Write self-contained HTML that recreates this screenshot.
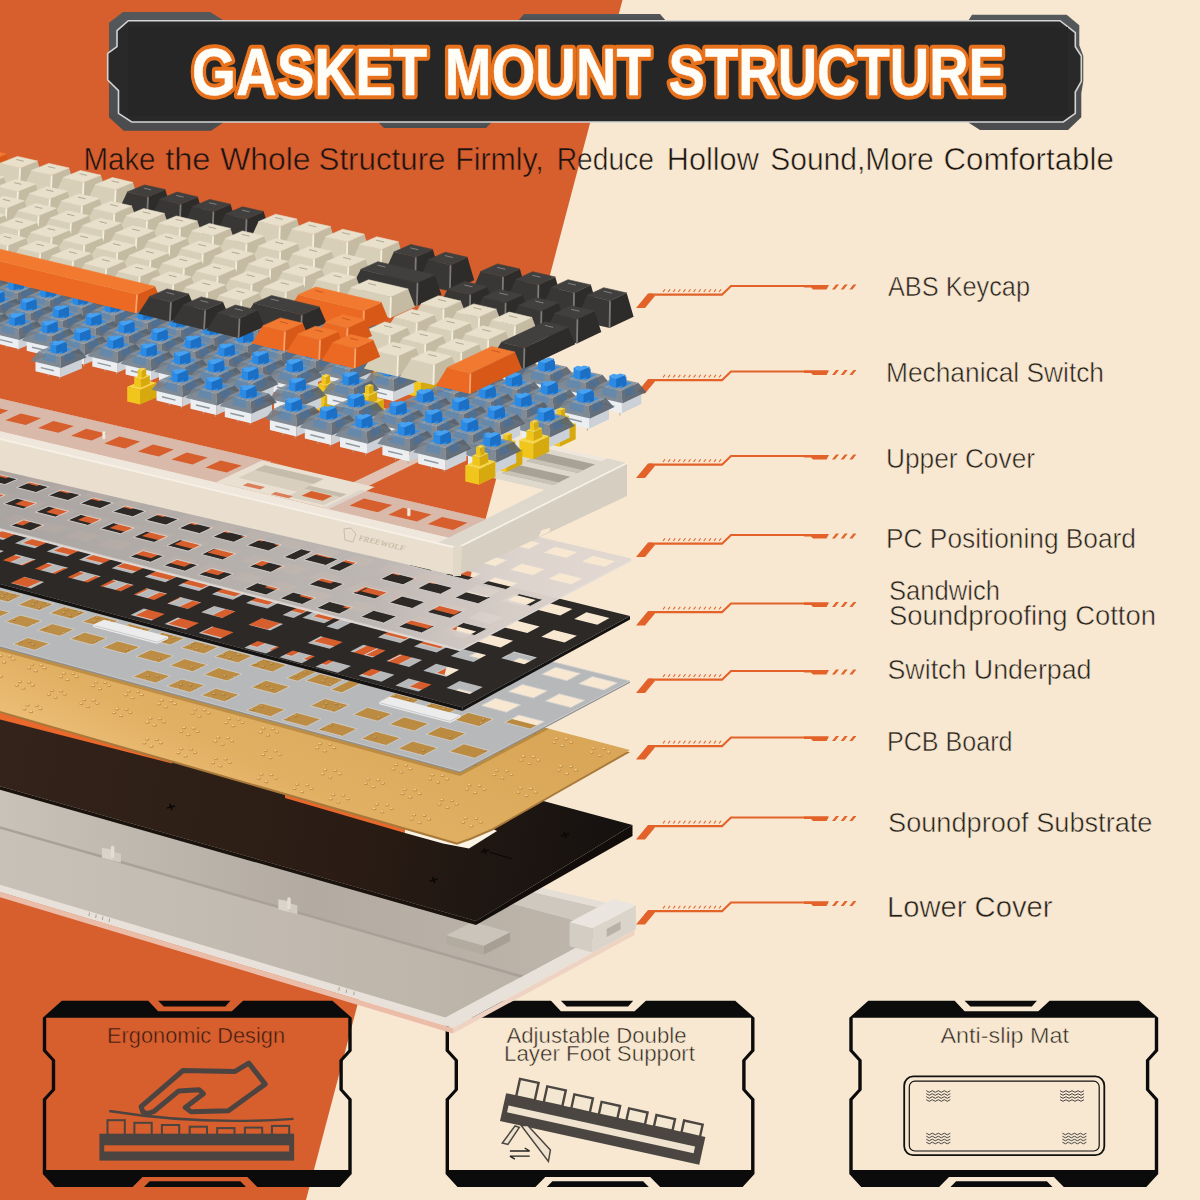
<!DOCTYPE html>
<html lang="en"><head><meta charset="utf-8"><title>Gasket Mount Structure</title>
<style>html,body{margin:0;padding:0;background:#F8E8D1;}body{width:1200px;height:1200px;overflow:hidden;}svg{display:block;}</style></head>
<body>
<svg width="1200" height="1200" viewBox="0 0 1200 1200">
<rect x="0" y="0" width="1200" height="1200" fill="#F8E8D1"/>
<polygon points="0,0 622.5,0 306,1200 0,1200" fill="#D75E2D"/>
<path d="M61.8 1000.8 L148.2 1000.8 L158.1 1011.2 L231.8 1011.2 L243.1 1000.8 L332.4 1000.8 L351.7 1017.8 L351.7 1051.0 L342.8 1060.8 L342.8 1089.2 L351.7 1099.0 L351.7 1174.0 L339.8 1187.0 L257.3 1187.0 L247.4 1177.0 L142.5 1177.0 L132.6 1187.0 L54.7 1187.0 L42.8 1174.0 L42.8 1099.0 L51.8 1089.2 L51.8 1060.8 L42.8 1051.0 L42.8 1017.8 Z M46.2 1017.8 L348.3 1017.8 L348.3 1050.0 L339.4 1060.0 L339.4 1090.0 L348.3 1100.0 L348.3 1170.0 L46.2 1170.0 L46.2 1100.0 L55.2 1090.0 L55.2 1060.0 L46.2 1050.0 Z" fill="#0b0b0b" fill-rule="evenodd"/>
<polygon fill="#0b0b0b" points="158.1,1000.8 230.4,1000.8 225.3,1006.4 163.8,1006.4"/>
<polygon fill="#0b0b0b" points="149.6,1181.3 240.3,1181.3 246.0,1187.0 144.0,1187.0"/>
<text x="107" y="1043" font-family="'Liberation Sans', sans-serif" font-size="22.5" textLength="178" lengthAdjust="spacingAndGlyphs" fill="#3a1d12" stroke="#D75E2D" stroke-width="0.5">Ergonomic Design</text>
<polygon fill="none" stroke="#4b4440" stroke-width="5" stroke-linejoin="round" points="248.8,1063.1 265.2,1084.1 228.4,1110.7 191.0,1111.8 185.3,1107.6 203.4,1093.7 198.9,1089.7 178.8,1090.9 154.1,1111.3 147.6,1113.5 142.8,1111.8 141.1,1106.7 183.0,1070.5 234.6,1071.6"/>
<path d="M109.3 1111.0 Q200.0 1125.4 293.5 1118.9" fill="none" stroke="#4b4440" stroke-width="2.4"/>
<rect x="99.4" y="1133.7" width="194.7" height="26.9" fill="#4b4440"/>
<rect x="104.2" y="1145.3" width="185.0" height="6.2" fill="#D75E2D"/>
<rect x="107.5" y="1120.2" width="17.3" height="15.9" fill="none" stroke="#4b4440" stroke-width="2"/>
<rect x="134.4" y="1122.8" width="17.3" height="13.3" fill="none" stroke="#4b4440" stroke-width="2"/>
<rect x="161.9" y="1125.0" width="17.3" height="11.1" fill="none" stroke="#4b4440" stroke-width="2"/>
<rect x="189.7" y="1126.7" width="17.3" height="9.4" fill="none" stroke="#4b4440" stroke-width="2"/>
<rect x="217.2" y="1128.1" width="17.3" height="7.9" fill="none" stroke="#4b4440" stroke-width="2"/>
<rect x="244.9" y="1127.6" width="17.3" height="8.5" fill="none" stroke="#4b4440" stroke-width="2"/>
<rect x="271.9" y="1125.9" width="17.3" height="10.2" fill="none" stroke="#4b4440" stroke-width="2"/>
<path d="M464.6 1000.8 L551.0 1000.8 L560.9 1011.2 L634.6 1011.2 L645.9 1000.8 L735.2 1000.8 L754.5 1017.8 L754.5 1051.0 L745.6 1060.8 L745.6 1089.2 L754.5 1099.0 L754.5 1174.0 L742.6 1187.0 L660.1 1187.0 L650.2 1177.0 L545.3 1177.0 L535.4 1187.0 L457.5 1187.0 L445.6 1174.0 L445.6 1099.0 L454.6 1089.2 L454.6 1060.8 L445.6 1051.0 L445.6 1017.8 Z M449.0 1017.8 L751.1 1017.8 L751.1 1050.0 L742.2 1060.0 L742.2 1090.0 L751.1 1100.0 L751.1 1170.0 L449.0 1170.0 L449.0 1100.0 L458.0 1090.0 L458.0 1060.0 L449.0 1050.0 Z" fill="#0b0b0b" fill-rule="evenodd"/>
<polygon fill="#0b0b0b" points="560.9,1000.8 633.2,1000.8 628.1,1006.4 566.6,1006.4"/>
<polygon fill="#0b0b0b" points="552.4,1181.3 643.1,1181.3 648.8,1187.0 546.8,1187.0"/>
<text x="506.5" y="1042.5" font-family="'Liberation Sans', sans-serif" font-size="22.5" textLength="180" lengthAdjust="spacingAndGlyphs" fill="#2a2421" stroke="#F8E8D1" stroke-width="0.5">Adjustable Double</text>
<text x="504" y="1061" font-family="'Liberation Sans', sans-serif" font-size="22.5" textLength="191" lengthAdjust="spacingAndGlyphs" fill="#2a2421" stroke="#F8E8D1" stroke-width="0.5">Layer Foot Support</text>
<g transform="translate(507.1,1093.4) rotate(12.4)">
<rect x="-1" y="0" width="204" height="28.5" fill="#4b4641"/>
<rect x="4" y="11.5" width="191" height="7" fill="#EFE3CF"/>
<rect x="9.5" y="-17.0" width="19" height="18.0" fill="#F4E7D2" stroke="#4b4641" stroke-width="2.4"/>
<rect x="37.7" y="-15.5" width="19" height="16.5" fill="#F4E7D2" stroke="#4b4641" stroke-width="2.4"/>
<rect x="65.9" y="-13.5" width="19" height="14.5" fill="#F4E7D2" stroke="#4b4641" stroke-width="2.4"/>
<rect x="94.1" y="-12.0" width="19" height="13.0" fill="#F4E7D2" stroke="#4b4641" stroke-width="2.4"/>
<rect x="122.3" y="-11.5" width="19" height="12.5" fill="#F4E7D2" stroke="#4b4641" stroke-width="2.4"/>
<rect x="150.5" y="-11.0" width="19" height="12.0" fill="#F4E7D2" stroke="#4b4641" stroke-width="2.4"/>
<rect x="178.7" y="-11.5" width="19" height="12.5" fill="#F4E7D2" stroke="#4b4641" stroke-width="2.4"/>
</g>
<polygon fill="#EFE3CF" stroke="#4b4641" stroke-width="1.5" points="515.0,1126.0 502.3,1143.0 507.9,1144.4 519.3,1127.4"/>
<polygon fill="#EFE3CF" stroke="#4b4641" stroke-width="1.5" points="521.2,1125.4 527.8,1125.4 550.4,1150.1 548.4,1161.4"/>
<path d="M509.9 1151.0 H529.7 M524.7 1148.0 L529.7 1151.0" stroke="#222" stroke-width="1.4" fill="none"/>
<path d="M529.7 1156.1 H509.9 M514.9 1159.1 L509.9 1156.1" stroke="#222" stroke-width="1.4" fill="none"/>
<path d="M868.3 1000.8 L954.7 1000.8 L964.6 1011.2 L1038.3 1011.2 L1049.6 1000.8 L1138.9 1000.8 L1158.2 1017.8 L1158.2 1051.0 L1149.3 1060.8 L1149.3 1089.2 L1158.2 1099.0 L1158.2 1174.0 L1146.3 1187.0 L1063.8 1187.0 L1053.9 1177.0 L949.0 1177.0 L939.1 1187.0 L861.2 1187.0 L849.3 1174.0 L849.3 1099.0 L858.3 1089.2 L858.3 1060.8 L849.3 1051.0 L849.3 1017.8 Z M852.7 1017.8 L1154.8 1017.8 L1154.8 1050.0 L1145.9 1060.0 L1145.9 1090.0 L1154.8 1100.0 L1154.8 1170.0 L852.7 1170.0 L852.7 1100.0 L861.7 1090.0 L861.7 1060.0 L852.7 1050.0 Z" fill="#0b0b0b" fill-rule="evenodd"/>
<polygon fill="#0b0b0b" points="964.6,1000.8 1036.9,1000.8 1031.8,1006.4 970.3,1006.4"/>
<polygon fill="#0b0b0b" points="956.1,1181.3 1046.8,1181.3 1052.5,1187.0 950.5,1187.0"/>
<text x="940.5" y="1043" font-family="'Liberation Sans', sans-serif" font-size="22.5" textLength="128.5" lengthAdjust="spacingAndGlyphs" fill="#2a2421" stroke="#F8E8D1" stroke-width="0.5">Anti-slip Mat</text>
<rect x="904.2" y="1076.4" width="200.1" height="78.8" rx="9" fill="none" stroke="#111" stroke-width="1.8"/>
<rect x="909.3" y="1081.2" width="189.9" height="69.8" rx="5.5" fill="none" stroke="#111" stroke-width="1.2"/>
<path d="M926.3 1090.7 L929.3 1092.3 L932.3 1090.7 L935.3 1092.3 L938.3 1090.7 L941.3 1092.3 L944.3 1090.7 L947.3 1092.3 L950.3 1090.7" fill="none" stroke="#333" stroke-width="0.9"/>
<path d="M926.3 1093.7 L929.3 1095.3 L932.3 1093.7 L935.3 1095.3 L938.3 1093.7 L941.3 1095.3 L944.3 1093.7 L947.3 1095.3 L950.3 1093.7" fill="none" stroke="#333" stroke-width="0.9"/>
<path d="M926.3 1096.7 L929.3 1098.3 L932.3 1096.7 L935.3 1098.3 L938.3 1096.7 L941.3 1098.3 L944.3 1096.7 L947.3 1098.3 L950.3 1096.7" fill="none" stroke="#333" stroke-width="0.9"/>
<path d="M926.3 1099.7 L929.3 1101.3 L932.3 1099.7 L935.3 1101.3 L938.3 1099.7 L941.3 1101.3 L944.3 1099.7 L947.3 1101.3 L950.3 1099.7" fill="none" stroke="#333" stroke-width="0.9"/>
<path d="M1060.0 1090.7 L1063.0 1092.3 L1066.0 1090.7 L1069.0 1092.3 L1072.0 1090.7 L1075.0 1092.3 L1078.0 1090.7 L1081.0 1092.3 L1084.0 1090.7" fill="none" stroke="#333" stroke-width="0.9"/>
<path d="M1060.0 1093.7 L1063.0 1095.3 L1066.0 1093.7 L1069.0 1095.3 L1072.0 1093.7 L1075.0 1095.3 L1078.0 1093.7 L1081.0 1095.3 L1084.0 1093.7" fill="none" stroke="#333" stroke-width="0.9"/>
<path d="M1060.0 1096.7 L1063.0 1098.3 L1066.0 1096.7 L1069.0 1098.3 L1072.0 1096.7 L1075.0 1098.3 L1078.0 1096.7 L1081.0 1098.3 L1084.0 1096.7" fill="none" stroke="#333" stroke-width="0.9"/>
<path d="M1060.0 1099.7 L1063.0 1101.3 L1066.0 1099.7 L1069.0 1101.3 L1072.0 1099.7 L1075.0 1101.3 L1078.0 1099.7 L1081.0 1101.3 L1084.0 1099.7" fill="none" stroke="#333" stroke-width="0.9"/>
<path d="M926.3 1133.2 L929.3 1134.8 L932.3 1133.2 L935.3 1134.8 L938.3 1133.2 L941.3 1134.8 L944.3 1133.2 L947.3 1134.8 L950.3 1133.2" fill="none" stroke="#333" stroke-width="0.9"/>
<path d="M926.3 1136.2 L929.3 1137.8 L932.3 1136.2 L935.3 1137.8 L938.3 1136.2 L941.3 1137.8 L944.3 1136.2 L947.3 1137.8 L950.3 1136.2" fill="none" stroke="#333" stroke-width="0.9"/>
<path d="M926.3 1139.2 L929.3 1140.8 L932.3 1139.2 L935.3 1140.8 L938.3 1139.2 L941.3 1140.8 L944.3 1139.2 L947.3 1140.8 L950.3 1139.2" fill="none" stroke="#333" stroke-width="0.9"/>
<path d="M926.3 1142.2 L929.3 1143.8 L932.3 1142.2 L935.3 1143.8 L938.3 1142.2 L941.3 1143.8 L944.3 1142.2 L947.3 1143.8 L950.3 1142.2" fill="none" stroke="#333" stroke-width="0.9"/>
<path d="M1062.4 1133.2 L1065.4 1134.8 L1068.4 1133.2 L1071.4 1134.8 L1074.4 1133.2 L1077.4 1134.8 L1080.4 1133.2 L1083.4 1134.8 L1086.4 1133.2" fill="none" stroke="#333" stroke-width="0.9"/>
<path d="M1062.4 1136.2 L1065.4 1137.8 L1068.4 1136.2 L1071.4 1137.8 L1074.4 1136.2 L1077.4 1137.8 L1080.4 1136.2 L1083.4 1137.8 L1086.4 1136.2" fill="none" stroke="#333" stroke-width="0.9"/>
<path d="M1062.4 1139.2 L1065.4 1140.8 L1068.4 1139.2 L1071.4 1140.8 L1074.4 1139.2 L1077.4 1140.8 L1080.4 1139.2 L1083.4 1140.8 L1086.4 1139.2" fill="none" stroke="#333" stroke-width="0.9"/>
<path d="M1062.4 1142.2 L1065.4 1143.8 L1068.4 1142.2 L1071.4 1143.8 L1074.4 1142.2 L1077.4 1143.8 L1080.4 1142.2 L1083.4 1143.8 L1086.4 1142.2" fill="none" stroke="#333" stroke-width="0.9"/>
<polygon fill="#E2622A" points="636.0,308.0 645.0,308.0 655.0,296.0 652.0,293.5 648.0,293.5"/>
<polyline fill="none" stroke="#E2622A" stroke-width="2.2" points="645.0,299.0 650.0,294.7 722.0,294.7 731.0,286.0 828.0,286.0"/>
<polygon fill="#E2622A" points="804.0,285.0 829.0,285.0 826.5,289.5 813.0,289.5 811.0,287.5 804.0,287.5"/>
<polygon fill="#E2622A" points="832.0,289.5 835.0,289.5 839.0,284.5 836.0,284.5"/>
<polygon fill="#E2622A" points="840.7,289.5 843.7,289.5 847.7,284.5 844.7,284.5"/>
<polygon fill="#E2622A" points="849.4,289.5 852.4,289.5 856.4,284.5 853.4,284.5"/>
<line x1="663.0" y1="292.0" x2="665.0" y2="289.2" stroke="#E2622A" stroke-width="1.1"/>
<line x1="668.1" y1="292.0" x2="670.1" y2="289.2" stroke="#E2622A" stroke-width="1.1"/>
<line x1="673.2" y1="292.0" x2="675.2" y2="289.2" stroke="#E2622A" stroke-width="1.1"/>
<line x1="678.3" y1="292.0" x2="680.3" y2="289.2" stroke="#E2622A" stroke-width="1.1"/>
<line x1="683.4" y1="292.0" x2="685.4" y2="289.2" stroke="#E2622A" stroke-width="1.1"/>
<line x1="688.5" y1="292.0" x2="690.5" y2="289.2" stroke="#E2622A" stroke-width="1.1"/>
<line x1="693.6" y1="292.0" x2="695.6" y2="289.2" stroke="#E2622A" stroke-width="1.1"/>
<line x1="698.7" y1="292.0" x2="700.7" y2="289.2" stroke="#E2622A" stroke-width="1.1"/>
<line x1="703.8" y1="292.0" x2="705.8" y2="289.2" stroke="#E2622A" stroke-width="1.1"/>
<line x1="708.9" y1="292.0" x2="710.9" y2="289.2" stroke="#E2622A" stroke-width="1.1"/>
<line x1="714.0" y1="292.0" x2="716.0" y2="289.2" stroke="#E2622A" stroke-width="1.1"/>
<line x1="719.1" y1="292.0" x2="721.1" y2="289.2" stroke="#E2622A" stroke-width="1.1"/>
<polygon fill="#E2622A" points="636.0,393.5 645.0,393.5 655.0,381.5 652.0,379.0 648.0,379.0"/>
<polyline fill="none" stroke="#E2622A" stroke-width="2.2" points="645.0,384.5 650.0,380.2 722.0,380.2 731.0,371.5 828.0,371.5"/>
<polygon fill="#E2622A" points="804.0,370.5 829.0,370.5 826.5,375.0 813.0,375.0 811.0,373.0 804.0,373.0"/>
<polygon fill="#E2622A" points="832.0,375.0 835.0,375.0 839.0,370.0 836.0,370.0"/>
<polygon fill="#E2622A" points="840.7,375.0 843.7,375.0 847.7,370.0 844.7,370.0"/>
<polygon fill="#E2622A" points="849.4,375.0 852.4,375.0 856.4,370.0 853.4,370.0"/>
<line x1="663.0" y1="377.5" x2="665.0" y2="374.7" stroke="#E2622A" stroke-width="1.1"/>
<line x1="668.1" y1="377.5" x2="670.1" y2="374.7" stroke="#E2622A" stroke-width="1.1"/>
<line x1="673.2" y1="377.5" x2="675.2" y2="374.7" stroke="#E2622A" stroke-width="1.1"/>
<line x1="678.3" y1="377.5" x2="680.3" y2="374.7" stroke="#E2622A" stroke-width="1.1"/>
<line x1="683.4" y1="377.5" x2="685.4" y2="374.7" stroke="#E2622A" stroke-width="1.1"/>
<line x1="688.5" y1="377.5" x2="690.5" y2="374.7" stroke="#E2622A" stroke-width="1.1"/>
<line x1="693.6" y1="377.5" x2="695.6" y2="374.7" stroke="#E2622A" stroke-width="1.1"/>
<line x1="698.7" y1="377.5" x2="700.7" y2="374.7" stroke="#E2622A" stroke-width="1.1"/>
<line x1="703.8" y1="377.5" x2="705.8" y2="374.7" stroke="#E2622A" stroke-width="1.1"/>
<line x1="708.9" y1="377.5" x2="710.9" y2="374.7" stroke="#E2622A" stroke-width="1.1"/>
<line x1="714.0" y1="377.5" x2="716.0" y2="374.7" stroke="#E2622A" stroke-width="1.1"/>
<line x1="719.1" y1="377.5" x2="721.1" y2="374.7" stroke="#E2622A" stroke-width="1.1"/>
<polygon fill="#E2622A" points="636.0,478.0 645.0,478.0 655.0,466.0 652.0,463.5 648.0,463.5"/>
<polyline fill="none" stroke="#E2622A" stroke-width="2.2" points="645.0,469.0 650.0,464.7 722.0,464.7 731.0,456.0 828.0,456.0"/>
<polygon fill="#E2622A" points="804.0,455.0 829.0,455.0 826.5,459.5 813.0,459.5 811.0,457.5 804.0,457.5"/>
<polygon fill="#E2622A" points="832.0,459.5 835.0,459.5 839.0,454.5 836.0,454.5"/>
<polygon fill="#E2622A" points="840.7,459.5 843.7,459.5 847.7,454.5 844.7,454.5"/>
<polygon fill="#E2622A" points="849.4,459.5 852.4,459.5 856.4,454.5 853.4,454.5"/>
<line x1="663.0" y1="462.0" x2="665.0" y2="459.2" stroke="#E2622A" stroke-width="1.1"/>
<line x1="668.1" y1="462.0" x2="670.1" y2="459.2" stroke="#E2622A" stroke-width="1.1"/>
<line x1="673.2" y1="462.0" x2="675.2" y2="459.2" stroke="#E2622A" stroke-width="1.1"/>
<line x1="678.3" y1="462.0" x2="680.3" y2="459.2" stroke="#E2622A" stroke-width="1.1"/>
<line x1="683.4" y1="462.0" x2="685.4" y2="459.2" stroke="#E2622A" stroke-width="1.1"/>
<line x1="688.5" y1="462.0" x2="690.5" y2="459.2" stroke="#E2622A" stroke-width="1.1"/>
<line x1="693.6" y1="462.0" x2="695.6" y2="459.2" stroke="#E2622A" stroke-width="1.1"/>
<line x1="698.7" y1="462.0" x2="700.7" y2="459.2" stroke="#E2622A" stroke-width="1.1"/>
<line x1="703.8" y1="462.0" x2="705.8" y2="459.2" stroke="#E2622A" stroke-width="1.1"/>
<line x1="708.9" y1="462.0" x2="710.9" y2="459.2" stroke="#E2622A" stroke-width="1.1"/>
<line x1="714.0" y1="462.0" x2="716.0" y2="459.2" stroke="#E2622A" stroke-width="1.1"/>
<line x1="719.1" y1="462.0" x2="721.1" y2="459.2" stroke="#E2622A" stroke-width="1.1"/>
<polygon fill="#E2622A" points="636.0,557.0 645.0,557.0 655.0,545.0 652.0,542.5 648.0,542.5"/>
<polyline fill="none" stroke="#E2622A" stroke-width="2.2" points="645.0,548.0 650.0,543.7 722.0,543.7 731.0,535.0 828.0,535.0"/>
<polygon fill="#E2622A" points="804.0,534.0 829.0,534.0 826.5,538.5 813.0,538.5 811.0,536.5 804.0,536.5"/>
<polygon fill="#E2622A" points="832.0,538.5 835.0,538.5 839.0,533.5 836.0,533.5"/>
<polygon fill="#E2622A" points="840.7,538.5 843.7,538.5 847.7,533.5 844.7,533.5"/>
<polygon fill="#E2622A" points="849.4,538.5 852.4,538.5 856.4,533.5 853.4,533.5"/>
<line x1="663.0" y1="541.0" x2="665.0" y2="538.2" stroke="#E2622A" stroke-width="1.1"/>
<line x1="668.1" y1="541.0" x2="670.1" y2="538.2" stroke="#E2622A" stroke-width="1.1"/>
<line x1="673.2" y1="541.0" x2="675.2" y2="538.2" stroke="#E2622A" stroke-width="1.1"/>
<line x1="678.3" y1="541.0" x2="680.3" y2="538.2" stroke="#E2622A" stroke-width="1.1"/>
<line x1="683.4" y1="541.0" x2="685.4" y2="538.2" stroke="#E2622A" stroke-width="1.1"/>
<line x1="688.5" y1="541.0" x2="690.5" y2="538.2" stroke="#E2622A" stroke-width="1.1"/>
<line x1="693.6" y1="541.0" x2="695.6" y2="538.2" stroke="#E2622A" stroke-width="1.1"/>
<line x1="698.7" y1="541.0" x2="700.7" y2="538.2" stroke="#E2622A" stroke-width="1.1"/>
<line x1="703.8" y1="541.0" x2="705.8" y2="538.2" stroke="#E2622A" stroke-width="1.1"/>
<line x1="708.9" y1="541.0" x2="710.9" y2="538.2" stroke="#E2622A" stroke-width="1.1"/>
<line x1="714.0" y1="541.0" x2="716.0" y2="538.2" stroke="#E2622A" stroke-width="1.1"/>
<line x1="719.1" y1="541.0" x2="721.1" y2="538.2" stroke="#E2622A" stroke-width="1.1"/>
<polygon fill="#E2622A" points="636.0,625.5 645.0,625.5 655.0,613.5 652.0,611.0 648.0,611.0"/>
<polyline fill="none" stroke="#E2622A" stroke-width="2.2" points="645.0,616.5 650.0,612.2 722.0,612.2 731.0,603.5 828.0,603.5"/>
<polygon fill="#E2622A" points="804.0,602.5 829.0,602.5 826.5,607.0 813.0,607.0 811.0,605.0 804.0,605.0"/>
<polygon fill="#E2622A" points="832.0,607.0 835.0,607.0 839.0,602.0 836.0,602.0"/>
<polygon fill="#E2622A" points="840.7,607.0 843.7,607.0 847.7,602.0 844.7,602.0"/>
<polygon fill="#E2622A" points="849.4,607.0 852.4,607.0 856.4,602.0 853.4,602.0"/>
<line x1="663.0" y1="609.5" x2="665.0" y2="606.7" stroke="#E2622A" stroke-width="1.1"/>
<line x1="668.1" y1="609.5" x2="670.1" y2="606.7" stroke="#E2622A" stroke-width="1.1"/>
<line x1="673.2" y1="609.5" x2="675.2" y2="606.7" stroke="#E2622A" stroke-width="1.1"/>
<line x1="678.3" y1="609.5" x2="680.3" y2="606.7" stroke="#E2622A" stroke-width="1.1"/>
<line x1="683.4" y1="609.5" x2="685.4" y2="606.7" stroke="#E2622A" stroke-width="1.1"/>
<line x1="688.5" y1="609.5" x2="690.5" y2="606.7" stroke="#E2622A" stroke-width="1.1"/>
<line x1="693.6" y1="609.5" x2="695.6" y2="606.7" stroke="#E2622A" stroke-width="1.1"/>
<line x1="698.7" y1="609.5" x2="700.7" y2="606.7" stroke="#E2622A" stroke-width="1.1"/>
<line x1="703.8" y1="609.5" x2="705.8" y2="606.7" stroke="#E2622A" stroke-width="1.1"/>
<line x1="708.9" y1="609.5" x2="710.9" y2="606.7" stroke="#E2622A" stroke-width="1.1"/>
<line x1="714.0" y1="609.5" x2="716.0" y2="606.7" stroke="#E2622A" stroke-width="1.1"/>
<line x1="719.1" y1="609.5" x2="721.1" y2="606.7" stroke="#E2622A" stroke-width="1.1"/>
<polygon fill="#E2622A" points="636.0,693.0 645.0,693.0 655.0,681.0 652.0,678.5 648.0,678.5"/>
<polyline fill="none" stroke="#E2622A" stroke-width="2.2" points="645.0,684.0 650.0,679.7 722.0,679.7 731.0,671.0 828.0,671.0"/>
<polygon fill="#E2622A" points="804.0,670.0 829.0,670.0 826.5,674.5 813.0,674.5 811.0,672.5 804.0,672.5"/>
<polygon fill="#E2622A" points="832.0,674.5 835.0,674.5 839.0,669.5 836.0,669.5"/>
<polygon fill="#E2622A" points="840.7,674.5 843.7,674.5 847.7,669.5 844.7,669.5"/>
<polygon fill="#E2622A" points="849.4,674.5 852.4,674.5 856.4,669.5 853.4,669.5"/>
<line x1="663.0" y1="677.0" x2="665.0" y2="674.2" stroke="#E2622A" stroke-width="1.1"/>
<line x1="668.1" y1="677.0" x2="670.1" y2="674.2" stroke="#E2622A" stroke-width="1.1"/>
<line x1="673.2" y1="677.0" x2="675.2" y2="674.2" stroke="#E2622A" stroke-width="1.1"/>
<line x1="678.3" y1="677.0" x2="680.3" y2="674.2" stroke="#E2622A" stroke-width="1.1"/>
<line x1="683.4" y1="677.0" x2="685.4" y2="674.2" stroke="#E2622A" stroke-width="1.1"/>
<line x1="688.5" y1="677.0" x2="690.5" y2="674.2" stroke="#E2622A" stroke-width="1.1"/>
<line x1="693.6" y1="677.0" x2="695.6" y2="674.2" stroke="#E2622A" stroke-width="1.1"/>
<line x1="698.7" y1="677.0" x2="700.7" y2="674.2" stroke="#E2622A" stroke-width="1.1"/>
<line x1="703.8" y1="677.0" x2="705.8" y2="674.2" stroke="#E2622A" stroke-width="1.1"/>
<line x1="708.9" y1="677.0" x2="710.9" y2="674.2" stroke="#E2622A" stroke-width="1.1"/>
<line x1="714.0" y1="677.0" x2="716.0" y2="674.2" stroke="#E2622A" stroke-width="1.1"/>
<line x1="719.1" y1="677.0" x2="721.1" y2="674.2" stroke="#E2622A" stroke-width="1.1"/>
<polygon fill="#E2622A" points="636.0,759.5 645.0,759.5 655.0,747.5 652.0,745.0 648.0,745.0"/>
<polyline fill="none" stroke="#E2622A" stroke-width="2.2" points="645.0,750.5 650.0,746.2 722.0,746.2 731.0,737.5 828.0,737.5"/>
<polygon fill="#E2622A" points="804.0,736.5 829.0,736.5 826.5,741.0 813.0,741.0 811.0,739.0 804.0,739.0"/>
<polygon fill="#E2622A" points="832.0,741.0 835.0,741.0 839.0,736.0 836.0,736.0"/>
<polygon fill="#E2622A" points="840.7,741.0 843.7,741.0 847.7,736.0 844.7,736.0"/>
<polygon fill="#E2622A" points="849.4,741.0 852.4,741.0 856.4,736.0 853.4,736.0"/>
<line x1="663.0" y1="743.5" x2="665.0" y2="740.7" stroke="#E2622A" stroke-width="1.1"/>
<line x1="668.1" y1="743.5" x2="670.1" y2="740.7" stroke="#E2622A" stroke-width="1.1"/>
<line x1="673.2" y1="743.5" x2="675.2" y2="740.7" stroke="#E2622A" stroke-width="1.1"/>
<line x1="678.3" y1="743.5" x2="680.3" y2="740.7" stroke="#E2622A" stroke-width="1.1"/>
<line x1="683.4" y1="743.5" x2="685.4" y2="740.7" stroke="#E2622A" stroke-width="1.1"/>
<line x1="688.5" y1="743.5" x2="690.5" y2="740.7" stroke="#E2622A" stroke-width="1.1"/>
<line x1="693.6" y1="743.5" x2="695.6" y2="740.7" stroke="#E2622A" stroke-width="1.1"/>
<line x1="698.7" y1="743.5" x2="700.7" y2="740.7" stroke="#E2622A" stroke-width="1.1"/>
<line x1="703.8" y1="743.5" x2="705.8" y2="740.7" stroke="#E2622A" stroke-width="1.1"/>
<line x1="708.9" y1="743.5" x2="710.9" y2="740.7" stroke="#E2622A" stroke-width="1.1"/>
<line x1="714.0" y1="743.5" x2="716.0" y2="740.7" stroke="#E2622A" stroke-width="1.1"/>
<line x1="719.1" y1="743.5" x2="721.1" y2="740.7" stroke="#E2622A" stroke-width="1.1"/>
<polygon fill="#E2622A" points="636.0,839.5 645.0,839.5 655.0,827.5 652.0,825.0 648.0,825.0"/>
<polyline fill="none" stroke="#E2622A" stroke-width="2.2" points="645.0,830.5 650.0,826.2 722.0,826.2 731.0,817.5 828.0,817.5"/>
<polygon fill="#E2622A" points="804.0,816.5 829.0,816.5 826.5,821.0 813.0,821.0 811.0,819.0 804.0,819.0"/>
<polygon fill="#E2622A" points="832.0,821.0 835.0,821.0 839.0,816.0 836.0,816.0"/>
<polygon fill="#E2622A" points="840.7,821.0 843.7,821.0 847.7,816.0 844.7,816.0"/>
<polygon fill="#E2622A" points="849.4,821.0 852.4,821.0 856.4,816.0 853.4,816.0"/>
<line x1="663.0" y1="823.5" x2="665.0" y2="820.7" stroke="#E2622A" stroke-width="1.1"/>
<line x1="668.1" y1="823.5" x2="670.1" y2="820.7" stroke="#E2622A" stroke-width="1.1"/>
<line x1="673.2" y1="823.5" x2="675.2" y2="820.7" stroke="#E2622A" stroke-width="1.1"/>
<line x1="678.3" y1="823.5" x2="680.3" y2="820.7" stroke="#E2622A" stroke-width="1.1"/>
<line x1="683.4" y1="823.5" x2="685.4" y2="820.7" stroke="#E2622A" stroke-width="1.1"/>
<line x1="688.5" y1="823.5" x2="690.5" y2="820.7" stroke="#E2622A" stroke-width="1.1"/>
<line x1="693.6" y1="823.5" x2="695.6" y2="820.7" stroke="#E2622A" stroke-width="1.1"/>
<line x1="698.7" y1="823.5" x2="700.7" y2="820.7" stroke="#E2622A" stroke-width="1.1"/>
<line x1="703.8" y1="823.5" x2="705.8" y2="820.7" stroke="#E2622A" stroke-width="1.1"/>
<line x1="708.9" y1="823.5" x2="710.9" y2="820.7" stroke="#E2622A" stroke-width="1.1"/>
<line x1="714.0" y1="823.5" x2="716.0" y2="820.7" stroke="#E2622A" stroke-width="1.1"/>
<line x1="719.1" y1="823.5" x2="721.1" y2="820.7" stroke="#E2622A" stroke-width="1.1"/>
<polygon fill="#E2622A" points="636.0,924.5 645.0,924.5 655.0,912.5 652.0,910.0 648.0,910.0"/>
<polyline fill="none" stroke="#E2622A" stroke-width="2.2" points="645.0,915.5 650.0,911.2 722.0,911.2 731.0,902.5 828.0,902.5"/>
<polygon fill="#E2622A" points="804.0,901.5 829.0,901.5 826.5,906.0 813.0,906.0 811.0,904.0 804.0,904.0"/>
<polygon fill="#E2622A" points="832.0,906.0 835.0,906.0 839.0,901.0 836.0,901.0"/>
<polygon fill="#E2622A" points="840.7,906.0 843.7,906.0 847.7,901.0 844.7,901.0"/>
<polygon fill="#E2622A" points="849.4,906.0 852.4,906.0 856.4,901.0 853.4,901.0"/>
<line x1="663.0" y1="908.5" x2="665.0" y2="905.7" stroke="#E2622A" stroke-width="1.1"/>
<line x1="668.1" y1="908.5" x2="670.1" y2="905.7" stroke="#E2622A" stroke-width="1.1"/>
<line x1="673.2" y1="908.5" x2="675.2" y2="905.7" stroke="#E2622A" stroke-width="1.1"/>
<line x1="678.3" y1="908.5" x2="680.3" y2="905.7" stroke="#E2622A" stroke-width="1.1"/>
<line x1="683.4" y1="908.5" x2="685.4" y2="905.7" stroke="#E2622A" stroke-width="1.1"/>
<line x1="688.5" y1="908.5" x2="690.5" y2="905.7" stroke="#E2622A" stroke-width="1.1"/>
<line x1="693.6" y1="908.5" x2="695.6" y2="905.7" stroke="#E2622A" stroke-width="1.1"/>
<line x1="698.7" y1="908.5" x2="700.7" y2="905.7" stroke="#E2622A" stroke-width="1.1"/>
<line x1="703.8" y1="908.5" x2="705.8" y2="905.7" stroke="#E2622A" stroke-width="1.1"/>
<line x1="708.9" y1="908.5" x2="710.9" y2="905.7" stroke="#E2622A" stroke-width="1.1"/>
<line x1="714.0" y1="908.5" x2="716.0" y2="905.7" stroke="#E2622A" stroke-width="1.1"/>
<line x1="719.1" y1="908.5" x2="721.1" y2="905.7" stroke="#E2622A" stroke-width="1.1"/>
<defs>
<linearGradient id="gpcb" gradientUnits="userSpaceOnUse" x1="300" y1="640" x2="200" y2="860"><stop offset="0" stop-color="#D9A757"/><stop offset="0.55" stop-color="#E2B063"/><stop offset="1" stop-color="#F2C988"/></linearGradient>
<linearGradient id="gsub" gradientUnits="userSpaceOnUse" x1="0" y1="760" x2="600" y2="880"><stop offset="0" stop-color="#33231a"/><stop offset="0.6" stop-color="#2a1c14"/><stop offset="1" stop-color="#161210"/></linearGradient>
<linearGradient id="gplate" gradientUnits="userSpaceOnUse" x1="0" y1="500" x2="640" y2="600"><stop offset="0" stop-color="#AEA9A6"/><stop offset="0.6" stop-color="#C2BCB8"/><stop offset="0.8" stop-color="#DDD3CD"/><stop offset="1" stop-color="#E4D9D2"/></linearGradient>
</defs>
<defs><linearGradient id="gfloor" gradientUnits="userSpaceOnUse" x1="0" y1="0" x2="620" y2="0"><stop offset="0" stop-color="#C8C1B7"/><stop offset="1" stop-color="#B9B0A5"/></linearGradient><linearGradient id="gwall" gradientUnits="userSpaceOnUse" x1="0" y1="0" x2="620" y2="0"><stop offset="0" stop-color="#C9C2B8"/><stop offset="0.5" stop-color="#B3ABA1"/><stop offset="1" stop-color="#BFB7AC"/></linearGradient></defs>
<polygon points="-234.0,821.9 453.0,1028.0 453.0,1033.5 -234.0,826.9" fill="#EBBDA8" />
<polygon points="634.5,930.0 453.0,1028.0 453.0,1033.5 634.5,935.0" fill="#EED3C3" />
<polygon points="-47.5,745.9 634.5,930.0 453.0,1028.0 -234.0,821.9" fill="#E7E1D9" />
<polygon points="-56.1,749.4 609.0,929.8 445.3,1017.5 -224.1,817.8" fill="url(#gfloor)" />
<polygon points="-56.1,749.4 609.0,929.8 522.1,976.3 -145.4,785.8" fill="url(#gwall)" />
<polygon points="-143.9,785.2 523.6,975.6 520.1,977.4 -147.5,786.6" fill="#A9A198" />
<polygon points="101.9,847.7 112.9,849.7 112.9,860.7 101.9,857.7" fill="#D9D3CA" />
<polygon points="112.9,851.7 120.9,853.7 120.9,862.7 112.9,860.7" fill="#D2CBC2" />
<rect x="110.9" y="845.7" width="3.4" height="12" rx="1.5" fill="#E3DDD5"/>
<polygon points="278.3,899.2 289.3,901.2 289.3,912.2 278.3,909.2" fill="#D9D3CA" />
<polygon points="289.3,903.2 297.3,905.2 297.3,914.2 289.3,912.2" fill="#D2CBC2" />
<rect x="287.3" y="897.2" width="3.4" height="12" rx="1.5" fill="#E3DDD5"/>
<polygon points="-31.5,808.7 -20.5,810.7 -20.5,821.7 -31.5,818.7" fill="#D9D3CA" />
<polygon points="-20.5,812.7 -12.5,814.7 -12.5,823.7 -20.5,821.7" fill="#D2CBC2" />
<rect x="-22.5" y="806.7" width="3.4" height="12" rx="1.5" fill="#E3DDD5"/>
<polygon points="446.5,944.2 483.9,954.8 483.9,945.8 446.5,935.2" fill="#B3AB9F" />
<polygon points="509.9,941.2 483.9,954.8 483.9,945.8 509.9,932.2" fill="#A79F93" />
<polygon points="472.6,921.8 509.9,932.2 483.9,945.8 446.5,935.2" fill="#CBC4BA" />
<polygon points="506.1,901.9 607.0,929.3 607.0,909.3 506.1,885.9" fill="#CFC8BE" />
<polygon points="506.1,885.9 607.0,909.3 615.4,904.8 514.4,881.6" fill="#E4DED6" />
<polygon points="569.6,946.3 592.6,952.6 592.6,928.6 569.6,922.3" fill="#D4CDC4" />
<polygon points="635.9,929.3 592.6,952.6 592.6,928.6 635.9,905.3" fill="#DAD4CB" />
<polygon points="612.9,899.1 635.9,905.3 592.6,928.6 569.6,922.3" fill="#EAE5DE" />
<polygon points="620.6,929.5 606.7,937.0 606.7,929.0 620.6,921.5" fill="#B9B1A6" />
<line x1="89.0" y1="916.0" x2="89.5" y2="912.5" stroke="#a9a299" stroke-width="1"/>
<line x1="95.7" y1="918.0" x2="96.2" y2="914.5" stroke="#a9a299" stroke-width="1"/>
<line x1="102.4" y1="920.0" x2="102.9" y2="916.5" stroke="#a9a299" stroke-width="1"/>
<line x1="109.1" y1="922.0" x2="109.6" y2="918.5" stroke="#a9a299" stroke-width="1"/>
<line x1="338.8" y1="990.7" x2="339.3" y2="987.2" stroke="#a9a299" stroke-width="1"/>
<line x1="346.2" y1="993.0" x2="346.7" y2="989.5" stroke="#a9a299" stroke-width="1"/>
<line x1="353.7" y1="995.2" x2="354.2" y2="991.7" stroke="#a9a299" stroke-width="1"/>
<polygon points="632.5,825.0 476.0,921.0 476.0,925.0 632.5,836.0" fill="#120d0a" />
<polygon points="-213.6,725.9 476.0,921.0 476.0,925.0 -213.6,728.9" fill="#1a120d" />
<polygon points="-51.9,640.2 632.5,825.0 476.0,921.0 -213.6,725.9" fill="url(#gsub)"/>
<path d="M429.7 881 L437.7 879 M432.7 877 L434.7 883" stroke="#0a0806" stroke-width="1.6"/>
<path d="M561 836 L569 834 M564 832 L566 838" stroke="#0a0806" stroke-width="1.6"/>
<path d="M481 852 L489 850 M484 848 L486 854" stroke="#0a0806" stroke-width="1.6"/>
<path d="M167 808 L175 806 M170 804 L172 810" stroke="#0a0806" stroke-width="1.6"/>
<path d="M489 852 L512 859" stroke="#0a0806" stroke-width="1"/>
<polygon points="-2.0,710.1 172.0,760.1 172.0,763.6 -2.0,719.1" fill="#E8692B" />
<polygon points="285.0,792.5 405.0,826.9 405.0,832.9 285.0,798.0" fill="#E8692B" />
<polygon points="405.0,826.9 445.0,838.4 471.0,838.0 493.0,829.0 497.0,831.0 469.0,848.5 443.0,843.5 405.0,832.9" fill="#FBF3E4" />
<polygon points="-52.4,573.4 630.0,752.2 492.0,830.7 471.0,839.7 457.0,844.7 -226.5,647.9" fill="#A8793A" />
<polygon points="-52.4,571.2 630.0,750.0 492.0,828.5 471.0,837.5 457.0,842.5 -226.5,645.7" fill="url(#gpcb)"/>
<ellipse cx="5.6" cy="593.6" rx="2.1" ry="1.3" fill="#C08D42"/><ellipse cx="5.3" cy="593.1" rx="1.5" ry="0.8" fill="#F2CF92"/>
<ellipse cx="14.3" cy="594.0" rx="2.1" ry="1.3" fill="#C08D42"/><ellipse cx="14.0" cy="593.5" rx="1.5" ry="0.8" fill="#F2CF92"/>
<ellipse cx="17.7" cy="596.7" rx="2.1" ry="1.3" fill="#C08D42"/><ellipse cx="17.4" cy="596.2" rx="1.5" ry="0.8" fill="#F2CF92"/>
<ellipse cx="2.7" cy="596.9" rx="2.1" ry="1.3" fill="#C08D42"/><ellipse cx="2.4" cy="596.4" rx="1.5" ry="0.8" fill="#F2CF92"/>
<ellipse cx="8.9" cy="599.5" rx="2.1" ry="1.3" fill="#C08D42"/><ellipse cx="8.6" cy="599.0" rx="1.5" ry="0.8" fill="#F2CF92"/>
<ellipse cx="35.9" cy="601.5" rx="2.1" ry="1.3" fill="#C08D42"/><ellipse cx="35.6" cy="601.0" rx="1.5" ry="0.8" fill="#F2CF92"/>
<ellipse cx="44.7" cy="601.9" rx="2.1" ry="1.3" fill="#C08D42"/><ellipse cx="44.4" cy="601.4" rx="1.5" ry="0.8" fill="#F2CF92"/>
<ellipse cx="48.1" cy="604.7" rx="2.1" ry="1.3" fill="#C08D42"/><ellipse cx="47.8" cy="604.2" rx="1.5" ry="0.8" fill="#F2CF92"/>
<ellipse cx="33.0" cy="605.0" rx="2.1" ry="1.3" fill="#C08D42"/><ellipse cx="32.7" cy="604.5" rx="1.5" ry="0.8" fill="#F2CF92"/>
<ellipse cx="39.3" cy="607.6" rx="2.1" ry="1.3" fill="#C08D42"/><ellipse cx="39.0" cy="607.1" rx="1.5" ry="0.8" fill="#F2CF92"/>
<ellipse cx="66.5" cy="609.6" rx="2.1" ry="1.3" fill="#C08D42"/><ellipse cx="66.2" cy="609.1" rx="1.5" ry="0.8" fill="#F2CF92"/>
<ellipse cx="75.4" cy="610.0" rx="2.1" ry="1.3" fill="#C08D42"/><ellipse cx="75.1" cy="609.5" rx="1.5" ry="0.8" fill="#F2CF92"/>
<ellipse cx="78.9" cy="612.9" rx="2.1" ry="1.3" fill="#C08D42"/><ellipse cx="78.6" cy="612.4" rx="1.5" ry="0.8" fill="#F2CF92"/>
<ellipse cx="63.7" cy="613.1" rx="2.1" ry="1.3" fill="#C08D42"/><ellipse cx="63.4" cy="612.6" rx="1.5" ry="0.8" fill="#F2CF92"/>
<ellipse cx="70.1" cy="615.7" rx="2.1" ry="1.3" fill="#C08D42"/><ellipse cx="69.8" cy="615.2" rx="1.5" ry="0.8" fill="#F2CF92"/>
<ellipse cx="97.5" cy="617.8" rx="2.1" ry="1.3" fill="#C08D42"/><ellipse cx="97.2" cy="617.3" rx="1.5" ry="0.8" fill="#F2CF92"/>
<ellipse cx="106.5" cy="618.2" rx="2.1" ry="1.3" fill="#C08D42"/><ellipse cx="106.2" cy="617.7" rx="1.5" ry="0.8" fill="#F2CF92"/>
<ellipse cx="110.0" cy="621.1" rx="2.1" ry="1.3" fill="#C08D42"/><ellipse cx="109.7" cy="620.6" rx="1.5" ry="0.8" fill="#F2CF92"/>
<ellipse cx="94.7" cy="621.3" rx="2.1" ry="1.3" fill="#C08D42"/><ellipse cx="94.4" cy="620.8" rx="1.5" ry="0.8" fill="#F2CF92"/>
<ellipse cx="101.2" cy="624.0" rx="2.1" ry="1.3" fill="#C08D42"/><ellipse cx="100.9" cy="623.5" rx="1.5" ry="0.8" fill="#F2CF92"/>
<ellipse cx="128.9" cy="626.0" rx="2.1" ry="1.3" fill="#C08D42"/><ellipse cx="128.6" cy="625.5" rx="1.5" ry="0.8" fill="#F2CF92"/>
<ellipse cx="137.9" cy="626.5" rx="2.1" ry="1.3" fill="#C08D42"/><ellipse cx="137.6" cy="626.0" rx="1.5" ry="0.8" fill="#F2CF92"/>
<ellipse cx="141.6" cy="629.4" rx="2.1" ry="1.3" fill="#C08D42"/><ellipse cx="141.3" cy="628.9" rx="1.5" ry="0.8" fill="#F2CF92"/>
<ellipse cx="126.2" cy="629.6" rx="2.1" ry="1.3" fill="#C08D42"/><ellipse cx="125.9" cy="629.1" rx="1.5" ry="0.8" fill="#F2CF92"/>
<ellipse cx="132.8" cy="632.3" rx="2.1" ry="1.3" fill="#C08D42"/><ellipse cx="132.5" cy="631.8" rx="1.5" ry="0.8" fill="#F2CF92"/>
<ellipse cx="160.7" cy="634.4" rx="2.1" ry="1.3" fill="#C08D42"/><ellipse cx="160.4" cy="633.9" rx="1.5" ry="0.8" fill="#F2CF92"/>
<ellipse cx="169.8" cy="634.9" rx="2.1" ry="1.3" fill="#C08D42"/><ellipse cx="169.5" cy="634.4" rx="1.5" ry="0.8" fill="#F2CF92"/>
<ellipse cx="173.5" cy="637.8" rx="2.1" ry="1.3" fill="#C08D42"/><ellipse cx="173.2" cy="637.3" rx="1.5" ry="0.8" fill="#F2CF92"/>
<ellipse cx="158.0" cy="638.0" rx="2.1" ry="1.3" fill="#C08D42"/><ellipse cx="157.7" cy="637.5" rx="1.5" ry="0.8" fill="#F2CF92"/>
<ellipse cx="164.7" cy="640.7" rx="2.1" ry="1.3" fill="#C08D42"/><ellipse cx="164.4" cy="640.2" rx="1.5" ry="0.8" fill="#F2CF92"/>
<ellipse cx="192.9" cy="642.9" rx="2.1" ry="1.3" fill="#C08D42"/><ellipse cx="192.6" cy="642.4" rx="1.5" ry="0.8" fill="#F2CF92"/>
<ellipse cx="202.0" cy="643.3" rx="2.1" ry="1.3" fill="#C08D42"/><ellipse cx="201.7" cy="642.8" rx="1.5" ry="0.8" fill="#F2CF92"/>
<ellipse cx="205.9" cy="646.3" rx="2.1" ry="1.3" fill="#C08D42"/><ellipse cx="205.6" cy="645.8" rx="1.5" ry="0.8" fill="#F2CF92"/>
<ellipse cx="190.2" cy="646.5" rx="2.1" ry="1.3" fill="#C08D42"/><ellipse cx="189.9" cy="646.0" rx="1.5" ry="0.8" fill="#F2CF92"/>
<ellipse cx="197.0" cy="649.3" rx="2.1" ry="1.3" fill="#C08D42"/><ellipse cx="196.7" cy="648.8" rx="1.5" ry="0.8" fill="#F2CF92"/>
<ellipse cx="225.5" cy="651.5" rx="2.1" ry="1.3" fill="#C08D42"/><ellipse cx="225.2" cy="651.0" rx="1.5" ry="0.8" fill="#F2CF92"/>
<ellipse cx="234.7" cy="651.9" rx="2.1" ry="1.3" fill="#C08D42"/><ellipse cx="234.4" cy="651.4" rx="1.5" ry="0.8" fill="#F2CF92"/>
<ellipse cx="238.6" cy="654.9" rx="2.1" ry="1.3" fill="#C08D42"/><ellipse cx="238.3" cy="654.4" rx="1.5" ry="0.8" fill="#F2CF92"/>
<ellipse cx="222.9" cy="655.1" rx="2.1" ry="1.3" fill="#C08D42"/><ellipse cx="222.6" cy="654.6" rx="1.5" ry="0.8" fill="#F2CF92"/>
<ellipse cx="229.7" cy="657.9" rx="2.1" ry="1.3" fill="#C08D42"/><ellipse cx="229.4" cy="657.4" rx="1.5" ry="0.8" fill="#F2CF92"/>
<ellipse cx="258.4" cy="660.2" rx="2.1" ry="1.3" fill="#C08D42"/><ellipse cx="258.1" cy="659.7" rx="1.5" ry="0.8" fill="#F2CF92"/>
<ellipse cx="267.7" cy="660.6" rx="2.1" ry="1.3" fill="#C08D42"/><ellipse cx="267.4" cy="660.1" rx="1.5" ry="0.8" fill="#F2CF92"/>
<ellipse cx="271.7" cy="663.7" rx="2.1" ry="1.3" fill="#C08D42"/><ellipse cx="271.4" cy="663.2" rx="1.5" ry="0.8" fill="#F2CF92"/>
<ellipse cx="255.9" cy="663.9" rx="2.1" ry="1.3" fill="#C08D42"/><ellipse cx="255.6" cy="663.4" rx="1.5" ry="0.8" fill="#F2CF92"/>
<ellipse cx="262.9" cy="666.7" rx="2.1" ry="1.3" fill="#C08D42"/><ellipse cx="262.6" cy="666.2" rx="1.5" ry="0.8" fill="#F2CF92"/>
<ellipse cx="291.8" cy="669.0" rx="2.1" ry="1.3" fill="#C08D42"/><ellipse cx="291.5" cy="668.5" rx="1.5" ry="0.8" fill="#F2CF92"/>
<ellipse cx="301.2" cy="669.4" rx="2.1" ry="1.3" fill="#C08D42"/><ellipse cx="300.9" cy="668.9" rx="1.5" ry="0.8" fill="#F2CF92"/>
<ellipse cx="305.3" cy="672.5" rx="2.1" ry="1.3" fill="#C08D42"/><ellipse cx="305.0" cy="672.0" rx="1.5" ry="0.8" fill="#F2CF92"/>
<ellipse cx="289.3" cy="672.7" rx="2.1" ry="1.3" fill="#C08D42"/><ellipse cx="289.0" cy="672.2" rx="1.5" ry="0.8" fill="#F2CF92"/>
<ellipse cx="296.4" cy="675.6" rx="2.1" ry="1.3" fill="#C08D42"/><ellipse cx="296.1" cy="675.1" rx="1.5" ry="0.8" fill="#F2CF92"/>
<ellipse cx="325.7" cy="677.9" rx="2.1" ry="1.3" fill="#C08D42"/><ellipse cx="325.4" cy="677.4" rx="1.5" ry="0.8" fill="#F2CF92"/>
<ellipse cx="335.1" cy="678.3" rx="2.1" ry="1.3" fill="#C08D42"/><ellipse cx="334.8" cy="677.8" rx="1.5" ry="0.8" fill="#F2CF92"/>
<ellipse cx="339.3" cy="681.5" rx="2.1" ry="1.3" fill="#C08D42"/><ellipse cx="339.0" cy="681.0" rx="1.5" ry="0.8" fill="#F2CF92"/>
<ellipse cx="323.2" cy="681.6" rx="2.1" ry="1.3" fill="#C08D42"/><ellipse cx="322.9" cy="681.1" rx="1.5" ry="0.8" fill="#F2CF92"/>
<ellipse cx="330.4" cy="684.6" rx="2.1" ry="1.3" fill="#C08D42"/><ellipse cx="330.1" cy="684.1" rx="1.5" ry="0.8" fill="#F2CF92"/>
<ellipse cx="359.9" cy="686.9" rx="2.1" ry="1.3" fill="#C08D42"/><ellipse cx="359.6" cy="686.4" rx="1.5" ry="0.8" fill="#F2CF92"/>
<ellipse cx="369.5" cy="687.4" rx="2.1" ry="1.3" fill="#C08D42"/><ellipse cx="369.2" cy="686.9" rx="1.5" ry="0.8" fill="#F2CF92"/>
<ellipse cx="373.7" cy="690.5" rx="2.1" ry="1.3" fill="#C08D42"/><ellipse cx="373.4" cy="690.0" rx="1.5" ry="0.8" fill="#F2CF92"/>
<ellipse cx="357.5" cy="690.7" rx="2.1" ry="1.3" fill="#C08D42"/><ellipse cx="357.2" cy="690.2" rx="1.5" ry="0.8" fill="#F2CF92"/>
<ellipse cx="364.8" cy="693.7" rx="2.1" ry="1.3" fill="#C08D42"/><ellipse cx="364.5" cy="693.2" rx="1.5" ry="0.8" fill="#F2CF92"/>
<ellipse cx="394.6" cy="696.0" rx="2.1" ry="1.3" fill="#C08D42"/><ellipse cx="394.3" cy="695.5" rx="1.5" ry="0.8" fill="#F2CF92"/>
<ellipse cx="404.3" cy="696.5" rx="2.1" ry="1.3" fill="#C08D42"/><ellipse cx="404.0" cy="696.0" rx="1.5" ry="0.8" fill="#F2CF92"/>
<ellipse cx="408.6" cy="699.7" rx="2.1" ry="1.3" fill="#C08D42"/><ellipse cx="408.3" cy="699.2" rx="1.5" ry="0.8" fill="#F2CF92"/>
<ellipse cx="392.3" cy="699.9" rx="2.1" ry="1.3" fill="#C08D42"/><ellipse cx="392.0" cy="699.4" rx="1.5" ry="0.8" fill="#F2CF92"/>
<ellipse cx="399.7" cy="702.9" rx="2.1" ry="1.3" fill="#C08D42"/><ellipse cx="399.4" cy="702.4" rx="1.5" ry="0.8" fill="#F2CF92"/>
<ellipse cx="429.8" cy="705.3" rx="2.1" ry="1.3" fill="#C08D42"/><ellipse cx="429.5" cy="704.8" rx="1.5" ry="0.8" fill="#F2CF92"/>
<ellipse cx="439.5" cy="705.8" rx="2.1" ry="1.3" fill="#C08D42"/><ellipse cx="439.2" cy="705.3" rx="1.5" ry="0.8" fill="#F2CF92"/>
<ellipse cx="444.0" cy="709.0" rx="2.1" ry="1.3" fill="#C08D42"/><ellipse cx="443.7" cy="708.5" rx="1.5" ry="0.8" fill="#F2CF92"/>
<ellipse cx="427.5" cy="709.2" rx="2.1" ry="1.3" fill="#C08D42"/><ellipse cx="427.2" cy="708.7" rx="1.5" ry="0.8" fill="#F2CF92"/>
<ellipse cx="435.0" cy="712.2" rx="2.1" ry="1.3" fill="#C08D42"/><ellipse cx="434.7" cy="711.7" rx="1.5" ry="0.8" fill="#F2CF92"/>
<ellipse cx="483.3" cy="719.4" rx="2.1" ry="1.3" fill="#C08D42"/><ellipse cx="483.0" cy="718.9" rx="1.5" ry="0.8" fill="#F2CF92"/>
<ellipse cx="493.2" cy="719.9" rx="2.1" ry="1.3" fill="#C08D42"/><ellipse cx="492.9" cy="719.4" rx="1.5" ry="0.8" fill="#F2CF92"/>
<ellipse cx="497.8" cy="723.2" rx="2.1" ry="1.3" fill="#C08D42"/><ellipse cx="497.5" cy="722.7" rx="1.5" ry="0.8" fill="#F2CF92"/>
<ellipse cx="481.2" cy="723.4" rx="2.1" ry="1.3" fill="#C08D42"/><ellipse cx="480.9" cy="722.9" rx="1.5" ry="0.8" fill="#F2CF92"/>
<ellipse cx="488.9" cy="726.5" rx="2.1" ry="1.3" fill="#C08D42"/><ellipse cx="488.6" cy="726.0" rx="1.5" ry="0.8" fill="#F2CF92"/>
<ellipse cx="519.7" cy="729.0" rx="2.1" ry="1.3" fill="#C08D42"/><ellipse cx="519.4" cy="728.5" rx="1.5" ry="0.8" fill="#F2CF92"/>
<ellipse cx="529.6" cy="729.5" rx="2.1" ry="1.3" fill="#C08D42"/><ellipse cx="529.3" cy="729.0" rx="1.5" ry="0.8" fill="#F2CF92"/>
<ellipse cx="534.3" cy="732.8" rx="2.1" ry="1.3" fill="#C08D42"/><ellipse cx="534.0" cy="732.3" rx="1.5" ry="0.8" fill="#F2CF92"/>
<ellipse cx="517.5" cy="733.0" rx="2.1" ry="1.3" fill="#C08D42"/><ellipse cx="517.2" cy="732.5" rx="1.5" ry="0.8" fill="#F2CF92"/>
<ellipse cx="525.4" cy="736.1" rx="2.1" ry="1.3" fill="#C08D42"/><ellipse cx="525.1" cy="735.6" rx="1.5" ry="0.8" fill="#F2CF92"/>
<ellipse cx="556.5" cy="738.7" rx="2.1" ry="1.3" fill="#C08D42"/><ellipse cx="556.2" cy="738.2" rx="1.5" ry="0.8" fill="#F2CF92"/>
<ellipse cx="566.5" cy="739.2" rx="2.1" ry="1.3" fill="#C08D42"/><ellipse cx="566.2" cy="738.7" rx="1.5" ry="0.8" fill="#F2CF92"/>
<ellipse cx="571.3" cy="742.6" rx="2.1" ry="1.3" fill="#C08D42"/><ellipse cx="571.0" cy="742.1" rx="1.5" ry="0.8" fill="#F2CF92"/>
<ellipse cx="554.4" cy="742.7" rx="2.1" ry="1.3" fill="#C08D42"/><ellipse cx="554.1" cy="742.2" rx="1.5" ry="0.8" fill="#F2CF92"/>
<ellipse cx="562.4" cy="745.9" rx="2.1" ry="1.3" fill="#C08D42"/><ellipse cx="562.1" cy="745.4" rx="1.5" ry="0.8" fill="#F2CF92"/>
<ellipse cx="593.7" cy="748.5" rx="2.1" ry="1.3" fill="#C08D42"/><ellipse cx="593.4" cy="748.0" rx="1.5" ry="0.8" fill="#F2CF92"/>
<ellipse cx="603.9" cy="749.0" rx="2.1" ry="1.3" fill="#C08D42"/><ellipse cx="603.6" cy="748.5" rx="1.5" ry="0.8" fill="#F2CF92"/>
<ellipse cx="608.8" cy="752.4" rx="2.1" ry="1.3" fill="#C08D42"/><ellipse cx="608.5" cy="751.9" rx="1.5" ry="0.8" fill="#F2CF92"/>
<ellipse cx="591.7" cy="752.6" rx="2.1" ry="1.3" fill="#C08D42"/><ellipse cx="591.4" cy="752.1" rx="1.5" ry="0.8" fill="#F2CF92"/>
<ellipse cx="599.9" cy="755.8" rx="2.1" ry="1.3" fill="#C08D42"/><ellipse cx="599.6" cy="755.3" rx="1.5" ry="0.8" fill="#F2CF92"/>
<ellipse cx="2.0" cy="616.5" rx="2.1" ry="1.3" fill="#C08D42"/><ellipse cx="1.7" cy="616.0" rx="1.5" ry="0.8" fill="#F2CF92"/>
<ellipse cx="10.9" cy="617.0" rx="2.1" ry="1.3" fill="#C08D42"/><ellipse cx="10.6" cy="616.5" rx="1.5" ry="0.8" fill="#F2CF92"/>
<ellipse cx="14.3" cy="619.8" rx="2.1" ry="1.3" fill="#C08D42"/><ellipse cx="14.0" cy="619.3" rx="1.5" ry="0.8" fill="#F2CF92"/>
<ellipse cx="-0.9" cy="620.0" rx="2.1" ry="1.3" fill="#C08D42"/><ellipse cx="-1.2" cy="619.5" rx="1.5" ry="0.8" fill="#F2CF92"/>
<ellipse cx="5.3" cy="622.7" rx="2.1" ry="1.3" fill="#C08D42"/><ellipse cx="5.0" cy="622.2" rx="1.5" ry="0.8" fill="#F2CF92"/>
<ellipse cx="32.7" cy="624.8" rx="2.1" ry="1.3" fill="#C08D42"/><ellipse cx="32.4" cy="624.3" rx="1.5" ry="0.8" fill="#F2CF92"/>
<ellipse cx="41.6" cy="625.2" rx="2.1" ry="1.3" fill="#C08D42"/><ellipse cx="41.3" cy="624.7" rx="1.5" ry="0.8" fill="#F2CF92"/>
<ellipse cx="45.1" cy="628.1" rx="2.1" ry="1.3" fill="#C08D42"/><ellipse cx="44.8" cy="627.6" rx="1.5" ry="0.8" fill="#F2CF92"/>
<ellipse cx="29.8" cy="628.3" rx="2.1" ry="1.3" fill="#C08D42"/><ellipse cx="29.5" cy="627.8" rx="1.5" ry="0.8" fill="#F2CF92"/>
<ellipse cx="36.1" cy="631.0" rx="2.1" ry="1.3" fill="#C08D42"/><ellipse cx="35.8" cy="630.5" rx="1.5" ry="0.8" fill="#F2CF92"/>
<ellipse cx="63.7" cy="633.1" rx="2.1" ry="1.3" fill="#C08D42"/><ellipse cx="63.4" cy="632.6" rx="1.5" ry="0.8" fill="#F2CF92"/>
<ellipse cx="72.7" cy="633.5" rx="2.1" ry="1.3" fill="#C08D42"/><ellipse cx="72.4" cy="633.0" rx="1.5" ry="0.8" fill="#F2CF92"/>
<ellipse cx="76.3" cy="636.4" rx="2.1" ry="1.3" fill="#C08D42"/><ellipse cx="76.0" cy="635.9" rx="1.5" ry="0.8" fill="#F2CF92"/>
<ellipse cx="60.9" cy="636.6" rx="2.1" ry="1.3" fill="#C08D42"/><ellipse cx="60.6" cy="636.1" rx="1.5" ry="0.8" fill="#F2CF92"/>
<ellipse cx="67.3" cy="639.4" rx="2.1" ry="1.3" fill="#C08D42"/><ellipse cx="67.0" cy="638.9" rx="1.5" ry="0.8" fill="#F2CF92"/>
<ellipse cx="95.2" cy="641.5" rx="2.1" ry="1.3" fill="#C08D42"/><ellipse cx="94.9" cy="641.0" rx="1.5" ry="0.8" fill="#F2CF92"/>
<ellipse cx="104.2" cy="642.0" rx="2.1" ry="1.3" fill="#C08D42"/><ellipse cx="103.9" cy="641.5" rx="1.5" ry="0.8" fill="#F2CF92"/>
<ellipse cx="107.8" cy="644.9" rx="2.1" ry="1.3" fill="#C08D42"/><ellipse cx="107.5" cy="644.4" rx="1.5" ry="0.8" fill="#F2CF92"/>
<ellipse cx="92.3" cy="645.1" rx="2.1" ry="1.3" fill="#C08D42"/><ellipse cx="92.0" cy="644.6" rx="1.5" ry="0.8" fill="#F2CF92"/>
<ellipse cx="98.9" cy="647.9" rx="2.1" ry="1.3" fill="#C08D42"/><ellipse cx="98.6" cy="647.4" rx="1.5" ry="0.8" fill="#F2CF92"/>
<ellipse cx="127.0" cy="650.0" rx="2.1" ry="1.3" fill="#C08D42"/><ellipse cx="126.7" cy="649.5" rx="1.5" ry="0.8" fill="#F2CF92"/>
<ellipse cx="136.1" cy="650.5" rx="2.1" ry="1.3" fill="#C08D42"/><ellipse cx="135.8" cy="650.0" rx="1.5" ry="0.8" fill="#F2CF92"/>
<ellipse cx="139.8" cy="653.5" rx="2.1" ry="1.3" fill="#C08D42"/><ellipse cx="139.5" cy="653.0" rx="1.5" ry="0.8" fill="#F2CF92"/>
<ellipse cx="124.2" cy="653.7" rx="2.1" ry="1.3" fill="#C08D42"/><ellipse cx="123.9" cy="653.2" rx="1.5" ry="0.8" fill="#F2CF92"/>
<ellipse cx="130.9" cy="656.5" rx="2.1" ry="1.3" fill="#C08D42"/><ellipse cx="130.6" cy="656.0" rx="1.5" ry="0.8" fill="#F2CF92"/>
<ellipse cx="159.2" cy="658.7" rx="2.1" ry="1.3" fill="#C08D42"/><ellipse cx="158.9" cy="658.2" rx="1.5" ry="0.8" fill="#F2CF92"/>
<ellipse cx="168.4" cy="659.1" rx="2.1" ry="1.3" fill="#C08D42"/><ellipse cx="168.1" cy="658.6" rx="1.5" ry="0.8" fill="#F2CF92"/>
<ellipse cx="172.2" cy="662.2" rx="2.1" ry="1.3" fill="#C08D42"/><ellipse cx="171.9" cy="661.7" rx="1.5" ry="0.8" fill="#F2CF92"/>
<ellipse cx="156.5" cy="662.4" rx="2.1" ry="1.3" fill="#C08D42"/><ellipse cx="156.2" cy="661.9" rx="1.5" ry="0.8" fill="#F2CF92"/>
<ellipse cx="163.2" cy="665.2" rx="2.1" ry="1.3" fill="#C08D42"/><ellipse cx="162.9" cy="664.7" rx="1.5" ry="0.8" fill="#F2CF92"/>
<ellipse cx="191.8" cy="667.4" rx="2.1" ry="1.3" fill="#C08D42"/><ellipse cx="191.5" cy="666.9" rx="1.5" ry="0.8" fill="#F2CF92"/>
<ellipse cx="201.1" cy="667.9" rx="2.1" ry="1.3" fill="#C08D42"/><ellipse cx="200.8" cy="667.4" rx="1.5" ry="0.8" fill="#F2CF92"/>
<ellipse cx="205.0" cy="671.0" rx="2.1" ry="1.3" fill="#C08D42"/><ellipse cx="204.7" cy="670.5" rx="1.5" ry="0.8" fill="#F2CF92"/>
<ellipse cx="189.1" cy="671.2" rx="2.1" ry="1.3" fill="#C08D42"/><ellipse cx="188.8" cy="670.7" rx="1.5" ry="0.8" fill="#F2CF92"/>
<ellipse cx="196.0" cy="674.0" rx="2.1" ry="1.3" fill="#C08D42"/><ellipse cx="195.7" cy="673.5" rx="1.5" ry="0.8" fill="#F2CF92"/>
<ellipse cx="224.9" cy="676.3" rx="2.1" ry="1.3" fill="#C08D42"/><ellipse cx="224.6" cy="675.8" rx="1.5" ry="0.8" fill="#F2CF92"/>
<ellipse cx="234.2" cy="676.8" rx="2.1" ry="1.3" fill="#C08D42"/><ellipse cx="233.9" cy="676.3" rx="1.5" ry="0.8" fill="#F2CF92"/>
<ellipse cx="238.2" cy="679.9" rx="2.1" ry="1.3" fill="#C08D42"/><ellipse cx="237.9" cy="679.4" rx="1.5" ry="0.8" fill="#F2CF92"/>
<ellipse cx="222.2" cy="680.1" rx="2.1" ry="1.3" fill="#C08D42"/><ellipse cx="221.9" cy="679.6" rx="1.5" ry="0.8" fill="#F2CF92"/>
<ellipse cx="229.2" cy="683.0" rx="2.1" ry="1.3" fill="#C08D42"/><ellipse cx="228.9" cy="682.5" rx="1.5" ry="0.8" fill="#F2CF92"/>
<ellipse cx="258.3" cy="685.3" rx="2.1" ry="1.3" fill="#C08D42"/><ellipse cx="258.0" cy="684.8" rx="1.5" ry="0.8" fill="#F2CF92"/>
<ellipse cx="267.8" cy="685.8" rx="2.1" ry="1.3" fill="#C08D42"/><ellipse cx="267.5" cy="685.3" rx="1.5" ry="0.8" fill="#F2CF92"/>
<ellipse cx="271.8" cy="688.9" rx="2.1" ry="1.3" fill="#C08D42"/><ellipse cx="271.5" cy="688.4" rx="1.5" ry="0.8" fill="#F2CF92"/>
<ellipse cx="255.7" cy="689.1" rx="2.1" ry="1.3" fill="#C08D42"/><ellipse cx="255.4" cy="688.6" rx="1.5" ry="0.8" fill="#F2CF92"/>
<ellipse cx="262.8" cy="692.0" rx="2.1" ry="1.3" fill="#C08D42"/><ellipse cx="262.5" cy="691.5" rx="1.5" ry="0.8" fill="#F2CF92"/>
<ellipse cx="292.2" cy="694.3" rx="2.1" ry="1.3" fill="#C08D42"/><ellipse cx="291.9" cy="693.8" rx="1.5" ry="0.8" fill="#F2CF92"/>
<ellipse cx="301.7" cy="694.8" rx="2.1" ry="1.3" fill="#C08D42"/><ellipse cx="301.4" cy="694.3" rx="1.5" ry="0.8" fill="#F2CF92"/>
<ellipse cx="305.9" cy="698.0" rx="2.1" ry="1.3" fill="#C08D42"/><ellipse cx="305.6" cy="697.5" rx="1.5" ry="0.8" fill="#F2CF92"/>
<ellipse cx="289.7" cy="698.2" rx="2.1" ry="1.3" fill="#C08D42"/><ellipse cx="289.4" cy="697.7" rx="1.5" ry="0.8" fill="#F2CF92"/>
<ellipse cx="296.9" cy="701.2" rx="2.1" ry="1.3" fill="#C08D42"/><ellipse cx="296.6" cy="700.7" rx="1.5" ry="0.8" fill="#F2CF92"/>
<ellipse cx="326.5" cy="703.6" rx="2.1" ry="1.3" fill="#C08D42"/><ellipse cx="326.2" cy="703.1" rx="1.5" ry="0.8" fill="#F2CF92"/>
<ellipse cx="336.1" cy="704.1" rx="2.1" ry="1.3" fill="#C08D42"/><ellipse cx="335.8" cy="703.6" rx="1.5" ry="0.8" fill="#F2CF92"/>
<ellipse cx="340.4" cy="707.3" rx="2.1" ry="1.3" fill="#C08D42"/><ellipse cx="340.1" cy="706.8" rx="1.5" ry="0.8" fill="#F2CF92"/>
<ellipse cx="324.0" cy="707.4" rx="2.1" ry="1.3" fill="#C08D42"/><ellipse cx="323.7" cy="706.9" rx="1.5" ry="0.8" fill="#F2CF92"/>
<ellipse cx="331.3" cy="710.5" rx="2.1" ry="1.3" fill="#C08D42"/><ellipse cx="331.0" cy="710.0" rx="1.5" ry="0.8" fill="#F2CF92"/>
<ellipse cx="378.8" cy="717.6" rx="2.1" ry="1.3" fill="#C08D42"/><ellipse cx="378.5" cy="717.1" rx="1.5" ry="0.8" fill="#F2CF92"/>
<ellipse cx="388.6" cy="718.1" rx="2.1" ry="1.3" fill="#C08D42"/><ellipse cx="388.3" cy="717.6" rx="1.5" ry="0.8" fill="#F2CF92"/>
<ellipse cx="393.0" cy="721.4" rx="2.1" ry="1.3" fill="#C08D42"/><ellipse cx="392.7" cy="720.9" rx="1.5" ry="0.8" fill="#F2CF92"/>
<ellipse cx="376.4" cy="721.5" rx="2.1" ry="1.3" fill="#C08D42"/><ellipse cx="376.1" cy="721.0" rx="1.5" ry="0.8" fill="#F2CF92"/>
<ellipse cx="383.9" cy="724.6" rx="2.1" ry="1.3" fill="#C08D42"/><ellipse cx="383.6" cy="724.1" rx="1.5" ry="0.8" fill="#F2CF92"/>
<ellipse cx="450.2" cy="736.7" rx="2.1" ry="1.3" fill="#C08D42"/><ellipse cx="449.9" cy="736.2" rx="1.5" ry="0.8" fill="#F2CF92"/>
<ellipse cx="460.1" cy="737.3" rx="2.1" ry="1.3" fill="#C08D42"/><ellipse cx="459.8" cy="736.8" rx="1.5" ry="0.8" fill="#F2CF92"/>
<ellipse cx="464.7" cy="740.6" rx="2.1" ry="1.3" fill="#C08D42"/><ellipse cx="464.4" cy="740.1" rx="1.5" ry="0.8" fill="#F2CF92"/>
<ellipse cx="447.9" cy="740.8" rx="2.1" ry="1.3" fill="#C08D42"/><ellipse cx="447.6" cy="740.3" rx="1.5" ry="0.8" fill="#F2CF92"/>
<ellipse cx="455.6" cy="743.9" rx="2.1" ry="1.3" fill="#C08D42"/><ellipse cx="455.3" cy="743.4" rx="1.5" ry="0.8" fill="#F2CF92"/>
<ellipse cx="486.6" cy="746.5" rx="2.1" ry="1.3" fill="#C08D42"/><ellipse cx="486.3" cy="746.0" rx="1.5" ry="0.8" fill="#F2CF92"/>
<ellipse cx="496.6" cy="747.0" rx="2.1" ry="1.3" fill="#C08D42"/><ellipse cx="496.3" cy="746.5" rx="1.5" ry="0.8" fill="#F2CF92"/>
<ellipse cx="501.3" cy="750.4" rx="2.1" ry="1.3" fill="#C08D42"/><ellipse cx="501.0" cy="749.9" rx="1.5" ry="0.8" fill="#F2CF92"/>
<ellipse cx="484.4" cy="750.6" rx="2.1" ry="1.3" fill="#C08D42"/><ellipse cx="484.1" cy="750.1" rx="1.5" ry="0.8" fill="#F2CF92"/>
<ellipse cx="492.2" cy="753.8" rx="2.1" ry="1.3" fill="#C08D42"/><ellipse cx="491.9" cy="753.3" rx="1.5" ry="0.8" fill="#F2CF92"/>
<ellipse cx="523.5" cy="756.4" rx="2.1" ry="1.3" fill="#C08D42"/><ellipse cx="523.2" cy="755.9" rx="1.5" ry="0.8" fill="#F2CF92"/>
<ellipse cx="533.6" cy="756.9" rx="2.1" ry="1.3" fill="#C08D42"/><ellipse cx="533.3" cy="756.4" rx="1.5" ry="0.8" fill="#F2CF92"/>
<ellipse cx="538.4" cy="760.4" rx="2.1" ry="1.3" fill="#C08D42"/><ellipse cx="538.1" cy="759.9" rx="1.5" ry="0.8" fill="#F2CF92"/>
<ellipse cx="521.3" cy="760.5" rx="2.1" ry="1.3" fill="#C08D42"/><ellipse cx="521.0" cy="760.0" rx="1.5" ry="0.8" fill="#F2CF92"/>
<ellipse cx="529.3" cy="763.7" rx="2.1" ry="1.3" fill="#C08D42"/><ellipse cx="529.0" cy="763.2" rx="1.5" ry="0.8" fill="#F2CF92"/>
<ellipse cx="560.8" cy="766.4" rx="2.1" ry="1.3" fill="#C08D42"/><ellipse cx="560.5" cy="765.9" rx="1.5" ry="0.8" fill="#F2CF92"/>
<ellipse cx="571.0" cy="767.0" rx="2.1" ry="1.3" fill="#C08D42"/><ellipse cx="570.7" cy="766.5" rx="1.5" ry="0.8" fill="#F2CF92"/>
<ellipse cx="575.9" cy="770.4" rx="2.1" ry="1.3" fill="#C08D42"/><ellipse cx="575.6" cy="769.9" rx="1.5" ry="0.8" fill="#F2CF92"/>
<ellipse cx="558.8" cy="770.6" rx="2.1" ry="1.3" fill="#C08D42"/><ellipse cx="558.5" cy="770.1" rx="1.5" ry="0.8" fill="#F2CF92"/>
<ellipse cx="566.9" cy="773.9" rx="2.1" ry="1.3" fill="#C08D42"/><ellipse cx="566.6" cy="773.4" rx="1.5" ry="0.8" fill="#F2CF92"/>
<ellipse cx="-10.1" cy="632.9" rx="2.1" ry="1.3" fill="#C08D42"/><ellipse cx="-10.4" cy="632.4" rx="1.5" ry="0.8" fill="#F2CF92"/>
<ellipse cx="-1.2" cy="633.3" rx="2.1" ry="1.3" fill="#C08D42"/><ellipse cx="-1.5" cy="632.8" rx="1.5" ry="0.8" fill="#F2CF92"/>
<ellipse cx="2.2" cy="636.2" rx="2.1" ry="1.3" fill="#C08D42"/><ellipse cx="1.9" cy="635.7" rx="1.5" ry="0.8" fill="#F2CF92"/>
<ellipse cx="-13.1" cy="636.4" rx="2.1" ry="1.3" fill="#C08D42"/><ellipse cx="-13.4" cy="635.9" rx="1.5" ry="0.8" fill="#F2CF92"/>
<ellipse cx="-6.8" cy="639.1" rx="2.1" ry="1.3" fill="#C08D42"/><ellipse cx="-7.1" cy="638.6" rx="1.5" ry="0.8" fill="#F2CF92"/>
<ellipse cx="20.7" cy="641.3" rx="2.1" ry="1.3" fill="#C08D42"/><ellipse cx="20.4" cy="640.8" rx="1.5" ry="0.8" fill="#F2CF92"/>
<ellipse cx="29.7" cy="641.7" rx="2.1" ry="1.3" fill="#C08D42"/><ellipse cx="29.4" cy="641.2" rx="1.5" ry="0.8" fill="#F2CF92"/>
<ellipse cx="33.2" cy="644.7" rx="2.1" ry="1.3" fill="#C08D42"/><ellipse cx="32.9" cy="644.2" rx="1.5" ry="0.8" fill="#F2CF92"/>
<ellipse cx="17.8" cy="644.9" rx="2.1" ry="1.3" fill="#C08D42"/><ellipse cx="17.5" cy="644.4" rx="1.5" ry="0.8" fill="#F2CF92"/>
<ellipse cx="24.2" cy="647.6" rx="2.1" ry="1.3" fill="#C08D42"/><ellipse cx="23.9" cy="647.1" rx="1.5" ry="0.8" fill="#F2CF92"/>
<ellipse cx="52.0" cy="649.8" rx="2.1" ry="1.3" fill="#C08D42"/><ellipse cx="51.7" cy="649.3" rx="1.5" ry="0.8" fill="#F2CF92"/>
<ellipse cx="61.1" cy="650.2" rx="2.1" ry="1.3" fill="#C08D42"/><ellipse cx="60.8" cy="649.7" rx="1.5" ry="0.8" fill="#F2CF92"/>
<ellipse cx="64.6" cy="653.2" rx="2.1" ry="1.3" fill="#C08D42"/><ellipse cx="64.3" cy="652.7" rx="1.5" ry="0.8" fill="#F2CF92"/>
<ellipse cx="49.1" cy="653.4" rx="2.1" ry="1.3" fill="#C08D42"/><ellipse cx="48.8" cy="652.9" rx="1.5" ry="0.8" fill="#F2CF92"/>
<ellipse cx="55.6" cy="656.2" rx="2.1" ry="1.3" fill="#C08D42"/><ellipse cx="55.3" cy="655.7" rx="1.5" ry="0.8" fill="#F2CF92"/>
<ellipse cx="83.7" cy="658.4" rx="2.1" ry="1.3" fill="#C08D42"/><ellipse cx="83.4" cy="657.9" rx="1.5" ry="0.8" fill="#F2CF92"/>
<ellipse cx="92.8" cy="658.8" rx="2.1" ry="1.3" fill="#C08D42"/><ellipse cx="92.5" cy="658.3" rx="1.5" ry="0.8" fill="#F2CF92"/>
<ellipse cx="96.4" cy="661.9" rx="2.1" ry="1.3" fill="#C08D42"/><ellipse cx="96.1" cy="661.4" rx="1.5" ry="0.8" fill="#F2CF92"/>
<ellipse cx="80.8" cy="662.1" rx="2.1" ry="1.3" fill="#C08D42"/><ellipse cx="80.5" cy="661.6" rx="1.5" ry="0.8" fill="#F2CF92"/>
<ellipse cx="87.4" cy="664.9" rx="2.1" ry="1.3" fill="#C08D42"/><ellipse cx="87.1" cy="664.4" rx="1.5" ry="0.8" fill="#F2CF92"/>
<ellipse cx="115.7" cy="667.1" rx="2.1" ry="1.3" fill="#C08D42"/><ellipse cx="115.4" cy="666.6" rx="1.5" ry="0.8" fill="#F2CF92"/>
<ellipse cx="124.9" cy="667.6" rx="2.1" ry="1.3" fill="#C08D42"/><ellipse cx="124.6" cy="667.1" rx="1.5" ry="0.8" fill="#F2CF92"/>
<ellipse cx="128.6" cy="670.6" rx="2.1" ry="1.3" fill="#C08D42"/><ellipse cx="128.3" cy="670.1" rx="1.5" ry="0.8" fill="#F2CF92"/>
<ellipse cx="112.9" cy="670.8" rx="2.1" ry="1.3" fill="#C08D42"/><ellipse cx="112.6" cy="670.3" rx="1.5" ry="0.8" fill="#F2CF92"/>
<ellipse cx="119.6" cy="673.7" rx="2.1" ry="1.3" fill="#C08D42"/><ellipse cx="119.3" cy="673.2" rx="1.5" ry="0.8" fill="#F2CF92"/>
<ellipse cx="148.2" cy="675.9" rx="2.1" ry="1.3" fill="#C08D42"/><ellipse cx="147.9" cy="675.4" rx="1.5" ry="0.8" fill="#F2CF92"/>
<ellipse cx="157.4" cy="676.4" rx="2.1" ry="1.3" fill="#C08D42"/><ellipse cx="157.1" cy="675.9" rx="1.5" ry="0.8" fill="#F2CF92"/>
<ellipse cx="161.2" cy="679.5" rx="2.1" ry="1.3" fill="#C08D42"/><ellipse cx="160.9" cy="679.0" rx="1.5" ry="0.8" fill="#F2CF92"/>
<ellipse cx="145.4" cy="679.7" rx="2.1" ry="1.3" fill="#C08D42"/><ellipse cx="145.1" cy="679.2" rx="1.5" ry="0.8" fill="#F2CF92"/>
<ellipse cx="152.2" cy="682.6" rx="2.1" ry="1.3" fill="#C08D42"/><ellipse cx="151.9" cy="682.1" rx="1.5" ry="0.8" fill="#F2CF92"/>
<ellipse cx="181.0" cy="684.9" rx="2.1" ry="1.3" fill="#C08D42"/><ellipse cx="180.7" cy="684.4" rx="1.5" ry="0.8" fill="#F2CF92"/>
<ellipse cx="190.4" cy="685.4" rx="2.1" ry="1.3" fill="#C08D42"/><ellipse cx="190.1" cy="684.9" rx="1.5" ry="0.8" fill="#F2CF92"/>
<ellipse cx="194.3" cy="688.5" rx="2.1" ry="1.3" fill="#C08D42"/><ellipse cx="194.0" cy="688.0" rx="1.5" ry="0.8" fill="#F2CF92"/>
<ellipse cx="178.3" cy="688.7" rx="2.1" ry="1.3" fill="#C08D42"/><ellipse cx="178.0" cy="688.2" rx="1.5" ry="0.8" fill="#F2CF92"/>
<ellipse cx="185.2" cy="691.6" rx="2.1" ry="1.3" fill="#C08D42"/><ellipse cx="184.9" cy="691.1" rx="1.5" ry="0.8" fill="#F2CF92"/>
<ellipse cx="214.3" cy="693.9" rx="2.1" ry="1.3" fill="#C08D42"/><ellipse cx="214.0" cy="693.4" rx="1.5" ry="0.8" fill="#F2CF92"/>
<ellipse cx="223.7" cy="694.4" rx="2.1" ry="1.3" fill="#C08D42"/><ellipse cx="223.4" cy="693.9" rx="1.5" ry="0.8" fill="#F2CF92"/>
<ellipse cx="227.7" cy="697.6" rx="2.1" ry="1.3" fill="#C08D42"/><ellipse cx="227.4" cy="697.1" rx="1.5" ry="0.8" fill="#F2CF92"/>
<ellipse cx="211.6" cy="697.8" rx="2.1" ry="1.3" fill="#C08D42"/><ellipse cx="211.3" cy="697.3" rx="1.5" ry="0.8" fill="#F2CF92"/>
<ellipse cx="218.6" cy="700.7" rx="2.1" ry="1.3" fill="#C08D42"/><ellipse cx="218.3" cy="700.2" rx="1.5" ry="0.8" fill="#F2CF92"/>
<ellipse cx="248.0" cy="703.1" rx="2.1" ry="1.3" fill="#C08D42"/><ellipse cx="247.7" cy="702.6" rx="1.5" ry="0.8" fill="#F2CF92"/>
<ellipse cx="257.5" cy="703.6" rx="2.1" ry="1.3" fill="#C08D42"/><ellipse cx="257.2" cy="703.1" rx="1.5" ry="0.8" fill="#F2CF92"/>
<ellipse cx="261.6" cy="706.8" rx="2.1" ry="1.3" fill="#C08D42"/><ellipse cx="261.3" cy="706.3" rx="1.5" ry="0.8" fill="#F2CF92"/>
<ellipse cx="245.4" cy="707.0" rx="2.1" ry="1.3" fill="#C08D42"/><ellipse cx="245.1" cy="706.5" rx="1.5" ry="0.8" fill="#F2CF92"/>
<ellipse cx="252.5" cy="710.0" rx="2.1" ry="1.3" fill="#C08D42"/><ellipse cx="252.2" cy="709.5" rx="1.5" ry="0.8" fill="#F2CF92"/>
<ellipse cx="282.2" cy="712.4" rx="2.1" ry="1.3" fill="#C08D42"/><ellipse cx="281.9" cy="711.9" rx="1.5" ry="0.8" fill="#F2CF92"/>
<ellipse cx="291.8" cy="712.9" rx="2.1" ry="1.3" fill="#C08D42"/><ellipse cx="291.5" cy="712.4" rx="1.5" ry="0.8" fill="#F2CF92"/>
<ellipse cx="295.9" cy="716.1" rx="2.1" ry="1.3" fill="#C08D42"/><ellipse cx="295.6" cy="715.6" rx="1.5" ry="0.8" fill="#F2CF92"/>
<ellipse cx="279.6" cy="716.3" rx="2.1" ry="1.3" fill="#C08D42"/><ellipse cx="279.3" cy="715.8" rx="1.5" ry="0.8" fill="#F2CF92"/>
<ellipse cx="286.8" cy="719.3" rx="2.1" ry="1.3" fill="#C08D42"/><ellipse cx="286.5" cy="718.8" rx="1.5" ry="0.8" fill="#F2CF92"/>
<ellipse cx="316.7" cy="721.8" rx="2.1" ry="1.3" fill="#C08D42"/><ellipse cx="316.4" cy="721.3" rx="1.5" ry="0.8" fill="#F2CF92"/>
<ellipse cx="326.4" cy="722.3" rx="2.1" ry="1.3" fill="#C08D42"/><ellipse cx="326.1" cy="721.8" rx="1.5" ry="0.8" fill="#F2CF92"/>
<ellipse cx="330.7" cy="725.6" rx="2.1" ry="1.3" fill="#C08D42"/><ellipse cx="330.4" cy="725.1" rx="1.5" ry="0.8" fill="#F2CF92"/>
<ellipse cx="314.2" cy="725.8" rx="2.1" ry="1.3" fill="#C08D42"/><ellipse cx="313.9" cy="725.3" rx="1.5" ry="0.8" fill="#F2CF92"/>
<ellipse cx="321.6" cy="728.8" rx="2.1" ry="1.3" fill="#C08D42"/><ellipse cx="321.3" cy="728.3" rx="1.5" ry="0.8" fill="#F2CF92"/>
<ellipse cx="360.6" cy="733.7" rx="2.1" ry="1.3" fill="#C08D42"/><ellipse cx="360.3" cy="733.2" rx="1.5" ry="0.8" fill="#F2CF92"/>
<ellipse cx="370.4" cy="734.3" rx="2.1" ry="1.3" fill="#C08D42"/><ellipse cx="370.1" cy="733.8" rx="1.5" ry="0.8" fill="#F2CF92"/>
<ellipse cx="374.8" cy="737.6" rx="2.1" ry="1.3" fill="#C08D42"/><ellipse cx="374.5" cy="737.1" rx="1.5" ry="0.8" fill="#F2CF92"/>
<ellipse cx="358.2" cy="737.8" rx="2.1" ry="1.3" fill="#C08D42"/><ellipse cx="357.9" cy="737.3" rx="1.5" ry="0.8" fill="#F2CF92"/>
<ellipse cx="365.7" cy="740.9" rx="2.1" ry="1.3" fill="#C08D42"/><ellipse cx="365.4" cy="740.4" rx="1.5" ry="0.8" fill="#F2CF92"/>
<ellipse cx="423.3" cy="750.8" rx="2.1" ry="1.3" fill="#C08D42"/><ellipse cx="423.0" cy="750.3" rx="1.5" ry="0.8" fill="#F2CF92"/>
<ellipse cx="433.2" cy="751.3" rx="2.1" ry="1.3" fill="#C08D42"/><ellipse cx="432.9" cy="750.8" rx="1.5" ry="0.8" fill="#F2CF92"/>
<ellipse cx="437.8" cy="754.7" rx="2.1" ry="1.3" fill="#C08D42"/><ellipse cx="437.5" cy="754.2" rx="1.5" ry="0.8" fill="#F2CF92"/>
<ellipse cx="420.9" cy="754.9" rx="2.1" ry="1.3" fill="#C08D42"/><ellipse cx="420.6" cy="754.4" rx="1.5" ry="0.8" fill="#F2CF92"/>
<ellipse cx="428.7" cy="758.1" rx="2.1" ry="1.3" fill="#C08D42"/><ellipse cx="428.4" cy="757.6" rx="1.5" ry="0.8" fill="#F2CF92"/>
<ellipse cx="459.7" cy="760.7" rx="2.1" ry="1.3" fill="#C08D42"/><ellipse cx="459.4" cy="760.2" rx="1.5" ry="0.8" fill="#F2CF92"/>
<ellipse cx="469.8" cy="761.3" rx="2.1" ry="1.3" fill="#C08D42"/><ellipse cx="469.5" cy="760.8" rx="1.5" ry="0.8" fill="#F2CF92"/>
<ellipse cx="474.5" cy="764.7" rx="2.1" ry="1.3" fill="#C08D42"/><ellipse cx="474.2" cy="764.2" rx="1.5" ry="0.8" fill="#F2CF92"/>
<ellipse cx="457.4" cy="764.9" rx="2.1" ry="1.3" fill="#C08D42"/><ellipse cx="457.1" cy="764.4" rx="1.5" ry="0.8" fill="#F2CF92"/>
<ellipse cx="465.3" cy="768.1" rx="2.1" ry="1.3" fill="#C08D42"/><ellipse cx="465.0" cy="767.6" rx="1.5" ry="0.8" fill="#F2CF92"/>
<ellipse cx="496.7" cy="770.8" rx="2.1" ry="1.3" fill="#C08D42"/><ellipse cx="496.4" cy="770.3" rx="1.5" ry="0.8" fill="#F2CF92"/>
<ellipse cx="506.8" cy="771.3" rx="2.1" ry="1.3" fill="#C08D42"/><ellipse cx="506.5" cy="770.8" rx="1.5" ry="0.8" fill="#F2CF92"/>
<ellipse cx="511.6" cy="774.8" rx="2.1" ry="1.3" fill="#C08D42"/><ellipse cx="511.3" cy="774.3" rx="1.5" ry="0.8" fill="#F2CF92"/>
<ellipse cx="494.5" cy="775.0" rx="2.1" ry="1.3" fill="#C08D42"/><ellipse cx="494.2" cy="774.5" rx="1.5" ry="0.8" fill="#F2CF92"/>
<ellipse cx="502.4" cy="778.2" rx="2.1" ry="1.3" fill="#C08D42"/><ellipse cx="502.1" cy="777.7" rx="1.5" ry="0.8" fill="#F2CF92"/>
<ellipse cx="520.6" cy="788.3" rx="2.1" ry="1.3" fill="#C08D42"/><ellipse cx="520.3" cy="787.8" rx="1.5" ry="0.8" fill="#F2CF92"/>
<ellipse cx="530.9" cy="788.9" rx="2.1" ry="1.3" fill="#C08D42"/><ellipse cx="530.6" cy="788.4" rx="1.5" ry="0.8" fill="#F2CF92"/>
<ellipse cx="535.8" cy="792.4" rx="2.1" ry="1.3" fill="#C08D42"/><ellipse cx="535.5" cy="791.9" rx="1.5" ry="0.8" fill="#F2CF92"/>
<ellipse cx="518.4" cy="792.6" rx="2.1" ry="1.3" fill="#C08D42"/><ellipse cx="518.1" cy="792.1" rx="1.5" ry="0.8" fill="#F2CF92"/>
<ellipse cx="526.6" cy="795.9" rx="2.1" ry="1.3" fill="#C08D42"/><ellipse cx="526.3" cy="795.4" rx="1.5" ry="0.8" fill="#F2CF92"/>
<ellipse cx="0.8" cy="655.9" rx="2.1" ry="1.3" fill="#C08D42"/><ellipse cx="0.5" cy="655.4" rx="1.5" ry="0.8" fill="#F2CF92"/>
<ellipse cx="9.8" cy="656.4" rx="2.1" ry="1.3" fill="#C08D42"/><ellipse cx="9.5" cy="655.9" rx="1.5" ry="0.8" fill="#F2CF92"/>
<ellipse cx="13.3" cy="659.4" rx="2.1" ry="1.3" fill="#C08D42"/><ellipse cx="13.0" cy="658.9" rx="1.5" ry="0.8" fill="#F2CF92"/>
<ellipse cx="-2.3" cy="659.6" rx="2.1" ry="1.3" fill="#C08D42"/><ellipse cx="-2.6" cy="659.1" rx="1.5" ry="0.8" fill="#F2CF92"/>
<ellipse cx="4.1" cy="662.4" rx="2.1" ry="1.3" fill="#C08D42"/><ellipse cx="3.8" cy="661.9" rx="1.5" ry="0.8" fill="#F2CF92"/>
<ellipse cx="32.1" cy="664.6" rx="2.1" ry="1.3" fill="#C08D42"/><ellipse cx="31.8" cy="664.1" rx="1.5" ry="0.8" fill="#F2CF92"/>
<ellipse cx="41.3" cy="665.1" rx="2.1" ry="1.3" fill="#C08D42"/><ellipse cx="41.0" cy="664.6" rx="1.5" ry="0.8" fill="#F2CF92"/>
<ellipse cx="44.8" cy="668.1" rx="2.1" ry="1.3" fill="#C08D42"/><ellipse cx="44.5" cy="667.6" rx="1.5" ry="0.8" fill="#F2CF92"/>
<ellipse cx="29.2" cy="668.3" rx="2.1" ry="1.3" fill="#C08D42"/><ellipse cx="28.9" cy="667.8" rx="1.5" ry="0.8" fill="#F2CF92"/>
<ellipse cx="35.7" cy="671.1" rx="2.1" ry="1.3" fill="#C08D42"/><ellipse cx="35.4" cy="670.6" rx="1.5" ry="0.8" fill="#F2CF92"/>
<ellipse cx="63.9" cy="673.4" rx="2.1" ry="1.3" fill="#C08D42"/><ellipse cx="63.6" cy="672.9" rx="1.5" ry="0.8" fill="#F2CF92"/>
<ellipse cx="73.1" cy="673.8" rx="2.1" ry="1.3" fill="#C08D42"/><ellipse cx="72.8" cy="673.3" rx="1.5" ry="0.8" fill="#F2CF92"/>
<ellipse cx="76.7" cy="676.9" rx="2.1" ry="1.3" fill="#C08D42"/><ellipse cx="76.4" cy="676.4" rx="1.5" ry="0.8" fill="#F2CF92"/>
<ellipse cx="61.0" cy="677.1" rx="2.1" ry="1.3" fill="#C08D42"/><ellipse cx="60.7" cy="676.6" rx="1.5" ry="0.8" fill="#F2CF92"/>
<ellipse cx="67.6" cy="680.0" rx="2.1" ry="1.3" fill="#C08D42"/><ellipse cx="67.3" cy="679.5" rx="1.5" ry="0.8" fill="#F2CF92"/>
<ellipse cx="96.1" cy="682.2" rx="2.1" ry="1.3" fill="#C08D42"/><ellipse cx="95.8" cy="681.7" rx="1.5" ry="0.8" fill="#F2CF92"/>
<ellipse cx="105.4" cy="682.7" rx="2.1" ry="1.3" fill="#C08D42"/><ellipse cx="105.1" cy="682.2" rx="1.5" ry="0.8" fill="#F2CF92"/>
<ellipse cx="109.1" cy="685.8" rx="2.1" ry="1.3" fill="#C08D42"/><ellipse cx="108.8" cy="685.3" rx="1.5" ry="0.8" fill="#F2CF92"/>
<ellipse cx="93.2" cy="686.0" rx="2.1" ry="1.3" fill="#C08D42"/><ellipse cx="92.9" cy="685.5" rx="1.5" ry="0.8" fill="#F2CF92"/>
<ellipse cx="99.9" cy="688.9" rx="2.1" ry="1.3" fill="#C08D42"/><ellipse cx="99.6" cy="688.4" rx="1.5" ry="0.8" fill="#F2CF92"/>
<ellipse cx="128.7" cy="691.2" rx="2.1" ry="1.3" fill="#C08D42"/><ellipse cx="128.4" cy="690.7" rx="1.5" ry="0.8" fill="#F2CF92"/>
<ellipse cx="138.0" cy="691.7" rx="2.1" ry="1.3" fill="#C08D42"/><ellipse cx="137.7" cy="691.2" rx="1.5" ry="0.8" fill="#F2CF92"/>
<ellipse cx="141.8" cy="694.9" rx="2.1" ry="1.3" fill="#C08D42"/><ellipse cx="141.5" cy="694.4" rx="1.5" ry="0.8" fill="#F2CF92"/>
<ellipse cx="125.8" cy="695.1" rx="2.1" ry="1.3" fill="#C08D42"/><ellipse cx="125.5" cy="694.6" rx="1.5" ry="0.8" fill="#F2CF92"/>
<ellipse cx="132.7" cy="698.0" rx="2.1" ry="1.3" fill="#C08D42"/><ellipse cx="132.4" cy="697.5" rx="1.5" ry="0.8" fill="#F2CF92"/>
<ellipse cx="161.7" cy="700.4" rx="2.1" ry="1.3" fill="#C08D42"/><ellipse cx="161.4" cy="699.9" rx="1.5" ry="0.8" fill="#F2CF92"/>
<ellipse cx="171.1" cy="700.9" rx="2.1" ry="1.3" fill="#C08D42"/><ellipse cx="170.8" cy="700.4" rx="1.5" ry="0.8" fill="#F2CF92"/>
<ellipse cx="175.0" cy="704.0" rx="2.1" ry="1.3" fill="#C08D42"/><ellipse cx="174.7" cy="703.5" rx="1.5" ry="0.8" fill="#F2CF92"/>
<ellipse cx="158.9" cy="704.2" rx="2.1" ry="1.3" fill="#C08D42"/><ellipse cx="158.6" cy="703.7" rx="1.5" ry="0.8" fill="#F2CF92"/>
<ellipse cx="165.8" cy="707.2" rx="2.1" ry="1.3" fill="#C08D42"/><ellipse cx="165.5" cy="706.7" rx="1.5" ry="0.8" fill="#F2CF92"/>
<ellipse cx="195.1" cy="709.6" rx="2.1" ry="1.3" fill="#C08D42"/><ellipse cx="194.8" cy="709.1" rx="1.5" ry="0.8" fill="#F2CF92"/>
<ellipse cx="204.6" cy="710.1" rx="2.1" ry="1.3" fill="#C08D42"/><ellipse cx="204.3" cy="709.6" rx="1.5" ry="0.8" fill="#F2CF92"/>
<ellipse cx="208.6" cy="713.3" rx="2.1" ry="1.3" fill="#C08D42"/><ellipse cx="208.3" cy="712.8" rx="1.5" ry="0.8" fill="#F2CF92"/>
<ellipse cx="192.4" cy="713.5" rx="2.1" ry="1.3" fill="#C08D42"/><ellipse cx="192.1" cy="713.0" rx="1.5" ry="0.8" fill="#F2CF92"/>
<ellipse cx="199.4" cy="716.5" rx="2.1" ry="1.3" fill="#C08D42"/><ellipse cx="199.1" cy="716.0" rx="1.5" ry="0.8" fill="#F2CF92"/>
<ellipse cx="229.0" cy="718.9" rx="2.1" ry="1.3" fill="#C08D42"/><ellipse cx="228.7" cy="718.4" rx="1.5" ry="0.8" fill="#F2CF92"/>
<ellipse cx="238.6" cy="719.5" rx="2.1" ry="1.3" fill="#C08D42"/><ellipse cx="238.3" cy="719.0" rx="1.5" ry="0.8" fill="#F2CF92"/>
<ellipse cx="242.6" cy="722.7" rx="2.1" ry="1.3" fill="#C08D42"/><ellipse cx="242.3" cy="722.2" rx="1.5" ry="0.8" fill="#F2CF92"/>
<ellipse cx="226.3" cy="722.9" rx="2.1" ry="1.3" fill="#C08D42"/><ellipse cx="226.0" cy="722.4" rx="1.5" ry="0.8" fill="#F2CF92"/>
<ellipse cx="233.4" cy="725.9" rx="2.1" ry="1.3" fill="#C08D42"/><ellipse cx="233.1" cy="725.4" rx="1.5" ry="0.8" fill="#F2CF92"/>
<ellipse cx="263.3" cy="728.4" rx="2.1" ry="1.3" fill="#C08D42"/><ellipse cx="263.0" cy="727.9" rx="1.5" ry="0.8" fill="#F2CF92"/>
<ellipse cx="272.9" cy="728.9" rx="2.1" ry="1.3" fill="#C08D42"/><ellipse cx="272.6" cy="728.4" rx="1.5" ry="0.8" fill="#F2CF92"/>
<ellipse cx="277.1" cy="732.2" rx="2.1" ry="1.3" fill="#C08D42"/><ellipse cx="276.8" cy="731.7" rx="1.5" ry="0.8" fill="#F2CF92"/>
<ellipse cx="260.6" cy="732.4" rx="2.1" ry="1.3" fill="#C08D42"/><ellipse cx="260.3" cy="731.9" rx="1.5" ry="0.8" fill="#F2CF92"/>
<ellipse cx="267.9" cy="735.5" rx="2.1" ry="1.3" fill="#C08D42"/><ellipse cx="267.6" cy="735.0" rx="1.5" ry="0.8" fill="#F2CF92"/>
<ellipse cx="320.0" cy="744.1" rx="2.1" ry="1.3" fill="#C08D42"/><ellipse cx="319.7" cy="743.6" rx="1.5" ry="0.8" fill="#F2CF92"/>
<ellipse cx="329.8" cy="744.6" rx="2.1" ry="1.3" fill="#C08D42"/><ellipse cx="329.5" cy="744.1" rx="1.5" ry="0.8" fill="#F2CF92"/>
<ellipse cx="334.1" cy="748.0" rx="2.1" ry="1.3" fill="#C08D42"/><ellipse cx="333.8" cy="747.5" rx="1.5" ry="0.8" fill="#F2CF92"/>
<ellipse cx="317.4" cy="748.1" rx="2.1" ry="1.3" fill="#C08D42"/><ellipse cx="317.1" cy="747.6" rx="1.5" ry="0.8" fill="#F2CF92"/>
<ellipse cx="324.9" cy="751.3" rx="2.1" ry="1.3" fill="#C08D42"/><ellipse cx="324.6" cy="750.8" rx="1.5" ry="0.8" fill="#F2CF92"/>
<ellipse cx="396.0" cy="765.0" rx="2.1" ry="1.3" fill="#C08D42"/><ellipse cx="395.7" cy="764.5" rx="1.5" ry="0.8" fill="#F2CF92"/>
<ellipse cx="406.0" cy="765.6" rx="2.1" ry="1.3" fill="#C08D42"/><ellipse cx="405.7" cy="765.1" rx="1.5" ry="0.8" fill="#F2CF92"/>
<ellipse cx="410.5" cy="769.1" rx="2.1" ry="1.3" fill="#C08D42"/><ellipse cx="410.2" cy="768.6" rx="1.5" ry="0.8" fill="#F2CF92"/>
<ellipse cx="393.6" cy="769.2" rx="2.1" ry="1.3" fill="#C08D42"/><ellipse cx="393.3" cy="768.7" rx="1.5" ry="0.8" fill="#F2CF92"/>
<ellipse cx="401.3" cy="772.5" rx="2.1" ry="1.3" fill="#C08D42"/><ellipse cx="401.0" cy="772.0" rx="1.5" ry="0.8" fill="#F2CF92"/>
<ellipse cx="432.5" cy="775.1" rx="2.1" ry="1.3" fill="#C08D42"/><ellipse cx="432.2" cy="774.6" rx="1.5" ry="0.8" fill="#F2CF92"/>
<ellipse cx="442.6" cy="775.7" rx="2.1" ry="1.3" fill="#C08D42"/><ellipse cx="442.3" cy="775.2" rx="1.5" ry="0.8" fill="#F2CF92"/>
<ellipse cx="447.3" cy="779.2" rx="2.1" ry="1.3" fill="#C08D42"/><ellipse cx="447.0" cy="778.7" rx="1.5" ry="0.8" fill="#F2CF92"/>
<ellipse cx="430.1" cy="779.3" rx="2.1" ry="1.3" fill="#C08D42"/><ellipse cx="429.8" cy="778.8" rx="1.5" ry="0.8" fill="#F2CF92"/>
<ellipse cx="438.0" cy="782.6" rx="2.1" ry="1.3" fill="#C08D42"/><ellipse cx="437.7" cy="782.1" rx="1.5" ry="0.8" fill="#F2CF92"/>
<ellipse cx="469.5" cy="785.3" rx="2.1" ry="1.3" fill="#C08D42"/><ellipse cx="469.2" cy="784.8" rx="1.5" ry="0.8" fill="#F2CF92"/>
<ellipse cx="479.7" cy="785.9" rx="2.1" ry="1.3" fill="#C08D42"/><ellipse cx="479.4" cy="785.4" rx="1.5" ry="0.8" fill="#F2CF92"/>
<ellipse cx="484.5" cy="789.5" rx="2.1" ry="1.3" fill="#C08D42"/><ellipse cx="484.2" cy="789.0" rx="1.5" ry="0.8" fill="#F2CF92"/>
<ellipse cx="467.2" cy="789.6" rx="2.1" ry="1.3" fill="#C08D42"/><ellipse cx="466.9" cy="789.1" rx="1.5" ry="0.8" fill="#F2CF92"/>
<ellipse cx="475.2" cy="792.9" rx="2.1" ry="1.3" fill="#C08D42"/><ellipse cx="474.9" cy="792.4" rx="1.5" ry="0.8" fill="#F2CF92"/>
<ellipse cx="-11.7" cy="673.0" rx="2.1" ry="1.3" fill="#C08D42"/><ellipse cx="-12.0" cy="672.5" rx="1.5" ry="0.8" fill="#F2CF92"/>
<ellipse cx="-2.6" cy="673.5" rx="2.1" ry="1.3" fill="#C08D42"/><ellipse cx="-2.9" cy="673.0" rx="1.5" ry="0.8" fill="#F2CF92"/>
<ellipse cx="0.9" cy="676.5" rx="2.1" ry="1.3" fill="#C08D42"/><ellipse cx="0.6" cy="676.0" rx="1.5" ry="0.8" fill="#F2CF92"/>
<ellipse cx="-14.8" cy="676.7" rx="2.1" ry="1.3" fill="#C08D42"/><ellipse cx="-15.1" cy="676.2" rx="1.5" ry="0.8" fill="#F2CF92"/>
<ellipse cx="-8.3" cy="679.6" rx="2.1" ry="1.3" fill="#C08D42"/><ellipse cx="-8.6" cy="679.1" rx="1.5" ry="0.8" fill="#F2CF92"/>
<ellipse cx="19.9" cy="681.9" rx="2.1" ry="1.3" fill="#C08D42"/><ellipse cx="19.6" cy="681.4" rx="1.5" ry="0.8" fill="#F2CF92"/>
<ellipse cx="29.1" cy="682.4" rx="2.1" ry="1.3" fill="#C08D42"/><ellipse cx="28.8" cy="681.9" rx="1.5" ry="0.8" fill="#F2CF92"/>
<ellipse cx="32.7" cy="685.4" rx="2.1" ry="1.3" fill="#C08D42"/><ellipse cx="32.4" cy="684.9" rx="1.5" ry="0.8" fill="#F2CF92"/>
<ellipse cx="16.9" cy="685.6" rx="2.1" ry="1.3" fill="#C08D42"/><ellipse cx="16.6" cy="685.1" rx="1.5" ry="0.8" fill="#F2CF92"/>
<ellipse cx="23.4" cy="688.5" rx="2.1" ry="1.3" fill="#C08D42"/><ellipse cx="23.1" cy="688.0" rx="1.5" ry="0.8" fill="#F2CF92"/>
<ellipse cx="51.9" cy="690.8" rx="2.1" ry="1.3" fill="#C08D42"/><ellipse cx="51.6" cy="690.3" rx="1.5" ry="0.8" fill="#F2CF92"/>
<ellipse cx="61.2" cy="691.3" rx="2.1" ry="1.3" fill="#C08D42"/><ellipse cx="60.9" cy="690.8" rx="1.5" ry="0.8" fill="#F2CF92"/>
<ellipse cx="64.8" cy="694.5" rx="2.1" ry="1.3" fill="#C08D42"/><ellipse cx="64.5" cy="694.0" rx="1.5" ry="0.8" fill="#F2CF92"/>
<ellipse cx="48.9" cy="694.6" rx="2.1" ry="1.3" fill="#C08D42"/><ellipse cx="48.6" cy="694.1" rx="1.5" ry="0.8" fill="#F2CF92"/>
<ellipse cx="55.6" cy="697.6" rx="2.1" ry="1.3" fill="#C08D42"/><ellipse cx="55.3" cy="697.1" rx="1.5" ry="0.8" fill="#F2CF92"/>
<ellipse cx="84.3" cy="699.9" rx="2.1" ry="1.3" fill="#C08D42"/><ellipse cx="84.0" cy="699.4" rx="1.5" ry="0.8" fill="#F2CF92"/>
<ellipse cx="93.7" cy="700.4" rx="2.1" ry="1.3" fill="#C08D42"/><ellipse cx="93.4" cy="699.9" rx="1.5" ry="0.8" fill="#F2CF92"/>
<ellipse cx="97.4" cy="703.6" rx="2.1" ry="1.3" fill="#C08D42"/><ellipse cx="97.1" cy="703.1" rx="1.5" ry="0.8" fill="#F2CF92"/>
<ellipse cx="81.4" cy="703.8" rx="2.1" ry="1.3" fill="#C08D42"/><ellipse cx="81.1" cy="703.3" rx="1.5" ry="0.8" fill="#F2CF92"/>
<ellipse cx="88.1" cy="706.7" rx="2.1" ry="1.3" fill="#C08D42"/><ellipse cx="87.8" cy="706.2" rx="1.5" ry="0.8" fill="#F2CF92"/>
<ellipse cx="117.1" cy="709.1" rx="2.1" ry="1.3" fill="#C08D42"/><ellipse cx="116.8" cy="708.6" rx="1.5" ry="0.8" fill="#F2CF92"/>
<ellipse cx="126.6" cy="709.6" rx="2.1" ry="1.3" fill="#C08D42"/><ellipse cx="126.3" cy="709.1" rx="1.5" ry="0.8" fill="#F2CF92"/>
<ellipse cx="130.4" cy="712.8" rx="2.1" ry="1.3" fill="#C08D42"/><ellipse cx="130.1" cy="712.3" rx="1.5" ry="0.8" fill="#F2CF92"/>
<ellipse cx="114.2" cy="713.0" rx="2.1" ry="1.3" fill="#C08D42"/><ellipse cx="113.9" cy="712.5" rx="1.5" ry="0.8" fill="#F2CF92"/>
<ellipse cx="121.1" cy="716.0" rx="2.1" ry="1.3" fill="#C08D42"/><ellipse cx="120.8" cy="715.5" rx="1.5" ry="0.8" fill="#F2CF92"/>
<ellipse cx="150.4" cy="718.4" rx="2.1" ry="1.3" fill="#C08D42"/><ellipse cx="150.1" cy="717.9" rx="1.5" ry="0.8" fill="#F2CF92"/>
<ellipse cx="159.9" cy="718.9" rx="2.1" ry="1.3" fill="#C08D42"/><ellipse cx="159.6" cy="718.4" rx="1.5" ry="0.8" fill="#F2CF92"/>
<ellipse cx="163.8" cy="722.2" rx="2.1" ry="1.3" fill="#C08D42"/><ellipse cx="163.5" cy="721.7" rx="1.5" ry="0.8" fill="#F2CF92"/>
<ellipse cx="147.5" cy="722.4" rx="2.1" ry="1.3" fill="#C08D42"/><ellipse cx="147.2" cy="721.9" rx="1.5" ry="0.8" fill="#F2CF92"/>
<ellipse cx="154.5" cy="725.4" rx="2.1" ry="1.3" fill="#C08D42"/><ellipse cx="154.2" cy="724.9" rx="1.5" ry="0.8" fill="#F2CF92"/>
<ellipse cx="184.1" cy="727.9" rx="2.1" ry="1.3" fill="#C08D42"/><ellipse cx="183.8" cy="727.4" rx="1.5" ry="0.8" fill="#F2CF92"/>
<ellipse cx="193.7" cy="728.4" rx="2.1" ry="1.3" fill="#C08D42"/><ellipse cx="193.4" cy="727.9" rx="1.5" ry="0.8" fill="#F2CF92"/>
<ellipse cx="197.7" cy="731.7" rx="2.1" ry="1.3" fill="#C08D42"/><ellipse cx="197.4" cy="731.2" rx="1.5" ry="0.8" fill="#F2CF92"/>
<ellipse cx="181.3" cy="731.8" rx="2.1" ry="1.3" fill="#C08D42"/><ellipse cx="181.0" cy="731.3" rx="1.5" ry="0.8" fill="#F2CF92"/>
<ellipse cx="188.4" cy="734.9" rx="2.1" ry="1.3" fill="#C08D42"/><ellipse cx="188.1" cy="734.4" rx="1.5" ry="0.8" fill="#F2CF92"/>
<ellipse cx="218.2" cy="737.4" rx="2.1" ry="1.3" fill="#C08D42"/><ellipse cx="217.9" cy="736.9" rx="1.5" ry="0.8" fill="#F2CF92"/>
<ellipse cx="227.9" cy="738.0" rx="2.1" ry="1.3" fill="#C08D42"/><ellipse cx="227.6" cy="737.5" rx="1.5" ry="0.8" fill="#F2CF92"/>
<ellipse cx="232.0" cy="741.3" rx="2.1" ry="1.3" fill="#C08D42"/><ellipse cx="231.7" cy="740.8" rx="1.5" ry="0.8" fill="#F2CF92"/>
<ellipse cx="215.4" cy="741.4" rx="2.1" ry="1.3" fill="#C08D42"/><ellipse cx="215.1" cy="740.9" rx="1.5" ry="0.8" fill="#F2CF92"/>
<ellipse cx="222.7" cy="744.6" rx="2.1" ry="1.3" fill="#C08D42"/><ellipse cx="222.4" cy="744.1" rx="1.5" ry="0.8" fill="#F2CF92"/>
<ellipse cx="265.8" cy="750.8" rx="2.1" ry="1.3" fill="#C08D42"/><ellipse cx="265.5" cy="750.3" rx="1.5" ry="0.8" fill="#F2CF92"/>
<ellipse cx="275.6" cy="751.3" rx="2.1" ry="1.3" fill="#C08D42"/><ellipse cx="275.3" cy="750.8" rx="1.5" ry="0.8" fill="#F2CF92"/>
<ellipse cx="279.9" cy="754.7" rx="2.1" ry="1.3" fill="#C08D42"/><ellipse cx="279.6" cy="754.2" rx="1.5" ry="0.8" fill="#F2CF92"/>
<ellipse cx="263.2" cy="754.9" rx="2.1" ry="1.3" fill="#C08D42"/><ellipse cx="262.9" cy="754.4" rx="1.5" ry="0.8" fill="#F2CF92"/>
<ellipse cx="270.5" cy="758.0" rx="2.1" ry="1.3" fill="#C08D42"/><ellipse cx="270.2" cy="757.5" rx="1.5" ry="0.8" fill="#F2CF92"/>
<ellipse cx="325.3" cy="770.1" rx="2.1" ry="1.3" fill="#C08D42"/><ellipse cx="325.0" cy="769.6" rx="1.5" ry="0.8" fill="#F2CF92"/>
<ellipse cx="335.3" cy="770.7" rx="2.1" ry="1.3" fill="#C08D42"/><ellipse cx="335.0" cy="770.2" rx="1.5" ry="0.8" fill="#F2CF92"/>
<ellipse cx="339.7" cy="774.1" rx="2.1" ry="1.3" fill="#C08D42"/><ellipse cx="339.4" cy="773.6" rx="1.5" ry="0.8" fill="#F2CF92"/>
<ellipse cx="322.7" cy="774.3" rx="2.1" ry="1.3" fill="#C08D42"/><ellipse cx="322.4" cy="773.8" rx="1.5" ry="0.8" fill="#F2CF92"/>
<ellipse cx="330.3" cy="777.5" rx="2.1" ry="1.3" fill="#C08D42"/><ellipse cx="330.0" cy="777.0" rx="1.5" ry="0.8" fill="#F2CF92"/>
<ellipse cx="368.3" cy="779.5" rx="2.1" ry="1.3" fill="#C08D42"/><ellipse cx="368.0" cy="779.0" rx="1.5" ry="0.8" fill="#F2CF92"/>
<ellipse cx="378.4" cy="780.1" rx="2.1" ry="1.3" fill="#C08D42"/><ellipse cx="378.1" cy="779.6" rx="1.5" ry="0.8" fill="#F2CF92"/>
<ellipse cx="382.9" cy="783.6" rx="2.1" ry="1.3" fill="#C08D42"/><ellipse cx="382.6" cy="783.1" rx="1.5" ry="0.8" fill="#F2CF92"/>
<ellipse cx="365.8" cy="783.7" rx="2.1" ry="1.3" fill="#C08D42"/><ellipse cx="365.5" cy="783.2" rx="1.5" ry="0.8" fill="#F2CF92"/>
<ellipse cx="373.6" cy="787.0" rx="2.1" ry="1.3" fill="#C08D42"/><ellipse cx="373.3" cy="786.5" rx="1.5" ry="0.8" fill="#F2CF92"/>
<ellipse cx="404.9" cy="789.7" rx="2.1" ry="1.3" fill="#C08D42"/><ellipse cx="404.6" cy="789.2" rx="1.5" ry="0.8" fill="#F2CF92"/>
<ellipse cx="415.1" cy="790.3" rx="2.1" ry="1.3" fill="#C08D42"/><ellipse cx="414.8" cy="789.8" rx="1.5" ry="0.8" fill="#F2CF92"/>
<ellipse cx="419.7" cy="793.9" rx="2.1" ry="1.3" fill="#C08D42"/><ellipse cx="419.4" cy="793.4" rx="1.5" ry="0.8" fill="#F2CF92"/>
<ellipse cx="402.5" cy="794.0" rx="2.1" ry="1.3" fill="#C08D42"/><ellipse cx="402.2" cy="793.5" rx="1.5" ry="0.8" fill="#F2CF92"/>
<ellipse cx="410.3" cy="797.4" rx="2.1" ry="1.3" fill="#C08D42"/><ellipse cx="410.0" cy="796.9" rx="1.5" ry="0.8" fill="#F2CF92"/>
<ellipse cx="442.0" cy="800.1" rx="2.1" ry="1.3" fill="#C08D42"/><ellipse cx="441.7" cy="799.6" rx="1.5" ry="0.8" fill="#F2CF92"/>
<ellipse cx="452.2" cy="800.7" rx="2.1" ry="1.3" fill="#C08D42"/><ellipse cx="451.9" cy="800.2" rx="1.5" ry="0.8" fill="#F2CF92"/>
<ellipse cx="457.0" cy="804.3" rx="2.1" ry="1.3" fill="#C08D42"/><ellipse cx="456.7" cy="803.8" rx="1.5" ry="0.8" fill="#F2CF92"/>
<ellipse cx="439.6" cy="804.5" rx="2.1" ry="1.3" fill="#C08D42"/><ellipse cx="439.3" cy="804.0" rx="1.5" ry="0.8" fill="#F2CF92"/>
<ellipse cx="447.6" cy="807.8" rx="2.1" ry="1.3" fill="#C08D42"/><ellipse cx="447.3" cy="807.3" rx="1.5" ry="0.8" fill="#F2CF92"/>
<ellipse cx="465.7" cy="818.2" rx="2.1" ry="1.3" fill="#C08D42"/><ellipse cx="465.4" cy="817.7" rx="1.5" ry="0.8" fill="#F2CF92"/>
<ellipse cx="476.1" cy="818.8" rx="2.1" ry="1.3" fill="#C08D42"/><ellipse cx="475.8" cy="818.3" rx="1.5" ry="0.8" fill="#F2CF92"/>
<ellipse cx="480.9" cy="822.5" rx="2.1" ry="1.3" fill="#C08D42"/><ellipse cx="480.6" cy="822.0" rx="1.5" ry="0.8" fill="#F2CF92"/>
<ellipse cx="463.4" cy="822.6" rx="2.1" ry="1.3" fill="#C08D42"/><ellipse cx="463.1" cy="822.1" rx="1.5" ry="0.8" fill="#F2CF92"/>
<ellipse cx="471.5" cy="826.1" rx="2.1" ry="1.3" fill="#C08D42"/><ellipse cx="471.2" cy="825.6" rx="1.5" ry="0.8" fill="#F2CF92"/>
<ellipse cx="27.5" cy="705.2" rx="2.1" ry="1.3" fill="#C08D42"/><ellipse cx="27.2" cy="704.7" rx="1.5" ry="0.8" fill="#F2CF92"/>
<ellipse cx="36.8" cy="705.7" rx="2.1" ry="1.3" fill="#C08D42"/><ellipse cx="36.5" cy="705.2" rx="1.5" ry="0.8" fill="#F2CF92"/>
<ellipse cx="40.5" cy="708.9" rx="2.1" ry="1.3" fill="#C08D42"/><ellipse cx="40.2" cy="708.4" rx="1.5" ry="0.8" fill="#F2CF92"/>
<ellipse cx="24.5" cy="709.1" rx="2.1" ry="1.3" fill="#C08D42"/><ellipse cx="24.2" cy="708.6" rx="1.5" ry="0.8" fill="#F2CF92"/>
<ellipse cx="31.1" cy="712.0" rx="2.1" ry="1.3" fill="#C08D42"/><ellipse cx="30.8" cy="711.5" rx="1.5" ry="0.8" fill="#F2CF92"/>
<ellipse cx="147.3" cy="739.3" rx="2.1" ry="1.3" fill="#C08D42"/><ellipse cx="147.0" cy="738.8" rx="1.5" ry="0.8" fill="#F2CF92"/>
<ellipse cx="156.9" cy="739.8" rx="2.1" ry="1.3" fill="#C08D42"/><ellipse cx="156.6" cy="739.3" rx="1.5" ry="0.8" fill="#F2CF92"/>
<ellipse cx="160.9" cy="743.1" rx="2.1" ry="1.3" fill="#C08D42"/><ellipse cx="160.6" cy="742.6" rx="1.5" ry="0.8" fill="#F2CF92"/>
<ellipse cx="144.4" cy="743.3" rx="2.1" ry="1.3" fill="#C08D42"/><ellipse cx="144.1" cy="742.8" rx="1.5" ry="0.8" fill="#F2CF92"/>
<ellipse cx="151.5" cy="746.4" rx="2.1" ry="1.3" fill="#C08D42"/><ellipse cx="151.2" cy="745.9" rx="1.5" ry="0.8" fill="#F2CF92"/>
<ellipse cx="181.4" cy="748.9" rx="2.1" ry="1.3" fill="#C08D42"/><ellipse cx="181.1" cy="748.4" rx="1.5" ry="0.8" fill="#F2CF92"/>
<ellipse cx="191.1" cy="749.5" rx="2.1" ry="1.3" fill="#C08D42"/><ellipse cx="190.8" cy="749.0" rx="1.5" ry="0.8" fill="#F2CF92"/>
<ellipse cx="195.1" cy="752.8" rx="2.1" ry="1.3" fill="#C08D42"/><ellipse cx="194.8" cy="752.3" rx="1.5" ry="0.8" fill="#F2CF92"/>
<ellipse cx="178.5" cy="753.0" rx="2.1" ry="1.3" fill="#C08D42"/><ellipse cx="178.2" cy="752.5" rx="1.5" ry="0.8" fill="#F2CF92"/>
<ellipse cx="185.7" cy="756.2" rx="2.1" ry="1.3" fill="#C08D42"/><ellipse cx="185.4" cy="755.7" rx="1.5" ry="0.8" fill="#F2CF92"/>
<ellipse cx="215.9" cy="758.8" rx="2.1" ry="1.3" fill="#C08D42"/><ellipse cx="215.6" cy="758.3" rx="1.5" ry="0.8" fill="#F2CF92"/>
<ellipse cx="225.7" cy="759.3" rx="2.1" ry="1.3" fill="#C08D42"/><ellipse cx="225.4" cy="758.8" rx="1.5" ry="0.8" fill="#F2CF92"/>
<ellipse cx="229.8" cy="762.7" rx="2.1" ry="1.3" fill="#C08D42"/><ellipse cx="229.5" cy="762.2" rx="1.5" ry="0.8" fill="#F2CF92"/>
<ellipse cx="213.1" cy="762.9" rx="2.1" ry="1.3" fill="#C08D42"/><ellipse cx="212.8" cy="762.4" rx="1.5" ry="0.8" fill="#F2CF92"/>
<ellipse cx="220.4" cy="766.1" rx="2.1" ry="1.3" fill="#C08D42"/><ellipse cx="220.1" cy="765.6" rx="1.5" ry="0.8" fill="#F2CF92"/>
<ellipse cx="261.5" cy="774.4" rx="2.1" ry="1.3" fill="#C08D42"/><ellipse cx="261.2" cy="773.9" rx="1.5" ry="0.8" fill="#F2CF92"/>
<ellipse cx="271.5" cy="775.0" rx="2.1" ry="1.3" fill="#C08D42"/><ellipse cx="271.2" cy="774.5" rx="1.5" ry="0.8" fill="#F2CF92"/>
<ellipse cx="275.7" cy="778.5" rx="2.1" ry="1.3" fill="#C08D42"/><ellipse cx="275.4" cy="778.0" rx="1.5" ry="0.8" fill="#F2CF92"/>
<ellipse cx="258.8" cy="778.6" rx="2.1" ry="1.3" fill="#C08D42"/><ellipse cx="258.5" cy="778.1" rx="1.5" ry="0.8" fill="#F2CF92"/>
<ellipse cx="266.3" cy="781.9" rx="2.1" ry="1.3" fill="#C08D42"/><ellipse cx="266.0" cy="781.4" rx="1.5" ry="0.8" fill="#F2CF92"/>
<ellipse cx="297.2" cy="784.6" rx="2.1" ry="1.3" fill="#C08D42"/><ellipse cx="296.9" cy="784.1" rx="1.5" ry="0.8" fill="#F2CF92"/>
<ellipse cx="307.2" cy="785.2" rx="2.1" ry="1.3" fill="#C08D42"/><ellipse cx="306.9" cy="784.7" rx="1.5" ry="0.8" fill="#F2CF92"/>
<ellipse cx="311.5" cy="788.7" rx="2.1" ry="1.3" fill="#C08D42"/><ellipse cx="311.2" cy="788.2" rx="1.5" ry="0.8" fill="#F2CF92"/>
<ellipse cx="294.5" cy="788.8" rx="2.1" ry="1.3" fill="#C08D42"/><ellipse cx="294.2" cy="788.3" rx="1.5" ry="0.8" fill="#F2CF92"/>
<ellipse cx="302.1" cy="792.1" rx="2.1" ry="1.3" fill="#C08D42"/><ellipse cx="301.8" cy="791.6" rx="1.5" ry="0.8" fill="#F2CF92"/>
<ellipse cx="333.3" cy="794.9" rx="2.1" ry="1.3" fill="#C08D42"/><ellipse cx="333.0" cy="794.4" rx="1.5" ry="0.8" fill="#F2CF92"/>
<ellipse cx="343.4" cy="795.5" rx="2.1" ry="1.3" fill="#C08D42"/><ellipse cx="343.1" cy="795.0" rx="1.5" ry="0.8" fill="#F2CF92"/>
<ellipse cx="347.8" cy="799.0" rx="2.1" ry="1.3" fill="#C08D42"/><ellipse cx="347.5" cy="798.5" rx="1.5" ry="0.8" fill="#F2CF92"/>
<ellipse cx="330.7" cy="799.2" rx="2.1" ry="1.3" fill="#C08D42"/><ellipse cx="330.4" cy="798.7" rx="1.5" ry="0.8" fill="#F2CF92"/>
<ellipse cx="338.4" cy="802.5" rx="2.1" ry="1.3" fill="#C08D42"/><ellipse cx="338.1" cy="802.0" rx="1.5" ry="0.8" fill="#F2CF92"/>
<ellipse cx="376.9" cy="804.6" rx="2.1" ry="1.3" fill="#C08D42"/><ellipse cx="376.6" cy="804.1" rx="1.5" ry="0.8" fill="#F2CF92"/>
<ellipse cx="387.1" cy="805.2" rx="2.1" ry="1.3" fill="#C08D42"/><ellipse cx="386.8" cy="804.7" rx="1.5" ry="0.8" fill="#F2CF92"/>
<ellipse cx="391.7" cy="808.8" rx="2.1" ry="1.3" fill="#C08D42"/><ellipse cx="391.4" cy="808.3" rx="1.5" ry="0.8" fill="#F2CF92"/>
<ellipse cx="374.4" cy="808.9" rx="2.1" ry="1.3" fill="#C08D42"/><ellipse cx="374.1" cy="808.4" rx="1.5" ry="0.8" fill="#F2CF92"/>
<ellipse cx="382.3" cy="812.3" rx="2.1" ry="1.3" fill="#C08D42"/><ellipse cx="382.0" cy="811.8" rx="1.5" ry="0.8" fill="#F2CF92"/>
<ellipse cx="414.1" cy="815.1" rx="2.1" ry="1.3" fill="#C08D42"/><ellipse cx="413.8" cy="814.6" rx="1.5" ry="0.8" fill="#F2CF92"/>
<ellipse cx="424.4" cy="815.7" rx="2.1" ry="1.3" fill="#C08D42"/><ellipse cx="424.1" cy="815.2" rx="1.5" ry="0.8" fill="#F2CF92"/>
<ellipse cx="429.1" cy="819.4" rx="2.1" ry="1.3" fill="#C08D42"/><ellipse cx="428.8" cy="818.9" rx="1.5" ry="0.8" fill="#F2CF92"/>
<ellipse cx="411.6" cy="819.5" rx="2.1" ry="1.3" fill="#C08D42"/><ellipse cx="411.3" cy="819.0" rx="1.5" ry="0.8" fill="#F2CF92"/>
<ellipse cx="419.6" cy="822.9" rx="2.1" ry="1.3" fill="#C08D42"/><ellipse cx="419.3" cy="822.4" rx="1.5" ry="0.8" fill="#F2CF92"/>
<clipPath id="cpcb"><polygon points="-52.4,571.2 630.0,750.0 492.0,828.5 471.0,837.5 457.0,842.5 -226.5,645.7"/></clipPath>
<polygon points="-52.8,515.3 630.0,686.0 460.0,776.0 -227.9,588.9" fill="#7a4e12" opacity="0.33" clip-path="url(#cpcb)"/>
<polygon points="-198.0,592.0 460.0,771.0 460.0,772.8 -198.0,593.8" fill="#8f9093" />
<polygon points="630.0,681.0 460.0,771.0 460.0,772.8 630.0,682.8" fill="#8f9093" />
<path d="M-23.0 517.8 L630.0 681.0 L460.0 771.0 L-198.0 592.0 Z M-24.7 521.7 L-4.2 526.8 L-18.3 532.9 L-38.8 527.7 Z M5.5 529.3 L26.2 534.5 L12.1 540.6 L-8.6 535.3 Z M36.0 536.9 L56.9 542.2 L42.8 548.3 L21.9 543.0 Z M66.8 544.7 L88.0 550.0 L73.9 556.2 L52.7 550.8 Z M98.0 552.5 L119.4 557.9 L105.4 564.1 L83.9 558.7 Z M129.5 560.4 L151.2 565.8 L137.1 572.2 L115.5 566.7 Z M161.4 568.4 L183.3 573.9 L169.3 580.3 L147.4 574.7 Z M193.7 576.5 L215.8 582.0 L201.8 588.5 L179.7 582.9 Z M226.3 584.7 L248.7 590.3 L234.7 596.8 L212.3 591.1 Z M259.3 592.9 L281.9 598.6 L267.9 605.2 L245.3 599.5 Z M292.6 601.3 L315.5 607.0 L301.6 613.7 L278.7 607.9 Z M326.4 609.8 L349.5 615.6 L335.6 622.3 L312.4 616.4 Z M360.5 618.3 L384.0 624.2 L370.1 631.0 L346.6 625.0 Z M395.0 627.0 L418.8 632.9 L404.9 639.8 L381.2 633.8 Z M430.0 635.7 L454.0 641.8 L440.1 648.7 L416.1 642.6 Z M483.2 649.1 L507.6 655.2 L493.8 662.2 L469.4 656.0 Z M519.1 658.1 L543.9 664.3 L530.1 671.4 L505.4 665.1 Z M555.6 667.2 L580.6 673.5 L566.9 680.7 L541.8 674.3 Z M592.4 676.5 L617.7 682.8 L604.0 690.1 L578.7 683.7 Z M-28.6 543.9 L-7.9 549.2 L-22.2 555.4 L-42.9 550.1 Z M1.9 551.7 L22.9 557.0 L8.6 563.3 L-12.4 557.9 Z M32.8 559.6 L54.0 565.0 L39.7 571.3 L18.5 565.8 Z M64.0 567.5 L85.5 573.0 L71.2 579.4 L49.7 573.8 Z M95.6 575.6 L117.3 581.1 L103.0 587.5 L81.3 582.0 Z M127.5 583.7 L149.4 589.3 L135.2 595.8 L113.3 590.2 Z M159.8 592.0 L182.0 597.6 L167.8 604.1 L145.6 598.5 Z M192.5 600.3 L214.9 606.0 L200.7 612.6 L178.3 606.8 Z M225.5 608.7 L248.2 614.5 L234.0 621.2 L211.3 615.3 Z M258.9 617.2 L281.9 623.1 L267.7 629.8 L244.7 623.9 Z M292.7 625.8 L315.9 631.8 L301.8 638.6 L278.6 632.6 Z M326.9 634.6 L350.4 640.5 L336.3 647.4 L312.8 641.4 Z M379.0 647.8 L402.9 653.9 L388.8 660.9 L364.9 654.8 Z M369.1 644.3 L380.3 647.2 L361.6 656.4 L350.4 653.5 Z M404.2 653.3 L415.5 656.1 L396.9 665.4 L385.5 662.5 Z M449.8 665.9 L474.3 672.1 L460.3 679.3 L435.8 673.0 Z M485.9 675.1 L510.6 681.4 L496.7 688.6 L471.9 682.2 Z M522.4 684.4 L547.4 690.8 L533.5 698.1 L508.4 691.6 Z M559.3 693.8 L584.7 700.3 L570.8 707.6 L545.4 701.1 Z M-10.2 567.6 L10.8 573.1 L-3.6 579.4 L-24.7 573.9 Z M20.8 575.7 L42.2 581.2 L27.7 587.6 L6.4 582.0 Z M52.2 583.8 L73.8 589.4 L59.4 595.8 L37.8 590.2 Z M84.0 592.0 L105.8 597.6 L91.4 604.2 L69.6 598.5 Z M116.2 600.3 L138.2 606.0 L123.8 612.6 L101.7 606.9 Z M148.7 608.7 L171.0 614.5 L156.6 621.1 L134.3 615.3 Z M181.5 617.2 L204.1 623.0 L189.8 629.8 L167.2 623.9 Z M214.8 625.8 L237.6 631.7 L223.3 638.5 L200.5 632.5 Z M248.5 634.5 L271.6 640.5 L257.2 647.3 L234.1 641.3 Z M282.5 643.3 L305.9 649.3 L291.6 656.3 L268.2 650.2 Z M316.9 652.2 L340.6 658.3 L326.3 665.3 L302.7 659.1 Z M360.6 663.5 L384.6 669.7 L370.3 676.8 L346.3 670.5 Z M422.8 679.5 L447.3 685.9 L433.1 693.1 L408.6 686.7 Z M458.9 688.9 L483.7 695.3 L469.5 702.6 L444.7 696.1 Z M495.4 698.3 L520.6 704.8 L506.4 712.2 L481.3 705.6 Z M518.9 715.0 L544.3 721.6 L530.2 729.1 L504.7 722.4 Z M-30.4 581.8 L-9.2 587.4 L-23.9 593.8 L-45.0 588.2 Z M0.8 590.0 L22.2 595.6 L7.6 602.1 L-13.8 596.4 Z M32.3 598.3 L54.0 603.9 L39.4 610.5 L17.7 604.8 Z M64.2 606.6 L86.1 612.3 L71.5 619.0 L49.6 613.2 Z M96.5 615.1 L118.6 620.9 L104.1 627.5 L81.9 621.7 Z M129.1 623.6 L151.5 629.5 L137.0 636.2 L114.5 630.3 Z M162.1 632.3 L184.8 638.2 L170.3 645.0 L147.6 639.0 Z M195.5 641.0 L218.4 647.0 L203.9 653.9 L181.0 647.8 Z M229.3 649.8 L252.5 655.9 L238.0 662.9 L214.8 656.8 Z M263.5 658.8 L287.0 665.0 L272.5 672.0 L249.0 665.8 Z M319.9 673.6 L343.8 679.8 L329.4 687.0 L305.5 680.7 Z M305.7 668.8 L316.9 671.8 L297.7 681.2 L286.6 678.2 Z M349.6 680.3 L361.0 683.3 L341.9 692.8 L330.5 689.8 Z M395.4 693.3 L419.9 699.8 L405.6 707.1 L381.0 700.6 Z M431.5 702.8 L456.4 709.3 L442.1 716.7 L417.2 710.1 Z M468.2 712.4 L493.3 719.0 L479.0 726.5 L453.9 719.8 Z M-11.7 606.6 L9.9 612.3 L-4.9 618.9 L-26.5 613.2 Z M20.1 615.0 L41.9 620.8 L27.1 627.5 L5.3 621.7 Z M52.2 623.6 L74.2 629.4 L59.5 636.2 L37.4 630.3 Z M84.6 632.2 L106.9 638.1 L92.2 644.9 L69.9 638.9 Z M117.5 640.9 L140.1 646.9 L125.3 653.8 L102.8 647.7 Z M150.7 649.7 L173.6 655.8 L158.9 662.7 L136.0 656.6 Z M184.4 658.7 L207.5 664.8 L192.8 671.8 L169.7 665.6 Z M218.4 667.7 L241.8 673.9 L227.1 681.0 L203.7 674.7 Z M265.8 680.3 L289.6 686.6 L275.0 693.8 L251.2 687.4 Z M324.9 698.5 L349.2 705.0 L334.6 712.3 L310.3 705.8 Z M367.6 707.3 L392.2 713.9 L377.7 721.2 L353.1 714.7 Z M403.9 716.9 L428.8 723.6 L414.3 731.0 L389.3 724.4 Z M440.6 726.7 L465.8 733.4 L451.3 740.9 L426.1 734.2 Z M463.8 743.8 L489.3 750.7 L474.8 758.3 L449.2 751.5 Z M27.7 637.6 L49.8 643.5 L34.9 650.3 L12.8 644.3 Z M147.6 669.8 L170.6 676.0 L155.8 683.1 L132.7 676.8 Z M181.6 679.0 L204.9 685.2 L190.0 692.4 L166.7 686.1 Z M215.9 688.2 L239.5 694.6 L224.7 701.8 L201.1 695.4 Z M261.3 703.0 L285.4 709.5 L270.6 716.8 L246.5 710.3 Z M296.7 712.6 L321.0 719.1 L306.3 726.5 L281.9 719.9 Z M332.5 722.2 L357.2 728.9 L342.4 736.3 L317.8 729.7 Z M375.8 731.3 L400.8 738.0 L386.1 745.5 L361.1 738.8 Z M412.6 741.1 L437.8 747.9 L423.2 755.6 L397.9 748.7 Z" fill="#B7B8BA" fill-rule="evenodd"  stroke="#CFD0D2" stroke-width="0.8"/>
<polygon points="104.1,621.3 166.8,637.8 157.2,642.2 94.5,625.7" fill="#ECECEC" stroke="#ECECEC" stroke-width="3" stroke-linejoin="round"/>
<polyline points="94.5,625.7 157.2,642.2 166.8,637.8" fill="none" stroke="#c9c9c9" stroke-width="1"/>
<polygon points="390.0,698.2 459.3,716.4 449.9,721.3 380.6,703.0" fill="#ECECEC" stroke="#ECECEC" stroke-width="3" stroke-linejoin="round"/>
<polyline points="380.6,703.0 449.9,721.3 459.3,716.4" fill="none" stroke="#c9c9c9" stroke-width="1"/>
<polygon points="-195.5,531.8 462.5,707.5 462.5,711.0 -195.5,535.3" fill="#151312" />
<polygon points="630.0,616.0 462.5,707.5 462.5,711.0 630.0,619.5" fill="#151312" />
<path d="M-23.0 456.0 L630.0 616.0 L462.5 707.5 L-195.5 531.8 Z M-30.1 460.6 L-11.5 465.2 L-24.1 470.7 L-42.7 466.1 Z M0.0 468.0 L18.9 472.6 L6.3 478.3 L-12.6 473.6 Z M30.5 475.5 L49.6 480.2 L37.0 485.9 L17.9 481.1 Z M61.3 483.1 L80.6 487.8 L68.0 493.6 L48.8 488.8 Z M92.5 490.8 L112.0 495.6 L99.4 501.3 L79.9 496.5 Z M124.0 498.5 L143.7 503.4 L131.2 509.2 L111.4 504.3 Z M155.8 506.4 L175.8 511.3 L163.3 517.1 L143.3 512.2 Z M188.1 514.3 L208.2 519.2 L195.7 525.2 L175.6 520.2 Z M220.6 522.3 L241.0 527.3 L228.5 533.3 L208.1 528.3 Z M253.6 530.4 L274.2 535.5 L261.8 541.5 L241.1 536.4 Z M286.9 538.6 L307.8 543.7 L295.3 549.9 L274.5 544.7 Z M320.6 546.9 L341.7 552.1 L329.3 558.3 L308.2 553.0 Z M354.7 555.3 L376.1 560.6 L363.7 566.8 L342.3 561.5 Z M389.2 563.8 L410.8 569.1 L398.5 575.4 L376.9 570.1 Z M424.2 572.4 L446.0 577.8 L433.7 584.1 L411.8 578.7 Z M477.3 585.5 L499.5 590.9 L487.2 597.4 L465.0 591.9 Z M513.2 594.3 L535.8 599.9 L523.5 606.4 L501.0 600.8 Z M549.6 603.3 L572.4 608.9 L560.2 615.5 L537.4 609.8 Z M586.4 612.3 L609.5 618.0 L597.3 624.7 L574.2 618.9 Z M-33.6 482.9 L-14.7 487.7 L-27.5 493.4 L-46.4 488.6 Z M-3.1 490.6 L16.0 495.4 L3.2 501.1 L-15.9 496.3 Z M27.7 498.3 L47.0 503.1 L34.3 508.9 L15.0 504.1 Z M58.9 506.1 L78.5 511.0 L65.7 516.9 L46.2 511.9 Z M90.5 514.0 L110.2 518.9 L97.5 524.9 L77.8 519.9 Z M122.4 522.0 L142.3 527.0 L129.6 533.0 L109.7 527.9 Z M154.6 530.1 L174.8 535.1 L162.1 541.1 L141.9 536.1 Z M187.3 538.2 L207.7 543.3 L195.0 549.4 L174.6 544.3 Z M220.3 546.5 L240.9 551.7 L228.3 557.8 L207.6 552.6 Z M253.6 554.8 L274.5 560.1 L261.9 566.3 L241.0 561.0 Z M287.4 563.3 L308.6 568.6 L295.9 574.9 L274.8 569.5 Z M321.6 571.9 L343.0 577.2 L330.4 583.5 L309.0 578.1 Z M373.6 584.9 L395.3 590.3 L382.8 596.7 L361.0 591.3 Z M362.7 581.1 L373.9 583.9 L356.8 592.6 L345.6 589.8 Z M397.7 589.9 L409.0 592.7 L392.0 601.5 L380.6 598.7 Z M444.4 602.6 L466.7 608.2 L454.2 614.7 L431.9 609.1 Z M480.4 611.6 L503.0 617.3 L490.5 623.9 L467.9 618.2 Z M516.9 620.7 L539.7 626.5 L527.3 633.1 L504.4 627.4 Z M553.8 630.0 L576.9 635.8 L564.5 642.5 L541.3 636.7 Z M-14.9 506.7 L4.3 511.6 L-8.6 517.4 L-27.8 512.5 Z M16.1 514.6 L35.5 519.5 L22.6 525.4 L3.2 520.4 Z M47.5 522.5 L67.1 527.5 L54.3 533.5 L34.6 528.5 Z M79.2 530.6 L99.1 535.6 L86.2 541.6 L66.4 536.6 Z M111.3 538.7 L131.4 543.8 L118.6 549.9 L98.5 544.8 Z M143.8 547.0 L164.1 552.1 L151.3 558.3 L131.0 553.1 Z M176.7 555.3 L197.2 560.5 L184.4 566.7 L163.9 561.5 Z M209.9 563.8 L230.7 569.0 L217.9 575.3 L197.1 570.0 Z M243.5 572.3 L264.6 577.6 L251.8 583.9 L230.7 578.6 Z M277.5 580.9 L298.8 586.3 L286.1 592.7 L264.8 587.2 Z M311.9 589.7 L333.5 595.1 L320.8 601.5 L299.2 596.0 Z M355.5 600.7 L377.4 606.3 L364.7 612.8 L342.8 607.2 Z M417.7 616.5 L440.0 622.1 L427.3 628.8 L405.0 623.1 Z M453.8 625.6 L476.3 631.4 L463.7 638.1 L441.1 632.3 Z M490.3 634.9 L513.1 640.7 L500.6 647.5 L477.7 641.6 Z M513.9 651.5 L537.0 657.4 L524.4 664.3 L501.2 658.3 Z M-34.7 521.1 L-15.5 526.0 L-28.5 532.0 L-47.8 527.0 Z M-3.6 529.1 L15.9 534.1 L2.9 540.1 L-16.6 535.1 Z M27.9 537.2 L47.6 542.3 L34.6 548.3 L14.9 543.2 Z M59.8 545.4 L79.7 550.5 L66.7 556.6 L46.8 551.5 Z M92.0 553.7 L112.2 558.9 L99.2 565.0 L79.0 559.8 Z M124.6 562.1 L145.0 567.3 L132.0 573.6 L111.6 568.3 Z M157.6 570.6 L178.2 575.9 L165.3 582.2 L144.6 576.8 Z M191.0 579.2 L211.8 584.5 L198.9 590.9 L178.0 585.5 Z M224.7 587.8 L245.8 593.3 L232.9 599.7 L211.8 594.2 Z M258.9 596.6 L280.3 602.1 L267.4 608.6 L246.0 603.1 Z M315.2 611.1 L337.0 616.7 L324.2 623.3 L302.4 617.7 Z M300.0 606.2 L311.2 609.1 L293.6 617.9 L282.5 615.0 Z M343.9 617.5 L355.2 620.4 L337.7 629.4 L326.4 626.4 Z M390.6 630.5 L413.0 636.3 L400.2 643.0 L377.8 637.2 Z M426.8 639.8 L449.4 645.7 L436.6 652.4 L414.0 646.6 Z M463.4 649.3 L486.3 655.1 L473.5 662.0 L450.6 656.1 Z M-15.7 545.9 L3.9 551.0 L-9.2 557.1 L-28.9 552.0 Z M16.0 554.2 L35.9 559.4 L22.7 565.5 L2.9 560.3 Z M48.1 562.5 L68.2 567.8 L55.0 574.0 L34.9 568.7 Z M80.5 571.0 L100.8 576.3 L87.7 582.6 L67.4 577.2 Z M113.4 579.6 L133.9 584.9 L120.8 591.3 L100.2 585.9 Z M146.6 588.2 L167.4 593.7 L154.3 600.0 L133.5 594.6 Z M180.2 597.0 L201.2 602.5 L188.1 608.9 L167.1 603.4 Z M214.2 605.9 L235.5 611.4 L222.4 617.9 L201.1 612.3 Z M261.6 618.2 L283.2 623.9 L270.2 630.5 L248.5 624.8 Z M320.6 636.2 L342.7 642.0 L329.7 648.7 L307.6 642.9 Z M363.3 644.8 L385.7 650.6 L372.7 657.4 L350.3 651.5 Z M399.5 654.2 L422.1 660.1 L409.2 667.0 L386.5 661.0 Z M436.1 663.8 L459.1 669.8 L446.2 676.7 L423.2 670.7 Z M459.5 680.9 L482.8 687.0 L469.8 694.0 L446.5 687.9 Z M24.1 576.8 L44.2 582.1 L30.9 588.4 L10.7 583.0 Z M143.8 608.4 L164.8 614.0 L151.5 620.5 L130.5 614.9 Z M177.7 617.4 L199.0 623.0 L185.7 629.6 L164.5 623.9 Z M212.1 626.5 L233.6 632.2 L220.3 638.8 L198.8 633.1 Z M257.5 641.1 L279.3 646.9 L266.1 653.6 L244.3 647.8 Z M292.8 650.5 L315.0 656.3 L301.8 663.2 L279.6 657.2 Z M328.6 660.0 L351.0 665.9 L337.9 672.8 L315.4 666.8 Z M371.8 668.8 L394.5 674.8 L381.4 681.7 L358.7 675.7 Z M408.5 678.5 L431.5 684.6 L418.4 691.6 L395.4 685.5 Z" fill="#2C2927" fill-rule="evenodd"  />
<polygon points="-198.0,476.6 460.0,649.0 460.0,651.2 -198.0,478.8" fill="#E2DCD8" opacity="0.97"/>
<polygon points="631.0,559.0 460.0,649.0 460.0,651.2 631.0,561.2" fill="#E2DCD8" opacity="0.97"/>
<path d="M-22.0 405.5 L631.0 559.0 L460.0 649.0 L-198.0 476.6 Z M-23.8 409.8 L-5.6 414.1 L-18.1 419.2 L-36.3 414.9 Z M5.6 416.7 L24.0 421.1 L11.6 426.2 L-6.9 421.8 Z M35.4 423.8 L54.1 428.2 L41.6 433.4 L22.9 428.9 Z M65.6 430.9 L84.5 435.4 L72.1 440.6 L53.1 436.1 Z M96.2 438.1 L115.4 442.7 L102.9 448.0 L83.7 443.4 Z M127.2 445.4 L146.7 450.0 L134.3 455.4 L114.8 450.8 Z M158.7 452.9 L178.4 457.5 L166.0 463.0 L146.3 458.3 Z M190.6 460.4 L210.6 465.1 L198.2 470.6 L178.2 465.9 Z M223.0 468.1 L243.3 472.8 L230.9 478.4 L210.6 473.6 Z M255.8 475.8 L276.4 480.7 L264.1 486.3 L243.4 481.4 Z M289.1 483.7 L310.0 488.6 L297.7 494.3 L276.8 489.3 Z M322.9 491.6 L344.1 496.7 L331.8 502.4 L310.6 497.4 Z M357.2 499.7 L378.7 504.8 L366.4 510.7 L344.9 505.5 Z M392.0 508.0 L413.8 513.1 L401.6 519.0 L379.7 513.8 Z M427.3 516.3 L449.5 521.5 L437.2 527.5 L415.1 522.2 Z M481.3 529.0 L503.9 534.4 L491.7 540.5 L469.1 535.1 Z M517.9 537.7 L540.9 543.1 L528.8 549.3 L505.7 543.8 Z M555.1 546.5 L578.5 552.0 L566.4 558.2 L543.0 552.7 Z M592.9 555.4 L616.6 561.0 L604.6 567.3 L580.8 561.7 Z M-28.5 430.7 L-10.1 435.1 L-22.8 440.4 L-41.2 435.9 Z M1.3 437.9 L20.0 442.4 L7.3 447.7 L-11.4 443.1 Z M31.5 445.2 L50.5 449.7 L37.8 455.1 L18.8 450.5 Z M62.2 452.6 L81.4 457.2 L68.7 462.6 L49.5 457.9 Z M93.2 460.1 L112.7 464.8 L100.0 470.2 L80.6 465.5 Z M124.7 467.7 L144.5 472.4 L131.8 478.0 L112.1 473.2 Z M156.7 475.4 L176.7 480.2 L164.1 485.8 L144.0 480.9 Z M189.1 483.2 L209.4 488.1 L196.8 493.8 L176.5 488.8 Z M222.0 491.1 L242.6 496.1 L230.0 501.8 L209.4 496.8 Z M255.3 499.2 L276.3 504.2 L263.7 510.0 L242.7 504.9 Z M289.2 507.3 L310.4 512.4 L297.9 518.3 L276.6 513.2 Z M323.5 515.6 L345.1 520.8 L332.6 526.8 L311.0 521.5 Z M376.0 528.3 L398.1 533.6 L385.6 539.6 L363.5 534.3 Z M365.0 524.6 L376.3 527.4 L359.2 535.6 L347.9 532.8 Z M400.5 533.2 L412.0 535.9 L394.9 544.3 L383.4 541.5 Z M447.9 545.6 L470.6 551.1 L458.2 557.3 L435.4 551.8 Z M484.6 554.4 L507.7 560.0 L495.3 566.3 L472.2 560.7 Z M521.9 563.4 L545.3 569.1 L533.0 575.5 L509.5 569.8 Z M559.8 572.6 L583.6 578.3 L571.3 584.8 L547.5 579.0 Z M-11.3 453.1 L7.5 457.7 L-5.4 463.1 L-24.2 458.4 Z M19.1 460.5 L38.2 465.2 L25.3 470.7 L6.2 466.0 Z M50.0 468.1 L69.3 472.9 L56.5 478.4 L37.1 473.6 Z M81.3 475.8 L100.9 480.6 L88.1 486.2 L68.4 481.3 Z M113.0 483.6 L133.0 488.5 L120.1 494.1 L100.2 489.2 Z M145.3 491.5 L165.5 496.4 L152.7 502.2 L132.4 497.2 Z M177.9 499.5 L198.4 504.5 L185.6 510.3 L165.1 505.2 Z M211.1 507.6 L231.9 512.7 L219.1 518.6 L198.3 513.5 Z M244.7 515.9 L265.9 521.1 L253.1 527.0 L232.0 521.8 Z M278.9 524.3 L300.3 529.5 L287.6 535.5 L266.1 530.2 Z M313.5 532.8 L335.3 538.1 L322.6 544.2 L300.8 538.8 Z M357.6 543.6 L379.8 549.0 L367.1 555.2 L344.9 549.7 Z M420.7 559.1 L443.5 564.6 L430.8 571.0 L408.1 565.3 Z M457.5 568.1 L480.6 573.8 L468.0 580.2 L444.9 574.4 Z M494.9 577.3 L518.4 583.0 L505.8 589.5 L482.3 583.7 Z M519.2 593.7 L543.1 599.6 L530.5 606.2 L506.6 600.2 Z M-31.9 466.6 L-13.0 471.4 L-26.0 476.9 L-44.9 472.1 Z M-1.3 474.3 L17.9 479.1 L4.8 484.6 L-14.3 479.8 Z M29.7 482.0 L49.2 486.9 L36.1 492.5 L16.7 487.6 Z M61.2 489.9 L80.9 494.8 L67.9 500.5 L48.1 495.5 Z M93.1 497.8 L113.1 502.8 L100.1 508.6 L80.0 503.5 Z M125.4 505.9 L145.7 511.0 L132.7 516.8 L112.4 511.7 Z M158.2 514.1 L178.8 519.2 L165.9 525.1 L145.3 520.0 Z M191.6 522.4 L212.5 527.6 L199.5 533.6 L178.6 528.3 Z M225.4 530.9 L246.6 536.2 L233.7 542.2 L212.4 536.9 Z M259.7 539.4 L281.2 544.8 L268.3 550.9 L246.8 545.5 Z M316.6 553.6 L338.6 559.1 L325.8 565.4 L303.7 559.8 Z M301.2 548.8 L312.5 551.6 L294.8 560.1 L283.5 557.2 Z M345.6 559.8 L357.1 562.7 L339.5 571.3 L328.0 568.4 Z M393.1 572.7 L415.9 578.4 L403.1 584.8 L380.3 579.1 Z M430.0 581.9 L453.1 587.7 L440.4 594.2 L417.2 588.4 Z M467.4 591.3 L491.0 597.2 L478.2 603.7 L454.7 597.8 Z M-14.3 490.2 L5.0 495.1 L-8.2 500.8 L-27.5 495.9 Z M16.9 498.2 L36.5 503.2 L23.3 508.9 L3.7 503.9 Z M48.6 506.2 L68.5 511.3 L55.3 517.1 L35.4 512.0 Z M80.8 514.4 L101.0 519.5 L87.8 525.4 L67.6 520.2 Z M113.4 522.7 L133.9 527.9 L120.7 533.8 L100.2 528.6 Z M146.5 531.1 L167.3 536.4 L154.1 542.4 L133.4 537.1 Z M180.1 539.6 L201.2 545.0 L188.1 551.1 L167.0 545.7 Z M214.2 548.3 L235.6 553.7 L222.5 559.9 L201.1 554.4 Z M262.0 560.4 L283.8 566.0 L270.7 572.3 L248.9 566.7 Z M321.7 578.1 L344.2 583.8 L331.1 590.3 L308.6 584.5 Z M365.1 586.6 L387.9 592.4 L374.9 598.9 L352.0 593.1 Z M402.0 596.0 L425.2 601.9 L412.3 608.5 L389.0 602.6 Z M439.6 605.5 L463.1 611.5 L450.2 618.2 L426.6 612.2 Z M463.6 622.5 L487.6 628.7 L474.6 635.5 L450.6 629.3 Z M23.8 519.8 L43.7 525.0 L30.3 530.9 L10.4 525.7 Z M143.0 550.6 L164.0 556.1 L150.6 562.2 L129.6 556.8 Z M177.0 559.4 L198.3 565.0 L185.0 571.2 L163.6 565.6 Z M211.5 568.4 L233.2 574.0 L219.9 580.3 L198.2 574.6 Z M257.3 582.8 L279.4 588.5 L266.1 595.0 L244.0 589.2 Z M293.1 592.1 L315.6 597.9 L302.3 604.4 L279.8 598.5 Z M329.5 601.5 L352.4 607.4 L339.1 614.0 L316.3 608.0 Z M373.6 610.3 L396.9 616.3 L383.7 623.0 L360.4 616.9 Z M411.2 620.0 L434.9 626.1 L421.7 632.9 L398.1 626.8 Z" fill="url(#gplate)" fill-rule="evenodd" opacity="0.97" stroke="#DDD7D3" stroke-width="0.9"/>
<polygon points="-57.0,309.1 627.0,463.0 615.1,469.0 -69.3,314.3" fill="#EFE7DB" />
<polygon points="457.0,432.3 472.7,435.8 358.2,491.1 342.4,487.4" fill="#E4DAD2" opacity="0.8"/>
<clipPath id="cbgo"><polygon points="0,0 622.5,0 306,1200 0,1200"/></clipPath>
<polygon points="-172.3,358.2 271.7,462.0 361.0,489.8 485.7,519.0 448.5,537.5 -220.4,378.6" fill="#F8E8D1" />
<polygon points="-172.3,358.2 271.7,462.0 361.0,489.8 485.7,519.0 448.5,537.5 -220.4,378.6" fill="#D75E2D" clip-path="url(#cbgo)"/>
<path d="M-172.3 358.2 L271.7 462.0 L224.4 484.3 L-220.4 378.6 Z" fill="#D9CFC9" fill-rule="evenodd" opacity="0.8"/>
<polygon points="-44.0,398.2 -24.1,402.9 -39.4,409.7 -59.3,404.9" fill="#D75E2D" />
<polygon points="-11.8,405.8 8.3,410.5 -7.0,417.3 -27.1,412.6" fill="#D75E2D" />
<polygon points="20.7,413.4 40.9,418.2 25.7,425.0 5.4,420.2" fill="#D75E2D" />
<polygon points="53.4,421.1 73.8,425.9 58.5,432.8 38.1,428.0" fill="#D75E2D" />
<polygon points="86.3,428.8 106.9,433.7 91.7,440.6 71.1,435.7" fill="#D75E2D" />
<polygon points="119.5,436.6 140.2,441.5 125.0,448.5 104.3,443.6" fill="#D75E2D" />
<polygon points="153.0,444.5 173.8,449.4 158.7,456.4 137.8,451.5" fill="#D75E2D" />
<polygon points="186.7,452.4 207.7,457.4 192.6,464.4 171.5,459.5" fill="#D75E2D" />
<polygon points="220.6,460.4 241.8,465.4 226.7,472.5 205.5,467.5" fill="#D75E2D" />
<polygon points="261.7,460.6 374.6,487.0 328.9,509.1 215.8,482.2" fill="#E9E0D2" />
<polygon points="264.7,465.3 323.5,479.0 297.1,491.7 238.2,477.8" fill="#D9CFBF" />
<polygon points="264.7,465.3 323.5,479.0 313.8,483.7 255.0,469.9" fill="#C6BCAB" />
<polygon points="309.6,485.7 346.4,494.3 324.0,505.1 287.2,496.4" fill="#D9CFBF" />
<polygon points="309.6,485.7 346.4,494.3 340.8,497.0 304.0,488.4" fill="#C6BCAB" />
<polygon points="311.4,491.1 332.4,496.0 322.6,500.8 301.6,495.8" fill="#D75E2D" />
<polygon points="247.7,483.0 265.0,487.1 260.0,489.5 242.7,485.4" fill="#D75E2D" opacity="0.75"/>
<polygon points="275.6,492.0 293.0,496.2 288.5,498.3 271.1,494.2" fill="#D75E2D" opacity="0.75"/>
<path d="M361.0 489.8 L485.7 519.0 L448.5 537.5 L323.6 507.9 Z" fill="#D9CFC9" fill-rule="evenodd" opacity="0.8"/>
<polygon points="364.0,498.5 392.3,505.1 377.8,512.2 349.5,505.5" fill="#D75E2D" />
<polygon points="402.9,507.7 431.5,514.4 417.0,521.5 388.4,514.7" fill="#D75E2D" />
<polygon points="442.2,516.9 467.4,522.8 453.0,530.0 427.8,524.0" fill="#D75E2D" />
<polygon points="536.0,446.3 607.3,462.4 549.8,491.1 478.2,474.6" fill="#DED7CB" />
<polygon points="543.5,452.8 595.3,464.5 578.0,473.1 526.2,461.3" fill="#A8A196" />
<polygon points="532.1,458.4 583.8,470.2 578.0,473.1 526.2,461.3" fill="#C9C2B6" />
<polygon points="518.6,465.0 570.5,476.8 553.8,485.1 501.9,473.3" fill="#A8A196" />
<polygon points="507.3,470.6 559.2,482.5 553.8,485.1 501.9,473.3" fill="#C9C2B6" />
<polygon points="-220.4,378.6 468.4,542.3 457.0,548.0 -232.2,383.6" fill="#EFE7DB" />
<polygon points="607.2,458.6 627.0,463.0 457.0,548.0 437.0,543.2" fill="#DED7CB" />
<polygon points="-232.2,383.6 457.0,548.0 457.0,576.0 -232.2,416.6" fill="#EADFCE" />
<polygon points="627.0,463.0 457.0,548.0 457.0,576.0 627.0,496.0" fill="#D6CEC1" />
<polygon points="549.3,531.8 538.4,537.3 541.4,530.3 550.3,527.8" fill="#F8E8D1" />
<polyline points="-232.2,383.6 457.0,548.0 627.0,463.0" fill="none" stroke="#F6F0E6" stroke-width="1.8"/>
<polygon points="453.0,547.0 462.0,545.5 461.0,576.0 453.0,576.0" fill="#E2D8C8" />
<rect x="102.4" y="431.2" width="3" height="8" rx="1.2" fill="#F3E9DC" stroke="#d9c9b8" stroke-width="0.5"/>
<rect x="407.3" y="508.1" width="3" height="8" rx="1.2" fill="#F3E9DC" stroke="#d9c9b8" stroke-width="0.5"/>
<text x="0" y="0" transform="translate(357.9,540.0) rotate(13.5) skewX(-10)" font-family="'Liberation Serif', serif" font-weight="700" font-size="8" fill="#c9bda8" letter-spacing="0.2">FREEWOLF</text>
<path d="M343.9 529.0 l7 -1 l5 6 l-3 8 l-8 -2 z" fill="none" stroke="#c9bda8" stroke-width="1"/>
<line x1="-11.6" y1="264.2" x2="-11.6" y2="269.3" stroke="#a9a49e" stroke-width="0.9"/>
<line x1="-0.7" y1="266.7" x2="-0.7" y2="271.8" stroke="#a9a49e" stroke-width="0.9"/>
<polygon points="-23.7,264.5 0.0,270.0 0.0,259.8 -23.7,254.3" fill="#ECEFF2" />
<polygon points="20.5,261.9 0.0,270.0 0.0,259.8 20.5,251.7" fill="#CBD1D7" />
<polygon points="-3.2,246.3 20.5,251.7 0.0,259.8 -23.7,254.3" fill="#DCE0E5" />
<line x1="-18.7" y1="261.1" x2="-6.2" y2="264.0" stroke="#8f979f" stroke-width="1.4"/>
<polygon points="-28.3,254.6 0.4,261.3 -0.2,250.5 -20.8,245.7" fill="#76818C" opacity="0.9"/>
<polygon points="25.1,251.4 0.4,261.3 -0.2,250.5 17.6,243.4" fill="#58626D" opacity="0.9"/>
<polygon points="-3.0,238.7 17.6,243.4 -0.2,250.5 -20.8,245.7" fill="#838E99" opacity="0.9"/>
<polygon points="-17.3,253.6 -4.8,256.5 -4.4,249.0 -15.0,246.6" fill="#2E86DA" opacity="0.32"/>
<polygon points="14.2,251.9 4.5,255.8 3.7,248.3 11.8,245.1" fill="#2272C4" opacity="0.3"/>
<polygon points="-2.0,240.5 11.7,243.6 0.4,248.1 -13.3,244.9" fill="#3B8FDF" />
<polygon points="-9.3,245.1 1.9,247.7 1.9,240.0 -9.3,237.4" fill="#2A8AE4" />
<polygon points="6.2,246.0 1.9,247.7 1.9,240.0 6.2,238.3" fill="#1B6FC4" />
<polygon points="-5.0,235.7 6.2,238.3 1.9,240.0 -9.3,237.4" fill="#47A1F1" />
<polygon points="-8.9,246.9 -3.9,248.1 -3.9,240.3 -8.9,239.2" fill="#2A8AE4" />
<polygon points="5.8,244.2 -3.9,248.1 -3.9,240.3 5.8,236.5" fill="#1B6FC4" />
<polygon points="0.8,235.3 5.8,236.5 -3.9,240.3 -8.9,239.2" fill="#47A1F1" />
<line x1="19.6" y1="271.4" x2="19.6" y2="276.5" stroke="#a9a49e" stroke-width="0.9"/>
<line x1="30.6" y1="274.0" x2="30.6" y2="279.1" stroke="#a9a49e" stroke-width="0.9"/>
<polygon points="7.6,271.7 31.4,277.2 31.4,267.0 7.6,261.5" fill="#ECEFF2" />
<polygon points="51.9,269.0 31.4,277.2 31.4,267.0 51.9,258.8" fill="#CBD1D7" />
<polygon points="28.0,253.4 51.9,258.8 31.4,267.0 7.6,261.5" fill="#DCE0E5" />
<line x1="12.6" y1="268.2" x2="25.1" y2="271.1" stroke="#8f979f" stroke-width="1.4"/>
<polygon points="2.9,261.8 31.8,268.4 31.2,257.6 10.5,252.8" fill="#76818C" opacity="0.9"/>
<polygon points="56.5,258.5 31.8,268.4 31.2,257.6 48.9,250.5" fill="#58626D" opacity="0.9"/>
<polygon points="28.2,245.7 48.9,250.5 31.2,257.6 10.5,252.8" fill="#838E99" opacity="0.9"/>
<polygon points="14.0,260.7 26.6,263.6 27.0,256.1 16.3,253.6" fill="#2E86DA" opacity="0.32"/>
<polygon points="45.6,259.0 35.9,262.9 35.1,255.4 43.2,252.2" fill="#2272C4" opacity="0.3"/>
<polygon points="29.3,247.5 43.1,250.7 31.8,255.2 18.0,252.0" fill="#3B8FDF" />
<polygon points="21.9,252.2 33.2,254.8 33.2,247.0 21.9,244.4" fill="#2A8AE4" />
<polygon points="37.5,253.1 33.2,254.8 33.2,247.0 37.5,245.3" fill="#1B6FC4" />
<polygon points="26.2,242.7 37.5,245.3 33.2,247.0 21.9,244.4" fill="#47A1F1" />
<polygon points="22.4,254.0 27.4,255.1 27.4,247.3 22.4,246.2" fill="#2A8AE4" />
<polygon points="37.1,251.3 27.4,255.1 27.4,247.3 37.1,243.5" fill="#1B6FC4" />
<polygon points="32.0,242.3 37.1,243.5 27.4,247.3 22.4,246.2" fill="#47A1F1" />
<line x1="51.1" y1="278.7" x2="51.1" y2="283.8" stroke="#a9a49e" stroke-width="0.9"/>
<line x1="62.2" y1="281.2" x2="62.2" y2="286.4" stroke="#a9a49e" stroke-width="0.9"/>
<polygon points="39.0,278.9 63.1,284.5 63.1,274.2 39.0,268.6" fill="#ECEFF2" />
<polygon points="83.5,276.3 63.1,284.5 63.1,274.2 83.5,266.0" fill="#CBD1D7" />
<polygon points="59.4,260.5 83.5,266.0 63.1,274.2 39.0,268.6" fill="#DCE0E5" />
<line x1="44.1" y1="275.5" x2="56.7" y2="278.4" stroke="#8f979f" stroke-width="1.4"/>
<polygon points="34.3,268.9 63.5,275.7 62.8,264.7 41.9,259.9" fill="#76818C" opacity="0.9"/>
<polygon points="88.1,265.7 63.5,275.7 62.8,264.7 80.5,257.6" fill="#58626D" opacity="0.9"/>
<polygon points="59.7,252.8 80.5,257.6 62.8,264.7 41.9,259.9" fill="#838E99" opacity="0.9"/>
<polygon points="45.5,267.9 58.2,270.8 58.6,263.2 47.8,260.7" fill="#2E86DA" opacity="0.32"/>
<polygon points="77.2,266.2 67.5,270.1 66.7,262.5 74.8,259.3" fill="#2272C4" opacity="0.3"/>
<polygon points="60.7,254.6 74.6,257.7 63.4,262.3 49.4,259.1" fill="#3B8FDF" />
<polygon points="53.4,259.3 64.8,261.9 64.8,254.0 53.4,251.4" fill="#2A8AE4" />
<polygon points="69.1,260.2 64.8,261.9 64.8,254.0 69.1,252.3" fill="#1B6FC4" />
<polygon points="57.7,249.7 69.1,252.3 64.8,254.0 53.4,251.4" fill="#47A1F1" />
<polygon points="53.9,261.1 58.9,262.3 58.9,254.4 53.9,253.2" fill="#2A8AE4" />
<polygon points="68.6,258.4 58.9,262.3 58.9,254.4 68.6,250.5" fill="#1B6FC4" />
<polygon points="63.5,249.4 68.6,250.5 58.9,254.4 53.9,253.2" fill="#47A1F1" />
<line x1="82.9" y1="286.0" x2="82.9" y2="291.2" stroke="#a9a49e" stroke-width="0.9"/>
<line x1="94.0" y1="288.6" x2="94.0" y2="293.7" stroke="#a9a49e" stroke-width="0.9"/>
<polygon points="70.7,286.2 95.0,291.8 95.0,281.5 70.7,275.9" fill="#ECEFF2" />
<polygon points="115.3,283.6 95.0,291.8 95.0,281.5 115.3,273.2" fill="#CBD1D7" />
<polygon points="91.1,267.6 115.3,273.2 95.0,281.5 70.7,275.9" fill="#DCE0E5" />
<line x1="75.8" y1="282.8" x2="88.6" y2="285.7" stroke="#8f979f" stroke-width="1.4"/>
<polygon points="66.0,276.2 95.4,282.9 94.7,271.9 73.6,267.1" fill="#76818C" opacity="0.9"/>
<polygon points="120.0,272.9 95.4,282.9 94.7,271.9 112.4,264.7" fill="#58626D" opacity="0.9"/>
<polygon points="91.3,259.9 112.4,264.7 94.7,271.9 73.6,267.1" fill="#838E99" opacity="0.9"/>
<polygon points="77.2,275.1 90.0,278.1 90.4,270.4 79.5,267.9" fill="#2E86DA" opacity="0.32"/>
<polygon points="109.0,273.4 99.4,277.3 98.6,269.7 106.6,266.5" fill="#2272C4" opacity="0.3"/>
<polygon points="92.4,261.7 106.5,264.9 95.2,269.5 81.2,266.2" fill="#3B8FDF" />
<polygon points="85.1,266.4 96.6,269.1 96.6,261.2 85.1,258.5" fill="#2A8AE4" />
<polygon points="100.9,267.3 96.6,269.1 96.6,261.2 100.9,259.4" fill="#1B6FC4" />
<polygon points="89.4,256.8 100.9,259.4 96.6,261.2 85.1,258.5" fill="#47A1F1" />
<polygon points="85.6,268.3 90.7,269.4 90.7,261.5 85.6,260.3" fill="#2A8AE4" />
<polygon points="100.4,265.5 90.7,269.4 90.7,261.5 100.4,257.6" fill="#1B6FC4" />
<polygon points="95.3,256.4 100.4,257.6 90.7,261.5 85.6,260.3" fill="#47A1F1" />
<line x1="114.8" y1="293.3" x2="114.8" y2="298.6" stroke="#a9a49e" stroke-width="0.9"/>
<line x1="126.1" y1="295.9" x2="126.1" y2="301.2" stroke="#a9a49e" stroke-width="0.9"/>
<polygon points="102.6,293.6 127.1,299.2 127.1,288.8 102.6,283.2" fill="#ECEFF2" />
<polygon points="147.4,290.9 127.1,299.2 127.1,288.8 147.4,280.5" fill="#CBD1D7" />
<polygon points="123.0,274.9 147.4,280.5 127.1,288.8 102.6,283.2" fill="#DCE0E5" />
<line x1="107.8" y1="290.1" x2="120.6" y2="293.1" stroke="#8f979f" stroke-width="1.4"/>
<polygon points="97.9,283.4 127.5,290.3 126.8,279.2 105.6,274.3" fill="#76818C" opacity="0.9"/>
<polygon points="152.1,280.2 127.5,290.3 126.8,279.2 144.4,271.9" fill="#58626D" opacity="0.9"/>
<polygon points="123.2,267.1 144.4,271.9 126.8,279.2 105.6,274.3" fill="#838E99" opacity="0.9"/>
<polygon points="109.2,282.4 122.1,285.4 122.5,277.6 111.5,275.1" fill="#2E86DA" opacity="0.32"/>
<polygon points="141.1,280.7 131.5,284.6 130.7,277.0 138.7,273.7" fill="#2272C4" opacity="0.3"/>
<polygon points="124.4,268.9 138.5,272.1 127.3,276.7 113.1,273.4" fill="#3B8FDF" />
<polygon points="117.1,273.7 128.7,276.3 128.7,268.3 117.1,265.7" fill="#2A8AE4" />
<polygon points="132.9,274.6 128.7,276.3 128.7,268.3 132.9,266.6" fill="#1B6FC4" />
<polygon points="121.4,263.9 132.9,266.6 128.7,268.3 117.1,265.7" fill="#47A1F1" />
<polygon points="117.6,275.5 122.8,276.7 122.8,268.7 117.6,267.5" fill="#2A8AE4" />
<polygon points="132.4,272.7 122.8,276.7 122.8,268.7 132.4,264.8" fill="#1B6FC4" />
<polygon points="127.3,263.6 132.4,264.8 122.8,268.7 117.6,267.5" fill="#47A1F1" />
<line x1="147.1" y1="300.8" x2="147.1" y2="306.0" stroke="#a9a49e" stroke-width="0.9"/>
<line x1="158.4" y1="303.4" x2="158.4" y2="308.6" stroke="#a9a49e" stroke-width="0.9"/>
<polygon points="134.8,301.0 159.4,306.7 159.4,296.2 134.8,290.5" fill="#ECEFF2" />
<polygon points="179.7,298.3 159.4,306.7 159.4,296.2 179.7,287.8" fill="#CBD1D7" />
<polygon points="155.1,282.2 179.7,287.8 159.4,296.2 134.8,290.5" fill="#DCE0E5" />
<line x1="140.0" y1="297.5" x2="152.9" y2="300.5" stroke="#8f979f" stroke-width="1.4"/>
<polygon points="130.1,290.8 159.9,297.7 159.1,286.5 137.8,281.5" fill="#76818C" opacity="0.9"/>
<polygon points="184.4,287.5 159.9,297.7 159.1,286.5 176.8,279.2" fill="#58626D" opacity="0.9"/>
<polygon points="155.4,274.3 176.8,279.2 159.1,286.5 137.8,281.5" fill="#838E99" opacity="0.9"/>
<polygon points="141.4,289.8 154.4,292.7 154.8,284.9 143.7,282.4" fill="#2E86DA" opacity="0.32"/>
<polygon points="173.4,288.0 163.8,292.0 163.0,284.3 171.0,281.0" fill="#2272C4" opacity="0.3"/>
<polygon points="156.6,276.1 170.8,279.4 159.6,284.0 145.3,280.7" fill="#3B8FDF" />
<polygon points="149.3,280.9 161.0,283.6 161.0,275.6 149.3,272.9" fill="#2A8AE4" />
<polygon points="165.2,281.8 161.0,283.6 161.0,275.6 165.2,273.8" fill="#1B6FC4" />
<polygon points="153.6,271.1 165.2,273.8 161.0,275.6 149.3,272.9" fill="#47A1F1" />
<polygon points="149.9,282.8 155.1,284.0 155.1,275.9 149.9,274.7" fill="#2A8AE4" />
<polygon points="164.7,280.0 155.1,284.0 155.1,275.9 164.7,272.0" fill="#1B6FC4" />
<polygon points="159.5,270.8 164.7,272.0 155.1,275.9 149.9,274.7" fill="#47A1F1" />
<line x1="179.5" y1="308.2" x2="179.5" y2="313.5" stroke="#a9a49e" stroke-width="0.9"/>
<line x1="191.0" y1="310.9" x2="191.0" y2="316.2" stroke="#a9a49e" stroke-width="0.9"/>
<polygon points="167.2,308.5 192.0,314.2 192.0,303.6 167.2,297.9" fill="#ECEFF2" />
<polygon points="212.3,305.8 192.0,314.2 192.0,303.6 212.3,295.2" fill="#CBD1D7" />
<polygon points="187.5,289.5 212.3,295.2 192.0,303.6 167.2,297.9" fill="#DCE0E5" />
<line x1="172.4" y1="304.9" x2="185.5" y2="307.9" stroke="#8f979f" stroke-width="1.4"/>
<polygon points="162.5,298.2 192.5,305.1 191.7,293.8 170.2,288.9" fill="#76818C" opacity="0.9"/>
<polygon points="217.0,294.9 192.5,305.1 191.7,293.8 209.3,286.5" fill="#58626D" opacity="0.9"/>
<polygon points="187.8,281.6 209.3,286.5 191.7,293.8 170.2,288.9" fill="#838E99" opacity="0.9"/>
<polygon points="173.9,297.1 187.0,300.2 187.3,292.3 176.2,289.7" fill="#2E86DA" opacity="0.32"/>
<polygon points="206.0,295.4 196.4,299.4 195.6,291.6 203.6,288.3" fill="#2272C4" opacity="0.3"/>
<polygon points="189.0,283.4 203.3,286.7 192.1,291.3 177.8,288.0" fill="#3B8FDF" />
<polygon points="181.8,288.2 193.5,290.9 193.5,282.9 181.8,280.2" fill="#2A8AE4" />
<polygon points="197.8,289.2 193.5,290.9 193.5,282.9 197.8,281.1" fill="#1B6FC4" />
<polygon points="186.0,278.4 197.8,281.1 193.5,282.9 181.8,280.2" fill="#47A1F1" />
<polygon points="182.4,290.1 187.6,291.3 187.6,283.2 182.4,282.0" fill="#2A8AE4" />
<polygon points="197.2,287.3 187.6,291.3 187.6,283.2 197.2,279.2" fill="#1B6FC4" />
<polygon points="191.9,278.0 197.2,279.2 187.6,283.2 182.4,282.0" fill="#47A1F1" />
<line x1="212.3" y1="315.8" x2="212.3" y2="321.1" stroke="#a9a49e" stroke-width="0.9"/>
<line x1="223.8" y1="318.4" x2="223.8" y2="323.8" stroke="#a9a49e" stroke-width="0.9"/>
<polygon points="199.9,316.0 224.9,321.8 224.9,311.1 199.9,305.3" fill="#ECEFF2" />
<polygon points="245.1,313.3 224.9,321.8 224.9,311.1 245.1,302.6" fill="#CBD1D7" />
<polygon points="220.1,296.9 245.1,302.6 224.9,311.1 199.9,305.3" fill="#DCE0E5" />
<line x1="205.2" y1="312.4" x2="218.3" y2="315.5" stroke="#8f979f" stroke-width="1.4"/>
<polygon points="195.1,305.6 225.4,312.6 224.6,301.3 202.9,296.3" fill="#76818C" opacity="0.9"/>
<polygon points="249.8,302.3 225.4,312.6 224.6,301.3 242.1,293.9" fill="#58626D" opacity="0.9"/>
<polygon points="220.4,288.9 242.1,293.9 224.6,301.3 202.9,296.3" fill="#838E99" opacity="0.9"/>
<polygon points="206.6,304.6 219.8,307.6 220.1,299.7 208.9,297.1" fill="#2E86DA" opacity="0.32"/>
<polygon points="238.8,302.8 229.2,306.9 228.4,299.0 236.4,295.7" fill="#2272C4" opacity="0.3"/>
<polygon points="221.7,290.7 236.1,294.0 225.0,298.7 210.5,295.4" fill="#3B8FDF" />
<polygon points="214.5,295.6 226.3,298.3 226.3,290.2 214.5,287.5" fill="#2A8AE4" />
<polygon points="230.6,296.5 226.3,298.3 226.3,290.2 230.6,288.4" fill="#1B6FC4" />
<polygon points="218.7,285.7 230.6,288.4 226.3,290.2 214.5,287.5" fill="#47A1F1" />
<polygon points="215.1,297.5 220.3,298.7 220.3,290.6 215.1,289.3" fill="#2A8AE4" />
<polygon points="229.9,294.7 220.3,298.7 220.3,290.6 229.9,286.5" fill="#1B6FC4" />
<polygon points="224.7,285.3 229.9,286.5 220.3,290.6 215.1,289.3" fill="#47A1F1" />
<line x1="245.2" y1="323.4" x2="245.2" y2="328.7" stroke="#a9a49e" stroke-width="0.9"/>
<line x1="256.8" y1="326.0" x2="256.8" y2="331.4" stroke="#a9a49e" stroke-width="0.9"/>
<polygon points="232.8,323.6 258.0,329.4 258.0,318.7 232.8,312.9" fill="#ECEFF2" />
<polygon points="278.2,320.9 258.0,329.4 258.0,318.7 278.2,310.1" fill="#CBD1D7" />
<polygon points="253.0,304.3 278.2,310.1 258.0,318.7 232.8,312.9" fill="#DCE0E5" />
<line x1="238.1" y1="320.0" x2="251.4" y2="323.1" stroke="#8f979f" stroke-width="1.4"/>
<polygon points="228.1,313.1 258.5,320.2 257.7,308.7 235.8,303.7" fill="#76818C" opacity="0.9"/>
<polygon points="282.9,309.8 258.5,320.2 257.7,308.7 275.2,301.3" fill="#58626D" opacity="0.9"/>
<polygon points="253.3,296.3 275.2,301.3 257.7,308.7 235.8,303.7" fill="#838E99" opacity="0.9"/>
<polygon points="239.6,312.1 252.8,315.2 253.2,307.2 241.9,304.6" fill="#2E86DA" opacity="0.32"/>
<polygon points="271.9,310.3 262.3,314.4 261.5,306.5 269.4,303.1" fill="#2272C4" opacity="0.3"/>
<polygon points="254.6,298.1 269.2,301.5 258.0,306.2 243.4,302.8" fill="#3B8FDF" />
<polygon points="247.4,303.0 259.3,305.8 259.3,297.6 247.4,294.8" fill="#2A8AE4" />
<polygon points="263.6,304.0 259.3,305.8 259.3,297.6 263.6,295.8" fill="#1B6FC4" />
<polygon points="251.7,293.0 263.6,295.8 259.3,297.6 247.4,294.8" fill="#47A1F1" />
<polygon points="248.1,304.9 253.4,306.1 253.4,298.0 248.1,296.7" fill="#2A8AE4" />
<polygon points="262.9,302.1 253.4,306.1 253.4,298.0 262.9,293.9" fill="#1B6FC4" />
<polygon points="257.6,292.7 262.9,293.9 253.4,298.0 248.1,296.7" fill="#47A1F1" />
<line x1="278.4" y1="331.0" x2="278.4" y2="336.4" stroke="#a9a49e" stroke-width="0.9"/>
<line x1="290.1" y1="333.7" x2="290.1" y2="339.1" stroke="#a9a49e" stroke-width="0.9"/>
<polygon points="266.0,331.3 291.4,337.1 291.4,326.3 266.0,320.4" fill="#ECEFF2" />
<polygon points="311.5,328.5 291.4,337.1 291.4,326.3 311.5,317.6" fill="#CBD1D7" />
<polygon points="286.1,311.8 311.5,317.6 291.4,326.3 266.0,320.4" fill="#DCE0E5" />
<line x1="271.3" y1="327.6" x2="284.7" y2="330.7" stroke="#8f979f" stroke-width="1.4"/>
<polygon points="261.2,320.7 291.9,327.8 291.0,316.3 269.0,311.2" fill="#76818C" opacity="0.9"/>
<polygon points="316.3,317.4 291.9,327.8 291.0,316.3 308.5,308.8" fill="#58626D" opacity="0.9"/>
<polygon points="286.5,303.7 308.5,308.8 291.0,316.3 269.0,311.2" fill="#838E99" opacity="0.9"/>
<polygon points="272.8,319.7 286.2,322.7 286.5,314.7 275.1,312.1" fill="#2E86DA" opacity="0.32"/>
<polygon points="305.2,317.9 295.7,322.0 294.8,314.0 302.7,310.6" fill="#2272C4" opacity="0.3"/>
<polygon points="287.8,305.6 302.4,309.0 291.3,313.7 276.6,310.3" fill="#3B8FDF" />
<polygon points="280.6,310.5 292.6,313.3 292.6,305.0 280.6,302.3" fill="#2A8AE4" />
<polygon points="296.9,311.5 292.6,313.3 292.6,305.0 296.9,303.2" fill="#1B6FC4" />
<polygon points="284.9,300.5 296.9,303.2 292.6,305.0 280.6,302.3" fill="#47A1F1" />
<polygon points="281.3,312.4 286.7,313.6 286.7,305.4 281.3,304.2" fill="#2A8AE4" />
<polygon points="296.2,309.6 286.7,313.6 286.7,305.4 296.2,301.3" fill="#1B6FC4" />
<polygon points="290.8,300.1 296.2,301.3 286.7,305.4 281.3,304.2" fill="#47A1F1" />
<line x1="311.9" y1="338.7" x2="311.9" y2="344.2" stroke="#a9a49e" stroke-width="0.9"/>
<line x1="323.7" y1="341.4" x2="323.7" y2="346.9" stroke="#a9a49e" stroke-width="0.9"/>
<polygon points="299.4,339.0 325.0,344.9 325.0,333.9 299.4,328.0" fill="#ECEFF2" />
<polygon points="345.1,336.2 325.0,344.9 325.0,333.9 345.1,325.3" fill="#CBD1D7" />
<polygon points="319.5,319.4 345.1,325.3 325.0,333.9 299.4,328.0" fill="#DCE0E5" />
<line x1="304.8" y1="335.3" x2="318.3" y2="338.4" stroke="#8f979f" stroke-width="1.4"/>
<polygon points="294.6,328.3 325.6,335.5 324.7,323.9 302.4,318.7" fill="#76818C" opacity="0.9"/>
<polygon points="349.9,325.0 325.6,335.5 324.7,323.9 342.1,316.3" fill="#58626D" opacity="0.9"/>
<polygon points="319.9,311.2 342.1,316.3 324.7,323.9 302.4,318.7" fill="#838E99" opacity="0.9"/>
<polygon points="306.3,327.3 319.7,330.4 320.1,322.3 308.6,319.6" fill="#2E86DA" opacity="0.32"/>
<polygon points="338.8,325.5 329.3,329.6 328.4,321.6 336.3,318.1" fill="#2272C4" opacity="0.3"/>
<polygon points="321.2,313.1 336.0,316.5 324.9,321.3 310.1,317.9" fill="#3B8FDF" />
<polygon points="314.1,318.1 326.2,320.8 326.2,312.5 314.1,309.8" fill="#2A8AE4" />
<polygon points="330.4,319.0 326.2,320.8 326.2,312.5 330.4,310.7" fill="#1B6FC4" />
<polygon points="318.3,307.9 330.4,310.7 326.2,312.5 314.1,309.8" fill="#47A1F1" />
<polygon points="314.8,320.0 320.2,321.2 320.2,312.9 314.8,311.7" fill="#2A8AE4" />
<polygon points="329.7,317.1 320.2,321.2 320.2,312.9 329.7,308.8" fill="#1B6FC4" />
<polygon points="324.3,307.6 329.7,308.8 320.2,312.9 314.8,311.7" fill="#47A1F1" />
<line x1="345.7" y1="346.5" x2="345.7" y2="352.0" stroke="#a9a49e" stroke-width="0.9"/>
<line x1="357.5" y1="349.2" x2="357.5" y2="354.7" stroke="#a9a49e" stroke-width="0.9"/>
<polygon points="333.1,346.8 358.9,352.7 358.9,341.7 333.1,335.7" fill="#ECEFF2" />
<polygon points="378.9,343.9 358.9,352.7 358.9,341.7 378.9,332.9" fill="#CBD1D7" />
<polygon points="353.2,327.0 378.9,332.9 358.9,341.7 333.1,335.7" fill="#DCE0E5" />
<line x1="338.5" y1="343.0" x2="352.1" y2="346.2" stroke="#8f979f" stroke-width="1.4"/>
<polygon points="328.3,336.0 359.5,343.2 358.5,331.5 336.1,326.4" fill="#76818C" opacity="0.9"/>
<polygon points="383.7,332.6 359.5,343.2 358.5,331.5 375.9,323.9" fill="#58626D" opacity="0.9"/>
<polygon points="353.6,318.8 375.9,323.9 358.5,331.5 336.1,326.4" fill="#838E99" opacity="0.9"/>
<polygon points="340.0,334.9 353.6,338.1 353.9,329.9 342.3,327.3" fill="#2E86DA" opacity="0.32"/>
<polygon points="372.6,333.1 363.2,337.3 362.3,329.2 370.2,325.7" fill="#2272C4" opacity="0.3"/>
<polygon points="354.9,320.7 369.8,324.1 358.7,328.9 343.8,325.5" fill="#3B8FDF" />
<polygon points="347.8,325.7 360.0,328.5 360.0,320.1 347.8,317.3" fill="#2A8AE4" />
<polygon points="364.2,326.6 360.0,328.5 360.0,320.1 364.2,318.3" fill="#1B6FC4" />
<polygon points="352.0,315.5 364.2,318.3 360.0,320.1 347.8,317.3" fill="#47A1F1" />
<polygon points="348.6,327.6 354.0,328.8 354.0,320.5 348.6,319.2" fill="#2A8AE4" />
<polygon points="363.5,324.7 354.0,328.8 354.0,320.5 363.5,316.3" fill="#1B6FC4" />
<polygon points="358.1,315.1 363.5,316.3 354.0,320.5 348.6,319.2" fill="#47A1F1" />
<line x1="379.7" y1="354.3" x2="379.7" y2="359.9" stroke="#a9a49e" stroke-width="0.9"/>
<line x1="391.6" y1="357.1" x2="391.6" y2="362.6" stroke="#a9a49e" stroke-width="0.9"/>
<polygon points="367.1,354.6 393.1,360.6 393.1,349.5 367.1,343.5" fill="#ECEFF2" />
<polygon points="413.0,351.8 393.1,360.6 393.1,349.5 413.0,340.6" fill="#CBD1D7" />
<polygon points="387.1,334.7 413.0,340.6 393.1,349.5 367.1,343.5" fill="#DCE0E5" />
<line x1="372.5" y1="350.8" x2="386.2" y2="354.0" stroke="#8f979f" stroke-width="1.4"/>
<polygon points="362.2,343.8 393.7,351.0 392.7,339.2 370.1,334.0" fill="#76818C" opacity="0.9"/>
<polygon points="417.9,340.4 393.7,351.0 392.7,339.2 410.0,331.6" fill="#58626D" opacity="0.9"/>
<polygon points="387.5,326.4 410.0,331.6 392.7,339.2 370.1,334.0" fill="#838E99" opacity="0.9"/>
<polygon points="374.0,342.7 387.7,345.8 388.0,337.6 376.4,334.9" fill="#2E86DA" opacity="0.32"/>
<polygon points="406.8,340.9 397.3,345.0 396.4,336.9 404.3,333.4" fill="#2272C4" opacity="0.3"/>
<polygon points="388.9,328.3 403.9,331.7 392.8,336.6 377.8,333.2" fill="#3B8FDF" />
<polygon points="381.8,333.3 394.1,336.1 394.1,327.7 381.8,324.9" fill="#2A8AE4" />
<polygon points="398.3,334.3 394.1,336.1 394.1,327.7 398.3,325.9" fill="#1B6FC4" />
<polygon points="386.0,323.1 398.3,325.9 394.1,327.7 381.8,324.9" fill="#47A1F1" />
<polygon points="382.6,335.3 388.1,336.5 388.1,328.1 382.6,326.8" fill="#2A8AE4" />
<polygon points="397.5,332.3 388.1,336.5 388.1,328.1 397.5,323.9" fill="#1B6FC4" />
<polygon points="392.1,322.7 397.5,323.9 388.1,328.1 382.6,326.8" fill="#47A1F1" />
<line x1="413.9" y1="362.2" x2="413.9" y2="367.8" stroke="#a9a49e" stroke-width="0.9"/>
<line x1="426.0" y1="365.0" x2="426.0" y2="370.6" stroke="#a9a49e" stroke-width="0.9"/>
<polygon points="401.3,362.5 427.5,368.5 427.5,357.3 401.3,351.3" fill="#ECEFF2" />
<polygon points="447.4,359.6 427.5,368.5 427.5,357.3 447.4,348.4" fill="#CBD1D7" />
<polygon points="421.3,342.4 447.4,348.4 427.5,357.3 401.3,351.3" fill="#DCE0E5" />
<line x1="406.8" y1="358.7" x2="420.6" y2="361.9" stroke="#8f979f" stroke-width="1.4"/>
<polygon points="396.4,351.6 428.1,358.9 427.1,347.0 404.3,341.8" fill="#76818C" opacity="0.9"/>
<polygon points="452.3,348.1 428.1,358.9 427.1,347.0 444.4,339.3" fill="#58626D" opacity="0.9"/>
<polygon points="421.7,334.1 444.4,339.3 427.1,347.0 404.3,341.8" fill="#838E99" opacity="0.9"/>
<polygon points="408.3,350.5 422.1,353.7 422.3,345.4 410.6,342.7" fill="#2E86DA" opacity="0.32"/>
<polygon points="441.1,348.7 431.7,352.9 430.8,344.6 438.6,341.1" fill="#2272C4" opacity="0.3"/>
<polygon points="423.1,336.0 438.2,339.5 427.2,344.4 412.1,340.9" fill="#3B8FDF" />
<polygon points="416.1,341.0 428.5,343.9 428.5,335.4 416.1,332.6" fill="#2A8AE4" />
<polygon points="432.7,342.0 428.5,343.9 428.5,335.4 432.7,333.5" fill="#1B6FC4" />
<polygon points="420.3,330.7 432.7,333.5 428.5,335.4 416.1,332.6" fill="#47A1F1" />
<polygon points="416.9,343.0 422.4,344.3 422.4,335.8 416.9,334.5" fill="#2A8AE4" />
<polygon points="431.8,340.1 422.4,344.3 422.4,335.8 431.8,331.6" fill="#1B6FC4" />
<polygon points="426.3,330.3 431.8,331.6 422.4,335.8 416.9,334.5" fill="#47A1F1" />
<line x1="448.5" y1="370.1" x2="448.5" y2="375.8" stroke="#a9a49e" stroke-width="0.9"/>
<line x1="460.6" y1="372.9" x2="460.6" y2="378.6" stroke="#a9a49e" stroke-width="0.9"/>
<polygon points="435.8,370.4 462.2,376.5 462.2,365.2 435.8,359.1" fill="#ECEFF2" />
<polygon points="482.1,367.6 462.2,376.5 462.2,365.2 482.1,356.3" fill="#CBD1D7" />
<polygon points="455.7,350.2 482.1,356.3 462.2,365.2 435.8,359.1" fill="#DCE0E5" />
<line x1="441.3" y1="366.6" x2="455.2" y2="369.8" stroke="#8f979f" stroke-width="1.4"/>
<polygon points="430.9,359.4 462.9,366.8 461.8,354.8 438.8,349.5" fill="#76818C" opacity="0.9"/>
<polygon points="486.9,356.0 462.9,366.8 461.8,354.8 479.0,347.1" fill="#58626D" opacity="0.9"/>
<polygon points="456.1,341.8 479.0,347.1 461.8,354.8 438.8,349.5" fill="#838E99" opacity="0.9"/>
<polygon points="442.8,358.3 456.7,361.5 457.0,353.2 445.2,350.5" fill="#2E86DA" opacity="0.32"/>
<polygon points="475.8,356.5 466.4,360.7 465.4,352.5 473.3,348.9" fill="#2272C4" opacity="0.3"/>
<polygon points="457.6,343.7 472.8,347.2 461.9,352.2 446.6,348.7" fill="#3B8FDF" />
<polygon points="450.6,348.8 463.1,351.7 463.1,343.2 450.6,340.3" fill="#2A8AE4" />
<polygon points="467.3,349.8 463.1,351.7 463.1,343.2 467.3,341.3" fill="#1B6FC4" />
<polygon points="454.8,338.4 467.3,341.3 463.1,343.2 450.6,340.3" fill="#47A1F1" />
<polygon points="451.4,350.8 457.0,352.1 457.0,343.5 451.4,342.2" fill="#2A8AE4" />
<polygon points="466.4,347.8 457.0,352.1 457.0,343.5 466.4,339.3" fill="#1B6FC4" />
<polygon points="460.9,338.0 466.4,339.3 457.0,343.5 451.4,342.2" fill="#47A1F1" />
<line x1="500.8" y1="382.2" x2="500.8" y2="387.9" stroke="#a9a49e" stroke-width="0.9"/>
<line x1="513.1" y1="385.0" x2="513.1" y2="390.7" stroke="#a9a49e" stroke-width="0.9"/>
<polygon points="488.0,382.5 514.7,388.6 514.7,377.2 488.0,371.0" fill="#ECEFF2" />
<polygon points="534.5,379.6 514.7,388.6 514.7,377.2 534.5,368.2" fill="#CBD1D7" />
<polygon points="507.9,362.1 534.5,368.2 514.7,377.2 488.0,371.0" fill="#DCE0E5" />
<line x1="493.6" y1="378.6" x2="507.7" y2="381.9" stroke="#8f979f" stroke-width="1.4"/>
<polygon points="483.1,371.4 515.5,378.8 514.3,366.7 491.1,361.3" fill="#76818C" opacity="0.9"/>
<polygon points="539.4,367.9 515.5,378.8 514.3,366.7 531.5,358.8" fill="#58626D" opacity="0.9"/>
<polygon points="508.3,353.5 531.5,358.8 514.3,366.7 491.1,361.3" fill="#838E99" opacity="0.9"/>
<polygon points="495.1,370.2 509.2,373.5 509.4,365.0 497.5,362.3" fill="#2E86DA" opacity="0.32"/>
<polygon points="528.3,368.4 518.9,372.7 517.9,364.3 525.7,360.7" fill="#2272C4" opacity="0.3"/>
<polygon points="509.8,355.5 525.3,359.0 514.3,364.0 498.9,360.4" fill="#3B8FDF" />
<polygon points="502.9,360.6 515.5,363.5 515.5,354.9 502.9,352.0" fill="#2A8AE4" />
<polygon points="519.7,361.6 515.5,363.5 515.5,354.9 519.7,353.0" fill="#1B6FC4" />
<polygon points="507.1,350.1 519.7,353.0 515.5,354.9 502.9,352.0" fill="#47A1F1" />
<polygon points="503.8,362.6 509.4,363.9 509.4,355.3 503.8,354.0" fill="#2A8AE4" />
<polygon points="518.8,359.6 509.4,363.9 509.4,355.3 518.8,351.0" fill="#1B6FC4" />
<polygon points="513.2,349.7 518.8,351.0 509.4,355.3 503.8,354.0" fill="#47A1F1" />
<line x1="536.0" y1="390.3" x2="536.0" y2="396.1" stroke="#a9a49e" stroke-width="0.9"/>
<line x1="548.4" y1="393.2" x2="548.4" y2="398.9" stroke="#a9a49e" stroke-width="0.9"/>
<polygon points="523.2,390.6 550.1,396.8 550.1,385.3 523.2,379.1" fill="#ECEFF2" />
<polygon points="569.9,387.7 550.1,396.8 550.1,385.3 569.9,376.2" fill="#CBD1D7" />
<polygon points="543.0,370.0 569.9,376.2 550.1,385.3 523.2,379.1" fill="#DCE0E5" />
<line x1="528.9" y1="386.7" x2="543.0" y2="390.0" stroke="#8f979f" stroke-width="1.4"/>
<polygon points="518.3,379.4 550.9,386.9 549.7,374.7 526.3,369.3" fill="#76818C" opacity="0.9"/>
<polygon points="574.8,375.9 550.9,386.9 549.7,374.7 566.8,366.8" fill="#58626D" opacity="0.9"/>
<polygon points="543.5,361.4 566.8,366.8 549.7,374.7 526.3,369.3" fill="#838E99" opacity="0.9"/>
<polygon points="530.4,378.3 544.5,381.5 544.8,373.0 532.7,370.2" fill="#2E86DA" opacity="0.32"/>
<polygon points="563.6,376.4 554.3,380.7 553.3,372.3 561.1,368.7" fill="#2272C4" opacity="0.3"/>
<polygon points="545.0,363.4 560.6,366.9 549.7,372.0 534.1,368.4" fill="#3B8FDF" />
<polygon points="538.1,368.5 550.8,371.4 550.8,362.8 538.1,359.8" fill="#2A8AE4" />
<polygon points="555.0,369.5 550.8,371.4 550.8,362.8 555.0,360.9" fill="#1B6FC4" />
<polygon points="542.3,357.9 555.0,360.9 550.8,362.8 538.1,359.8" fill="#47A1F1" />
<polygon points="539.0,370.5 544.7,371.8 544.7,363.2 539.0,361.8" fill="#2A8AE4" />
<polygon points="554.1,367.5 544.7,371.8 544.7,363.2 554.1,358.8" fill="#1B6FC4" />
<polygon points="548.4,357.5 554.1,358.8 544.7,363.2 539.0,361.8" fill="#47A1F1" />
<line x1="571.5" y1="398.5" x2="571.5" y2="404.3" stroke="#a9a49e" stroke-width="0.9"/>
<line x1="584.0" y1="401.4" x2="584.0" y2="407.2" stroke="#a9a49e" stroke-width="0.9"/>
<polygon points="558.7,398.8 585.8,405.0 585.8,393.4 558.7,387.2" fill="#ECEFF2" />
<polygon points="605.5,395.8 585.8,405.0 585.8,393.4 605.5,384.2" fill="#CBD1D7" />
<polygon points="578.4,378.0 605.5,384.2 585.8,393.4 558.7,387.2" fill="#DCE0E5" />
<line x1="564.4" y1="394.8" x2="578.6" y2="398.1" stroke="#8f979f" stroke-width="1.4"/>
<polygon points="553.7,387.5 586.6,395.0 585.3,382.7 561.7,377.3" fill="#76818C" opacity="0.9"/>
<polygon points="610.4,383.9 586.6,395.0 585.3,382.7 602.4,374.8" fill="#58626D" opacity="0.9"/>
<polygon points="578.9,369.4 602.4,374.8 585.3,382.7 561.7,377.3" fill="#838E99" opacity="0.9"/>
<polygon points="565.9,386.3 580.1,389.6 580.4,381.0 568.2,378.2" fill="#2E86DA" opacity="0.32"/>
<polygon points="599.2,384.5 589.9,388.8 588.9,380.3 596.7,376.7" fill="#2272C4" opacity="0.3"/>
<polygon points="580.5,371.3 596.2,374.9 585.3,380.0 569.6,376.4" fill="#3B8FDF" />
<polygon points="573.6,376.5 586.4,379.5 586.4,370.7 573.6,367.8" fill="#2A8AE4" />
<polygon points="590.6,377.5 586.4,379.5 586.4,370.7 590.6,368.8" fill="#1B6FC4" />
<polygon points="577.7,365.8 590.6,368.8 586.4,370.7 573.6,367.8" fill="#47A1F1" />
<polygon points="574.6,378.5 580.3,379.8 580.3,371.1 574.6,369.8" fill="#2A8AE4" />
<polygon points="589.6,375.5 580.3,379.8 580.3,371.1 589.6,366.8" fill="#1B6FC4" />
<polygon points="583.9,365.5 589.6,366.8 580.3,371.1 574.6,369.8" fill="#47A1F1" />
<line x1="607.3" y1="406.7" x2="607.3" y2="412.6" stroke="#a9a49e" stroke-width="0.9"/>
<line x1="619.9" y1="409.6" x2="619.9" y2="415.5" stroke="#a9a49e" stroke-width="0.9"/>
<polygon points="594.4,407.0 621.8,413.3 621.8,401.6 594.4,395.3" fill="#ECEFF2" />
<polygon points="641.4,404.1 621.8,413.3 621.8,401.6 641.4,392.4" fill="#CBD1D7" />
<polygon points="614.1,386.1 641.4,392.4 621.8,401.6 594.4,395.3" fill="#DCE0E5" />
<line x1="600.1" y1="403.1" x2="614.5" y2="406.4" stroke="#8f979f" stroke-width="1.4"/>
<polygon points="589.5,395.6 622.6,403.2 621.2,390.8 597.5,385.4" fill="#76818C" opacity="0.9"/>
<polygon points="646.3,392.1 622.6,403.2 621.2,390.8 638.3,382.8" fill="#58626D" opacity="0.9"/>
<polygon points="614.6,377.4 638.3,382.8 621.2,390.8 597.5,385.4" fill="#838E99" opacity="0.9"/>
<polygon points="601.6,394.5 616.0,397.8 616.3,389.1 604.0,386.3" fill="#2E86DA" opacity="0.32"/>
<polygon points="635.2,392.6 625.9,397.0 624.8,388.4 632.6,384.7" fill="#2272C4" opacity="0.3"/>
<polygon points="616.2,379.4 632.0,383.0 621.2,388.1 605.3,384.4" fill="#3B8FDF" />
<polygon points="609.4,384.6 622.3,387.5 622.3,378.7 609.4,375.8" fill="#2A8AE4" />
<polygon points="626.4,385.6 622.3,387.5 622.3,378.7 626.4,376.8" fill="#1B6FC4" />
<polygon points="613.5,373.8 626.4,376.8 622.3,378.7 609.4,375.8" fill="#47A1F1" />
<polygon points="610.4,386.6 616.1,387.9 616.1,379.1 610.4,377.8" fill="#2A8AE4" />
<polygon points="625.4,383.6 616.1,387.9 616.1,379.1 625.4,374.8" fill="#1B6FC4" />
<polygon points="619.7,373.4 625.4,374.8 616.1,379.1 610.4,377.8" fill="#47A1F1" />
<line x1="-14.3" y1="284.9" x2="-14.3" y2="290.0" stroke="#a9a49e" stroke-width="0.9"/>
<line x1="-3.2" y1="287.5" x2="-3.2" y2="292.6" stroke="#a9a49e" stroke-width="0.9"/>
<polygon points="-26.4,285.2 -2.5,290.7 -2.5,280.5 -26.4,274.9" fill="#ECEFF2" />
<polygon points="18.2,282.5 -2.5,290.7 -2.5,280.5 18.2,272.2" fill="#CBD1D7" />
<polygon points="-5.7,266.7 18.2,272.2 -2.5,280.5 -26.4,274.9" fill="#DCE0E5" />
<line x1="-21.4" y1="281.7" x2="-8.8" y2="284.7" stroke="#8f979f" stroke-width="1.4"/>
<polygon points="-31.1,275.2 -2.1,282.0 -2.7,271.1 -23.5,266.2" fill="#76818C" opacity="0.9"/>
<polygon points="22.9,272.0 -2.1,282.0 -2.7,271.1 15.3,263.9" fill="#58626D" opacity="0.9"/>
<polygon points="-5.5,259.1 15.3,263.9 -2.7,271.1 -23.5,266.2" fill="#838E99" opacity="0.9"/>
<polygon points="-19.9,274.2 -7.3,277.1 -6.9,269.6 -17.6,267.1" fill="#2E86DA" opacity="0.32"/>
<polygon points="11.8,272.5 2.0,276.4 1.3,268.9 9.4,265.6" fill="#2272C4" opacity="0.3"/>
<polygon points="-4.5,260.9 9.4,264.1 -2.1,268.6 -15.9,265.4" fill="#3B8FDF" />
<polygon points="-11.9,265.6 -0.6,268.2 -0.6,260.4 -11.9,257.8" fill="#2A8AE4" />
<polygon points="3.8,266.5 -0.6,268.2 -0.6,260.4 3.8,258.7" fill="#1B6FC4" />
<polygon points="-7.6,256.0 3.8,258.7 -0.6,260.4 -11.9,257.8" fill="#47A1F1" />
<polygon points="-11.5,267.4 -6.5,268.6 -6.5,260.8 -11.5,259.6" fill="#2A8AE4" />
<polygon points="3.3,264.7 -6.5,268.6 -6.5,260.8 3.3,256.9" fill="#1B6FC4" />
<polygon points="-1.7,255.7 3.3,256.9 -6.5,260.8 -11.5,259.6" fill="#47A1F1" />
<line x1="17.3" y1="292.2" x2="17.3" y2="297.4" stroke="#a9a49e" stroke-width="0.9"/>
<line x1="28.4" y1="294.8" x2="28.4" y2="300.0" stroke="#a9a49e" stroke-width="0.9"/>
<polygon points="5.1,292.5 29.2,298.1 29.2,287.8 5.1,282.2" fill="#ECEFF2" />
<polygon points="49.9,289.8 29.2,298.1 29.2,287.8 49.9,279.5" fill="#CBD1D7" />
<polygon points="25.8,273.9 49.9,279.5 29.2,287.8 5.1,282.2" fill="#DCE0E5" />
<line x1="10.2" y1="289.0" x2="22.9" y2="292.0" stroke="#8f979f" stroke-width="1.4"/>
<polygon points="0.4,282.5 29.6,289.3 29.0,278.3 8.1,273.4" fill="#76818C" opacity="0.9"/>
<polygon points="54.6,279.2 29.6,289.3 29.0,278.3 46.9,271.1" fill="#58626D" opacity="0.9"/>
<polygon points="26.0,266.2 46.9,271.1 29.0,278.3 8.1,273.4" fill="#838E99" opacity="0.9"/>
<polygon points="11.6,281.5 24.3,284.4 24.7,276.8 14.0,274.3" fill="#2E86DA" opacity="0.32"/>
<polygon points="43.5,279.7 33.7,283.7 32.9,276.1 41.1,272.8" fill="#2272C4" opacity="0.3"/>
<polygon points="27.0,268.0 41.0,271.3 29.6,275.8 15.6,272.6" fill="#3B8FDF" />
<polygon points="19.6,272.8 31.0,275.4 31.0,267.6 19.6,264.9" fill="#2A8AE4" />
<polygon points="35.4,273.7 31.0,275.4 31.0,267.6 35.4,265.8" fill="#1B6FC4" />
<polygon points="24.0,263.2 35.4,265.8 31.0,267.6 19.6,264.9" fill="#47A1F1" />
<polygon points="20.1,274.6 25.1,275.8 25.1,267.9 20.1,266.7" fill="#2A8AE4" />
<polygon points="34.9,271.9 25.1,275.8 25.1,267.9 34.9,264.0" fill="#1B6FC4" />
<polygon points="29.8,262.8 34.9,264.0 25.1,267.9 20.1,266.7" fill="#47A1F1" />
<line x1="49.1" y1="299.6" x2="49.1" y2="304.8" stroke="#a9a49e" stroke-width="0.9"/>
<line x1="60.3" y1="302.2" x2="60.3" y2="307.4" stroke="#a9a49e" stroke-width="0.9"/>
<polygon points="36.9,299.9 61.2,305.6 61.2,295.2 36.9,289.5" fill="#ECEFF2" />
<polygon points="81.8,297.2 61.2,305.6 61.2,295.2 81.8,286.8" fill="#CBD1D7" />
<polygon points="57.5,281.2 81.8,286.8 61.2,295.2 36.9,289.5" fill="#DCE0E5" />
<line x1="42.0" y1="296.4" x2="54.8" y2="299.4" stroke="#8f979f" stroke-width="1.4"/>
<polygon points="32.1,289.8 61.6,296.7 60.9,285.6 39.8,280.7" fill="#76818C" opacity="0.9"/>
<polygon points="86.5,286.5 61.6,296.7 60.9,285.6 78.8,278.3" fill="#58626D" opacity="0.9"/>
<polygon points="57.7,273.4 78.8,278.3 60.9,285.6 39.8,280.7" fill="#838E99" opacity="0.9"/>
<polygon points="43.4,288.8 56.2,291.8 56.6,284.1 45.8,281.5" fill="#2E86DA" opacity="0.32"/>
<polygon points="75.4,287.1 65.6,291.0 64.9,283.4 73.0,280.1" fill="#2272C4" opacity="0.3"/>
<polygon points="58.8,275.2 72.9,278.5 61.5,283.1 47.4,279.8" fill="#3B8FDF" />
<polygon points="51.4,280.0 62.9,282.7 62.9,274.8 51.4,272.1" fill="#2A8AE4" />
<polygon points="67.2,281.0 62.9,282.7 62.9,274.8 67.2,273.0" fill="#1B6FC4" />
<polygon points="55.7,270.4 67.2,273.0 62.9,274.8 51.4,272.1" fill="#47A1F1" />
<polygon points="51.9,281.9 57.0,283.1 57.0,275.1 51.9,274.0" fill="#2A8AE4" />
<polygon points="66.8,279.1 57.0,283.1 57.0,275.1 66.8,271.2" fill="#1B6FC4" />
<polygon points="61.6,270.0 66.8,271.2 57.0,275.1 51.9,274.0" fill="#47A1F1" />
<line x1="81.1" y1="307.1" x2="81.1" y2="312.3" stroke="#a9a49e" stroke-width="0.9"/>
<line x1="92.4" y1="309.7" x2="92.4" y2="315.0" stroke="#a9a49e" stroke-width="0.9"/>
<polygon points="68.9,307.4 93.3,313.1 93.3,302.6 68.9,296.9" fill="#ECEFF2" />
<polygon points="113.9,304.6 93.3,313.1 93.3,302.6 113.9,294.2" fill="#CBD1D7" />
<polygon points="89.4,288.5 113.9,294.2 93.3,302.6 68.9,296.9" fill="#DCE0E5" />
<line x1="74.0" y1="303.9" x2="86.9" y2="306.9" stroke="#8f979f" stroke-width="1.4"/>
<polygon points="64.1,297.2 93.8,304.1 93.1,292.9 71.8,288.0" fill="#76818C" opacity="0.9"/>
<polygon points="118.6,293.9 93.8,304.1 93.1,292.9 110.9,285.6" fill="#58626D" opacity="0.9"/>
<polygon points="89.7,280.7 110.9,285.6 93.1,292.9 71.8,288.0" fill="#838E99" opacity="0.9"/>
<polygon points="75.5,296.2 88.4,299.2 88.7,291.4 77.8,288.9" fill="#2E86DA" opacity="0.32"/>
<polygon points="107.5,294.4 97.8,298.4 97.0,290.7 105.1,287.4" fill="#2272C4" opacity="0.3"/>
<polygon points="90.8,282.5 105.0,285.8 93.6,290.4 79.4,287.1" fill="#3B8FDF" />
<polygon points="83.4,287.3 95.0,290.0 95.0,282.1 83.4,279.4" fill="#2A8AE4" />
<polygon points="99.4,288.3 95.0,290.0 95.0,282.1 99.4,280.3" fill="#1B6FC4" />
<polygon points="87.8,277.6 99.4,280.3 95.0,282.1 83.4,279.4" fill="#47A1F1" />
<polygon points="83.9,289.2 89.1,290.4 89.1,282.4 83.9,281.2" fill="#2A8AE4" />
<polygon points="98.8,286.4 89.1,290.4 89.1,282.4 98.8,278.4" fill="#1B6FC4" />
<polygon points="93.7,277.2 98.8,278.4 89.1,282.4 83.9,281.2" fill="#47A1F1" />
<line x1="113.4" y1="314.6" x2="113.4" y2="319.9" stroke="#a9a49e" stroke-width="0.9"/>
<line x1="124.8" y1="317.3" x2="124.8" y2="322.5" stroke="#a9a49e" stroke-width="0.9"/>
<polygon points="101.1,314.9 125.8,320.6 125.8,310.1 101.1,304.3" fill="#ECEFF2" />
<polygon points="146.3,312.1 125.8,320.6 125.8,310.1 146.3,301.6" fill="#CBD1D7" />
<polygon points="121.6,295.9 146.3,301.6 125.8,310.1 101.1,304.3" fill="#DCE0E5" />
<line x1="106.3" y1="311.3" x2="119.3" y2="314.4" stroke="#8f979f" stroke-width="1.4"/>
<polygon points="96.3,304.6 126.2,311.6 125.5,300.3 104.1,295.4" fill="#76818C" opacity="0.9"/>
<polygon points="151.0,301.3 126.2,311.6 125.5,300.3 143.3,293.0" fill="#58626D" opacity="0.9"/>
<polygon points="121.9,288.0 143.3,293.0 125.5,300.3 104.1,295.4" fill="#838E99" opacity="0.9"/>
<polygon points="107.7,303.6 120.7,306.6 121.1,298.8 110.1,296.2" fill="#2E86DA" opacity="0.32"/>
<polygon points="139.9,301.8 130.2,305.9 129.4,298.1 137.5,294.8" fill="#2272C4" opacity="0.3"/>
<polygon points="123.1,289.8 137.3,293.1 126.0,297.8 111.7,294.5" fill="#3B8FDF" />
<polygon points="115.7,294.7 127.4,297.4 127.4,289.4 115.7,286.7" fill="#2A8AE4" />
<polygon points="131.7,295.6 127.4,297.4 127.4,289.4 131.7,287.6" fill="#1B6FC4" />
<polygon points="120.0,284.9 131.7,287.6 127.4,289.4 115.7,286.7" fill="#47A1F1" />
<polygon points="116.2,296.6 121.4,297.8 121.4,289.7 116.2,288.5" fill="#2A8AE4" />
<polygon points="131.2,293.8 121.4,297.8 121.4,289.7 131.2,285.7" fill="#1B6FC4" />
<polygon points="126.0,284.5 131.2,285.7 121.4,289.7 116.2,288.5" fill="#47A1F1" />
<line x1="146.0" y1="322.2" x2="146.0" y2="327.5" stroke="#a9a49e" stroke-width="0.9"/>
<line x1="157.4" y1="324.8" x2="157.4" y2="330.2" stroke="#a9a49e" stroke-width="0.9"/>
<polygon points="133.6,322.5 158.4,328.3 158.4,317.6 133.6,311.8" fill="#ECEFF2" />
<polygon points="178.9,319.7 158.4,328.3 158.4,317.6 178.9,309.1" fill="#CBD1D7" />
<polygon points="154.1,303.3 178.9,309.1 158.4,317.6 133.6,311.8" fill="#DCE0E5" />
<line x1="138.8" y1="318.9" x2="151.9" y2="321.9" stroke="#8f979f" stroke-width="1.4"/>
<polygon points="128.8,312.1 158.9,319.1 158.2,307.8 136.6,302.8" fill="#76818C" opacity="0.9"/>
<polygon points="183.7,308.8 158.9,319.1 158.2,307.8 175.9,300.4" fill="#58626D" opacity="0.9"/>
<polygon points="154.4,295.4 175.9,300.4 158.2,307.8 136.6,302.8" fill="#838E99" opacity="0.9"/>
<polygon points="140.3,311.1 153.4,314.1 153.7,306.2 142.6,303.7" fill="#2E86DA" opacity="0.32"/>
<polygon points="172.6,309.3 162.9,313.4 162.0,305.5 170.1,302.2" fill="#2272C4" opacity="0.3"/>
<polygon points="155.5,297.2 169.9,300.6 158.6,305.3 144.2,301.9" fill="#3B8FDF" />
<polygon points="148.2,302.1 160.0,304.8 160.0,296.8 148.2,294.0" fill="#2A8AE4" />
<polygon points="164.3,303.0 160.0,304.8 160.0,296.8 164.3,295.0" fill="#1B6FC4" />
<polygon points="152.5,292.2 164.3,295.0 160.0,296.8 148.2,294.0" fill="#47A1F1" />
<polygon points="148.8,304.0 154.0,305.2 154.0,297.1 148.8,295.9" fill="#2A8AE4" />
<polygon points="163.7,301.2 154.0,305.2 154.0,297.1 163.7,293.1" fill="#1B6FC4" />
<polygon points="158.5,291.9 163.7,293.1 154.0,297.1 148.8,295.9" fill="#47A1F1" />
<line x1="178.7" y1="329.8" x2="178.7" y2="335.2" stroke="#a9a49e" stroke-width="0.9"/>
<line x1="190.3" y1="332.5" x2="190.3" y2="337.9" stroke="#a9a49e" stroke-width="0.9"/>
<polygon points="166.3,330.1 191.4,335.9 191.4,325.2 166.3,319.4" fill="#ECEFF2" />
<polygon points="211.8,327.3 191.4,335.9 191.4,325.2 211.8,316.6" fill="#CBD1D7" />
<polygon points="186.8,310.8 211.8,316.6 191.4,325.2 166.3,319.4" fill="#DCE0E5" />
<line x1="171.6" y1="326.5" x2="184.8" y2="329.6" stroke="#8f979f" stroke-width="1.4"/>
<polygon points="161.5,319.7 191.9,326.7 191.1,315.3 169.3,310.3" fill="#76818C" opacity="0.9"/>
<polygon points="216.6,316.3 191.9,326.7 191.1,315.3 208.8,307.8" fill="#58626D" opacity="0.9"/>
<polygon points="187.1,302.8 208.8,307.8 191.1,315.3 169.3,310.3" fill="#838E99" opacity="0.9"/>
<polygon points="173.1,318.6 186.2,321.7 186.6,313.8 175.4,311.1" fill="#2E86DA" opacity="0.32"/>
<polygon points="205.5,316.8 195.8,320.9 194.9,313.0 203.0,309.7" fill="#2272C4" opacity="0.3"/>
<polygon points="188.3,304.7 202.8,308.0 191.5,312.8 177.0,309.4" fill="#3B8FDF" />
<polygon points="181.0,309.6 192.9,312.3 192.9,304.2 181.0,301.4" fill="#2A8AE4" />
<polygon points="197.2,310.5 192.9,312.3 192.9,304.2 197.2,302.4" fill="#1B6FC4" />
<polygon points="185.3,299.6 197.2,302.4 192.9,304.2 181.0,301.4" fill="#47A1F1" />
<polygon points="181.6,311.5 186.9,312.7 186.9,304.6 181.6,303.3" fill="#2A8AE4" />
<polygon points="196.5,308.6 186.9,312.7 186.9,304.6 196.5,300.5" fill="#1B6FC4" />
<polygon points="191.3,299.3 196.5,300.5 186.9,304.6 181.6,303.3" fill="#47A1F1" />
<line x1="211.8" y1="337.5" x2="211.8" y2="342.9" stroke="#a9a49e" stroke-width="0.9"/>
<line x1="223.4" y1="340.2" x2="223.4" y2="345.6" stroke="#a9a49e" stroke-width="0.9"/>
<polygon points="199.3,337.8 224.6,343.7 224.6,332.9 199.3,327.0" fill="#ECEFF2" />
<polygon points="244.9,335.0 224.6,343.7 224.6,332.9 244.9,324.2" fill="#CBD1D7" />
<polygon points="219.7,318.4 244.9,324.2 224.6,332.9 199.3,327.0" fill="#DCE0E5" />
<line x1="204.6" y1="334.2" x2="217.9" y2="337.3" stroke="#8f979f" stroke-width="1.4"/>
<polygon points="194.5,327.3 225.1,334.4 224.2,322.9 202.3,317.8" fill="#76818C" opacity="0.9"/>
<polygon points="249.7,323.9 225.1,334.4 224.2,322.9 241.9,315.4" fill="#58626D" opacity="0.9"/>
<polygon points="220.1,310.3 241.9,315.4 224.2,322.9 202.3,317.8" fill="#838E99" opacity="0.9"/>
<polygon points="206.1,326.2 219.4,329.3 219.7,321.3 208.4,318.7" fill="#2E86DA" opacity="0.32"/>
<polygon points="238.6,324.4 228.9,328.5 228.1,320.6 236.1,317.2" fill="#2272C4" opacity="0.3"/>
<polygon points="221.3,312.2 235.9,315.5 224.6,320.3 210.0,316.9" fill="#3B8FDF" />
<polygon points="214.0,317.1 226.0,319.9 226.0,311.7 214.0,308.9" fill="#2A8AE4" />
<polygon points="230.3,318.1 226.0,319.9 226.0,311.7 230.3,309.9" fill="#1B6FC4" />
<polygon points="218.3,307.1 230.3,309.9 226.0,311.7 214.0,308.9" fill="#47A1F1" />
<polygon points="214.6,319.0 220.0,320.2 220.0,312.0 214.6,310.8" fill="#2A8AE4" />
<polygon points="229.6,316.2 220.0,320.2 220.0,312.0 229.6,307.9" fill="#1B6FC4" />
<polygon points="224.3,306.7 229.6,307.9 220.0,312.0 214.6,310.8" fill="#47A1F1" />
<line x1="245.1" y1="345.3" x2="245.1" y2="350.7" stroke="#a9a49e" stroke-width="0.9"/>
<line x1="256.8" y1="348.0" x2="256.8" y2="353.4" stroke="#a9a49e" stroke-width="0.9"/>
<polygon points="232.6,345.5 258.0,351.5 258.0,340.6 232.6,334.6" fill="#ECEFF2" />
<polygon points="278.3,342.7 258.0,351.5 258.0,340.6 278.3,331.8" fill="#CBD1D7" />
<polygon points="252.9,326.0 278.3,331.8 258.0,340.6 232.6,334.6" fill="#DCE0E5" />
<line x1="237.9" y1="341.9" x2="251.3" y2="345.0" stroke="#8f979f" stroke-width="1.4"/>
<polygon points="227.7,334.9 258.5,342.1 257.7,330.5 235.6,325.4" fill="#76818C" opacity="0.9"/>
<polygon points="283.2,331.5 258.5,342.1 257.7,330.5 275.3,323.0" fill="#58626D" opacity="0.9"/>
<polygon points="253.3,317.8 275.3,323.0 257.7,330.5 235.6,325.4" fill="#838E99" opacity="0.9"/>
<polygon points="239.4,333.9 252.8,337.0 253.1,328.9 241.7,326.3" fill="#2E86DA" opacity="0.32"/>
<polygon points="272.0,332.1 262.4,336.2 261.5,328.2 269.5,324.8" fill="#2272C4" opacity="0.3"/>
<polygon points="254.5,319.7 269.2,323.1 258.0,327.9 243.3,324.5" fill="#3B8FDF" />
<polygon points="247.3,324.7 259.3,327.5 259.3,319.2 247.3,316.4" fill="#2A8AE4" />
<polygon points="263.6,325.7 259.3,327.5 259.3,319.2 263.6,317.4" fill="#1B6FC4" />
<polygon points="251.6,314.6 263.6,317.4 259.3,319.2 247.3,316.4" fill="#47A1F1" />
<polygon points="248.0,326.6 253.3,327.9 253.3,319.6 248.0,318.4" fill="#2A8AE4" />
<polygon points="263.0,323.7 253.3,327.9 253.3,319.6 263.0,315.5" fill="#1B6FC4" />
<polygon points="257.6,314.2 263.0,315.5 253.3,319.6 248.0,318.4" fill="#47A1F1" />
<line x1="278.6" y1="353.1" x2="278.6" y2="358.5" stroke="#a9a49e" stroke-width="0.9"/>
<line x1="290.4" y1="355.8" x2="290.4" y2="361.3" stroke="#a9a49e" stroke-width="0.9"/>
<polygon points="266.1,353.3 291.7,359.3 291.7,348.3 266.1,342.4" fill="#ECEFF2" />
<polygon points="312.0,350.5 291.7,359.3 291.7,348.3 312.0,339.5" fill="#CBD1D7" />
<polygon points="286.4,333.6 312.0,339.5 291.7,348.3 266.1,342.4" fill="#DCE0E5" />
<line x1="271.4" y1="349.7" x2="284.9" y2="352.8" stroke="#8f979f" stroke-width="1.4"/>
<polygon points="261.2,342.7 292.3,349.9 291.3,338.2 269.1,333.0" fill="#76818C" opacity="0.9"/>
<polygon points="316.8,339.3 292.3,349.9 291.3,338.2 309.0,330.6" fill="#58626D" opacity="0.9"/>
<polygon points="286.7,325.4 309.0,330.6 291.3,338.2 269.1,333.0" fill="#838E99" opacity="0.9"/>
<polygon points="272.9,341.6 286.4,344.7 286.7,336.6 275.3,333.9" fill="#2E86DA" opacity="0.32"/>
<polygon points="305.7,339.8 296.0,344.0 295.2,335.9 303.2,332.4" fill="#2272C4" opacity="0.3"/>
<polygon points="288.0,327.3 302.9,330.8 291.6,335.6 276.8,332.2" fill="#3B8FDF" />
<polygon points="280.8,332.3 293.0,335.2 293.0,326.8 280.8,324.0" fill="#2A8AE4" />
<polygon points="297.2,333.3 293.0,335.2 293.0,326.8 297.2,325.0" fill="#1B6FC4" />
<polygon points="285.1,322.2 297.2,325.0 293.0,326.8 280.8,324.0" fill="#47A1F1" />
<polygon points="281.5,334.3 286.9,335.5 286.9,327.2 281.5,326.0" fill="#2A8AE4" />
<polygon points="296.5,331.4 286.9,335.5 286.9,327.2 296.5,323.1" fill="#1B6FC4" />
<polygon points="291.2,321.8 296.5,323.1 286.9,327.2 281.5,326.0" fill="#47A1F1" />
<line x1="312.4" y1="360.9" x2="312.4" y2="366.5" stroke="#a9a49e" stroke-width="0.9"/>
<line x1="324.3" y1="363.7" x2="324.3" y2="369.2" stroke="#a9a49e" stroke-width="0.9"/>
<polygon points="299.8,361.2 325.7,367.2 325.7,356.2 299.8,350.2" fill="#ECEFF2" />
<polygon points="345.9,358.4 325.7,367.2 325.7,356.2 345.9,347.3" fill="#CBD1D7" />
<polygon points="320.1,341.3 345.9,347.3 325.7,356.2 299.8,350.2" fill="#DCE0E5" />
<line x1="305.3" y1="357.5" x2="318.8" y2="360.7" stroke="#8f979f" stroke-width="1.4"/>
<polygon points="295.0,350.5 326.2,357.7 325.3,346.0 302.9,340.8" fill="#76818C" opacity="0.9"/>
<polygon points="350.8,347.0 326.2,357.7 325.3,346.0 342.9,338.3" fill="#58626D" opacity="0.9"/>
<polygon points="320.5,333.1 342.9,338.3 325.3,346.0 302.9,340.8" fill="#838E99" opacity="0.9"/>
<polygon points="306.7,349.4 320.3,352.6 320.6,344.4 309.1,341.7" fill="#2E86DA" opacity="0.32"/>
<polygon points="339.6,347.6 330.0,351.8 329.1,343.6 337.1,340.1" fill="#2272C4" opacity="0.3"/>
<polygon points="321.8,335.0 336.8,338.5 325.6,343.4 310.6,339.9" fill="#3B8FDF" />
<polygon points="314.6,340.0 326.9,342.9 326.9,334.5 314.6,331.7" fill="#2A8AE4" />
<polygon points="331.1,341.0 326.9,342.9 326.9,334.5 331.1,332.6" fill="#1B6FC4" />
<polygon points="318.9,329.8 331.1,332.6 326.9,334.5 314.6,331.7" fill="#47A1F1" />
<polygon points="315.4,342.0 320.8,343.2 320.8,334.9 315.4,333.6" fill="#2A8AE4" />
<polygon points="330.4,339.1 320.8,343.2 320.8,334.9 330.4,330.7" fill="#1B6FC4" />
<polygon points="325.0,329.4 330.4,330.7 320.8,334.9 315.4,333.6" fill="#47A1F1" />
<line x1="346.5" y1="368.9" x2="346.5" y2="374.4" stroke="#a9a49e" stroke-width="0.9"/>
<line x1="358.5" y1="371.7" x2="358.5" y2="377.2" stroke="#a9a49e" stroke-width="0.9"/>
<polygon points="333.9,369.1 359.9,375.2 359.9,364.1 333.9,358.0" fill="#ECEFF2" />
<polygon points="380.1,366.3 359.9,375.2 359.9,364.1 380.1,355.1" fill="#CBD1D7" />
<polygon points="354.1,349.1 380.1,355.1 359.9,364.1 333.9,358.0" fill="#DCE0E5" />
<line x1="339.3" y1="365.4" x2="353.0" y2="368.6" stroke="#8f979f" stroke-width="1.4"/>
<polygon points="329.0,358.3 360.5,365.7 359.5,353.8 336.9,348.5" fill="#76818C" opacity="0.9"/>
<polygon points="385.0,354.8 360.5,365.7 359.5,353.8 377.1,346.0" fill="#58626D" opacity="0.9"/>
<polygon points="354.5,340.8 377.1,346.0 359.5,353.8 336.9,348.5" fill="#838E99" opacity="0.9"/>
<polygon points="340.8,357.2 354.5,360.4 354.8,352.2 343.2,349.4" fill="#2E86DA" opacity="0.32"/>
<polygon points="373.8,355.4 364.2,359.6 363.3,351.4 371.3,347.9" fill="#2272C4" opacity="0.3"/>
<polygon points="355.8,342.7 370.9,346.2 359.7,351.1 344.7,347.6" fill="#3B8FDF" />
<polygon points="348.7,347.8 361.0,350.7 361.0,342.2 348.7,339.4" fill="#2A8AE4" />
<polygon points="365.3,348.8 361.0,350.7 361.0,342.2 365.3,340.4" fill="#1B6FC4" />
<polygon points="353.0,337.5 365.3,340.4 361.0,342.2 348.7,339.4" fill="#47A1F1" />
<polygon points="349.5,349.8 354.9,351.0 354.9,342.6 349.5,341.3" fill="#2A8AE4" />
<polygon points="364.5,346.8 354.9,351.0 354.9,342.6 364.5,338.4" fill="#1B6FC4" />
<polygon points="359.0,337.1 364.5,338.4 354.9,342.6 349.5,341.3" fill="#47A1F1" />
<polygon points="373.6,386.6 386.8,389.7 386.8,374.7 373.6,371.6" fill="#F1C61C" />
<polygon points="402.7,382.6 386.8,389.7 386.8,374.7 402.7,367.6" fill="#D6AA0E" />
<polygon points="389.6,364.6 402.7,367.6 386.8,374.7 373.6,371.6" fill="#F6D646" />
<polygon points="380.5,370.7 387.4,372.3 387.4,363.9 380.5,362.3" fill="#F1C61C" />
<polygon points="395.9,368.5 387.4,372.3 387.4,363.9 395.9,360.1" fill="#D6AA0E" />
<polygon points="389.0,358.5 395.9,360.1 387.4,363.9 380.5,362.3" fill="#F6D646" />
<polygon points="384.0,361.7 388.1,362.6 388.1,355.1 384.0,354.2" fill="#F1C61C" />
<polygon points="392.4,360.7 388.1,362.6 388.1,355.1 392.4,353.2" fill="#D6AA0E" />
<polygon points="388.2,352.3 392.4,353.2 388.1,355.1 384.0,354.2" fill="#F6D646" />
<line x1="398.1" y1="380.9" x2="398.1" y2="386.5" stroke="#a9a49e" stroke-width="0.9"/>
<line x1="410.3" y1="383.7" x2="410.3" y2="389.3" stroke="#a9a49e" stroke-width="0.9"/>
<polygon points="385.4,381.2 411.8,387.3 411.8,376.0 385.4,369.9" fill="#ECEFF2" />
<polygon points="431.9,378.3 411.8,387.3 411.8,376.0 431.9,367.0" fill="#CBD1D7" />
<polygon points="405.6,360.9 431.9,367.0 411.8,376.0 385.4,369.9" fill="#DCE0E5" />
<line x1="390.9" y1="377.4" x2="404.8" y2="380.6" stroke="#8f979f" stroke-width="1.4"/>
<polygon points="380.5,370.2 412.4,377.6 411.3,365.6 388.5,360.3" fill="#76818C" opacity="0.9"/>
<polygon points="436.8,366.7 412.4,377.6 411.3,365.6 428.8,357.8" fill="#58626D" opacity="0.9"/>
<polygon points="406.0,352.5 428.8,357.8 411.3,365.6 388.5,360.3" fill="#838E99" opacity="0.9"/>
<polygon points="392.4,369.1 406.3,372.3 406.6,364.0 394.8,361.2" fill="#2E86DA" opacity="0.32"/>
<polygon points="425.6,367.3 416.0,371.5 415.1,363.2 423.0,359.7" fill="#2272C4" opacity="0.3"/>
<polygon points="407.4,354.4 422.6,358.0 411.5,363.0 396.3,359.4" fill="#3B8FDF" />
<polygon points="400.3,359.5 412.8,362.4 412.8,353.9 400.3,351.0" fill="#2A8AE4" />
<polygon points="417.0,360.5 412.8,362.4 412.8,353.9 417.0,352.0" fill="#1B6FC4" />
<polygon points="404.5,349.1 417.0,352.0 412.8,353.9 400.3,351.0" fill="#47A1F1" />
<polygon points="401.1,361.5 406.6,362.8 406.6,354.3 401.1,353.0" fill="#2A8AE4" />
<polygon points="416.2,358.6 406.6,362.8 406.6,354.3 416.2,350.0" fill="#1B6FC4" />
<polygon points="410.7,348.8 416.2,350.0 406.6,354.3 401.1,353.0" fill="#47A1F1" />
<polygon points="408.3,394.8 421.5,397.8 421.5,382.7 408.3,379.7" fill="#F1C61C" />
<polygon points="437.4,390.7 421.5,397.8 421.5,382.7 437.4,375.6" fill="#D6AA0E" />
<polygon points="424.2,372.5 437.4,375.6 421.5,382.7 408.3,379.7" fill="#F6D646" />
<polygon points="415.1,378.7 422.1,380.3 422.1,371.9 415.1,370.2" fill="#F1C61C" />
<polygon points="430.6,376.5 422.1,380.3 422.1,371.9 430.6,368.0" fill="#D6AA0E" />
<polygon points="423.6,366.4 430.6,368.0 422.1,371.9 415.1,370.2" fill="#F6D646" />
<polygon points="418.6,369.6 422.8,370.6 422.8,363.0 418.6,362.1" fill="#F1C61C" />
<polygon points="427.0,368.7 422.8,370.6 422.8,363.0 427.0,361.1" fill="#D6AA0E" />
<polygon points="422.9,360.1 427.0,361.1 422.8,363.0 418.6,362.1" fill="#F6D646" />
<line x1="467.9" y1="397.1" x2="467.9" y2="402.9" stroke="#a9a49e" stroke-width="0.9"/>
<line x1="480.3" y1="400.0" x2="480.3" y2="405.7" stroke="#a9a49e" stroke-width="0.9"/>
<polygon points="455.1,397.4 481.9,403.6 481.9,392.2 455.1,385.9" fill="#ECEFF2" />
<polygon points="501.9,394.5 481.9,403.6 481.9,392.2 501.9,383.0" fill="#CBD1D7" />
<polygon points="475.2,376.8 501.9,383.0 481.9,392.2 455.1,385.9" fill="#DCE0E5" />
<line x1="460.7" y1="393.6" x2="474.8" y2="396.8" stroke="#8f979f" stroke-width="1.4"/>
<polygon points="450.2,386.3 482.6,393.8 481.4,381.6 458.2,376.2" fill="#76818C" opacity="0.9"/>
<polygon points="506.8,382.7 482.6,393.8 481.4,381.6 498.8,373.7" fill="#58626D" opacity="0.9"/>
<polygon points="475.6,368.3 498.8,373.7 481.4,381.6 458.2,376.2" fill="#838E99" opacity="0.9"/>
<polygon points="462.2,385.2 476.3,388.4 476.6,379.9 464.6,377.2" fill="#2E86DA" opacity="0.32"/>
<polygon points="495.6,383.3 486.1,387.6 485.1,379.2 493.0,375.6" fill="#2272C4" opacity="0.3"/>
<polygon points="477.1,370.3 492.6,373.9 481.5,378.9 466.0,375.3" fill="#3B8FDF" />
<polygon points="470.1,375.4 482.7,378.4 482.7,369.7 470.1,366.8" fill="#2A8AE4" />
<polygon points="487.0,376.5 482.7,378.4 482.7,369.7 487.0,367.8" fill="#1B6FC4" />
<polygon points="474.3,364.9 487.0,367.8 482.7,369.7 470.1,366.8" fill="#47A1F1" />
<polygon points="470.9,377.5 476.6,378.8 476.6,370.1 470.9,368.8" fill="#2A8AE4" />
<polygon points="486.1,374.4 476.6,378.8 476.6,370.1 486.1,365.8" fill="#1B6FC4" />
<polygon points="480.4,364.5 486.1,365.8 476.6,370.1 470.9,368.8" fill="#47A1F1" />
<line x1="503.3" y1="405.3" x2="503.3" y2="411.1" stroke="#a9a49e" stroke-width="0.9"/>
<line x1="515.7" y1="408.2" x2="515.7" y2="414.0" stroke="#a9a49e" stroke-width="0.9"/>
<polygon points="490.3,405.6 517.3,411.9 517.3,400.4 490.3,394.1" fill="#ECEFF2" />
<polygon points="537.3,402.7 517.3,411.9 517.3,400.4 537.3,391.1" fill="#CBD1D7" />
<polygon points="510.4,384.9 537.3,391.1 517.3,400.4 490.3,394.1" fill="#DCE0E5" />
<line x1="496.0" y1="401.7" x2="510.2" y2="405.1" stroke="#8f979f" stroke-width="1.4"/>
<polygon points="485.4,394.4 518.1,402.0 516.9,389.7 493.4,384.3" fill="#76818C" opacity="0.9"/>
<polygon points="542.3,390.8 518.1,402.0 516.9,389.7 534.2,381.7" fill="#58626D" opacity="0.9"/>
<polygon points="510.8,376.3 534.2,381.7 516.9,389.7 493.4,384.3" fill="#838E99" opacity="0.9"/>
<polygon points="497.5,393.3 511.7,396.6 512.0,388.0 499.9,385.2" fill="#2E86DA" opacity="0.32"/>
<polygon points="531.0,391.4 521.5,395.8 520.6,387.3 528.4,383.6" fill="#2272C4" opacity="0.3"/>
<polygon points="512.4,378.3 528.0,381.9 516.9,387.0 501.3,383.3" fill="#3B8FDF" />
<polygon points="505.4,383.5 518.1,386.4 518.1,377.7 505.4,374.8" fill="#2A8AE4" />
<polygon points="522.3,384.5 518.1,386.4 518.1,377.7 522.3,375.8" fill="#1B6FC4" />
<polygon points="509.6,372.8 522.3,375.8 518.1,377.7 505.4,374.8" fill="#47A1F1" />
<polygon points="506.3,385.5 511.9,386.8 511.9,378.1 506.3,376.8" fill="#2A8AE4" />
<polygon points="521.4,382.5 511.9,386.8 511.9,378.1 521.4,373.8" fill="#1B6FC4" />
<polygon points="515.7,372.5 521.4,373.8 511.9,378.1 506.3,376.8" fill="#47A1F1" />
<line x1="538.8" y1="413.6" x2="538.8" y2="419.4" stroke="#a9a49e" stroke-width="0.9"/>
<line x1="551.4" y1="416.5" x2="551.4" y2="422.4" stroke="#a9a49e" stroke-width="0.9"/>
<polygon points="525.9,413.9 553.1,420.3 553.1,408.6 525.9,402.3" fill="#ECEFF2" />
<polygon points="573.0,411.0 553.1,420.3 553.1,408.6 573.0,399.3" fill="#CBD1D7" />
<polygon points="545.9,393.0 573.0,399.3 553.1,408.6 525.9,402.3" fill="#DCE0E5" />
<line x1="531.6" y1="410.0" x2="545.9" y2="413.3" stroke="#8f979f" stroke-width="1.4"/>
<polygon points="520.9,402.6 553.9,410.3 552.6,397.9 529.0,392.4" fill="#76818C" opacity="0.9"/>
<polygon points="578.0,399.0 553.9,410.3 552.6,397.9 569.9,389.8" fill="#58626D" opacity="0.9"/>
<polygon points="546.3,384.3 569.9,389.8 552.6,397.9 529.0,392.4" fill="#838E99" opacity="0.9"/>
<polygon points="533.1,401.5 547.4,404.8 547.7,396.2 535.5,393.3" fill="#2E86DA" opacity="0.32"/>
<polygon points="566.7,399.6 557.3,404.0 556.3,395.4 564.1,391.8" fill="#2272C4" opacity="0.3"/>
<polygon points="547.9,386.3 563.6,390.0 552.6,395.1 536.9,391.5" fill="#3B8FDF" />
<polygon points="540.9,391.6 553.8,394.6 553.8,385.8 540.9,382.8" fill="#2A8AE4" />
<polygon points="558.0,392.6 553.8,394.6 553.8,385.8 558.0,383.9" fill="#1B6FC4" />
<polygon points="545.1,380.9 558.0,383.9 553.8,385.8 540.9,382.8" fill="#47A1F1" />
<polygon points="541.9,393.6 547.6,395.0 547.6,386.2 541.9,384.9" fill="#2A8AE4" />
<polygon points="557.1,390.6 547.6,395.0 547.6,386.2 557.1,381.8" fill="#1B6FC4" />
<polygon points="551.3,380.5 557.1,381.8 547.6,386.2 541.9,384.9" fill="#47A1F1" />
<line x1="574.7" y1="422.0" x2="574.7" y2="427.8" stroke="#a9a49e" stroke-width="0.9"/>
<line x1="587.4" y1="424.9" x2="587.4" y2="430.8" stroke="#a9a49e" stroke-width="0.9"/>
<polygon points="561.7,422.3 589.1,428.7 589.1,416.9 561.7,410.5" fill="#ECEFF2" />
<polygon points="609.0,419.3 589.1,428.7 589.1,416.9 609.0,407.6" fill="#CBD1D7" />
<polygon points="581.6,401.2 609.0,407.6 589.1,416.9 561.7,410.5" fill="#DCE0E5" />
<line x1="567.5" y1="418.3" x2="581.9" y2="421.7" stroke="#8f979f" stroke-width="1.4"/>
<polygon points="556.7,410.8 589.9,418.6 588.6,406.1 564.8,400.6" fill="#76818C" opacity="0.9"/>
<polygon points="614.0,407.3 589.9,418.6 588.6,406.1 605.9,398.0" fill="#58626D" opacity="0.9"/>
<polygon points="582.1,392.5 605.9,398.0 588.6,406.1 564.8,400.6" fill="#838E99" opacity="0.9"/>
<polygon points="569.0,409.7 583.4,413.1 583.7,404.4 571.4,401.5" fill="#2E86DA" opacity="0.32"/>
<polygon points="602.7,407.8 593.3,412.2 592.3,403.6 600.1,399.9" fill="#2272C4" opacity="0.3"/>
<polygon points="583.7,394.5 599.6,398.2 588.6,403.3 572.7,399.6" fill="#3B8FDF" />
<polygon points="576.8,399.7 589.8,402.8 589.8,393.9 576.8,390.9" fill="#2A8AE4" />
<polygon points="594.0,400.8 589.8,402.8 589.8,393.9 594.0,392.0" fill="#1B6FC4" />
<polygon points="581.0,389.0 594.0,392.0 589.8,393.9 576.8,390.9" fill="#47A1F1" />
<polygon points="577.8,401.8 583.5,403.1 583.5,394.3 577.8,393.0" fill="#2A8AE4" />
<polygon points="593.0,398.7 583.5,403.1 583.5,394.3 593.0,389.9" fill="#1B6FC4" />
<polygon points="587.2,388.6 593.0,389.9 583.5,394.3 577.8,393.0" fill="#47A1F1" />
<line x1="-25.9" y1="299.5" x2="-25.9" y2="304.6" stroke="#a9a49e" stroke-width="0.9"/>
<line x1="-14.8" y1="302.1" x2="-14.8" y2="307.2" stroke="#a9a49e" stroke-width="0.9"/>
<polygon points="-38.1,299.8 -14.0,305.4 -14.0,295.1 -38.1,289.5" fill="#ECEFF2" />
<polygon points="6.8,297.1 -14.0,305.4 -14.0,295.1 6.8,286.8" fill="#CBD1D7" />
<polygon points="-17.2,281.1 6.8,286.8 -14.0,295.1 -38.1,289.5" fill="#DCE0E5" />
<line x1="-33.0" y1="296.3" x2="-20.4" y2="299.3" stroke="#8f979f" stroke-width="1.4"/>
<polygon points="-42.8,289.7 -13.7,296.6 -14.2,285.6 -35.1,280.7" fill="#76818C" opacity="0.9"/>
<polygon points="11.5,286.5 -13.7,296.6 -14.2,285.6 3.9,278.4" fill="#58626D" opacity="0.9"/>
<polygon points="-17.0,273.5 3.9,278.4 -14.2,285.6 -35.1,280.7" fill="#838E99" opacity="0.9"/>
<polygon points="-31.6,288.8 -18.9,291.7 -18.5,284.1 -29.2,281.6" fill="#2E86DA" opacity="0.32"/>
<polygon points="0.4,287.0 -9.5,291.0 -10.2,283.4 -2.0,280.1" fill="#2272C4" opacity="0.3"/>
<polygon points="-16.0,275.3 -2.1,278.5 -13.6,283.1 -27.5,279.9" fill="#3B8FDF" />
<polygon points="-23.5,280.1 -12.1,282.7 -12.1,274.9 -23.5,272.2" fill="#2A8AE4" />
<polygon points="-7.7,281.0 -12.1,282.7 -12.1,274.9 -7.7,273.1" fill="#1B6FC4" />
<polygon points="-19.1,270.5 -7.7,273.1 -12.1,274.9 -23.5,272.2" fill="#47A1F1" />
<polygon points="-23.1,281.9 -18.0,283.1 -18.0,275.2 -23.1,274.0" fill="#2A8AE4" />
<polygon points="-8.2,279.1 -18.0,283.1 -18.0,275.2 -8.2,271.3" fill="#1B6FC4" />
<polygon points="-13.2,270.1 -8.2,271.3 -18.0,275.2 -23.1,274.0" fill="#47A1F1" />
<line x1="5.9" y1="306.9" x2="5.9" y2="312.1" stroke="#a9a49e" stroke-width="0.9"/>
<line x1="17.0" y1="309.6" x2="17.0" y2="314.7" stroke="#a9a49e" stroke-width="0.9"/>
<polygon points="-6.4,307.2 17.8,312.9 17.8,302.5 -6.4,296.8" fill="#ECEFF2" />
<polygon points="38.6,304.5 17.8,312.9 17.8,302.5 38.6,294.1" fill="#CBD1D7" />
<polygon points="14.4,288.5 38.6,294.1 17.8,302.5 -6.4,296.8" fill="#DCE0E5" />
<line x1="-1.3" y1="303.7" x2="11.4" y2="306.7" stroke="#8f979f" stroke-width="1.4"/>
<polygon points="-11.1,297.1 18.2,304.0 17.6,293.0 -3.4,288.0" fill="#76818C" opacity="0.9"/>
<polygon points="43.4,293.8 18.2,304.0 17.6,293.0 35.7,285.6" fill="#58626D" opacity="0.9"/>
<polygon points="14.6,280.7 35.7,285.6 17.6,293.0 -3.4,288.0" fill="#838E99" opacity="0.9"/>
<polygon points="0.2,296.1 12.9,299.1 13.3,291.4 2.5,288.9" fill="#2E86DA" opacity="0.32"/>
<polygon points="32.2,294.4 22.4,298.4 21.6,290.7 29.8,287.4" fill="#2272C4" opacity="0.3"/>
<polygon points="15.7,282.5 29.7,285.8 18.2,290.5 4.2,287.2" fill="#3B8FDF" />
<polygon points="8.2,287.4 19.7,290.1 19.7,282.1 8.2,279.4" fill="#2A8AE4" />
<polygon points="24.1,288.3 19.7,290.1 19.7,282.1 24.1,280.4" fill="#1B6FC4" />
<polygon points="12.6,277.7 24.1,280.4 19.7,282.1 8.2,279.4" fill="#47A1F1" />
<polygon points="8.6,289.2 13.7,290.4 13.7,282.5 8.6,281.3" fill="#2A8AE4" />
<polygon points="23.6,286.4 13.7,290.4 13.7,282.5 23.6,278.5" fill="#1B6FC4" />
<polygon points="18.5,277.3 23.6,278.5 13.7,282.5 8.6,281.3" fill="#47A1F1" />
<line x1="37.8" y1="314.4" x2="37.8" y2="319.7" stroke="#a9a49e" stroke-width="0.9"/>
<line x1="49.1" y1="317.1" x2="49.1" y2="322.3" stroke="#a9a49e" stroke-width="0.9"/>
<polygon points="25.5,314.7 49.9,320.5 49.9,310.0 25.5,304.3" fill="#ECEFF2" />
<polygon points="70.7,312.0 49.9,320.5 49.9,310.0 70.7,301.5" fill="#CBD1D7" />
<polygon points="46.3,295.8 70.7,301.5 49.9,310.0 25.5,304.3" fill="#DCE0E5" />
<line x1="30.6" y1="311.2" x2="43.5" y2="314.2" stroke="#8f979f" stroke-width="1.4"/>
<polygon points="20.8,304.5 50.3,311.5 49.7,300.4 28.5,295.4" fill="#76818C" opacity="0.9"/>
<polygon points="75.5,301.2 50.3,311.5 49.7,300.4 67.7,293.0" fill="#58626D" opacity="0.9"/>
<polygon points="46.5,288.0 67.7,293.0 49.7,300.4 28.5,295.4" fill="#838E99" opacity="0.9"/>
<polygon points="32.1,303.5 45.0,306.6 45.4,298.8 34.4,296.2" fill="#2E86DA" opacity="0.32"/>
<polygon points="64.3,301.8 54.5,305.8 53.7,298.1 61.9,294.8" fill="#2272C4" opacity="0.3"/>
<polygon points="47.6,289.9 61.7,293.2 50.3,297.8 36.1,294.5" fill="#3B8FDF" />
<polygon points="40.2,294.7 51.7,297.4 51.7,289.5 40.2,286.7" fill="#2A8AE4" />
<polygon points="56.1,295.6 51.7,297.4 51.7,289.5 56.1,287.7" fill="#1B6FC4" />
<polygon points="44.5,285.0 56.1,287.7 51.7,289.5 40.2,286.7" fill="#47A1F1" />
<polygon points="40.6,296.6 45.8,297.8 45.8,289.8 40.6,288.6" fill="#2A8AE4" />
<polygon points="55.6,293.8 45.8,297.8 45.8,289.8 55.6,285.8" fill="#1B6FC4" />
<polygon points="50.5,284.6 55.6,285.8 45.8,289.8 40.6,288.6" fill="#47A1F1" />
<line x1="70.0" y1="322.0" x2="70.0" y2="327.3" stroke="#a9a49e" stroke-width="0.9"/>
<line x1="81.4" y1="324.7" x2="81.4" y2="329.9" stroke="#a9a49e" stroke-width="0.9"/>
<polygon points="57.7,322.3 82.3,328.1 82.3,317.5 57.7,311.7" fill="#ECEFF2" />
<polygon points="103.0,319.5 82.3,328.1 82.3,317.5 103.0,309.0" fill="#CBD1D7" />
<polygon points="78.4,303.3 103.0,309.0 82.3,317.5 57.7,311.7" fill="#DCE0E5" />
<line x1="62.8" y1="318.8" x2="75.8" y2="321.8" stroke="#8f979f" stroke-width="1.4"/>
<polygon points="52.9,312.0 82.7,319.0 82.0,307.8 60.7,302.8" fill="#76818C" opacity="0.9"/>
<polygon points="107.8,308.7 82.7,319.0 82.0,307.8 100.0,300.4" fill="#58626D" opacity="0.9"/>
<polygon points="78.7,295.4 100.0,300.4 82.0,307.8 60.7,302.8" fill="#838E99" opacity="0.9"/>
<polygon points="64.3,311.0 77.3,314.1 77.7,306.3 66.7,303.7" fill="#2E86DA" opacity="0.32"/>
<polygon points="96.6,309.3 86.8,313.3 86.0,305.6 94.2,302.2" fill="#2272C4" opacity="0.3"/>
<polygon points="79.8,297.2 94.0,300.6 82.6,305.3 68.3,301.9" fill="#3B8FDF" />
<polygon points="72.4,302.1 84.0,304.9 84.0,296.8 72.4,294.1" fill="#2A8AE4" />
<polygon points="88.4,303.1 84.0,304.9 84.0,296.8 88.4,295.0" fill="#1B6FC4" />
<polygon points="76.7,292.3 88.4,295.0 84.0,296.8 72.4,294.1" fill="#47A1F1" />
<polygon points="72.9,304.0 78.0,305.2 78.0,297.2 72.9,296.0" fill="#2A8AE4" />
<polygon points="87.9,301.2 78.0,305.2 78.0,297.2 87.9,293.2" fill="#1B6FC4" />
<polygon points="82.7,291.9 87.9,293.2 78.0,297.2 72.9,296.0" fill="#47A1F1" />
<line x1="102.5" y1="329.6" x2="102.5" y2="334.9" stroke="#a9a49e" stroke-width="0.9"/>
<line x1="113.9" y1="332.3" x2="113.9" y2="337.6" stroke="#a9a49e" stroke-width="0.9"/>
<polygon points="90.1,329.9 114.9,335.7 114.9,325.1 90.1,319.3" fill="#ECEFF2" />
<polygon points="135.6,327.1 114.9,335.7 114.9,325.1 135.6,316.5" fill="#CBD1D7" />
<polygon points="110.8,310.7 135.6,316.5 114.9,325.1 90.1,319.3" fill="#DCE0E5" />
<line x1="95.3" y1="326.4" x2="108.3" y2="329.4" stroke="#8f979f" stroke-width="1.4"/>
<polygon points="85.3,319.6 115.3,326.6 114.6,315.3 93.1,310.3" fill="#76818C" opacity="0.9"/>
<polygon points="140.4,316.2 115.3,326.6 114.6,315.3 132.6,307.9" fill="#58626D" opacity="0.9"/>
<polygon points="111.1,302.8 132.6,307.9 114.6,315.3 93.1,310.3" fill="#838E99" opacity="0.9"/>
<polygon points="96.8,318.6 109.8,321.6 110.2,313.7 99.1,311.1" fill="#2E86DA" opacity="0.32"/>
<polygon points="129.2,316.8 119.4,320.9 118.5,313.0 126.7,309.7" fill="#2272C4" opacity="0.3"/>
<polygon points="112.2,304.7 126.5,308.0 115.1,312.8 100.8,309.4" fill="#3B8FDF" />
<polygon points="104.8,309.6 116.5,312.3 116.5,304.3 104.8,301.5" fill="#2A8AE4" />
<polygon points="120.9,310.5 116.5,312.3 116.5,304.3 120.9,302.5" fill="#1B6FC4" />
<polygon points="109.2,299.7 120.9,302.5 116.5,304.3 104.8,301.5" fill="#47A1F1" />
<polygon points="105.3,311.5 110.5,312.7 110.5,304.6 105.3,303.4" fill="#2A8AE4" />
<polygon points="120.3,308.6 110.5,312.7 110.5,304.6 120.3,300.6" fill="#1B6FC4" />
<polygon points="115.1,299.3 120.3,300.6 110.5,304.6 105.3,303.4" fill="#47A1F1" />
<line x1="135.2" y1="337.3" x2="135.2" y2="342.7" stroke="#a9a49e" stroke-width="0.9"/>
<line x1="146.7" y1="340.0" x2="146.7" y2="345.4" stroke="#a9a49e" stroke-width="0.9"/>
<polygon points="122.7,337.6 147.7,343.5 147.7,332.8 122.7,326.9" fill="#ECEFF2" />
<polygon points="168.4,334.8 147.7,343.5 147.7,332.8 168.4,324.1" fill="#CBD1D7" />
<polygon points="143.4,318.3 168.4,324.1 147.7,332.8 122.7,326.9" fill="#DCE0E5" />
<line x1="128.0" y1="334.0" x2="141.1" y2="337.1" stroke="#8f979f" stroke-width="1.4"/>
<polygon points="117.9,327.2 148.2,334.3 147.5,322.9 125.8,317.8" fill="#76818C" opacity="0.9"/>
<polygon points="173.2,323.8 148.2,334.3 147.5,322.9 165.4,315.4" fill="#58626D" opacity="0.9"/>
<polygon points="143.7,310.3 165.4,315.4 147.5,322.9 125.8,317.8" fill="#838E99" opacity="0.9"/>
<polygon points="129.5,326.2 142.6,329.2 143.0,321.3 131.8,318.7" fill="#2E86DA" opacity="0.32"/>
<polygon points="162.0,324.4 152.2,328.5 151.4,320.6 159.5,317.2" fill="#2272C4" opacity="0.3"/>
<polygon points="144.9,312.2 159.3,315.5 147.9,320.3 133.5,316.9" fill="#3B8FDF" />
<polygon points="137.5,317.1 149.3,319.9 149.3,311.7 137.5,309.0" fill="#2A8AE4" />
<polygon points="153.7,318.1 149.3,319.9 149.3,311.7 153.7,309.9" fill="#1B6FC4" />
<polygon points="141.8,307.2 153.7,309.9 149.3,311.7 137.5,309.0" fill="#47A1F1" />
<polygon points="138.1,319.0 143.3,320.2 143.3,312.1 138.1,310.9" fill="#2A8AE4" />
<polygon points="153.1,316.1 143.3,320.2 143.3,312.1 153.1,308.0" fill="#1B6FC4" />
<polygon points="147.8,306.8 153.1,308.0 143.3,312.1 138.1,310.9" fill="#47A1F1" />
<line x1="168.2" y1="345.1" x2="168.2" y2="350.4" stroke="#a9a49e" stroke-width="0.9"/>
<line x1="179.8" y1="347.8" x2="179.8" y2="353.2" stroke="#a9a49e" stroke-width="0.9"/>
<polygon points="155.7,345.3 180.8,351.3 180.8,340.5 155.7,334.5" fill="#ECEFF2" />
<polygon points="201.5,342.5 180.8,351.3 180.8,340.5 201.5,331.7" fill="#CBD1D7" />
<polygon points="176.3,325.9 201.5,331.7 180.8,340.5 155.7,334.5" fill="#DCE0E5" />
<line x1="161.0" y1="341.7" x2="174.2" y2="344.8" stroke="#8f979f" stroke-width="1.4"/>
<polygon points="150.8,334.8 181.3,342.0 180.5,330.5 158.7,325.4" fill="#76818C" opacity="0.9"/>
<polygon points="206.3,331.5 181.3,342.0 180.5,330.5 198.4,322.9" fill="#58626D" opacity="0.9"/>
<polygon points="176.6,317.8 198.4,322.9 180.5,330.5 158.7,325.4" fill="#838E99" opacity="0.9"/>
<polygon points="162.4,333.8 175.7,336.9 176.1,328.9 164.8,326.3" fill="#2E86DA" opacity="0.32"/>
<polygon points="195.1,332.0 185.3,336.1 184.4,328.2 192.6,324.8" fill="#2272C4" opacity="0.3"/>
<polygon points="177.8,319.7 192.4,323.1 181.0,327.9 166.4,324.5" fill="#3B8FDF" />
<polygon points="170.4,324.7 182.4,327.5 182.4,319.3 170.4,316.5" fill="#2A8AE4" />
<polygon points="186.7,325.6 182.4,327.5 182.4,319.3 186.7,317.5" fill="#1B6FC4" />
<polygon points="174.8,314.7 186.7,317.5 182.4,319.3 170.4,316.5" fill="#47A1F1" />
<polygon points="171.0,326.6 176.3,327.8 176.3,319.7 171.0,318.4" fill="#2A8AE4" />
<polygon points="186.1,323.7 176.3,327.8 176.3,319.7 186.1,315.5" fill="#1B6FC4" />
<polygon points="180.8,314.3 186.1,315.5 176.3,319.7 171.0,318.4" fill="#47A1F1" />
<line x1="201.4" y1="352.9" x2="201.4" y2="358.3" stroke="#a9a49e" stroke-width="0.9"/>
<line x1="213.1" y1="355.6" x2="213.1" y2="361.0" stroke="#a9a49e" stroke-width="0.9"/>
<polygon points="188.8,353.1 214.2,359.1 214.2,348.2 188.8,342.3" fill="#ECEFF2" />
<polygon points="234.8,350.3 214.2,359.1 214.2,348.2 234.8,339.4" fill="#CBD1D7" />
<polygon points="209.4,333.5 234.8,339.4 214.2,348.2 188.8,342.3" fill="#DCE0E5" />
<line x1="194.2" y1="349.5" x2="207.5" y2="352.6" stroke="#8f979f" stroke-width="1.4"/>
<polygon points="184.0,342.6 214.7,349.8 213.9,338.2 191.9,333.0" fill="#76818C" opacity="0.9"/>
<polygon points="239.6,339.2 214.7,349.8 213.9,338.2 231.8,330.6" fill="#58626D" opacity="0.9"/>
<polygon points="209.7,325.4 231.8,330.6 213.9,338.2 191.9,333.0" fill="#838E99" opacity="0.9"/>
<polygon points="195.6,341.5 209.0,344.7 209.4,336.6 198.0,333.9" fill="#2E86DA" opacity="0.32"/>
<polygon points="228.4,339.7 218.6,343.9 217.8,335.9 225.9,332.4" fill="#2272C4" opacity="0.3"/>
<polygon points="211.0,327.3 225.7,330.8 214.3,335.6 199.6,332.2" fill="#3B8FDF" />
<polygon points="203.6,332.3 215.7,335.1 215.7,326.9 203.6,324.1" fill="#2A8AE4" />
<polygon points="220.0,333.3 215.7,335.1 215.7,326.9 220.0,325.0" fill="#1B6FC4" />
<polygon points="208.0,322.2 220.0,325.0 215.7,326.9 203.6,324.1" fill="#47A1F1" />
<polygon points="204.3,334.2 209.6,335.5 209.6,327.3 204.3,326.0" fill="#2A8AE4" />
<polygon points="219.4,331.3 209.6,335.5 209.6,327.3 219.4,323.1" fill="#1B6FC4" />
<polygon points="214.0,321.9 219.4,323.1 209.6,327.3 204.3,326.0" fill="#47A1F1" />
<line x1="234.9" y1="360.7" x2="234.9" y2="366.2" stroke="#a9a49e" stroke-width="0.9"/>
<line x1="246.6" y1="363.5" x2="246.6" y2="369.0" stroke="#a9a49e" stroke-width="0.9"/>
<polygon points="222.3,361.0 247.8,367.0 247.8,356.1 222.3,350.0" fill="#ECEFF2" />
<polygon points="268.4,358.2 247.8,367.0 247.8,356.1 268.4,347.2" fill="#CBD1D7" />
<polygon points="242.8,341.2 268.4,347.2 247.8,356.1 222.3,350.0" fill="#DCE0E5" />
<line x1="227.6" y1="357.3" x2="241.1" y2="360.5" stroke="#8f979f" stroke-width="1.4"/>
<polygon points="217.4,350.3 248.4,357.6 247.5,345.9 225.3,340.7" fill="#76818C" opacity="0.9"/>
<polygon points="273.2,346.9 248.4,357.6 247.5,345.9 265.3,338.3" fill="#58626D" opacity="0.9"/>
<polygon points="243.1,333.1 265.3,338.3 247.5,345.9 225.3,340.7" fill="#838E99" opacity="0.9"/>
<polygon points="229.1,349.3 242.6,352.5 242.9,344.3 231.5,341.6" fill="#2E86DA" opacity="0.32"/>
<polygon points="262.0,347.5 252.2,351.7 251.4,343.6 259.5,340.1" fill="#2272C4" opacity="0.3"/>
<polygon points="244.4,335.0 259.2,338.4 247.9,343.3 233.1,339.8" fill="#3B8FDF" />
<polygon points="237.1,340.0 249.2,342.8 249.2,334.5 237.1,331.7" fill="#2A8AE4" />
<polygon points="253.5,341.0 249.2,342.8 249.2,334.5 253.5,332.7" fill="#1B6FC4" />
<polygon points="241.4,329.8 253.5,332.7 249.2,334.5 237.1,331.7" fill="#47A1F1" />
<polygon points="237.8,342.0 243.1,343.2 243.1,334.9 237.8,333.7" fill="#2A8AE4" />
<polygon points="252.9,339.0 243.1,343.2 243.1,334.9 252.9,330.7" fill="#1B6FC4" />
<polygon points="247.5,329.5 252.9,330.7 243.1,334.9 237.8,333.7" fill="#47A1F1" />
<line x1="268.6" y1="368.6" x2="268.6" y2="374.2" stroke="#a9a49e" stroke-width="0.9"/>
<line x1="280.5" y1="371.4" x2="280.5" y2="376.9" stroke="#a9a49e" stroke-width="0.9"/>
<polygon points="255.9,368.9 281.7,375.0 281.7,363.9 255.9,357.9" fill="#ECEFF2" />
<polygon points="302.2,366.1 281.7,375.0 281.7,363.9 302.2,355.0" fill="#CBD1D7" />
<polygon points="276.5,349.0 302.2,355.0 281.7,363.9 255.9,357.9" fill="#DCE0E5" />
<line x1="261.4" y1="365.2" x2="274.9" y2="368.4" stroke="#8f979f" stroke-width="1.4"/>
<polygon points="251.1,358.2 282.3,365.5 281.4,353.8 259.0,348.5" fill="#76818C" opacity="0.9"/>
<polygon points="307.1,354.7 282.3,365.5 281.4,353.8 299.2,346.0" fill="#58626D" opacity="0.9"/>
<polygon points="276.8,340.8 299.2,346.0 281.4,353.8 259.0,348.5" fill="#838E99" opacity="0.9"/>
<polygon points="262.9,357.1 276.4,360.3 276.8,352.1 265.2,349.4" fill="#2E86DA" opacity="0.32"/>
<polygon points="295.8,355.3 286.1,359.5 285.2,351.4 293.3,347.9" fill="#2272C4" opacity="0.3"/>
<polygon points="278.1,342.7 293.0,346.2 281.7,351.1 266.8,347.6" fill="#3B8FDF" />
<polygon points="270.8,347.8 283.0,350.6 283.0,342.3 270.8,339.4" fill="#2A8AE4" />
<polygon points="287.3,348.7 283.0,350.6 283.0,342.3 287.3,340.4" fill="#1B6FC4" />
<polygon points="275.1,337.5 287.3,340.4 283.0,342.3 270.8,339.4" fill="#47A1F1" />
<polygon points="271.5,349.7 276.9,351.0 276.9,342.6 271.5,341.4" fill="#2A8AE4" />
<polygon points="286.6,346.8 276.9,351.0 276.9,342.6 286.6,338.4" fill="#1B6FC4" />
<polygon points="281.2,337.2 286.6,338.4 276.9,342.6 271.5,341.4" fill="#47A1F1" />
<line x1="302.6" y1="376.6" x2="302.6" y2="382.2" stroke="#a9a49e" stroke-width="0.9"/>
<line x1="314.6" y1="379.4" x2="314.6" y2="385.0" stroke="#a9a49e" stroke-width="0.9"/>
<polygon points="289.9,376.9 315.9,383.0 315.9,371.9 289.9,365.8" fill="#ECEFF2" />
<polygon points="336.3,374.0 315.9,383.0 315.9,371.9 336.3,362.9" fill="#CBD1D7" />
<polygon points="310.4,356.8 336.3,362.9 315.9,371.9 289.9,365.8" fill="#DCE0E5" />
<line x1="295.4" y1="373.2" x2="309.0" y2="376.4" stroke="#8f979f" stroke-width="1.4"/>
<polygon points="285.0,366.1 316.5,373.5 315.5,361.6 293.0,356.3" fill="#76818C" opacity="0.9"/>
<polygon points="341.2,362.6 316.5,373.5 315.5,361.6 333.3,353.8" fill="#58626D" opacity="0.9"/>
<polygon points="310.7,348.6 333.3,353.8 315.5,361.6 293.0,356.3" fill="#838E99" opacity="0.9"/>
<polygon points="296.9,365.0 310.5,368.2 310.9,360.0 299.2,357.2" fill="#2E86DA" opacity="0.32"/>
<polygon points="329.9,363.2 320.3,367.4 319.3,359.2 327.4,355.7" fill="#2272C4" opacity="0.3"/>
<polygon points="312.1,350.5 327.1,354.0 315.8,359.0 300.8,355.4" fill="#3B8FDF" />
<polygon points="304.8,355.6 317.1,358.5 317.1,350.0 304.8,347.2" fill="#2A8AE4" />
<polygon points="321.4,356.6 317.1,358.5 317.1,350.0 321.4,348.2" fill="#1B6FC4" />
<polygon points="309.1,345.3 321.4,348.2 317.1,350.0 304.8,347.2" fill="#47A1F1" />
<polygon points="305.5,357.6 311.0,358.8 311.0,350.4 305.5,349.1" fill="#2A8AE4" />
<polygon points="320.7,354.6 311.0,358.8 311.0,350.4 320.7,346.2" fill="#1B6FC4" />
<polygon points="315.2,344.9 320.7,346.2 311.0,350.4 305.5,349.1" fill="#47A1F1" />
<line x1="336.9" y1="384.7" x2="336.9" y2="390.3" stroke="#a9a49e" stroke-width="0.9"/>
<line x1="348.9" y1="387.5" x2="348.9" y2="393.1" stroke="#a9a49e" stroke-width="0.9"/>
<polygon points="324.1,384.9 350.3,391.1 350.3,379.9 324.1,373.7" fill="#ECEFF2" />
<polygon points="370.7,382.1 350.3,391.1 350.3,379.9 370.7,370.9" fill="#CBD1D7" />
<polygon points="344.5,364.7 370.7,370.9 350.3,379.9 324.1,373.7" fill="#DCE0E5" />
<line x1="329.6" y1="381.2" x2="343.4" y2="384.4" stroke="#8f979f" stroke-width="1.4"/>
<polygon points="319.2,374.0 350.9,381.5 349.9,369.5 327.2,364.2" fill="#76818C" opacity="0.9"/>
<polygon points="375.6,370.6 350.9,381.5 349.9,369.5 367.6,361.7" fill="#58626D" opacity="0.9"/>
<polygon points="344.9,356.4 367.6,361.7 349.9,369.5 327.2,364.2" fill="#838E99" opacity="0.9"/>
<polygon points="331.1,373.0 344.9,376.2 345.2,367.9 333.5,365.1" fill="#2E86DA" opacity="0.32"/>
<polygon points="364.3,371.1 354.7,375.4 353.7,367.2 361.8,363.6" fill="#2272C4" opacity="0.3"/>
<polygon points="346.3,358.3 361.4,361.9 350.2,366.9 335.0,363.3" fill="#3B8FDF" />
<polygon points="339.1,363.4 351.5,366.4 351.5,357.9 339.1,355.0" fill="#2A8AE4" />
<polygon points="355.8,364.5 351.5,366.4 351.5,357.9 355.8,356.0" fill="#1B6FC4" />
<polygon points="343.4,353.1 355.8,356.0 351.5,357.9 339.1,355.0" fill="#47A1F1" />
<polygon points="339.8,365.4 345.3,366.7 345.3,358.3 339.8,357.0" fill="#2A8AE4" />
<polygon points="355.0,362.5 345.3,366.7 345.3,358.3 355.0,354.0" fill="#1B6FC4" />
<polygon points="349.5,352.7 355.0,354.0 345.3,358.3 339.8,357.0" fill="#47A1F1" />
<line x1="380.1" y1="394.8" x2="380.1" y2="400.5" stroke="#a9a49e" stroke-width="0.9"/>
<line x1="392.3" y1="397.7" x2="392.3" y2="403.3" stroke="#a9a49e" stroke-width="0.9"/>
<polygon points="367.3,395.1 393.7,401.3 393.7,390.0 367.3,383.8" fill="#ECEFF2" />
<polygon points="414.1,392.2 393.7,401.3 393.7,390.0 414.1,380.9" fill="#CBD1D7" />
<polygon points="387.7,374.7 414.1,380.9 393.7,390.0 367.3,383.8" fill="#DCE0E5" />
<line x1="372.8" y1="391.3" x2="386.8" y2="394.6" stroke="#8f979f" stroke-width="1.4"/>
<polygon points="362.4,384.1 394.4,391.6 393.3,379.5 370.4,374.1" fill="#76818C" opacity="0.9"/>
<polygon points="419.0,380.6 394.4,391.6 393.3,379.5 411.0,371.6" fill="#58626D" opacity="0.9"/>
<polygon points="388.0,366.3 411.0,371.6 393.3,379.5 370.4,374.1" fill="#838E99" opacity="0.9"/>
<polygon points="374.3,383.0 388.3,386.3 388.6,377.9 376.7,375.1" fill="#2E86DA" opacity="0.32"/>
<polygon points="407.7,381.1 398.1,385.5 397.1,377.1 405.1,373.5" fill="#2272C4" opacity="0.3"/>
<polygon points="389.5,368.2 404.8,371.8 393.5,376.8 378.2,373.2" fill="#3B8FDF" />
<polygon points="382.3,373.4 394.8,376.3 394.8,367.8 382.3,364.8" fill="#2A8AE4" />
<polygon points="399.1,374.4 394.8,376.3 394.8,367.8 399.1,365.8" fill="#1B6FC4" />
<polygon points="386.6,362.9 399.1,365.8 394.8,367.8 382.3,364.8" fill="#47A1F1" />
<polygon points="383.1,375.4 388.6,376.7 388.6,368.1 383.1,366.8" fill="#2A8AE4" />
<polygon points="398.3,372.4 388.6,376.7 388.6,368.1 398.3,363.8" fill="#1B6FC4" />
<polygon points="392.7,362.5 398.3,363.8 388.6,368.1 383.1,366.8" fill="#47A1F1" />
<line x1="441.4" y1="409.2" x2="441.4" y2="414.9" stroke="#a9a49e" stroke-width="0.9"/>
<line x1="453.7" y1="412.1" x2="453.7" y2="417.8" stroke="#a9a49e" stroke-width="0.9"/>
<polygon points="428.4,409.5 455.3,415.8 455.3,404.3 428.4,398.0" fill="#ECEFF2" />
<polygon points="475.5,406.5 455.3,415.8 455.3,404.3 475.5,395.1" fill="#CBD1D7" />
<polygon points="448.7,388.8 475.5,395.1 455.3,404.3 428.4,398.0" fill="#DCE0E5" />
<line x1="434.1" y1="405.6" x2="448.2" y2="409.0" stroke="#8f979f" stroke-width="1.4"/>
<polygon points="423.5,398.3 456.0,406.0 454.8,393.7 431.5,388.2" fill="#76818C" opacity="0.9"/>
<polygon points="480.4,394.8 456.0,406.0 454.8,393.7 472.4,385.7" fill="#58626D" opacity="0.9"/>
<polygon points="449.1,380.2 472.4,385.7 454.8,393.7 431.5,388.2" fill="#838E99" opacity="0.9"/>
<polygon points="435.6,397.2 449.7,400.5 450.0,392.0 438.0,389.2" fill="#2E86DA" opacity="0.32"/>
<polygon points="469.1,395.3 459.5,399.7 458.6,391.3 466.6,387.6" fill="#2272C4" opacity="0.3"/>
<polygon points="450.6,382.2 466.1,385.9 454.9,391.0 439.4,387.3" fill="#3B8FDF" />
<polygon points="443.5,387.4 456.2,390.4 456.2,381.8 443.5,378.8" fill="#2A8AE4" />
<polygon points="460.5,388.5 456.2,390.4 456.2,381.8 460.5,379.8" fill="#1B6FC4" />
<polygon points="447.8,376.8 460.5,379.8 456.2,381.8 443.5,378.8" fill="#47A1F1" />
<polygon points="444.4,389.5 450.0,390.8 450.0,382.2 444.4,380.8" fill="#2A8AE4" />
<polygon points="459.6,386.4 450.0,390.8 450.0,382.2 459.6,377.8" fill="#1B6FC4" />
<polygon points="454.0,376.5 459.6,377.8 450.0,382.2 444.4,380.8" fill="#47A1F1" />
<line x1="476.7" y1="417.5" x2="476.7" y2="423.3" stroke="#a9a49e" stroke-width="0.9"/>
<line x1="489.2" y1="420.4" x2="489.2" y2="426.2" stroke="#a9a49e" stroke-width="0.9"/>
<polygon points="463.8,417.8 490.8,424.2 490.8,412.6 463.8,406.2" fill="#ECEFF2" />
<polygon points="511.0,414.8 490.8,424.2 490.8,412.6 511.0,403.3" fill="#CBD1D7" />
<polygon points="484.0,397.0 511.0,403.3 490.8,412.6 463.8,406.2" fill="#DCE0E5" />
<line x1="469.4" y1="413.9" x2="483.7" y2="417.3" stroke="#8f979f" stroke-width="1.4"/>
<polygon points="458.8,406.5 491.5,414.2 490.4,401.9 466.9,396.4" fill="#76818C" opacity="0.9"/>
<polygon points="516.0,403.0 491.5,414.2 490.4,401.9 507.9,393.8" fill="#58626D" opacity="0.9"/>
<polygon points="484.4,388.3 507.9,393.8 490.4,401.9 466.9,396.4" fill="#838E99" opacity="0.9"/>
<polygon points="471.0,405.4 485.2,408.8 485.5,400.2 473.4,397.3" fill="#2E86DA" opacity="0.32"/>
<polygon points="504.6,403.5 495.1,407.9 494.1,399.4 502.0,395.8" fill="#2272C4" opacity="0.3"/>
<polygon points="485.9,390.3 501.6,394.0 490.4,399.1 474.8,395.5" fill="#3B8FDF" />
<polygon points="478.9,395.6 491.7,398.6 491.7,389.9 478.9,386.8" fill="#2A8AE4" />
<polygon points="495.9,396.6 491.7,398.6 491.7,389.9 495.9,387.9" fill="#1B6FC4" />
<polygon points="483.1,384.9 495.9,387.9 491.7,389.9 478.9,386.8" fill="#47A1F1" />
<polygon points="479.8,397.6 485.4,399.0 485.4,390.2 479.8,388.9" fill="#2A8AE4" />
<polygon points="495.0,394.6 485.4,399.0 485.4,390.2 495.0,385.8" fill="#1B6FC4" />
<polygon points="489.3,384.5 495.0,385.8 485.4,390.2 479.8,388.9" fill="#47A1F1" />
<line x1="512.4" y1="425.9" x2="512.4" y2="431.7" stroke="#a9a49e" stroke-width="0.9"/>
<line x1="525.0" y1="428.8" x2="525.0" y2="434.7" stroke="#a9a49e" stroke-width="0.9"/>
<polygon points="499.4,426.2 526.6,432.6 526.6,420.9 499.4,414.5" fill="#ECEFF2" />
<polygon points="546.8,423.2 526.6,432.6 526.6,420.9 546.8,411.5" fill="#CBD1D7" />
<polygon points="519.6,405.2 546.8,411.5 526.6,420.9 499.4,414.5" fill="#DCE0E5" />
<line x1="505.1" y1="422.3" x2="519.4" y2="425.6" stroke="#8f979f" stroke-width="1.4"/>
<polygon points="494.4,414.8 527.4,422.6 526.2,410.1 502.5,404.6" fill="#76818C" opacity="0.9"/>
<polygon points="551.8,411.2 527.4,422.6 526.2,410.1 543.7,402.0" fill="#58626D" opacity="0.9"/>
<polygon points="520.0,396.5 543.7,402.0 526.2,410.1 502.5,404.6" fill="#838E99" opacity="0.9"/>
<polygon points="506.6,413.7 521.0,417.1 521.2,408.4 509.0,405.6" fill="#2E86DA" opacity="0.32"/>
<polygon points="540.4,411.8 530.9,416.2 529.9,407.7 537.8,404.0" fill="#2272C4" opacity="0.3"/>
<polygon points="521.6,398.5 537.3,402.2 526.2,407.4 510.4,403.7" fill="#3B8FDF" />
<polygon points="514.5,403.8 527.4,406.8 527.4,398.0 514.5,395.0" fill="#2A8AE4" />
<polygon points="531.7,404.8 527.4,406.8 527.4,398.0 531.7,396.0" fill="#1B6FC4" />
<polygon points="518.8,393.0 531.7,396.0 527.4,398.0 514.5,395.0" fill="#47A1F1" />
<polygon points="515.4,405.8 521.2,407.2 521.2,398.4 515.4,397.0" fill="#2A8AE4" />
<polygon points="530.7,402.7 521.2,407.2 521.2,398.4 530.7,394.0" fill="#1B6FC4" />
<polygon points="525.0,392.6 530.7,394.0 521.2,398.4 515.4,397.0" fill="#47A1F1" />
<polygon points="546.1,443.5 559.8,446.7 559.8,431.0 546.1,427.8" fill="#F1C61C" />
<polygon points="575.7,439.3 559.8,446.7 559.8,431.0 575.7,423.6" fill="#D6AA0E" />
<polygon points="561.9,420.4 575.7,423.6 559.8,431.0 546.1,427.8" fill="#F6D646" />
<polygon points="553.0,426.8 560.3,428.5 560.3,419.7 553.0,418.0" fill="#F1C61C" />
<polygon points="568.7,424.6 560.3,428.5 560.3,419.7 568.7,415.7" fill="#D6AA0E" />
<polygon points="561.5,414.0 568.7,415.7 560.3,419.7 553.0,418.0" fill="#F6D646" />
<polygon points="556.6,417.4 560.9,418.4 560.9,410.5 556.6,409.5" fill="#F1C61C" />
<polygon points="565.2,416.4 560.9,418.4 560.9,410.5 565.2,408.5" fill="#D6AA0E" />
<polygon points="560.8,407.5 565.2,408.5 560.9,410.5 556.6,409.5" fill="#F6D646" />
<line x1="535.1" y1="440.5" x2="535.1" y2="446.4" stroke="#a9a49e" stroke-width="0.9"/>
<line x1="547.7" y1="443.5" x2="547.7" y2="449.4" stroke="#a9a49e" stroke-width="0.9"/>
<polygon points="522.0,440.8 549.5,447.3 549.5,435.6 522.0,429.1" fill="#ECEFF2" />
<polygon points="569.6,437.8 549.5,447.3 549.5,435.6 569.6,426.1" fill="#CBD1D7" />
<polygon points="542.2,419.6 569.6,426.1 549.5,435.6 522.0,429.1" fill="#DCE0E5" />
<line x1="527.7" y1="436.9" x2="542.2" y2="440.3" stroke="#8f979f" stroke-width="1.4"/>
<polygon points="516.9,429.4 550.2,437.2 549.0,424.7 525.1,419.0" fill="#76818C" opacity="0.9"/>
<polygon points="574.7,425.7 550.2,437.2 549.0,424.7 566.5,416.4" fill="#58626D" opacity="0.9"/>
<polygon points="542.7,410.8 566.5,416.4 549.0,424.7 525.1,419.0" fill="#838E99" opacity="0.9"/>
<polygon points="529.3,428.3 543.7,431.7 544.0,422.9 531.7,420.0" fill="#2E86DA" opacity="0.32"/>
<polygon points="563.3,426.3 553.7,430.8 552.7,422.2 560.7,418.4" fill="#2272C4" opacity="0.3"/>
<polygon points="544.2,412.9 560.1,416.6 549.0,421.9 533.1,418.1" fill="#3B8FDF" />
<polygon points="537.2,418.2 550.2,421.3 550.2,412.4 537.2,409.3" fill="#2A8AE4" />
<polygon points="554.5,419.3 550.2,421.3 550.2,412.4 554.5,410.4" fill="#1B6FC4" />
<polygon points="541.4,407.4 554.5,410.4 550.2,412.4 537.2,409.3" fill="#47A1F1" />
<polygon points="538.1,420.3 543.9,421.7 543.9,412.8 538.1,411.4" fill="#2A8AE4" />
<polygon points="553.5,417.2 543.9,421.7 543.9,412.8 553.5,408.3" fill="#1B6FC4" />
<polygon points="547.7,407.0 553.5,408.3 543.9,412.8 538.1,411.4" fill="#47A1F1" />
<line x1="-13.7" y1="319.9" x2="-13.7" y2="325.1" stroke="#a9a49e" stroke-width="0.9"/>
<line x1="-2.5" y1="322.6" x2="-2.5" y2="327.8" stroke="#a9a49e" stroke-width="0.9"/>
<polygon points="-26.1,320.2 -1.7,326.0 -1.7,315.6 -26.1,309.8" fill="#ECEFF2" />
<polygon points="19.2,317.5 -1.7,326.0 -1.7,315.6 19.2,307.1" fill="#CBD1D7" />
<polygon points="-5.0,301.3 19.2,307.1 -1.7,315.6 -26.1,309.8" fill="#DCE0E5" />
<line x1="-21.0" y1="316.7" x2="-8.2" y2="319.8" stroke="#8f979f" stroke-width="1.4"/>
<polygon points="-30.8,310.1 -1.4,317.1 -2.0,305.9 -23.1,300.9" fill="#76818C" opacity="0.9"/>
<polygon points="24.0,306.8 -1.4,317.1 -2.0,305.9 16.3,298.6" fill="#58626D" opacity="0.9"/>
<polygon points="-4.8,293.6 16.3,298.6 -2.0,305.9 -23.1,300.9" fill="#838E99" opacity="0.9"/>
<polygon points="-19.5,309.1 -6.7,312.1 -6.3,304.4 -17.1,301.8" fill="#2E86DA" opacity="0.32"/>
<polygon points="12.8,307.3 2.8,311.4 2.1,303.7 10.3,300.3" fill="#2272C4" opacity="0.3"/>
<polygon points="-3.8,295.4 10.3,298.7 -1.3,303.4 -15.4,300.1" fill="#3B8FDF" />
<polygon points="-11.4,300.3 0.1,303.0 0.1,295.1 -11.4,292.3" fill="#2A8AE4" />
<polygon points="4.6,301.2 0.1,303.0 0.1,295.1 4.6,293.3" fill="#1B6FC4" />
<polygon points="-6.9,290.5 4.6,293.3 0.1,295.1 -11.4,292.3" fill="#47A1F1" />
<polygon points="-10.9,302.2 -5.8,303.4 -5.8,295.4 -10.9,294.2" fill="#2A8AE4" />
<polygon points="4.1,299.3 -5.8,303.4 -5.8,295.4 4.1,291.4" fill="#1B6FC4" />
<polygon points="-1.0,290.2 4.1,291.4 -5.8,295.4 -10.9,294.2" fill="#47A1F1" />
<line x1="18.3" y1="327.5" x2="18.3" y2="332.8" stroke="#a9a49e" stroke-width="0.9"/>
<line x1="29.6" y1="330.2" x2="29.6" y2="335.5" stroke="#a9a49e" stroke-width="0.9"/>
<polygon points="6.0,327.8 30.5,333.6 30.5,323.1 6.0,317.3" fill="#ECEFF2" />
<polygon points="51.4,325.1 30.5,333.6 30.5,323.1 51.4,314.6" fill="#CBD1D7" />
<polygon points="26.9,308.8 51.4,314.6 30.5,323.1 6.0,317.3" fill="#DCE0E5" />
<line x1="11.1" y1="324.3" x2="24.0" y2="327.4" stroke="#8f979f" stroke-width="1.4"/>
<polygon points="1.2,317.6 30.8,324.7 30.2,313.4 9.0,308.4" fill="#76818C" opacity="0.9"/>
<polygon points="56.2,314.3 30.8,324.7 30.2,313.4 48.4,306.0" fill="#58626D" opacity="0.9"/>
<polygon points="27.2,301.0 48.4,306.0 30.2,313.4 9.0,308.4" fill="#838E99" opacity="0.9"/>
<polygon points="12.6,316.6 25.5,319.7 25.9,311.9 14.9,309.3" fill="#2E86DA" opacity="0.32"/>
<polygon points="45.0,314.8 35.0,318.9 34.2,311.2 42.5,307.8" fill="#2272C4" opacity="0.3"/>
<polygon points="28.2,302.8 42.4,306.2 30.8,310.9 16.6,307.5" fill="#3B8FDF" />
<polygon points="20.7,307.7 32.3,310.5 32.3,302.5 20.7,299.7" fill="#2A8AE4" />
<polygon points="36.7,308.7 32.3,310.5 32.3,302.5 36.7,300.7" fill="#1B6FC4" />
<polygon points="25.1,297.9 36.7,300.7 32.3,302.5 20.7,299.7" fill="#47A1F1" />
<polygon points="21.2,309.6 26.3,310.8 26.3,302.8 21.2,301.6" fill="#2A8AE4" />
<polygon points="36.2,306.8 26.3,310.8 26.3,302.8 36.2,298.8" fill="#1B6FC4" />
<polygon points="31.1,297.6 36.2,298.8 26.3,302.8 21.2,301.6" fill="#47A1F1" />
<line x1="50.7" y1="335.2" x2="50.7" y2="340.5" stroke="#a9a49e" stroke-width="0.9"/>
<line x1="62.0" y1="337.9" x2="62.0" y2="343.2" stroke="#a9a49e" stroke-width="0.9"/>
<polygon points="38.2,335.5 62.9,341.3 62.9,330.8 38.2,324.9" fill="#ECEFF2" />
<polygon points="83.8,332.7 62.9,341.3 62.9,330.8 83.8,322.1" fill="#CBD1D7" />
<polygon points="59.2,316.3 83.8,322.1 62.9,330.8 38.2,324.9" fill="#DCE0E5" />
<line x1="43.4" y1="331.9" x2="56.4" y2="335.0" stroke="#8f979f" stroke-width="1.4"/>
<polygon points="33.4,325.2 63.3,332.3 62.7,321.0 41.2,315.9" fill="#76818C" opacity="0.9"/>
<polygon points="88.6,321.8 63.3,332.3 62.7,321.0 80.8,313.5" fill="#58626D" opacity="0.9"/>
<polygon points="59.4,308.4 80.8,313.5 62.7,321.0 41.2,315.9" fill="#838E99" opacity="0.9"/>
<polygon points="44.9,324.2 57.9,327.3 58.3,319.4 47.3,316.8" fill="#2E86DA" opacity="0.32"/>
<polygon points="77.4,322.4 67.5,326.5 66.7,318.7 74.9,315.3" fill="#2272C4" opacity="0.3"/>
<polygon points="60.5,310.3 74.8,313.7 63.2,318.4 48.9,315.0" fill="#3B8FDF" />
<polygon points="53.0,315.2 64.7,318.0 64.7,309.9 53.0,307.2" fill="#2A8AE4" />
<polygon points="69.1,316.2 64.7,318.0 64.7,309.9 69.1,308.1" fill="#1B6FC4" />
<polygon points="57.4,305.4 69.1,308.1 64.7,309.9 53.0,307.2" fill="#47A1F1" />
<polygon points="53.5,317.1 58.7,318.3 58.7,310.3 53.5,309.1" fill="#2A8AE4" />
<polygon points="68.6,314.3 58.7,318.3 58.7,310.3 68.6,306.2" fill="#1B6FC4" />
<polygon points="63.4,305.0 68.6,306.2 58.7,310.3 53.5,309.1" fill="#47A1F1" />
<line x1="83.2" y1="342.9" x2="83.2" y2="348.2" stroke="#a9a49e" stroke-width="0.9"/>
<line x1="94.7" y1="345.6" x2="94.7" y2="351.0" stroke="#a9a49e" stroke-width="0.9"/>
<polygon points="70.8,343.2 95.6,349.1 95.6,338.4 70.8,332.5" fill="#ECEFF2" />
<polygon points="116.5,340.4 95.6,349.1 95.6,338.4 116.5,329.7" fill="#CBD1D7" />
<polygon points="91.7,323.9 116.5,329.7 95.6,338.4 70.8,332.5" fill="#DCE0E5" />
<line x1="76.0" y1="339.6" x2="89.1" y2="342.7" stroke="#8f979f" stroke-width="1.4"/>
<polygon points="65.9,332.8 96.1,340.0 95.4,328.6 73.8,323.5" fill="#76818C" opacity="0.9"/>
<polygon points="121.3,329.4 96.1,340.0 95.4,328.6 113.5,321.0" fill="#58626D" opacity="0.9"/>
<polygon points="91.9,315.9 113.5,321.0 95.4,328.6 73.8,323.5" fill="#838E99" opacity="0.9"/>
<polygon points="77.5,331.8 90.6,334.9 91.0,327.0 79.8,324.4" fill="#2E86DA" opacity="0.32"/>
<polygon points="110.1,330.0 100.2,334.1 99.3,326.3 107.6,322.9" fill="#2272C4" opacity="0.3"/>
<polygon points="93.0,317.8 107.4,321.2 95.9,326.0 81.5,322.6" fill="#3B8FDF" />
<polygon points="85.6,322.8 97.3,325.6 97.3,317.5 85.6,314.7" fill="#2A8AE4" />
<polygon points="101.7,323.7 97.3,325.6 97.3,317.5 101.7,315.6" fill="#1B6FC4" />
<polygon points="90.0,312.8 101.7,315.6 97.3,317.5 85.6,314.7" fill="#47A1F1" />
<polygon points="86.1,324.7 91.3,325.9 91.3,317.8 86.1,316.6" fill="#2A8AE4" />
<polygon points="101.2,321.8 91.3,325.9 91.3,317.8 101.2,313.7" fill="#1B6FC4" />
<polygon points="96.0,312.5 101.2,313.7 91.3,317.8 86.1,316.6" fill="#47A1F1" />
<line x1="116.1" y1="350.7" x2="116.1" y2="356.1" stroke="#a9a49e" stroke-width="0.9"/>
<line x1="127.6" y1="353.4" x2="127.6" y2="358.8" stroke="#a9a49e" stroke-width="0.9"/>
<polygon points="103.5,351.0 128.6,356.9 128.6,346.2 103.5,340.2" fill="#ECEFF2" />
<polygon points="149.4,348.2 128.6,356.9 128.6,346.2 149.4,337.4" fill="#CBD1D7" />
<polygon points="124.4,331.5 149.4,337.4 128.6,346.2 103.5,340.2" fill="#DCE0E5" />
<line x1="108.8" y1="347.4" x2="122.0" y2="350.5" stroke="#8f979f" stroke-width="1.4"/>
<polygon points="98.7,340.5 129.1,347.7 128.3,336.3 106.6,331.1" fill="#76818C" opacity="0.9"/>
<polygon points="154.3,337.1 129.1,347.7 128.3,336.3 146.4,328.6" fill="#58626D" opacity="0.9"/>
<polygon points="124.7,323.5 146.4,328.6 128.3,336.3 106.6,331.1" fill="#838E99" opacity="0.9"/>
<polygon points="110.3,339.5 123.5,342.6 123.9,334.6 112.6,332.0" fill="#2E86DA" opacity="0.32"/>
<polygon points="143.0,337.7 133.1,341.8 132.3,333.9 140.5,330.5" fill="#2272C4" opacity="0.3"/>
<polygon points="125.8,325.4 140.3,328.8 128.8,333.7 114.3,330.2" fill="#3B8FDF" />
<polygon points="118.4,330.4 130.2,333.2 130.2,325.0 118.4,322.2" fill="#2A8AE4" />
<polygon points="134.6,331.4 130.2,333.2 130.2,325.0 134.6,323.2" fill="#1B6FC4" />
<polygon points="122.8,320.4 134.6,323.2 130.2,325.0 118.4,322.2" fill="#47A1F1" />
<polygon points="118.9,332.3 124.2,333.6 124.2,325.4 118.9,324.1" fill="#2A8AE4" />
<polygon points="134.1,329.4 124.2,333.6 124.2,325.4 134.1,321.3" fill="#1B6FC4" />
<polygon points="128.8,320.0 134.1,321.3 124.2,325.4 118.9,324.1" fill="#47A1F1" />
<line x1="149.1" y1="358.5" x2="149.1" y2="363.9" stroke="#a9a49e" stroke-width="0.9"/>
<line x1="160.8" y1="361.3" x2="160.8" y2="366.7" stroke="#a9a49e" stroke-width="0.9"/>
<polygon points="136.6,358.8 161.8,364.8 161.8,354.0 136.6,348.0" fill="#ECEFF2" />
<polygon points="182.6,356.0 161.8,364.8 161.8,354.0 182.6,345.2" fill="#CBD1D7" />
<polygon points="157.4,339.2 182.6,345.2 161.8,354.0 136.6,348.0" fill="#DCE0E5" />
<line x1="141.9" y1="355.2" x2="155.2" y2="358.3" stroke="#8f979f" stroke-width="1.4"/>
<polygon points="131.7,348.3 162.3,355.5 161.5,344.0 139.6,338.8" fill="#76818C" opacity="0.9"/>
<polygon points="187.5,344.9 162.3,355.5 161.5,344.0 179.6,336.3" fill="#58626D" opacity="0.9"/>
<polygon points="157.7,331.1 179.6,336.3 161.5,344.0 139.6,338.8" fill="#838E99" opacity="0.9"/>
<polygon points="143.4,347.2 156.7,350.4 157.0,342.4 145.7,339.7" fill="#2E86DA" opacity="0.32"/>
<polygon points="176.2,345.4 166.3,349.6 165.5,341.6 173.7,338.2" fill="#2272C4" opacity="0.3"/>
<polygon points="158.9,333.0 173.5,336.5 162.0,341.4 147.4,337.9" fill="#3B8FDF" />
<polygon points="151.4,338.1 163.4,340.9 163.4,332.7 151.4,329.8" fill="#2A8AE4" />
<polygon points="167.8,339.0 163.4,340.9 163.4,332.7 167.8,330.8" fill="#1B6FC4" />
<polygon points="155.8,328.0 167.8,330.8 163.4,332.7 151.4,329.8" fill="#47A1F1" />
<polygon points="152.0,340.0 157.3,341.3 157.3,333.0 152.0,331.8" fill="#2A8AE4" />
<polygon points="167.2,337.1 157.3,341.3 157.3,333.0 167.2,328.9" fill="#1B6FC4" />
<polygon points="161.9,327.6 167.2,328.9 157.3,333.0 152.0,331.8" fill="#47A1F1" />
<line x1="182.5" y1="366.4" x2="182.5" y2="371.9" stroke="#a9a49e" stroke-width="0.9"/>
<line x1="194.2" y1="369.2" x2="194.2" y2="374.7" stroke="#a9a49e" stroke-width="0.9"/>
<polygon points="169.8,366.7 195.3,372.7 195.3,361.8 169.8,355.8" fill="#ECEFF2" />
<polygon points="216.1,363.9 195.3,372.7 195.3,361.8 216.1,352.9" fill="#CBD1D7" />
<polygon points="190.6,347.0 216.1,352.9 195.3,361.8 169.8,355.8" fill="#DCE0E5" />
<line x1="175.2" y1="363.1" x2="188.6" y2="366.2" stroke="#8f979f" stroke-width="1.4"/>
<polygon points="165.0,356.1 195.8,363.4 195.0,351.8 172.9,346.5" fill="#76818C" opacity="0.9"/>
<polygon points="220.9,352.7 195.8,363.4 195.0,351.8 213.0,344.0" fill="#58626D" opacity="0.9"/>
<polygon points="190.9,338.8 213.0,344.0 195.0,351.8 172.9,346.5" fill="#838E99" opacity="0.9"/>
<polygon points="176.7,355.0 190.1,358.2 190.5,350.1 179.1,347.4" fill="#2E86DA" opacity="0.32"/>
<polygon points="209.6,353.2 199.8,357.4 198.9,349.4 207.1,345.9" fill="#2272C4" opacity="0.3"/>
<polygon points="192.2,340.7 206.9,344.2 195.4,349.1 180.7,345.6" fill="#3B8FDF" />
<polygon points="184.8,345.8 196.8,348.6 196.8,340.4 184.8,337.5" fill="#2A8AE4" />
<polygon points="201.2,346.8 196.8,348.6 196.8,340.4 201.2,338.5" fill="#1B6FC4" />
<polygon points="189.1,335.6 201.2,338.5 196.8,340.4 184.8,337.5" fill="#47A1F1" />
<polygon points="185.4,347.7 190.7,349.0 190.7,340.7 185.4,339.5" fill="#2A8AE4" />
<polygon points="200.6,344.8 190.7,349.0 190.7,340.7 200.6,336.5" fill="#1B6FC4" />
<polygon points="195.2,335.3 200.6,336.5 190.7,340.7 185.4,339.5" fill="#47A1F1" />
<line x1="216.1" y1="374.4" x2="216.1" y2="379.9" stroke="#a9a49e" stroke-width="0.9"/>
<line x1="227.9" y1="377.2" x2="227.9" y2="382.7" stroke="#a9a49e" stroke-width="0.9"/>
<polygon points="203.4,374.7 229.1,380.8 229.1,369.8 203.4,363.7" fill="#ECEFF2" />
<polygon points="249.8,371.8 229.1,380.8 229.1,369.8 249.8,360.8" fill="#CBD1D7" />
<polygon points="224.1,354.8 249.8,360.8 229.1,369.8 203.4,363.7" fill="#DCE0E5" />
<line x1="208.8" y1="371.0" x2="222.3" y2="374.2" stroke="#8f979f" stroke-width="1.4"/>
<polygon points="198.5,364.0 229.6,371.3 228.7,359.6 206.4,354.3" fill="#76818C" opacity="0.9"/>
<polygon points="254.7,360.5 229.6,371.3 228.7,359.6 246.7,351.8" fill="#58626D" opacity="0.9"/>
<polygon points="224.5,346.6 246.7,351.8 228.7,359.6 206.4,354.3" fill="#838E99" opacity="0.9"/>
<polygon points="210.3,362.9 223.8,366.1 224.1,358.0 212.7,355.2" fill="#2E86DA" opacity="0.32"/>
<polygon points="243.3,361.1 233.5,365.3 232.6,357.2 240.8,353.7" fill="#2272C4" opacity="0.3"/>
<polygon points="225.7,348.5 240.6,352.0 229.1,356.9 214.3,353.4" fill="#3B8FDF" />
<polygon points="218.3,353.6 230.5,356.5 230.5,348.1 218.3,345.2" fill="#2A8AE4" />
<polygon points="234.9,354.6 230.5,356.5 230.5,348.1 234.9,346.2" fill="#1B6FC4" />
<polygon points="222.7,343.4 234.9,346.2 230.5,348.1 218.3,345.2" fill="#47A1F1" />
<polygon points="219.0,355.5 224.4,356.8 224.4,348.5 219.0,347.2" fill="#2A8AE4" />
<polygon points="234.2,352.6 224.4,356.8 224.4,348.5 234.2,344.3" fill="#1B6FC4" />
<polygon points="228.8,343.0 234.2,344.3 224.4,348.5 219.0,347.2" fill="#47A1F1" />
<line x1="249.9" y1="382.4" x2="249.9" y2="388.0" stroke="#a9a49e" stroke-width="0.9"/>
<line x1="261.8" y1="385.2" x2="261.8" y2="390.8" stroke="#a9a49e" stroke-width="0.9"/>
<polygon points="237.2,382.7 263.1,388.8 263.1,377.7 237.2,371.6" fill="#ECEFF2" />
<polygon points="283.7,379.8 263.1,388.8 263.1,377.7 283.7,368.7" fill="#CBD1D7" />
<polygon points="257.9,362.6 283.7,368.7 263.1,377.7 237.2,371.6" fill="#DCE0E5" />
<line x1="242.6" y1="379.0" x2="256.3" y2="382.2" stroke="#8f979f" stroke-width="1.4"/>
<polygon points="232.3,371.9 263.6,379.3 262.7,367.5 240.3,362.2" fill="#76818C" opacity="0.9"/>
<polygon points="288.6,368.4 263.6,379.3 262.7,367.5 280.7,359.7" fill="#58626D" opacity="0.9"/>
<polygon points="258.2,354.4 280.7,359.7 262.7,367.5 240.3,362.2" fill="#838E99" opacity="0.9"/>
<polygon points="244.1,370.9 257.8,374.1 258.1,365.9 246.5,363.1" fill="#2E86DA" opacity="0.32"/>
<polygon points="277.3,369.0 267.5,373.3 266.6,365.1 274.8,361.6" fill="#2272C4" opacity="0.3"/>
<polygon points="259.5,356.3 274.5,359.9 263.1,364.8 248.1,361.3" fill="#3B8FDF" />
<polygon points="252.2,361.4 264.4,364.3 264.4,355.9 252.2,353.0" fill="#2A8AE4" />
<polygon points="268.8,362.4 264.4,364.3 264.4,355.9 268.8,354.0" fill="#1B6FC4" />
<polygon points="256.5,351.1 268.8,354.0 264.4,355.9 252.2,353.0" fill="#47A1F1" />
<polygon points="252.9,363.4 258.3,364.7 258.3,356.3 252.9,355.0" fill="#2A8AE4" />
<polygon points="268.1,360.4 258.3,364.7 258.3,356.3 268.1,352.1" fill="#1B6FC4" />
<polygon points="262.7,350.8 268.1,352.1 258.3,356.3 252.9,355.0" fill="#47A1F1" />
<line x1="284.1" y1="390.5" x2="284.1" y2="396.1" stroke="#a9a49e" stroke-width="0.9"/>
<line x1="296.1" y1="393.3" x2="296.1" y2="398.9" stroke="#a9a49e" stroke-width="0.9"/>
<polygon points="271.3,390.8 297.4,397.0 297.4,385.8 271.3,379.6" fill="#ECEFF2" />
<polygon points="318.0,387.9 297.4,397.0 297.4,385.8 318.0,376.7" fill="#CBD1D7" />
<polygon points="291.9,370.6 318.0,376.7 297.4,385.8 271.3,379.6" fill="#DCE0E5" />
<line x1="276.8" y1="387.0" x2="290.5" y2="390.3" stroke="#8f979f" stroke-width="1.4"/>
<polygon points="266.4,379.9 297.9,387.4 297.0,375.5 274.4,370.1" fill="#76818C" opacity="0.9"/>
<polygon points="322.9,376.4 297.9,387.4 297.0,375.5 314.9,367.6" fill="#58626D" opacity="0.9"/>
<polygon points="292.3,362.3 314.9,367.6 297.0,375.5 274.4,370.1" fill="#838E99" opacity="0.9"/>
<polygon points="278.3,378.8 292.0,382.1 292.3,373.8 280.7,371.0" fill="#2E86DA" opacity="0.32"/>
<polygon points="311.5,377.0 301.8,381.3 300.9,373.1 309.0,369.5" fill="#2272C4" opacity="0.3"/>
<polygon points="293.6,364.2 308.7,367.8 297.3,372.8 282.2,369.2" fill="#3B8FDF" />
<polygon points="286.3,369.3 298.6,372.3 298.6,363.8 286.3,360.9" fill="#2A8AE4" />
<polygon points="303.0,370.4 298.6,372.3 298.6,363.8 303.0,361.9" fill="#1B6FC4" />
<polygon points="290.6,359.0 303.0,361.9 298.6,363.8 286.3,360.9" fill="#47A1F1" />
<polygon points="287.0,371.3 292.5,372.6 292.5,364.2 287.0,362.9" fill="#2A8AE4" />
<polygon points="302.3,368.4 292.5,372.6 292.5,364.2 302.3,359.9" fill="#1B6FC4" />
<polygon points="296.8,358.6 302.3,359.9 292.5,364.2 287.0,362.9" fill="#47A1F1" />
<polygon points="311.1,408.5 324.3,411.6 324.3,396.6 311.1,393.5" fill="#F1C61C" />
<polygon points="340.5,404.4 324.3,411.6 324.3,396.6 340.5,389.4" fill="#D6AA0E" />
<polygon points="327.4,386.3 340.5,389.4 324.3,396.6 311.1,393.5" fill="#F6D646" />
<polygon points="318.0,392.5 324.9,394.1 324.9,385.7 318.0,384.1" fill="#F1C61C" />
<polygon points="333.6,390.3 324.9,394.1 324.9,385.7 333.6,381.9" fill="#D6AA0E" />
<polygon points="326.7,380.2 333.6,381.9 324.9,385.7 318.0,384.1" fill="#F6D646" />
<polygon points="321.6,383.4 325.7,384.4 325.7,376.9 321.6,375.9" fill="#F1C61C" />
<polygon points="330.1,382.5 325.7,384.4 325.7,376.9 330.1,375.0" fill="#D6AA0E" />
<polygon points="325.9,374.0 330.1,375.0 325.7,376.9 321.6,375.9" fill="#F6D646" />
<line x1="340.1" y1="403.8" x2="340.1" y2="409.4" stroke="#a9a49e" stroke-width="0.9"/>
<line x1="352.3" y1="406.7" x2="352.3" y2="412.3" stroke="#a9a49e" stroke-width="0.9"/>
<polygon points="327.2,404.1 353.7,410.3 353.7,399.0 327.2,392.7" fill="#ECEFF2" />
<polygon points="374.2,401.1 353.7,410.3 353.7,399.0 374.2,389.8" fill="#CBD1D7" />
<polygon points="347.8,383.6 374.2,389.8 353.7,399.0 327.2,392.7" fill="#DCE0E5" />
<line x1="332.8" y1="400.3" x2="346.7" y2="403.6" stroke="#8f979f" stroke-width="1.4"/>
<polygon points="322.3,393.0 354.3,400.6 353.3,388.6 330.3,383.1" fill="#76818C" opacity="0.9"/>
<polygon points="379.2,389.5 354.3,400.6 353.3,388.6 371.1,380.6" fill="#58626D" opacity="0.9"/>
<polygon points="348.2,375.2 371.1,380.6 353.3,388.6 330.3,383.1" fill="#838E99" opacity="0.9"/>
<polygon points="334.3,392.0 348.2,395.3 348.5,386.9 336.7,384.1" fill="#2E86DA" opacity="0.32"/>
<polygon points="367.8,390.1 358.0,394.4 357.1,386.1 365.2,382.5" fill="#2272C4" opacity="0.3"/>
<polygon points="349.6,377.2 364.9,380.8 353.5,385.8 338.2,382.2" fill="#3B8FDF" />
<polygon points="342.3,382.3 354.8,385.3 354.8,376.7 342.3,373.8" fill="#2A8AE4" />
<polygon points="359.2,383.4 354.8,385.3 354.8,376.7 359.2,374.8" fill="#1B6FC4" />
<polygon points="346.7,371.9 359.2,374.8 354.8,376.7 342.3,373.8" fill="#47A1F1" />
<polygon points="343.1,384.4 348.6,385.7 348.6,377.1 343.1,375.8" fill="#2A8AE4" />
<polygon points="358.4,381.3 348.6,385.7 348.6,377.1 358.4,372.8" fill="#1B6FC4" />
<polygon points="352.8,371.5 358.4,372.8 348.6,377.1 343.1,375.8" fill="#47A1F1" />
<polygon points="354.5,418.9 367.8,422.0 367.8,406.8 354.5,403.7" fill="#F1C61C" />
<polygon points="384.0,414.7 367.8,422.0 367.8,406.8 384.0,399.5" fill="#D6AA0E" />
<polygon points="370.7,396.4 384.0,399.5 367.8,406.8 354.5,403.7" fill="#F6D646" />
<polygon points="361.4,402.7 368.4,404.4 368.4,395.8 361.4,394.2" fill="#F1C61C" />
<polygon points="377.1,400.5 368.4,404.4 368.4,395.8 377.1,392.0" fill="#D6AA0E" />
<polygon points="370.1,390.3 377.1,392.0 368.4,395.8 361.4,394.2" fill="#F6D646" />
<polygon points="365.0,393.6 369.2,394.5 369.2,387.0 365.0,386.0" fill="#F1C61C" />
<polygon points="373.5,392.6 369.2,394.5 369.2,387.0 373.5,385.0" fill="#D6AA0E" />
<polygon points="369.3,384.0 373.5,385.0 369.2,387.0 365.0,386.0" fill="#F6D646" />
<line x1="414.5" y1="421.4" x2="414.5" y2="427.2" stroke="#a9a49e" stroke-width="0.9"/>
<line x1="426.9" y1="424.3" x2="426.9" y2="430.1" stroke="#a9a49e" stroke-width="0.9"/>
<polygon points="401.5,421.7 428.4,428.1 428.4,416.5 401.5,410.2" fill="#ECEFF2" />
<polygon points="448.8,418.7 428.4,428.1 428.4,416.5 448.8,407.2" fill="#CBD1D7" />
<polygon points="422.0,400.9 448.8,407.2 428.4,416.5 401.5,410.2" fill="#DCE0E5" />
<line x1="407.2" y1="417.8" x2="421.3" y2="421.2" stroke="#8f979f" stroke-width="1.4"/>
<polygon points="396.5,410.5 429.1,418.2 428.0,405.9 404.6,400.4" fill="#76818C" opacity="0.9"/>
<polygon points="453.8,406.9 429.1,418.2 428.0,405.9 445.7,397.8" fill="#58626D" opacity="0.9"/>
<polygon points="422.4,392.3 445.7,397.8 428.0,405.9 404.6,400.4" fill="#838E99" opacity="0.9"/>
<polygon points="408.7,409.4 422.8,412.7 423.1,404.2 411.1,401.4" fill="#2E86DA" opacity="0.32"/>
<polygon points="442.4,407.5 432.7,411.9 431.8,403.4 439.8,399.8" fill="#2272C4" opacity="0.3"/>
<polygon points="423.9,394.3 439.4,398.0 428.1,403.1 412.6,399.5" fill="#3B8FDF" />
<polygon points="416.7,399.6 429.4,402.6 429.4,393.9 416.7,390.9" fill="#2A8AE4" />
<polygon points="433.7,400.6 429.4,402.6 429.4,393.9 433.7,391.9" fill="#1B6FC4" />
<polygon points="421.0,388.9 433.7,391.9 429.4,393.9 416.7,390.9" fill="#47A1F1" />
<polygon points="417.5,401.6 423.2,403.0 423.2,394.3 417.5,393.0" fill="#2A8AE4" />
<polygon points="432.9,398.6 423.2,403.0 423.2,394.3 432.9,389.9" fill="#1B6FC4" />
<polygon points="427.2,388.6 432.9,389.9 423.2,394.3 417.5,393.0" fill="#47A1F1" />
<line x1="450.0" y1="429.8" x2="450.0" y2="435.6" stroke="#a9a49e" stroke-width="0.9"/>
<line x1="462.4" y1="432.8" x2="462.4" y2="438.6" stroke="#a9a49e" stroke-width="0.9"/>
<polygon points="436.9,430.1 464.0,436.5 464.0,424.9 436.9,418.5" fill="#ECEFF2" />
<polygon points="484.4,427.1 464.0,436.5 464.0,424.9 484.4,415.5" fill="#CBD1D7" />
<polygon points="457.3,409.1 484.4,415.5 464.0,424.9 436.9,418.5" fill="#DCE0E5" />
<line x1="442.6" y1="426.2" x2="456.9" y2="429.6" stroke="#8f979f" stroke-width="1.4"/>
<polygon points="431.9,418.8 464.7,426.6 463.6,414.2 440.0,408.6" fill="#76818C" opacity="0.9"/>
<polygon points="489.4,415.2 464.7,426.6 463.6,414.2 481.3,406.0" fill="#58626D" opacity="0.9"/>
<polygon points="457.8,400.5 481.3,406.0 463.6,414.2 440.0,408.6" fill="#838E99" opacity="0.9"/>
<polygon points="444.1,417.7 458.4,421.1 458.7,412.5 446.5,409.6" fill="#2E86DA" opacity="0.32"/>
<polygon points="478.0,415.8 468.3,420.2 467.3,411.7 475.4,408.0" fill="#2272C4" opacity="0.3"/>
<polygon points="459.3,402.5 474.9,406.2 463.7,411.4 448.0,407.7" fill="#3B8FDF" />
<polygon points="452.1,407.8 464.9,410.8 464.9,402.1 452.1,399.0" fill="#2A8AE4" />
<polygon points="469.2,408.8 464.9,410.8 464.9,402.1 469.2,400.1" fill="#1B6FC4" />
<polygon points="456.4,397.1 469.2,400.1 464.9,402.1 452.1,399.0" fill="#47A1F1" />
<polygon points="453.0,409.9 458.7,411.2 458.7,402.5 453.0,401.1" fill="#2A8AE4" />
<polygon points="468.3,406.8 458.7,411.2 458.7,402.5 468.3,398.0" fill="#1B6FC4" />
<polygon points="462.7,396.7 468.3,398.0 458.7,402.5 453.0,401.1" fill="#47A1F1" />
<line x1="485.7" y1="438.3" x2="485.7" y2="444.1" stroke="#a9a49e" stroke-width="0.9"/>
<line x1="498.3" y1="441.2" x2="498.3" y2="447.1" stroke="#a9a49e" stroke-width="0.9"/>
<polygon points="472.6,438.6 499.9,445.0 499.9,433.3 472.6,426.8" fill="#ECEFF2" />
<polygon points="520.2,435.6 499.9,445.0 499.9,433.3 520.2,423.9" fill="#CBD1D7" />
<polygon points="493.0,417.4 520.2,423.9 499.9,433.3 472.6,426.8" fill="#DCE0E5" />
<line x1="478.3" y1="434.6" x2="492.7" y2="438.1" stroke="#8f979f" stroke-width="1.4"/>
<polygon points="467.6,427.2 500.7,435.0 499.5,422.5 475.7,416.9" fill="#76818C" opacity="0.9"/>
<polygon points="525.3,423.5 500.7,435.0 499.5,422.5 517.1,414.3" fill="#58626D" opacity="0.9"/>
<polygon points="493.4,408.7 517.1,414.3 499.5,422.5 475.7,416.9" fill="#838E99" opacity="0.9"/>
<polygon points="479.9,426.1 494.2,429.5 494.5,420.8 482.3,417.9" fill="#2E86DA" opacity="0.32"/>
<polygon points="513.8,424.1 504.2,428.6 503.2,420.0 511.2,416.3" fill="#2272C4" opacity="0.3"/>
<polygon points="495.0,410.8 510.8,414.5 499.5,419.7 483.7,416.0" fill="#3B8FDF" />
<polygon points="487.8,416.1 500.8,419.1 500.8,410.3 487.8,407.3" fill="#2A8AE4" />
<polygon points="505.0,417.1 500.8,419.1 500.8,410.3 505.0,408.3" fill="#1B6FC4" />
<polygon points="492.1,405.3 505.0,408.3 500.8,410.3 487.8,407.3" fill="#47A1F1" />
<polygon points="488.7,418.2 494.5,419.5 494.5,410.7 488.7,409.4" fill="#2A8AE4" />
<polygon points="504.1,415.0 494.5,419.5 494.5,410.7 504.1,406.2" fill="#1B6FC4" />
<polygon points="498.4,404.9 504.1,406.2 494.5,410.7 488.7,409.4" fill="#47A1F1" />
<polygon points="519.4,456.0 533.2,459.3 533.2,443.5 519.4,440.3" fill="#F1C61C" />
<polygon points="549.2,451.7 533.2,459.3 533.2,443.5 549.2,436.0" fill="#D6AA0E" />
<polygon points="535.4,432.8 549.2,436.0 533.2,443.5 519.4,440.3" fill="#F6D646" />
<polygon points="526.4,439.3 533.7,441.0 533.7,432.2 526.4,430.4" fill="#F1C61C" />
<polygon points="542.2,437.0 533.7,441.0 533.7,432.2 542.2,428.1" fill="#D6AA0E" />
<polygon points="535.0,426.4 542.2,428.1 533.7,432.2 526.4,430.4" fill="#F6D646" />
<polygon points="530.0,429.8 534.3,430.8 534.3,422.9 530.0,421.9" fill="#F1C61C" />
<polygon points="538.6,428.8 534.3,430.8 534.3,422.9 538.6,420.9" fill="#D6AA0E" />
<polygon points="534.3,419.9 538.6,420.9 534.3,422.9 530.0,421.9" fill="#F6D646" />
<line x1="-25.5" y1="335.0" x2="-25.5" y2="340.2" stroke="#a9a49e" stroke-width="0.9"/>
<line x1="-14.3" y1="337.7" x2="-14.3" y2="342.9" stroke="#a9a49e" stroke-width="0.9"/>
<polygon points="-37.9,335.3 -13.5,341.1 -13.5,330.7 -37.9,324.8" fill="#ECEFF2" />
<polygon points="7.7,332.5 -13.5,341.1 -13.5,330.7 7.7,322.0" fill="#CBD1D7" />
<polygon points="-16.7,316.2 7.7,322.0 -13.5,330.7 -37.9,324.8" fill="#DCE0E5" />
<line x1="-32.8" y1="331.8" x2="-19.9" y2="334.9" stroke="#8f979f" stroke-width="1.4"/>
<polygon points="-42.7,325.1 -13.1,332.2 -13.7,321.0 -34.9,315.9" fill="#76818C" opacity="0.9"/>
<polygon points="12.5,321.7 -13.1,332.2 -13.7,321.0 4.7,313.5" fill="#58626D" opacity="0.9"/>
<polygon points="-16.5,308.4 4.7,313.5 -13.7,321.0 -34.9,315.9" fill="#838E99" opacity="0.9"/>
<polygon points="-31.3,324.1 -18.5,327.2 -18.0,319.4 -29.0,316.8" fill="#2E86DA" opacity="0.32"/>
<polygon points="1.2,322.3 -8.9,326.4 -9.6,318.7 -1.3,315.3" fill="#2272C4" opacity="0.3"/>
<polygon points="-15.5,310.3 -1.4,313.7 -13.1,318.4 -27.2,315.0" fill="#3B8FDF" />
<polygon points="-23.1,315.2 -11.6,318.0 -11.6,310.0 -23.1,307.2" fill="#2A8AE4" />
<polygon points="-7.1,316.2 -11.6,318.0 -11.6,310.0 -7.1,308.2" fill="#1B6FC4" />
<polygon points="-18.7,305.4 -7.1,308.2 -11.6,310.0 -23.1,307.2" fill="#47A1F1" />
<polygon points="-22.7,317.1 -17.6,318.3 -17.6,310.4 -22.7,309.1" fill="#2A8AE4" />
<polygon points="-7.5,314.3 -17.6,318.3 -17.6,310.4 -7.5,306.3" fill="#1B6FC4" />
<polygon points="-12.7,305.1 -7.5,306.3 -17.6,310.4 -22.7,309.1" fill="#47A1F1" />
<line x1="6.7" y1="342.7" x2="6.7" y2="348.0" stroke="#a9a49e" stroke-width="0.9"/>
<line x1="18.1" y1="345.4" x2="18.1" y2="350.7" stroke="#a9a49e" stroke-width="0.9"/>
<polygon points="-5.7,343.0 18.9,348.9 18.9,338.3 -5.7,332.4" fill="#ECEFF2" />
<polygon points="40.0,340.2 18.9,348.9 18.9,338.3 40.0,329.6" fill="#CBD1D7" />
<polygon points="15.4,323.8 40.0,329.6 18.9,338.3 -5.7,332.4" fill="#DCE0E5" />
<line x1="-0.6" y1="339.5" x2="12.4" y2="342.6" stroke="#8f979f" stroke-width="1.4"/>
<polygon points="-10.6,332.7 19.3,339.9 18.7,328.6 -2.7,323.5" fill="#76818C" opacity="0.9"/>
<polygon points="44.8,329.4 19.3,339.9 18.7,328.6 37.0,321.0" fill="#58626D" opacity="0.9"/>
<polygon points="15.6,315.9 37.0,321.0 18.7,328.6 -2.7,323.5" fill="#838E99" opacity="0.9"/>
<polygon points="0.9,331.7 13.9,334.8 14.3,327.0 3.3,324.3" fill="#2E86DA" opacity="0.32"/>
<polygon points="33.5,329.9 23.5,334.0 22.7,326.3 31.0,322.8" fill="#2272C4" opacity="0.3"/>
<polygon points="16.7,317.8 30.9,321.2 19.3,326.0 5.0,322.6" fill="#3B8FDF" />
<polygon points="9.1,322.8 20.8,325.5 20.8,317.5 9.1,314.7" fill="#2A8AE4" />
<polygon points="25.2,323.7 20.8,325.5 20.8,317.5 25.2,315.7" fill="#1B6FC4" />
<polygon points="13.5,312.9 25.2,315.7 20.8,317.5 9.1,314.7" fill="#47A1F1" />
<polygon points="9.5,324.7 14.7,325.9 14.7,317.9 9.5,316.6" fill="#2A8AE4" />
<polygon points="24.7,321.8 14.7,325.9 14.7,317.9 24.7,313.8" fill="#1B6FC4" />
<polygon points="19.6,312.5 24.7,313.8 14.7,317.9 9.5,316.6" fill="#47A1F1" />
<line x1="39.2" y1="350.5" x2="39.2" y2="355.8" stroke="#a9a49e" stroke-width="0.9"/>
<line x1="50.6" y1="353.2" x2="50.6" y2="358.5" stroke="#a9a49e" stroke-width="0.9"/>
<polygon points="26.7,350.8 51.5,356.7 51.5,346.1 26.7,340.1" fill="#ECEFF2" />
<polygon points="72.6,348.0 51.5,356.7 51.5,346.1 72.6,337.3" fill="#CBD1D7" />
<polygon points="47.8,331.4 72.6,337.3 51.5,346.1 26.7,340.1" fill="#DCE0E5" />
<line x1="31.9" y1="347.2" x2="45.0" y2="350.3" stroke="#8f979f" stroke-width="1.4"/>
<polygon points="21.9,340.4 51.9,347.6 51.3,336.2 29.7,331.1" fill="#76818C" opacity="0.9"/>
<polygon points="77.5,337.0 51.9,347.6 51.3,336.2 69.6,328.6" fill="#58626D" opacity="0.9"/>
<polygon points="48.1,323.5 69.6,328.6 51.3,336.2 29.7,331.1" fill="#838E99" opacity="0.9"/>
<polygon points="33.4,339.4 46.5,342.5 46.9,334.6 35.8,332.0" fill="#2E86DA" opacity="0.32"/>
<polygon points="66.1,337.6 56.1,341.7 55.3,333.9 63.6,330.5" fill="#2272C4" opacity="0.3"/>
<polygon points="49.2,325.4 63.5,328.8 51.9,333.6 37.5,330.2" fill="#3B8FDF" />
<polygon points="41.6,330.4 53.3,333.2 53.3,325.1 41.6,322.3" fill="#2A8AE4" />
<polygon points="57.8,331.3 53.3,333.2 53.3,325.1 57.8,323.2" fill="#1B6FC4" />
<polygon points="46.0,320.4 57.8,323.2 53.3,325.1 41.6,322.3" fill="#47A1F1" />
<polygon points="42.1,332.3 47.3,333.5 47.3,325.4 42.1,324.2" fill="#2A8AE4" />
<polygon points="57.3,329.4 47.3,333.5 47.3,325.4 57.3,321.3" fill="#1B6FC4" />
<polygon points="52.1,320.1 57.3,321.3 47.3,325.4 42.1,324.2" fill="#47A1F1" />
<line x1="72.0" y1="358.3" x2="72.0" y2="363.7" stroke="#a9a49e" stroke-width="0.9"/>
<line x1="83.5" y1="361.1" x2="83.5" y2="366.4" stroke="#a9a49e" stroke-width="0.9"/>
<polygon points="59.4,358.6 84.4,364.6 84.4,353.9 59.4,347.9" fill="#ECEFF2" />
<polygon points="105.5,355.8 84.4,364.6 84.4,353.9 105.5,345.0" fill="#CBD1D7" />
<polygon points="80.5,339.1 105.5,345.0 84.4,353.9 59.4,347.9" fill="#DCE0E5" />
<line x1="64.6" y1="355.0" x2="77.8" y2="358.2" stroke="#8f979f" stroke-width="1.4"/>
<polygon points="54.5,348.2 84.8,355.4 84.2,343.9 62.4,338.7" fill="#76818C" opacity="0.9"/>
<polygon points="110.3,344.7 84.8,355.4 84.2,343.9 102.4,336.3" fill="#58626D" opacity="0.9"/>
<polygon points="80.7,331.1 102.4,336.3 84.2,343.9 62.4,338.7" fill="#838E99" opacity="0.9"/>
<polygon points="66.1,347.1 79.3,350.3 79.7,342.3 68.5,339.7" fill="#2E86DA" opacity="0.32"/>
<polygon points="99.0,345.3 89.0,349.5 88.2,341.6 96.5,338.1" fill="#2272C4" opacity="0.3"/>
<polygon points="81.9,333.0 96.3,336.5 84.7,341.3 70.2,337.9" fill="#3B8FDF" />
<polygon points="74.3,338.0 86.1,340.9 86.1,332.7 74.3,329.9" fill="#2A8AE4" />
<polygon points="90.6,339.0 86.1,340.9 86.1,332.7 90.6,330.9" fill="#1B6FC4" />
<polygon points="78.7,328.0 90.6,330.9 86.1,332.7 74.3,329.9" fill="#47A1F1" />
<polygon points="74.8,340.0 80.1,341.2 80.1,333.1 74.8,331.8" fill="#2A8AE4" />
<polygon points="90.1,337.1 80.1,341.2 80.1,333.1 90.1,328.9" fill="#1B6FC4" />
<polygon points="84.8,327.7 90.1,328.9 80.1,333.1 74.8,331.8" fill="#47A1F1" />
<line x1="105.0" y1="366.2" x2="105.0" y2="371.6" stroke="#a9a49e" stroke-width="0.9"/>
<line x1="116.6" y1="369.0" x2="116.6" y2="374.4" stroke="#a9a49e" stroke-width="0.9"/>
<polygon points="92.3,366.5 117.6,372.5 117.6,361.7 92.3,355.7" fill="#ECEFF2" />
<polygon points="138.6,363.6 117.6,372.5 117.6,361.7 138.6,352.8" fill="#CBD1D7" />
<polygon points="113.4,346.8 138.6,352.8 117.6,361.7 92.3,355.7" fill="#DCE0E5" />
<line x1="97.6" y1="362.9" x2="110.9" y2="366.1" stroke="#8f979f" stroke-width="1.4"/>
<polygon points="87.5,356.0 118.0,363.3 117.3,351.7 95.4,346.5" fill="#76818C" opacity="0.9"/>
<polygon points="143.4,352.5 118.0,363.3 117.3,351.7 135.5,344.0" fill="#58626D" opacity="0.9"/>
<polygon points="113.7,338.8 135.5,344.0 117.3,351.7 95.4,346.5" fill="#838E99" opacity="0.9"/>
<polygon points="99.1,354.9 112.4,358.1 112.8,350.1 101.5,347.4" fill="#2E86DA" opacity="0.32"/>
<polygon points="132.1,353.1 122.1,357.3 121.3,349.4 129.6,345.9" fill="#2272C4" opacity="0.3"/>
<polygon points="114.8,340.7 129.4,344.2 117.8,349.1 103.2,345.6" fill="#3B8FDF" />
<polygon points="107.3,345.8 119.2,348.6 119.2,340.4 107.3,337.5" fill="#2A8AE4" />
<polygon points="123.7,346.7 119.2,348.6 119.2,340.4 123.7,338.5" fill="#1B6FC4" />
<polygon points="111.7,335.7 123.7,338.5 119.2,340.4 107.3,337.5" fill="#47A1F1" />
<polygon points="107.8,347.7 113.1,349.0 113.1,340.8 107.8,339.5" fill="#2A8AE4" />
<polygon points="123.1,344.8 113.1,349.0 113.1,340.8 123.1,336.6" fill="#1B6FC4" />
<polygon points="117.8,335.3 123.1,336.6 113.1,340.8 107.8,339.5" fill="#47A1F1" />
<line x1="138.2" y1="374.2" x2="138.2" y2="379.6" stroke="#a9a49e" stroke-width="0.9"/>
<line x1="149.9" y1="377.0" x2="149.9" y2="382.4" stroke="#a9a49e" stroke-width="0.9"/>
<polygon points="125.6,374.4 151.0,380.5 151.0,369.6 125.6,363.5" fill="#ECEFF2" />
<polygon points="171.9,371.6 151.0,380.5 151.0,369.6 171.9,360.7" fill="#CBD1D7" />
<polygon points="146.6,354.6 171.9,360.7 151.0,369.6 125.6,363.5" fill="#DCE0E5" />
<line x1="130.9" y1="370.8" x2="144.3" y2="374.0" stroke="#8f979f" stroke-width="1.4"/>
<polygon points="120.7,363.8 151.4,371.2 150.7,359.6 128.6,354.3" fill="#76818C" opacity="0.9"/>
<polygon points="176.8,360.4 151.4,371.2 150.7,359.6 168.9,351.8" fill="#58626D" opacity="0.9"/>
<polygon points="146.9,346.5 168.9,351.8 150.7,359.6 128.6,354.3" fill="#838E99" opacity="0.9"/>
<polygon points="132.4,362.8 145.8,366.0 146.1,357.9 134.8,355.2" fill="#2E86DA" opacity="0.32"/>
<polygon points="165.4,361.0 155.5,365.2 154.7,357.2 162.9,353.7" fill="#2272C4" opacity="0.3"/>
<polygon points="148.0,348.5 162.7,352.0 151.1,356.9 136.4,353.4" fill="#3B8FDF" />
<polygon points="140.5,353.5 152.6,356.4 152.6,348.1 140.5,345.3" fill="#2A8AE4" />
<polygon points="157.0,354.5 152.6,356.4 152.6,348.1 157.0,346.3" fill="#1B6FC4" />
<polygon points="145.0,343.4 157.0,346.3 152.6,348.1 140.5,345.3" fill="#47A1F1" />
<polygon points="141.1,355.5 146.5,356.8 146.5,348.5 141.1,347.2" fill="#2A8AE4" />
<polygon points="156.4,352.6 146.5,356.8 146.5,348.5 156.4,344.3" fill="#1B6FC4" />
<polygon points="151.1,343.0 156.4,344.3 146.5,348.5 141.1,347.2" fill="#47A1F1" />
<line x1="171.7" y1="382.2" x2="171.7" y2="387.7" stroke="#a9a49e" stroke-width="0.9"/>
<line x1="183.5" y1="385.0" x2="183.5" y2="390.5" stroke="#a9a49e" stroke-width="0.9"/>
<polygon points="159.0,382.4 184.6,388.6 184.6,377.6 159.0,371.5" fill="#ECEFF2" />
<polygon points="205.6,379.6 184.6,388.6 184.6,377.6 205.6,368.6" fill="#CBD1D7" />
<polygon points="180.0,362.5 205.6,368.6 184.6,377.6 159.0,371.5" fill="#DCE0E5" />
<line x1="164.4" y1="378.8" x2="177.9" y2="382.0" stroke="#8f979f" stroke-width="1.4"/>
<polygon points="154.1,371.8 185.1,379.2 184.3,367.5 162.1,362.1" fill="#76818C" opacity="0.9"/>
<polygon points="210.5,368.3 185.1,379.2 184.3,367.5 202.5,359.6" fill="#58626D" opacity="0.9"/>
<polygon points="180.3,354.3 202.5,359.6 184.3,367.5 162.1,362.1" fill="#838E99" opacity="0.9"/>
<polygon points="165.9,370.7 179.4,374.0 179.8,365.8 168.3,363.1" fill="#2E86DA" opacity="0.32"/>
<polygon points="199.1,368.9 189.2,373.2 188.3,365.1 196.6,361.5" fill="#2272C4" opacity="0.3"/>
<polygon points="181.5,356.3 196.3,359.8 184.8,364.8 169.9,361.2" fill="#3B8FDF" />
<polygon points="174.0,361.4 186.2,364.3 186.2,356.0 174.0,353.1" fill="#2A8AE4" />
<polygon points="190.6,362.4 186.2,364.3 186.2,356.0 190.6,354.1" fill="#1B6FC4" />
<polygon points="178.5,351.2 190.6,354.1 186.2,356.0 174.0,353.1" fill="#47A1F1" />
<polygon points="174.6,363.4 180.0,364.7 180.0,356.3 174.6,355.0" fill="#2A8AE4" />
<polygon points="190.0,360.4 180.0,364.7 180.0,356.3 190.0,352.1" fill="#1B6FC4" />
<polygon points="184.6,350.8 190.0,352.1 180.0,356.3 174.6,355.0" fill="#47A1F1" />
<line x1="205.5" y1="390.2" x2="205.5" y2="395.8" stroke="#a9a49e" stroke-width="0.9"/>
<line x1="217.4" y1="393.1" x2="217.4" y2="398.6" stroke="#a9a49e" stroke-width="0.9"/>
<polygon points="192.8,390.5 218.6,396.7 218.6,385.6 192.8,379.5" fill="#ECEFF2" />
<polygon points="239.5,387.6 218.6,396.7 218.6,385.6 239.5,376.6" fill="#CBD1D7" />
<polygon points="213.7,370.4 239.5,376.6 218.6,385.6 192.8,379.5" fill="#DCE0E5" />
<line x1="198.2" y1="386.8" x2="211.8" y2="390.1" stroke="#8f979f" stroke-width="1.4"/>
<polygon points="187.8,379.8 219.1,387.3 218.3,375.4 195.8,370.0" fill="#76818C" opacity="0.9"/>
<polygon points="244.4,376.3 219.1,387.3 218.3,375.4 236.4,367.5" fill="#58626D" opacity="0.9"/>
<polygon points="214.0,362.2 236.4,367.5 218.3,375.4 195.8,370.0" fill="#838E99" opacity="0.9"/>
<polygon points="199.7,378.7 213.3,382.0 213.6,373.7 202.1,371.0" fill="#2E86DA" opacity="0.32"/>
<polygon points="233.0,376.9 223.1,381.2 222.2,373.0 230.4,369.4" fill="#2272C4" opacity="0.3"/>
<polygon points="215.3,364.2 230.2,367.7 218.6,372.7 203.7,369.2" fill="#3B8FDF" />
<polygon points="207.8,369.3 220.0,372.2 220.0,363.8 207.8,360.9" fill="#2A8AE4" />
<polygon points="224.4,370.3 220.0,372.2 220.0,363.8 224.4,361.9" fill="#1B6FC4" />
<polygon points="212.2,359.0 224.4,361.9 220.0,363.8 207.8,360.9" fill="#47A1F1" />
<polygon points="208.5,371.3 213.9,372.6 213.9,364.2 208.5,362.9" fill="#2A8AE4" />
<polygon points="223.8,368.3 213.9,372.6 213.9,364.2 223.8,359.9" fill="#1B6FC4" />
<polygon points="218.4,358.6 223.8,359.9 213.9,364.2 208.5,362.9" fill="#47A1F1" />
<line x1="239.6" y1="398.4" x2="239.6" y2="404.0" stroke="#a9a49e" stroke-width="0.9"/>
<line x1="251.6" y1="401.2" x2="251.6" y2="406.8" stroke="#a9a49e" stroke-width="0.9"/>
<polygon points="226.8,398.7 252.8,404.9 252.8,393.7 226.8,387.5" fill="#ECEFF2" />
<polygon points="273.6,395.8 252.8,404.9 252.8,393.7 273.6,384.6" fill="#CBD1D7" />
<polygon points="247.6,378.4 273.6,384.6 252.8,393.7 226.8,387.5" fill="#DCE0E5" />
<line x1="232.2" y1="395.0" x2="245.9" y2="398.2" stroke="#8f979f" stroke-width="1.4"/>
<polygon points="221.8,387.8 253.3,395.4 252.4,383.4 229.9,378.0" fill="#76818C" opacity="0.9"/>
<polygon points="278.6,384.3 253.3,395.4 252.4,383.4 270.6,375.5" fill="#58626D" opacity="0.9"/>
<polygon points="248.0,370.1 270.6,375.5 252.4,383.4 229.9,378.0" fill="#838E99" opacity="0.9"/>
<polygon points="233.7,386.8 247.4,390.0 247.8,381.8 236.1,379.0" fill="#2E86DA" opacity="0.32"/>
<polygon points="267.1,384.9 257.3,389.2 256.4,381.0 264.6,377.4" fill="#2272C4" opacity="0.3"/>
<polygon points="249.3,372.1 264.3,375.7 252.8,380.7 237.7,377.1" fill="#3B8FDF" />
<polygon points="241.9,377.3 254.2,380.2 254.2,371.8 241.9,368.8" fill="#2A8AE4" />
<polygon points="258.6,378.3 254.2,380.2 254.2,371.8 258.6,369.8" fill="#1B6FC4" />
<polygon points="246.3,366.9 258.6,369.8 254.2,371.8 241.9,368.8" fill="#47A1F1" />
<polygon points="242.5,379.3 248.0,380.6 248.0,372.1 242.5,370.8" fill="#2A8AE4" />
<polygon points="257.9,376.3 248.0,380.6 248.0,372.1 257.9,367.8" fill="#1B6FC4" />
<polygon points="252.4,366.5 257.9,367.8 248.0,372.1 242.5,370.8" fill="#47A1F1" />
<line x1="286.9" y1="409.7" x2="286.9" y2="415.3" stroke="#a9a49e" stroke-width="0.9"/>
<line x1="299.0" y1="412.6" x2="299.0" y2="418.2" stroke="#a9a49e" stroke-width="0.9"/>
<polygon points="274.0,410.0 300.3,416.3 300.3,405.0 274.0,398.7" fill="#ECEFF2" />
<polygon points="321.1,407.0 300.3,416.3 300.3,405.0 321.1,395.8" fill="#CBD1D7" />
<polygon points="294.8,389.5 321.1,395.8 300.3,405.0 274.0,398.7" fill="#DCE0E5" />
<line x1="279.5" y1="406.2" x2="293.3" y2="409.5" stroke="#8f979f" stroke-width="1.4"/>
<polygon points="269.0,399.0 300.9,406.6 299.9,394.6 277.1,389.1" fill="#76818C" opacity="0.9"/>
<polygon points="326.0,395.5 300.9,406.6 299.9,394.6 318.0,386.6" fill="#58626D" opacity="0.9"/>
<polygon points="295.1,381.1 318.0,386.6 299.9,394.6 277.1,389.1" fill="#838E99" opacity="0.9"/>
<polygon points="281.0,397.9 294.9,401.2 295.2,392.9 283.4,390.1" fill="#2E86DA" opacity="0.32"/>
<polygon points="314.6,396.1 304.7,400.4 303.8,392.1 312.0,388.5" fill="#2272C4" opacity="0.3"/>
<polygon points="296.5,383.1 311.7,386.7 300.2,391.8 285.0,388.2" fill="#3B8FDF" />
<polygon points="289.1,388.3 301.6,391.3 301.6,382.8 289.1,379.8" fill="#2A8AE4" />
<polygon points="305.9,389.3 301.6,391.3 301.6,382.8 305.9,380.8" fill="#1B6FC4" />
<polygon points="293.5,377.9 305.9,380.8 301.6,382.8 289.1,379.8" fill="#47A1F1" />
<polygon points="289.8,390.3 295.4,391.7 295.4,383.2 289.8,381.8" fill="#2A8AE4" />
<polygon points="305.2,387.3 295.4,391.7 295.4,383.2 305.2,378.8" fill="#1B6FC4" />
<polygon points="299.7,377.5 305.2,378.8 295.4,383.2 289.8,381.8" fill="#47A1F1" />
<line x1="345.4" y1="425.9" x2="345.4" y2="431.7" stroke="#a9a49e" stroke-width="0.9"/>
<line x1="357.7" y1="428.9" x2="357.7" y2="434.6" stroke="#a9a49e" stroke-width="0.9"/>
<polygon points="332.4,426.2 359.1,432.6 359.1,421.2 332.4,414.8" fill="#ECEFF2" />
<polygon points="379.8,423.3 359.1,432.6 359.1,421.2 379.8,411.8" fill="#CBD1D7" />
<polygon points="353.1,405.5 379.8,411.8 359.1,421.2 332.4,414.8" fill="#DCE0E5" />
<line x1="338.0" y1="422.4" x2="352.0" y2="425.8" stroke="#8f979f" stroke-width="1.4"/>
<polygon points="327.4,415.1 359.7,422.8 358.7,410.6 335.5,405.0" fill="#76818C" opacity="0.9"/>
<polygon points="384.8,411.5 359.7,422.8 358.7,410.6 376.7,402.5" fill="#58626D" opacity="0.9"/>
<polygon points="353.5,397.0 376.7,402.5 358.7,410.6 335.5,405.0" fill="#838E99" opacity="0.9"/>
<polygon points="339.5,414.0 353.6,417.4 353.9,408.9 341.9,406.0" fill="#2E86DA" opacity="0.32"/>
<polygon points="373.3,412.1 363.5,416.5 362.5,408.1 370.7,404.4" fill="#2272C4" opacity="0.3"/>
<polygon points="354.9,399.0 370.4,402.7 358.9,407.8 343.5,404.1" fill="#3B8FDF" />
<polygon points="347.6,404.2 360.2,407.3 360.2,398.6 347.6,395.6" fill="#2A8AE4" />
<polygon points="364.6,405.3 360.2,407.3 360.2,398.6 364.6,396.7" fill="#1B6FC4" />
<polygon points="352.0,393.6 364.6,396.7 360.2,398.6 347.6,395.6" fill="#47A1F1" />
<polygon points="348.4,406.3 354.0,407.6 354.0,399.0 348.4,397.7" fill="#2A8AE4" />
<polygon points="363.8,403.2 354.0,407.6 354.0,399.0 363.8,394.6" fill="#1B6FC4" />
<polygon points="358.2,393.3 363.8,394.6 354.0,399.0 348.4,397.7" fill="#47A1F1" />
<line x1="387.4" y1="433.7" x2="387.4" y2="439.5" stroke="#a9a49e" stroke-width="0.9"/>
<line x1="399.8" y1="436.7" x2="399.8" y2="442.5" stroke="#a9a49e" stroke-width="0.9"/>
<polygon points="374.3,434.0 401.3,440.5 401.3,428.9 374.3,422.5" fill="#ECEFF2" />
<polygon points="421.9,431.0 401.3,440.5 401.3,428.9 421.9,419.5" fill="#CBD1D7" />
<polygon points="395.0,413.1 421.9,419.5 401.3,428.9 374.3,422.5" fill="#DCE0E5" />
<line x1="380.0" y1="430.2" x2="394.2" y2="433.6" stroke="#8f979f" stroke-width="1.4"/>
<polygon points="369.3,422.8 401.9,430.6 400.9,418.2 377.5,412.6" fill="#76818C" opacity="0.9"/>
<polygon points="426.9,419.2 401.9,430.6 400.9,418.2 418.8,410.1" fill="#58626D" opacity="0.9"/>
<polygon points="395.4,404.5 418.8,410.1 400.9,418.2 377.5,412.6" fill="#838E99" opacity="0.9"/>
<polygon points="381.5,421.7 395.7,425.1 396.0,416.5 383.9,413.6" fill="#2E86DA" opacity="0.32"/>
<polygon points="415.4,419.8 405.7,424.2 404.7,415.8 412.8,412.0" fill="#2272C4" opacity="0.3"/>
<polygon points="396.9,406.5 412.4,410.2 401.0,415.4 385.5,411.7" fill="#3B8FDF" />
<polygon points="389.6,411.8 402.3,414.9 402.3,406.2 389.6,403.1" fill="#2A8AE4" />
<polygon points="406.7,412.9 402.3,414.9 402.3,406.2 406.7,404.2" fill="#1B6FC4" />
<polygon points="393.9,401.2 406.7,404.2 402.3,406.2 389.6,403.1" fill="#47A1F1" />
<polygon points="390.4,413.9 396.1,415.3 396.1,406.6 390.4,405.2" fill="#2A8AE4" />
<polygon points="405.9,410.8 396.1,415.3 396.1,406.6 405.9,402.1" fill="#1B6FC4" />
<polygon points="400.2,400.8 405.9,402.1 396.1,406.6 390.4,405.2" fill="#47A1F1" />
<line x1="422.9" y1="442.2" x2="422.9" y2="448.0" stroke="#a9a49e" stroke-width="0.9"/>
<line x1="435.4" y1="445.2" x2="435.4" y2="451.0" stroke="#a9a49e" stroke-width="0.9"/>
<polygon points="409.8,442.5 437.0,449.0 437.0,437.4 409.8,430.9" fill="#ECEFF2" />
<polygon points="457.5,439.5 437.0,449.0 437.0,437.4 457.5,427.9" fill="#CBD1D7" />
<polygon points="430.4,421.4 457.5,427.9 437.0,437.4 409.8,430.9" fill="#DCE0E5" />
<line x1="415.5" y1="438.6" x2="429.8" y2="442.0" stroke="#8f979f" stroke-width="1.4"/>
<polygon points="404.8,431.2 437.6,439.1 436.5,426.6 412.9,421.0" fill="#76818C" opacity="0.9"/>
<polygon points="462.6,427.5 437.6,439.1 436.5,426.6 454.4,418.4" fill="#58626D" opacity="0.9"/>
<polygon points="430.9,412.8 454.4,418.4 436.5,426.6 412.9,421.0" fill="#838E99" opacity="0.9"/>
<polygon points="417.0,430.1 431.3,433.5 431.6,424.9 419.5,422.0" fill="#2E86DA" opacity="0.32"/>
<polygon points="451.1,428.2 441.3,432.7 440.3,424.1 448.5,420.4" fill="#2272C4" opacity="0.3"/>
<polygon points="432.3,414.8 448.0,418.5 436.7,423.8 420.9,420.0" fill="#3B8FDF" />
<polygon points="425.1,420.1 437.9,423.2 437.9,414.4 425.1,411.4" fill="#2A8AE4" />
<polygon points="442.3,421.2 437.9,423.2 437.9,414.4 442.3,412.4" fill="#1B6FC4" />
<polygon points="429.4,409.4 442.3,412.4 437.9,414.4 425.1,411.4" fill="#47A1F1" />
<polygon points="425.9,422.2 431.7,423.6 431.7,414.8 425.9,413.5" fill="#2A8AE4" />
<polygon points="441.4,419.1 431.7,423.6 431.7,414.8 441.4,410.3" fill="#1B6FC4" />
<polygon points="435.7,409.0 441.4,410.3 431.7,414.8 425.9,413.5" fill="#47A1F1" />
<line x1="458.7" y1="450.8" x2="458.7" y2="456.6" stroke="#a9a49e" stroke-width="0.9"/>
<line x1="471.3" y1="453.8" x2="471.3" y2="459.6" stroke="#a9a49e" stroke-width="0.9"/>
<polygon points="445.6,451.1 472.9,457.6 472.9,445.9 445.6,439.3" fill="#ECEFF2" />
<polygon points="493.5,448.0 472.9,457.6 472.9,445.9 493.5,436.3" fill="#CBD1D7" />
<polygon points="466.1,429.8 493.5,436.3 472.9,445.9 445.6,439.3" fill="#DCE0E5" />
<line x1="451.3" y1="447.2" x2="465.7" y2="450.6" stroke="#8f979f" stroke-width="1.4"/>
<polygon points="440.5,439.6 473.6,447.6 472.5,435.0 448.7,429.4" fill="#76818C" opacity="0.9"/>
<polygon points="498.5,436.0 473.6,447.6 472.5,435.0 490.3,426.7" fill="#58626D" opacity="0.9"/>
<polygon points="466.6,421.1 490.3,426.7 472.5,435.0 448.7,429.4" fill="#838E99" opacity="0.9"/>
<polygon points="452.8,438.5 467.2,442.0 467.5,433.3 455.3,430.4" fill="#2E86DA" opacity="0.32"/>
<polygon points="487.0,436.6 477.3,441.1 476.3,432.5 484.4,428.7" fill="#2272C4" opacity="0.3"/>
<polygon points="468.1,423.2 483.9,426.9 472.6,432.2 456.7,428.4" fill="#3B8FDF" />
<polygon points="460.9,428.5 473.8,431.6 473.8,422.8 460.9,419.7" fill="#2A8AE4" />
<polygon points="478.2,429.6 473.8,431.6 473.8,422.8 478.2,420.8" fill="#1B6FC4" />
<polygon points="465.2,417.7 478.2,420.8 473.8,422.8 460.9,419.7" fill="#47A1F1" />
<polygon points="461.8,430.6 467.5,432.0 467.5,423.2 461.8,421.8" fill="#2A8AE4" />
<polygon points="477.3,427.5 467.5,432.0 467.5,423.2 477.3,418.7" fill="#1B6FC4" />
<polygon points="471.5,417.3 477.3,418.7 467.5,423.2 461.8,421.8" fill="#47A1F1" />
<polygon points="492.5,468.6 506.3,471.9 506.3,456.2 492.5,452.9" fill="#F1C61C" />
<polygon points="522.4,464.3 506.3,471.9 506.3,456.2 522.4,448.6" fill="#D6AA0E" />
<polygon points="508.7,445.3 522.4,448.6 506.3,456.2 492.5,452.9" fill="#F6D646" />
<polygon points="499.5,451.9 506.8,453.6 506.8,444.7 499.5,443.0" fill="#F1C61C" />
<polygon points="515.4,449.6 506.8,453.6 506.8,444.7 515.4,440.7" fill="#D6AA0E" />
<polygon points="508.1,439.0 515.4,440.7 506.8,444.7 499.5,443.0" fill="#F6D646" />
<polygon points="503.1,442.3 507.5,443.4 507.5,435.5 503.1,434.4" fill="#F1C61C" />
<polygon points="511.8,441.3 507.5,443.4 507.5,435.5 511.8,433.5" fill="#D6AA0E" />
<polygon points="507.4,432.4 511.8,433.5 507.5,435.5 503.1,434.4" fill="#F6D646" />
<line x1="481.2" y1="465.7" x2="481.2" y2="471.7" stroke="#a9a49e" stroke-width="0.9"/>
<line x1="494.0" y1="468.8" x2="494.0" y2="474.7" stroke="#a9a49e" stroke-width="0.9"/>
<polygon points="468.0,466.0 495.6,472.7 495.6,460.8 468.0,454.2" fill="#ECEFF2" />
<polygon points="516.2,463.0 495.6,472.7 495.6,460.8 516.2,451.1" fill="#CBD1D7" />
<polygon points="488.6,444.6 516.2,451.1 495.6,460.8 468.0,454.2" fill="#DCE0E5" />
<line x1="473.8" y1="462.1" x2="488.3" y2="465.6" stroke="#8f979f" stroke-width="1.4"/>
<polygon points="462.9,454.5 496.4,462.6 495.2,449.9 471.2,444.1" fill="#76818C" opacity="0.9"/>
<polygon points="521.3,450.8 496.4,462.6 495.2,449.9 513.0,441.5" fill="#58626D" opacity="0.9"/>
<polygon points="489.1,435.8 513.0,441.5 495.2,449.9 471.2,444.1" fill="#838E99" opacity="0.9"/>
<polygon points="475.4,453.4 489.9,456.9 490.2,448.1 477.8,445.1" fill="#2E86DA" opacity="0.32"/>
<polygon points="509.7,451.5 500.0,456.0 499.0,447.3 507.1,443.5" fill="#2272C4" opacity="0.3"/>
<polygon points="490.6,437.8 506.6,441.7 495.2,447.0 479.3,443.2" fill="#3B8FDF" />
<polygon points="483.4,443.3 496.5,446.4 496.5,437.5 483.4,434.4" fill="#2A8AE4" />
<polygon points="500.8,444.4 496.5,446.4 496.5,437.5 500.8,435.5" fill="#1B6FC4" />
<polygon points="487.8,432.3 500.8,435.5 496.5,437.5 483.4,434.4" fill="#47A1F1" />
<polygon points="484.3,445.4 490.1,446.8 490.1,437.9 484.3,436.5" fill="#2A8AE4" />
<polygon points="499.9,442.2 490.1,446.8 490.1,437.9 499.9,433.3" fill="#1B6FC4" />
<polygon points="494.1,431.9 499.9,433.3 490.1,437.9 484.3,436.5" fill="#47A1F1" />
<line x1="48.2" y1="370.9" x2="48.2" y2="376.3" stroke="#a9a49e" stroke-width="0.9"/>
<line x1="59.7" y1="373.7" x2="59.7" y2="379.1" stroke="#a9a49e" stroke-width="0.9"/>
<polygon points="35.5,371.2 60.6,377.3 60.6,366.5 35.5,360.5" fill="#ECEFF2" />
<polygon points="81.9,368.4 60.6,377.3 60.6,366.5 81.9,357.6" fill="#CBD1D7" />
<polygon points="56.8,351.6 81.9,357.6 60.6,366.5 35.5,360.5" fill="#DCE0E5" />
<line x1="40.8" y1="367.6" x2="54.0" y2="370.8" stroke="#8f979f" stroke-width="1.4"/>
<polygon points="30.6,360.8 61.0,368.1 60.4,356.6 38.6,351.3" fill="#76818C" opacity="0.9"/>
<polygon points="86.7,357.3 61.0,368.1 60.4,356.6 78.8,348.8" fill="#58626D" opacity="0.9"/>
<polygon points="57.1,343.6 78.8,348.8 60.4,356.6 38.6,351.3" fill="#838E99" opacity="0.9"/>
<polygon points="42.3,359.7 55.5,362.9 55.9,354.9 44.7,352.2" fill="#2E86DA" opacity="0.32"/>
<polygon points="75.3,357.9 65.2,362.1 64.4,354.2 72.8,350.7" fill="#2272C4" opacity="0.3"/>
<polygon points="58.2,345.5 72.7,349.0 60.9,353.9 46.4,350.4" fill="#3B8FDF" />
<polygon points="50.5,350.6 62.4,353.4 62.4,345.3 50.5,342.4" fill="#2A8AE4" />
<polygon points="66.9,351.6 62.4,353.4 62.4,345.3 66.9,343.4" fill="#1B6FC4" />
<polygon points="55.0,340.5 66.9,343.4 62.4,345.3 50.5,342.4" fill="#47A1F1" />
<polygon points="51.0,352.5 56.3,353.8 56.3,345.6 51.0,344.4" fill="#2A8AE4" />
<polygon points="66.4,349.6 56.3,353.8 56.3,345.6 66.4,341.4" fill="#1B6FC4" />
<polygon points="61.1,340.2 66.4,341.4 56.3,345.6 51.0,344.4" fill="#47A1F1" />
<polygon points="127.2,401.4 140.0,404.5 140.0,389.9 127.2,386.8" fill="#F1C61C" />
<polygon points="156.7,397.4 140.0,404.5 140.0,389.9 156.7,382.7" fill="#D6AA0E" />
<polygon points="144.0,379.7 156.7,382.7 140.0,389.9 127.2,386.8" fill="#F6D646" />
<polygon points="134.2,385.9 140.9,387.5 140.9,379.2 134.2,377.6" fill="#F1C61C" />
<polygon points="149.8,383.7 140.9,387.5 140.9,379.2 149.8,375.4" fill="#D6AA0E" />
<polygon points="143.1,373.8 149.8,375.4 140.9,379.2 134.2,377.6" fill="#F6D646" />
<polygon points="137.7,377.0 141.8,378.0 141.8,370.6 137.7,369.7" fill="#F1C61C" />
<polygon points="146.2,376.1 141.8,378.0 141.8,370.6 146.2,368.7" fill="#D6AA0E" />
<polygon points="142.2,367.8 146.2,368.7 141.8,370.6 137.7,369.7" fill="#F6D646" />
<line x1="169.3" y1="400.2" x2="169.3" y2="405.7" stroke="#a9a49e" stroke-width="0.9"/>
<line x1="181.2" y1="403.0" x2="181.2" y2="408.6" stroke="#a9a49e" stroke-width="0.9"/>
<polygon points="156.5,400.4 182.3,406.7 182.3,395.6 156.5,389.4" fill="#ECEFF2" />
<polygon points="203.4,397.5 182.3,406.7 182.3,395.6 203.4,386.5" fill="#CBD1D7" />
<polygon points="177.7,380.3 203.4,386.5 182.3,395.6 156.5,389.4" fill="#DCE0E5" />
<line x1="161.9" y1="396.8" x2="175.5" y2="400.1" stroke="#8f979f" stroke-width="1.4"/>
<polygon points="151.6,389.7 182.8,397.2 182.0,385.4 159.6,380.0" fill="#76818C" opacity="0.9"/>
<polygon points="208.4,386.2 182.8,397.2 182.0,385.4 200.4,377.4" fill="#58626D" opacity="0.9"/>
<polygon points="178.0,372.1 200.4,377.4 182.0,385.4 159.6,380.0" fill="#838E99" opacity="0.9"/>
<polygon points="163.5,388.6 177.0,391.9 177.4,383.7 165.9,380.9" fill="#2E86DA" opacity="0.32"/>
<polygon points="196.9,386.8 186.9,391.1 186.0,383.0 194.3,379.4" fill="#2272C4" opacity="0.3"/>
<polygon points="179.2,374.0 194.1,377.6 182.5,382.7 167.5,379.1" fill="#3B8FDF" />
<polygon points="171.7,379.2 183.9,382.1 183.9,373.8 171.7,370.8" fill="#2A8AE4" />
<polygon points="188.3,380.2 183.9,382.1 183.9,373.8 188.3,371.8" fill="#1B6FC4" />
<polygon points="176.1,368.9 188.3,371.8 183.9,373.8 171.7,370.8" fill="#47A1F1" />
<polygon points="172.3,381.2 177.7,382.5 177.7,374.1 172.3,372.8" fill="#2A8AE4" />
<polygon points="187.7,378.2 177.7,382.5 177.7,374.1 187.7,369.8" fill="#1B6FC4" />
<polygon points="182.3,368.5 187.7,369.8 177.7,374.1 172.3,372.8" fill="#47A1F1" />
<line x1="203.4" y1="408.4" x2="203.4" y2="414.0" stroke="#a9a49e" stroke-width="0.9"/>
<line x1="215.4" y1="411.3" x2="215.4" y2="416.8" stroke="#a9a49e" stroke-width="0.9"/>
<polygon points="190.5,408.7 216.5,414.9 216.5,403.8 190.5,397.5" fill="#ECEFF2" />
<polygon points="237.6,405.7 216.5,414.9 216.5,403.8 237.6,394.6" fill="#CBD1D7" />
<polygon points="211.6,388.3 237.6,394.6 216.5,403.8 190.5,397.5" fill="#DCE0E5" />
<line x1="196.0" y1="405.0" x2="209.7" y2="408.3" stroke="#8f979f" stroke-width="1.4"/>
<polygon points="185.5,397.8 217.0,405.4 216.2,393.5 193.6,388.0" fill="#76818C" opacity="0.9"/>
<polygon points="242.5,394.3 217.0,405.4 216.2,393.5 234.5,385.5" fill="#58626D" opacity="0.9"/>
<polygon points="211.9,380.1 234.5,385.5 216.2,393.5 193.6,388.0" fill="#838E99" opacity="0.9"/>
<polygon points="197.5,396.8 211.2,400.1 211.5,391.8 199.9,389.0" fill="#2E86DA" opacity="0.32"/>
<polygon points="231.0,394.9 221.1,399.3 220.2,391.0 228.5,387.4" fill="#2272C4" opacity="0.3"/>
<polygon points="213.2,382.0 228.2,385.7 216.6,390.7 201.5,387.1" fill="#3B8FDF" />
<polygon points="205.7,387.2 218.0,390.2 218.0,381.8 205.7,378.8" fill="#2A8AE4" />
<polygon points="222.4,388.3 218.0,390.2 218.0,381.8 222.4,379.8" fill="#1B6FC4" />
<polygon points="210.1,376.9 222.4,379.8 218.0,381.8 205.7,378.8" fill="#47A1F1" />
<polygon points="206.3,389.3 211.8,390.6 211.8,382.1 206.3,380.8" fill="#2A8AE4" />
<polygon points="221.8,386.2 211.8,390.6 211.8,382.1 221.8,377.8" fill="#1B6FC4" />
<polygon points="216.3,376.5 221.8,377.8 211.8,382.1 206.3,380.8" fill="#47A1F1" />
<line x1="237.7" y1="416.7" x2="237.7" y2="422.3" stroke="#a9a49e" stroke-width="0.9"/>
<line x1="249.8" y1="419.6" x2="249.8" y2="425.2" stroke="#a9a49e" stroke-width="0.9"/>
<polygon points="224.8,416.9 251.0,423.3 251.0,412.0 224.8,405.7" fill="#ECEFF2" />
<polygon points="272.0,414.0 251.0,423.3 251.0,412.0 272.0,402.8" fill="#CBD1D7" />
<polygon points="245.8,396.5 272.0,402.8 251.0,412.0 224.8,405.7" fill="#DCE0E5" />
<line x1="230.3" y1="413.2" x2="244.1" y2="416.5" stroke="#8f979f" stroke-width="1.4"/>
<polygon points="219.8,406.0 251.5,413.7 250.7,401.6 227.9,396.1" fill="#76818C" opacity="0.9"/>
<polygon points="277.0,402.4 251.5,413.7 250.7,401.6 268.9,393.6" fill="#58626D" opacity="0.9"/>
<polygon points="246.2,388.1 268.9,393.6 250.7,401.6 227.9,396.1" fill="#838E99" opacity="0.9"/>
<polygon points="231.8,405.0 245.6,408.3 246.0,399.9 234.2,397.1" fill="#2E86DA" opacity="0.32"/>
<polygon points="265.5,403.1 255.5,407.5 254.6,399.2 262.9,395.5" fill="#2272C4" opacity="0.3"/>
<polygon points="247.5,390.1 262.6,393.8 251.0,398.9 235.8,395.2" fill="#3B8FDF" />
<polygon points="240.0,395.3 252.4,398.3 252.4,389.8 240.0,386.8" fill="#2A8AE4" />
<polygon points="256.8,396.4 252.4,398.3 252.4,389.8 256.8,387.9" fill="#1B6FC4" />
<polygon points="244.4,384.9 256.8,387.9 252.4,389.8 240.0,386.8" fill="#47A1F1" />
<polygon points="240.7,397.4 246.2,398.7 246.2,390.2 240.7,388.9" fill="#2A8AE4" />
<polygon points="256.1,394.3 246.2,398.7 246.2,390.2 256.1,385.8" fill="#1B6FC4" />
<polygon points="250.6,384.5 256.1,385.8 246.2,390.2 240.7,388.9" fill="#47A1F1" />
<line x1="282.9" y1="429.8" x2="282.9" y2="435.5" stroke="#a9a49e" stroke-width="0.9"/>
<line x1="295.1" y1="432.8" x2="295.1" y2="438.5" stroke="#a9a49e" stroke-width="0.9"/>
<polygon points="269.9,430.1 296.4,436.5 296.4,425.2 269.9,418.7" fill="#ECEFF2" />
<polygon points="317.4,427.2 296.4,436.5 296.4,425.2 317.4,415.8" fill="#CBD1D7" />
<polygon points="290.9,409.4 317.4,415.8 296.4,425.2 269.9,418.7" fill="#DCE0E5" />
<line x1="275.4" y1="426.3" x2="289.4" y2="429.7" stroke="#8f979f" stroke-width="1.4"/>
<polygon points="264.9,419.1 297.0,426.8 296.0,414.6 273.0,409.1" fill="#76818C" opacity="0.9"/>
<polygon points="322.4,415.5 297.0,426.8 296.0,414.6 314.3,406.5" fill="#58626D" opacity="0.9"/>
<polygon points="291.3,401.0 314.3,406.5 296.0,414.6 273.0,409.1" fill="#838E99" opacity="0.9"/>
<polygon points="277.0,418.0 290.9,421.4 291.3,412.9 279.4,410.0" fill="#2E86DA" opacity="0.32"/>
<polygon points="310.8,416.1 300.9,420.5 300.0,412.2 308.3,408.5" fill="#2272C4" opacity="0.3"/>
<polygon points="292.6,403.0 307.9,406.7 296.3,411.9 281.0,408.1" fill="#3B8FDF" />
<polygon points="285.2,408.3 297.7,411.3 297.7,402.7 285.2,399.7" fill="#2A8AE4" />
<polygon points="302.1,409.3 297.7,411.3 297.7,402.7 302.1,400.7" fill="#1B6FC4" />
<polygon points="289.6,397.7 302.1,400.7 297.7,402.7 285.2,399.7" fill="#47A1F1" />
<polygon points="285.9,410.3 291.5,411.7 291.5,403.1 285.9,401.7" fill="#2A8AE4" />
<polygon points="301.4,407.2 291.5,411.7 291.5,403.1 301.4,398.7" fill="#1B6FC4" />
<polygon points="295.8,397.3 301.4,398.7 291.5,403.1 285.9,401.7" fill="#47A1F1" />
<line x1="317.9" y1="438.3" x2="317.9" y2="444.0" stroke="#a9a49e" stroke-width="0.9"/>
<line x1="330.2" y1="441.3" x2="330.2" y2="447.0" stroke="#a9a49e" stroke-width="0.9"/>
<polygon points="304.8,438.6 331.6,445.0 331.6,433.6 304.8,427.1" fill="#ECEFF2" />
<polygon points="352.5,435.6 331.6,445.0 331.6,433.6 352.5,424.1" fill="#CBD1D7" />
<polygon points="325.8,417.7 352.5,424.1 331.6,433.6 304.8,427.1" fill="#DCE0E5" />
<line x1="310.4" y1="434.8" x2="324.5" y2="438.2" stroke="#8f979f" stroke-width="1.4"/>
<polygon points="299.8,427.4 332.2,435.3 331.2,423.0 308.0,417.4" fill="#76818C" opacity="0.9"/>
<polygon points="357.5,423.8 332.2,435.3 331.2,423.0 349.4,414.8" fill="#58626D" opacity="0.9"/>
<polygon points="326.2,409.2 349.4,414.8 331.2,423.0 308.0,417.4" fill="#838E99" opacity="0.9"/>
<polygon points="312.0,426.3 326.0,429.8 326.4,421.2 314.4,418.3" fill="#2E86DA" opacity="0.32"/>
<polygon points="345.9,424.4 336.0,428.9 335.1,420.5 343.4,416.7" fill="#2272C4" opacity="0.3"/>
<polygon points="327.5,411.2 343.0,414.9 331.4,420.2 316.0,416.4" fill="#3B8FDF" />
<polygon points="320.1,416.5 332.8,419.6 332.8,410.9 320.1,407.9" fill="#2A8AE4" />
<polygon points="337.2,417.6 332.8,419.6 332.8,410.9 337.2,408.9" fill="#1B6FC4" />
<polygon points="324.5,405.9 337.2,408.9 332.8,410.9 320.1,407.9" fill="#47A1F1" />
<polygon points="320.9,418.6 326.5,420.0 326.5,411.3 320.9,410.0" fill="#2A8AE4" />
<polygon points="336.4,415.5 326.5,420.0 326.5,411.3 336.4,406.9" fill="#1B6FC4" />
<polygon points="330.8,405.5 336.4,406.9 326.5,411.3 320.9,410.0" fill="#47A1F1" />
<line x1="353.1" y1="446.8" x2="353.1" y2="452.6" stroke="#a9a49e" stroke-width="0.9"/>
<line x1="365.6" y1="449.8" x2="365.6" y2="455.6" stroke="#a9a49e" stroke-width="0.9"/>
<polygon points="340.0,447.1 367.0,453.6 367.0,442.1 340.0,435.5" fill="#ECEFF2" />
<polygon points="387.9,444.1 367.0,453.6 367.0,442.1 387.9,432.5" fill="#CBD1D7" />
<polygon points="361.0,426.1 387.9,432.5 367.0,442.1 340.0,435.5" fill="#DCE0E5" />
<line x1="345.7" y1="443.3" x2="359.9" y2="446.7" stroke="#8f979f" stroke-width="1.4"/>
<polygon points="335.0,435.8 367.6,443.7 366.6,431.4 343.2,425.7" fill="#76818C" opacity="0.9"/>
<polygon points="392.9,432.2 367.6,443.7 366.6,431.4 384.7,423.1" fill="#58626D" opacity="0.9"/>
<polygon points="361.4,417.5 384.7,423.1 366.6,431.4 343.2,425.7" fill="#838E99" opacity="0.9"/>
<polygon points="347.2,434.8 361.4,438.2 361.7,429.6 349.7,426.7" fill="#2E86DA" opacity="0.32"/>
<polygon points="381.3,432.8 371.4,437.4 370.5,428.8 378.7,425.1" fill="#2272C4" opacity="0.3"/>
<polygon points="362.8,419.5 378.4,423.3 366.8,428.5 351.2,424.8" fill="#3B8FDF" />
<polygon points="355.4,424.9 368.2,427.9 368.2,419.2 355.4,416.1" fill="#2A8AE4" />
<polygon points="372.6,425.9 368.2,427.9 368.2,419.2 372.6,417.2" fill="#1B6FC4" />
<polygon points="359.8,414.1 372.6,417.2 368.2,419.2 355.4,416.1" fill="#47A1F1" />
<polygon points="356.2,427.0 361.8,428.3 361.8,419.6 356.2,418.3" fill="#2A8AE4" />
<polygon points="371.7,423.8 361.8,428.3 361.8,419.6 371.7,415.1" fill="#1B6FC4" />
<polygon points="366.1,413.8 371.7,415.1 361.8,419.6 356.2,418.3" fill="#47A1F1" />
<line x1="395.6" y1="454.7" x2="395.6" y2="460.6" stroke="#a9a49e" stroke-width="0.9"/>
<line x1="408.1" y1="457.8" x2="408.1" y2="463.6" stroke="#a9a49e" stroke-width="0.9"/>
<polygon points="382.4,455.0 409.6,461.6 409.6,449.9 382.4,443.4" fill="#ECEFF2" />
<polygon points="430.4,452.0 409.6,461.6 409.6,449.9 430.4,440.3" fill="#CBD1D7" />
<polygon points="403.3,433.8 430.4,440.3 409.6,449.9 382.4,443.4" fill="#DCE0E5" />
<line x1="388.1" y1="451.2" x2="402.4" y2="454.6" stroke="#8f979f" stroke-width="1.4"/>
<polygon points="377.4,443.7 410.3,451.7 409.2,439.2 385.6,433.5" fill="#76818C" opacity="0.9"/>
<polygon points="435.5,440.0 410.3,451.7 409.2,439.2 427.3,430.8" fill="#58626D" opacity="0.9"/>
<polygon points="403.7,425.2 427.3,430.8 409.2,439.2 385.6,433.5" fill="#838E99" opacity="0.9"/>
<polygon points="389.7,442.6 404.0,446.1 404.3,437.4 392.1,434.5" fill="#2E86DA" opacity="0.32"/>
<polygon points="423.9,440.7 414.0,445.2 413.1,436.6 421.3,432.8" fill="#2272C4" opacity="0.3"/>
<polygon points="405.1,427.2 420.9,431.0 409.4,436.3 393.6,432.5" fill="#3B8FDF" />
<polygon points="397.8,432.6 410.7,435.7 410.7,426.9 397.8,423.8" fill="#2A8AE4" />
<polygon points="415.1,433.7 410.7,435.7 410.7,426.9 415.1,424.9" fill="#1B6FC4" />
<polygon points="402.2,421.8 415.1,424.9 410.7,426.9 397.8,423.8" fill="#47A1F1" />
<polygon points="398.6,434.7 404.4,436.1 404.4,427.3 398.6,425.9" fill="#2A8AE4" />
<polygon points="414.2,431.6 404.4,436.1 404.4,427.3 414.2,422.8" fill="#1B6FC4" />
<polygon points="408.5,421.4 414.2,422.8 404.4,427.3 398.6,425.9" fill="#47A1F1" />
<line x1="431.5" y1="463.4" x2="431.5" y2="469.3" stroke="#a9a49e" stroke-width="0.9"/>
<line x1="444.1" y1="466.4" x2="444.1" y2="472.3" stroke="#a9a49e" stroke-width="0.9"/>
<polygon points="418.2,463.7 445.7,470.3 445.7,458.6 418.2,451.9" fill="#ECEFF2" />
<polygon points="466.4,460.6 445.7,470.3 445.7,458.6 466.4,448.9" fill="#CBD1D7" />
<polygon points="439.0,442.3 466.4,448.9 445.7,458.6 418.2,451.9" fill="#DCE0E5" />
<line x1="424.0" y1="459.8" x2="438.4" y2="463.3" stroke="#8f979f" stroke-width="1.4"/>
<polygon points="413.2,452.2 446.4,460.3 445.2,447.7 421.4,441.9" fill="#76818C" opacity="0.9"/>
<polygon points="471.5,448.6 446.4,460.3 445.2,447.7 463.2,439.3" fill="#58626D" opacity="0.9"/>
<polygon points="439.5,433.6 463.2,439.3 445.2,447.7 421.4,441.9" fill="#838E99" opacity="0.9"/>
<polygon points="425.5,451.2 440.0,454.6 440.3,445.9 428.0,442.9" fill="#2E86DA" opacity="0.32"/>
<polygon points="459.9,449.2 450.0,453.8 449.1,445.1 457.3,441.3" fill="#2272C4" opacity="0.3"/>
<polygon points="441.0,435.7 456.8,439.5 445.3,444.8 429.5,441.0" fill="#3B8FDF" />
<polygon points="433.7,441.1 446.6,444.2 446.6,435.4 433.7,432.2" fill="#2A8AE4" />
<polygon points="451.0,442.2 446.6,444.2 446.6,435.4 451.0,433.3" fill="#1B6FC4" />
<polygon points="438.0,430.2 451.0,433.3 446.6,435.4 433.7,432.2" fill="#47A1F1" />
<polygon points="434.5,443.2 440.3,444.6 440.3,435.8 434.5,434.4" fill="#2A8AE4" />
<polygon points="450.1,440.0 440.3,444.6 440.3,435.8 450.1,431.2" fill="#1B6FC4" />
<polygon points="444.4,429.8 450.1,431.2 440.3,435.8 434.5,434.4" fill="#47A1F1" />
<polygon points="465.3,481.4 479.1,484.7 479.1,468.9 465.3,465.6" fill="#F1C61C" />
<polygon points="495.4,477.1 479.1,484.7 479.1,468.9 495.4,461.2" fill="#D6AA0E" />
<polygon points="481.6,457.9 495.4,461.2 479.1,468.9 465.3,465.6" fill="#F6D646" />
<polygon points="472.3,464.6 479.6,466.3 479.6,457.4 472.3,455.7" fill="#F1C61C" />
<polygon points="488.3,462.2 479.6,466.3 479.6,457.4 488.3,453.3" fill="#D6AA0E" />
<polygon points="481.1,451.6 488.3,453.3 479.6,457.4 472.3,455.7" fill="#F6D646" />
<polygon points="476.0,455.0 480.4,456.1 480.4,448.2 476.0,447.1" fill="#F1C61C" />
<polygon points="484.7,454.0 480.4,456.1 480.4,448.2 484.7,446.1" fill="#D6AA0E" />
<polygon points="480.3,445.1 484.7,446.1 480.4,448.2 476.0,447.1" fill="#F6D646" />
<polygon points="-41.6,177.8 -12.6,184.5 -11.3,160.9 -31.3,156.3" fill="#EC6923" />
<polygon points="12.4,174.6 -12.6,184.5 -11.3,160.9 6.2,153.9" fill="#D85817" />
<polygon points="-13.8,149.4 6.2,153.9 -11.3,160.9 -31.3,156.3" fill="#F27A30" stroke="#F27A30" stroke-width="0.6"/>
<line x1="-12.6" y1="183.5" x2="-11.3" y2="161.9" stroke="#F9A36A" stroke-width="1.8" stroke-linecap="round"/>
<line x1="-14.8" y1="152.5" x2="-7.6" y2="154.1" stroke="#b6461a" stroke-width="0.9" opacity="0.7"/>
<polygon points="-10.4,185.0 18.8,191.7 20.1,167.9 -0.1,163.3" fill="#D8CFB9" />
<polygon points="43.8,181.7 18.8,191.7 20.1,167.9 37.5,161.0" fill="#C5BBA3" />
<polygon points="17.4,156.4 37.5,161.0 20.1,167.9 -0.1,163.3" fill="#E8E0CB" stroke="#E8E0CB" stroke-width="0.6"/>
<line x1="18.8" y1="190.7" x2="20.1" y2="168.9" stroke="#F5EEDC" stroke-width="1.8" stroke-linecap="round"/>
<line x1="16.4" y1="159.5" x2="23.7" y2="161.2" stroke="#8f8874" stroke-width="0.9" opacity="0.7"/>
<polygon points="21.0,192.2 50.5,199.0 51.7,175.1 31.4,170.4" fill="#D8CFB9" />
<polygon points="75.4,189.0 50.5,199.0 51.7,175.1 69.1,168.0" fill="#C5BBA3" />
<polygon points="48.8,163.4 69.1,168.0 51.7,175.1 31.4,170.4" fill="#E8E0CB" stroke="#E8E0CB" stroke-width="0.6"/>
<line x1="50.5" y1="198.0" x2="51.7" y2="176.1" stroke="#F5EEDC" stroke-width="1.8" stroke-linecap="round"/>
<line x1="47.9" y1="166.6" x2="55.2" y2="168.2" stroke="#8f8874" stroke-width="0.9" opacity="0.7"/>
<polygon points="52.7,199.5 82.4,206.4 83.5,182.2 63.1,177.5" fill="#D8CFB9" />
<polygon points="107.3,196.3 82.4,206.4 83.5,182.2 100.9,175.2" fill="#C5BBA3" />
<polygon points="80.5,170.5 100.9,175.2 83.5,182.2 63.1,177.5" fill="#E8E0CB" stroke="#E8E0CB" stroke-width="0.6"/>
<line x1="82.4" y1="205.4" x2="83.5" y2="183.2" stroke="#F5EEDC" stroke-width="1.8" stroke-linecap="round"/>
<line x1="79.6" y1="173.7" x2="87.0" y2="175.4" stroke="#8f8874" stroke-width="0.9" opacity="0.7"/>
<polygon points="84.6,206.9 114.5,213.8 115.6,189.5 95.1,184.7" fill="#D8CFB9" />
<polygon points="139.4,203.6 114.5,213.8 115.6,189.5 133.0,182.4" fill="#C5BBA3" />
<polygon points="112.4,177.6 133.0,182.4 115.6,189.5 95.1,184.7" fill="#E8E0CB" stroke="#E8E0CB" stroke-width="0.6"/>
<line x1="114.5" y1="212.8" x2="115.6" y2="190.5" stroke="#F5EEDC" stroke-width="1.8" stroke-linecap="round"/>
<line x1="111.6" y1="180.9" x2="119.0" y2="182.5" stroke="#8f8874" stroke-width="0.9" opacity="0.7"/>
<polygon points="116.8,214.3 146.9,221.3 148.0,196.8 127.2,192.0" fill="#393735" />
<polygon points="171.7,211.0 146.9,221.3 148.0,196.8 165.3,189.6" fill="#2E2C2B" />
<polygon points="144.6,184.9 165.3,189.6 148.0,196.8 127.2,192.0" fill="#42403E" stroke="#42403E" stroke-width="0.6"/>
<line x1="146.9" y1="220.3" x2="148.0" y2="197.8" stroke="#7d7a77" stroke-width="1.8" stroke-linecap="round"/>
<line x1="143.8" y1="188.1" x2="151.2" y2="189.8" stroke="#a8a5a0" stroke-width="0.9" opacity="0.7"/>
<polygon points="149.2,221.8 179.6,228.8 180.6,204.1 159.7,199.3" fill="#393735" />
<polygon points="204.3,218.5 179.6,228.8 180.6,204.1 197.8,196.9" fill="#2E2C2B" />
<polygon points="177.0,192.1 197.8,196.9 180.6,204.1 159.7,199.3" fill="#42403E" stroke="#42403E" stroke-width="0.6"/>
<line x1="179.6" y1="227.8" x2="180.6" y2="205.1" stroke="#7d7a77" stroke-width="1.8" stroke-linecap="round"/>
<line x1="176.2" y1="195.4" x2="183.7" y2="197.1" stroke="#a8a5a0" stroke-width="0.9" opacity="0.7"/>
<polygon points="181.8,229.3 212.4,236.4 213.4,211.5 192.3,206.7" fill="#393735" />
<polygon points="237.1,226.0 212.4,236.4 213.4,211.5 230.6,204.2" fill="#2E2C2B" />
<polygon points="209.6,199.4 230.6,204.2 213.4,211.5 192.3,206.7" fill="#42403E" stroke="#42403E" stroke-width="0.6"/>
<line x1="212.4" y1="235.4" x2="213.4" y2="212.5" stroke="#7d7a77" stroke-width="1.8" stroke-linecap="round"/>
<line x1="208.9" y1="202.7" x2="216.5" y2="204.4" stroke="#a8a5a0" stroke-width="0.9" opacity="0.7"/>
<polygon points="214.8,236.9 245.6,244.1 246.5,219.0 225.3,214.1" fill="#393735" />
<polygon points="270.2,233.6 245.6,244.1 246.5,219.0 263.7,211.6" fill="#2E2C2B" />
<polygon points="242.5,206.8 263.7,211.6 246.5,219.0 225.3,214.1" fill="#42403E" stroke="#42403E" stroke-width="0.6"/>
<line x1="245.6" y1="243.1" x2="246.5" y2="220.0" stroke="#7d7a77" stroke-width="1.8" stroke-linecap="round"/>
<line x1="241.9" y1="210.1" x2="249.5" y2="211.8" stroke="#a8a5a0" stroke-width="0.9" opacity="0.7"/>
<polygon points="247.9,244.6 279.0,251.8 279.8,226.5 258.5,221.6" fill="#D8CFB9" />
<polygon points="303.6,241.2 279.0,251.8 279.8,226.5 297.0,219.1" fill="#C5BBA3" />
<polygon points="275.7,214.2 297.0,219.1 279.8,226.5 258.5,221.6" fill="#E8E0CB" stroke="#E8E0CB" stroke-width="0.6"/>
<line x1="279.0" y1="250.8" x2="279.8" y2="227.5" stroke="#F5EEDC" stroke-width="1.8" stroke-linecap="round"/>
<line x1="275.0" y1="217.5" x2="282.7" y2="219.3" stroke="#8f8874" stroke-width="0.9" opacity="0.7"/>
<polygon points="281.3,252.3 312.6,259.5 313.4,234.0 291.9,229.1" fill="#D8CFB9" />
<polygon points="337.2,248.9 312.6,259.5 313.4,234.0 330.6,226.6" fill="#C5BBA3" />
<polygon points="309.1,221.7 330.6,226.6 313.4,234.0 291.9,229.1" fill="#E8E0CB" stroke="#E8E0CB" stroke-width="0.6"/>
<line x1="312.6" y1="258.5" x2="313.4" y2="235.0" stroke="#F5EEDC" stroke-width="1.8" stroke-linecap="round"/>
<line x1="308.5" y1="225.0" x2="316.2" y2="226.8" stroke="#8f8874" stroke-width="0.9" opacity="0.7"/>
<polygon points="315.0,260.1 346.6,267.3 347.3,241.7 325.6,236.7" fill="#D8CFB9" />
<polygon points="371.0,256.6 346.6,267.3 347.3,241.7 364.4,234.2" fill="#C5BBA3" />
<polygon points="342.7,229.2 364.4,234.2 347.3,241.7 325.6,236.7" fill="#E8E0CB" stroke="#E8E0CB" stroke-width="0.6"/>
<line x1="346.6" y1="266.3" x2="347.3" y2="242.7" stroke="#F5EEDC" stroke-width="1.8" stroke-linecap="round"/>
<line x1="342.2" y1="232.6" x2="350.0" y2="234.4" stroke="#8f8874" stroke-width="0.9" opacity="0.7"/>
<polygon points="348.9,267.9 380.7,275.2 381.4,249.4 359.6,244.3" fill="#D8CFB9" />
<polygon points="405.2,264.4 380.7,275.2 381.4,249.4 398.5,241.8" fill="#C5BBA3" />
<polygon points="376.7,236.8 398.5,241.8 381.4,249.4 359.6,244.3" fill="#E8E0CB" stroke="#E8E0CB" stroke-width="0.6"/>
<line x1="380.7" y1="274.2" x2="381.4" y2="250.4" stroke="#F5EEDC" stroke-width="1.8" stroke-linecap="round"/>
<line x1="376.2" y1="240.2" x2="384.0" y2="242.0" stroke="#8f8874" stroke-width="0.9" opacity="0.7"/>
<polygon points="383.1,275.8 415.2,283.2 415.8,257.1 393.8,252.0" fill="#393735" />
<polygon points="439.6,272.3 415.2,283.2 415.8,257.1 432.9,249.5" fill="#2E2C2B" />
<polygon points="410.8,244.5 432.9,249.5 415.8,257.1 393.8,252.0" fill="#42403E" stroke="#42403E" stroke-width="0.6"/>
<line x1="415.2" y1="282.2" x2="415.8" y2="258.1" stroke="#7d7a77" stroke-width="1.8" stroke-linecap="round"/>
<line x1="410.4" y1="247.9" x2="418.3" y2="249.7" stroke="#a8a5a0" stroke-width="0.9" opacity="0.7"/>
<polygon points="417.6,283.7 449.9,291.2 450.5,264.9 428.3,259.8" fill="#393735" />
<polygon points="474.2,280.2 449.9,291.2 450.5,264.9 467.5,257.3" fill="#2E2C2B" />
<polygon points="445.3,252.2 467.5,257.3 450.5,264.9 428.3,259.8" fill="#42403E" stroke="#42403E" stroke-width="0.6"/>
<line x1="449.9" y1="290.2" x2="450.5" y2="265.9" stroke="#7d7a77" stroke-width="1.8" stroke-linecap="round"/>
<line x1="444.9" y1="255.6" x2="452.9" y2="257.5" stroke="#a8a5a0" stroke-width="0.9" opacity="0.7"/>
<polygon points="469.8,295.8 502.5,303.3 503.0,276.7 480.5,271.6" fill="#393735" />
<polygon points="526.7,292.3 502.5,303.3 503.0,276.7 519.9,269.0" fill="#2E2C2B" />
<polygon points="497.5,263.9 519.9,269.0 503.0,276.7 480.5,271.6" fill="#42403E" stroke="#42403E" stroke-width="0.6"/>
<line x1="502.5" y1="302.3" x2="503.0" y2="277.7" stroke="#7d7a77" stroke-width="1.8" stroke-linecap="round"/>
<line x1="497.2" y1="267.4" x2="505.3" y2="269.2" stroke="#a8a5a0" stroke-width="0.9" opacity="0.7"/>
<polygon points="505.0,303.9 537.9,311.5 538.4,284.7 515.7,279.5" fill="#393735" />
<polygon points="562.1,300.4 537.9,311.5 538.4,284.7 555.3,276.9" fill="#2E2C2B" />
<polygon points="532.6,271.7 555.3,276.9 538.4,284.7 515.7,279.5" fill="#42403E" stroke="#42403E" stroke-width="0.6"/>
<line x1="537.9" y1="310.5" x2="538.4" y2="285.7" stroke="#7d7a77" stroke-width="1.8" stroke-linecap="round"/>
<line x1="532.4" y1="275.3" x2="540.5" y2="277.1" stroke="#a8a5a0" stroke-width="0.9" opacity="0.7"/>
<polygon points="540.4,312.1 573.6,319.7 574.0,292.7 551.2,287.5" fill="#393735" />
<polygon points="597.7,308.5 573.6,319.7 574.0,292.7 590.9,284.9" fill="#2E2C2B" />
<polygon points="568.0,279.7 590.9,284.9 574.0,292.7 551.2,287.5" fill="#42403E" stroke="#42403E" stroke-width="0.6"/>
<line x1="573.6" y1="318.7" x2="574.0" y2="293.7" stroke="#7d7a77" stroke-width="1.8" stroke-linecap="round"/>
<line x1="567.8" y1="283.2" x2="576.0" y2="285.1" stroke="#a8a5a0" stroke-width="0.9" opacity="0.7"/>
<polygon points="576.1,320.3 609.6,328.1 610.0,300.8 586.9,295.5" fill="#393735" />
<polygon points="633.6,316.7 609.6,328.1 610.0,300.8 626.7,292.9" fill="#2E2C2B" />
<polygon points="603.7,287.7 626.7,292.9 610.0,300.8 586.9,295.5" fill="#42403E" stroke="#42403E" stroke-width="0.6"/>
<line x1="609.6" y1="327.1" x2="610.0" y2="301.8" stroke="#7d7a77" stroke-width="1.8" stroke-linecap="round"/>
<line x1="603.6" y1="291.2" x2="611.9" y2="293.1" stroke="#a8a5a0" stroke-width="0.9" opacity="0.7"/>
<polygon points="-44.4,198.5 -15.1,205.3 -13.8,184.0 -34.0,179.3" fill="#D8CFB9" />
<polygon points="10.2,195.2 -15.1,205.3 -13.8,184.0 3.8,176.9" fill="#C5BBA3" />
<polygon points="-16.3,172.3 3.8,176.9 -13.8,184.0 -34.0,179.3" fill="#E8E0CB" stroke="#E8E0CB" stroke-width="0.6"/>
<line x1="-15.1" y1="204.3" x2="-13.8" y2="185.0" stroke="#F5EEDC" stroke-width="1.8" stroke-linecap="round"/>
<line x1="-17.3" y1="175.4" x2="-10.1" y2="177.1" stroke="#8f8874" stroke-width="0.9" opacity="0.7"/>
<polygon points="-12.9,205.8 16.6,212.7 17.9,191.2 -2.4,186.5" fill="#D8CFB9" />
<polygon points="41.9,202.5 16.6,212.7 17.9,191.2 35.5,184.1" fill="#C5BBA3" />
<polygon points="15.2,179.4 35.5,184.1 17.9,191.2 -2.4,186.5" fill="#E8E0CB" stroke="#E8E0CB" stroke-width="0.6"/>
<line x1="16.6" y1="211.7" x2="17.9" y2="192.2" stroke="#F5EEDC" stroke-width="1.8" stroke-linecap="round"/>
<line x1="14.2" y1="182.6" x2="21.5" y2="184.3" stroke="#8f8874" stroke-width="0.9" opacity="0.7"/>
<polygon points="18.9,213.2 48.6,220.2 49.8,198.5 29.3,193.7" fill="#D8CFB9" />
<polygon points="73.8,209.9 48.6,220.2 49.8,198.5 67.4,191.3" fill="#C5BBA3" />
<polygon points="46.9,186.6 67.4,191.3 49.8,198.5 29.3,193.7" fill="#E8E0CB" stroke="#E8E0CB" stroke-width="0.6"/>
<line x1="48.6" y1="219.2" x2="49.8" y2="199.5" stroke="#F5EEDC" stroke-width="1.8" stroke-linecap="round"/>
<line x1="46.0" y1="189.8" x2="53.3" y2="191.5" stroke="#8f8874" stroke-width="0.9" opacity="0.7"/>
<polygon points="50.8,220.7 80.8,227.7 81.9,205.8 61.3,201.0" fill="#D8CFB9" />
<polygon points="105.9,217.3 80.8,227.7 81.9,205.8 99.5,198.6" fill="#C5BBA3" />
<polygon points="78.9,193.9 99.5,198.6 81.9,205.8 61.3,201.0" fill="#E8E0CB" stroke="#E8E0CB" stroke-width="0.6"/>
<line x1="80.8" y1="226.7" x2="81.9" y2="206.8" stroke="#F5EEDC" stroke-width="1.8" stroke-linecap="round"/>
<line x1="78.0" y1="197.1" x2="85.4" y2="198.8" stroke="#8f8874" stroke-width="0.9" opacity="0.7"/>
<polygon points="83.1,228.2 113.2,235.2 114.3,213.3 93.6,208.4" fill="#D8CFB9" />
<polygon points="138.3,224.8 113.2,235.2 114.3,213.3 131.9,206.0" fill="#C5BBA3" />
<polygon points="111.1,201.2 131.9,206.0 114.3,213.3 93.6,208.4" fill="#E8E0CB" stroke="#E8E0CB" stroke-width="0.6"/>
<line x1="113.2" y1="234.2" x2="114.3" y2="214.3" stroke="#F5EEDC" stroke-width="1.8" stroke-linecap="round"/>
<line x1="110.3" y1="204.5" x2="117.7" y2="206.2" stroke="#8f8874" stroke-width="0.9" opacity="0.7"/>
<polygon points="115.5,235.8 145.9,242.9 147.0,220.7 126.1,215.8" fill="#D8CFB9" />
<polygon points="171.0,232.4 145.9,242.9 147.0,220.7 164.5,213.4" fill="#C5BBA3" />
<polygon points="143.6,208.6 164.5,213.4 147.0,220.7 126.1,215.8" fill="#E8E0CB" stroke="#E8E0CB" stroke-width="0.6"/>
<line x1="145.9" y1="241.9" x2="147.0" y2="221.7" stroke="#F5EEDC" stroke-width="1.8" stroke-linecap="round"/>
<line x1="142.8" y1="211.9" x2="150.3" y2="213.6" stroke="#8f8874" stroke-width="0.9" opacity="0.7"/>
<polygon points="148.2,243.4 178.9,250.6 179.9,228.2 158.8,223.3" fill="#D8CFB9" />
<polygon points="203.9,240.0 178.9,250.6 179.9,228.2 197.4,220.9" fill="#C5BBA3" />
<polygon points="176.3,216.0 197.4,220.9 179.9,228.2 158.8,223.3" fill="#E8E0CB" stroke="#E8E0CB" stroke-width="0.6"/>
<line x1="178.9" y1="249.6" x2="179.9" y2="229.2" stroke="#F5EEDC" stroke-width="1.8" stroke-linecap="round"/>
<line x1="175.5" y1="219.3" x2="183.1" y2="221.1" stroke="#8f8874" stroke-width="0.9" opacity="0.7"/>
<polygon points="181.2,251.1 212.1,258.3 213.1,235.8 191.8,230.9" fill="#D8CFB9" />
<polygon points="237.0,247.7 212.1,258.3 213.1,235.8 230.5,228.4" fill="#C5BBA3" />
<polygon points="209.3,223.5 230.5,228.4 213.1,235.8 191.8,230.9" fill="#E8E0CB" stroke="#E8E0CB" stroke-width="0.6"/>
<line x1="212.1" y1="257.3" x2="213.1" y2="236.8" stroke="#F5EEDC" stroke-width="1.8" stroke-linecap="round"/>
<line x1="208.5" y1="226.8" x2="216.2" y2="228.6" stroke="#8f8874" stroke-width="0.9" opacity="0.7"/>
<polygon points="214.4,258.8 245.6,266.1 246.5,243.4 225.1,238.5" fill="#D8CFB9" />
<polygon points="270.5,255.4 245.6,266.1 246.5,243.4 263.9,236.0" fill="#C5BBA3" />
<polygon points="242.5,231.0 263.9,236.0 246.5,243.4 225.1,238.5" fill="#E8E0CB" stroke="#E8E0CB" stroke-width="0.6"/>
<line x1="245.6" y1="265.1" x2="246.5" y2="244.4" stroke="#F5EEDC" stroke-width="1.8" stroke-linecap="round"/>
<line x1="241.8" y1="234.4" x2="249.5" y2="236.2" stroke="#8f8874" stroke-width="0.9" opacity="0.7"/>
<polygon points="247.9,266.7 279.3,274.0 280.2,251.1 258.6,246.1" fill="#D8CFB9" />
<polygon points="304.1,263.2 279.3,274.0 280.2,251.1 297.5,243.6" fill="#C5BBA3" />
<polygon points="275.9,238.6 297.5,243.6 280.2,251.1 258.6,246.1" fill="#E8E0CB" stroke="#E8E0CB" stroke-width="0.6"/>
<line x1="279.3" y1="273.0" x2="280.2" y2="252.1" stroke="#F5EEDC" stroke-width="1.8" stroke-linecap="round"/>
<line x1="275.3" y1="242.0" x2="283.1" y2="243.8" stroke="#8f8874" stroke-width="0.9" opacity="0.7"/>
<polygon points="281.7,274.5 313.3,281.9 314.1,258.9 292.3,253.8" fill="#D8CFB9" />
<polygon points="338.1,271.1 313.3,281.9 314.1,258.9 331.4,251.3" fill="#C5BBA3" />
<polygon points="309.7,246.3 331.4,251.3 314.1,258.9 292.3,253.8" fill="#E8E0CB" stroke="#E8E0CB" stroke-width="0.6"/>
<line x1="313.3" y1="280.9" x2="314.1" y2="259.9" stroke="#F5EEDC" stroke-width="1.8" stroke-linecap="round"/>
<line x1="309.1" y1="249.7" x2="316.9" y2="251.5" stroke="#8f8874" stroke-width="0.9" opacity="0.7"/>
<polygon points="315.7,282.5 347.5,289.9 348.3,266.7 326.4,261.6" fill="#D8CFB9" />
<polygon points="372.3,279.0 347.5,289.9 348.3,266.7 365.6,259.1" fill="#C5BBA3" />
<polygon points="343.7,254.0 365.6,259.1 348.3,266.7 326.4,261.6" fill="#E8E0CB" stroke="#E8E0CB" stroke-width="0.6"/>
<line x1="347.5" y1="288.9" x2="348.3" y2="267.7" stroke="#F5EEDC" stroke-width="1.8" stroke-linecap="round"/>
<line x1="343.2" y1="257.4" x2="351.0" y2="259.3" stroke="#8f8874" stroke-width="0.9" opacity="0.7"/>
<polygon points="350.0,290.5 416.9,306.1 417.5,282.6 360.7,269.4" fill="#393735" />
<polygon points="441.5,295.0 416.9,306.1 417.5,282.6 434.7,274.9" fill="#2E2C2B" />
<polygon points="377.9,261.7 434.7,274.9 417.5,282.6 360.7,269.4" fill="#42403E" stroke="#42403E" stroke-width="0.6"/>
<line x1="416.9" y1="305.1" x2="417.5" y2="283.6" stroke="#7d7a77" stroke-width="1.8" stroke-linecap="round"/>
<line x1="377.5" y1="265.2" x2="385.4" y2="267.0" stroke="#a8a5a0" stroke-width="0.9" opacity="0.7"/>
<polygon points="436.8,310.7 469.6,318.4 470.2,294.5 447.6,289.3" fill="#393735" />
<polygon points="494.1,307.2 469.6,318.4 470.2,294.5 487.3,286.7" fill="#2E2C2B" />
<polygon points="464.8,281.5 487.3,286.7 470.2,294.5 447.6,289.3" fill="#42403E" stroke="#42403E" stroke-width="0.6"/>
<line x1="469.6" y1="317.4" x2="470.2" y2="295.5" stroke="#7d7a77" stroke-width="1.8" stroke-linecap="round"/>
<line x1="464.4" y1="285.0" x2="472.5" y2="286.9" stroke="#a8a5a0" stroke-width="0.9" opacity="0.7"/>
<polygon points="472.1,319.0 505.1,326.7 505.6,302.6 482.9,297.3" fill="#393735" />
<polygon points="529.6,315.4 505.1,326.7 505.6,302.6 522.7,294.7" fill="#2E2C2B" />
<polygon points="500.0,289.5 522.7,294.7 505.6,302.6 482.9,297.3" fill="#42403E" stroke="#42403E" stroke-width="0.6"/>
<line x1="505.1" y1="325.7" x2="505.6" y2="303.6" stroke="#7d7a77" stroke-width="1.8" stroke-linecap="round"/>
<line x1="499.7" y1="293.1" x2="507.9" y2="294.9" stroke="#a8a5a0" stroke-width="0.9" opacity="0.7"/>
<polygon points="507.6,327.2 540.9,335.0 541.4,310.8 518.5,305.4" fill="#393735" />
<polygon points="565.3,323.6 540.9,335.0 541.4,310.8 558.4,302.8" fill="#2E2C2B" />
<polygon points="535.5,297.6 558.4,302.8 541.4,310.8 518.5,305.4" fill="#42403E" stroke="#42403E" stroke-width="0.6"/>
<line x1="540.9" y1="334.0" x2="541.4" y2="311.8" stroke="#7d7a77" stroke-width="1.8" stroke-linecap="round"/>
<line x1="535.3" y1="301.1" x2="543.5" y2="303.0" stroke="#a8a5a0" stroke-width="0.9" opacity="0.7"/>
<polygon points="543.4,335.6 577.0,343.4 577.4,319.0 554.3,313.6" fill="#393735" />
<polygon points="601.3,332.0 577.0,343.4 577.4,319.0 594.4,311.0" fill="#2E2C2B" />
<polygon points="571.3,305.7 594.4,311.0 577.4,319.0 554.3,313.6" fill="#42403E" stroke="#42403E" stroke-width="0.6"/>
<line x1="577.0" y1="342.4" x2="577.4" y2="320.0" stroke="#7d7a77" stroke-width="1.8" stroke-linecap="round"/>
<line x1="571.1" y1="309.3" x2="579.4" y2="311.2" stroke="#a8a5a0" stroke-width="0.9" opacity="0.7"/>
<polygon points="-56.1,213.1 -26.7,220.0 -25.4,200.7 -45.6,195.9" fill="#D8CFB9" />
<polygon points="-1.2,209.8 -26.7,220.0 -25.4,200.7 -7.5,193.5" fill="#C5BBA3" />
<polygon points="-27.8,188.8 -7.5,193.5 -25.4,200.7 -45.6,195.9" fill="#E8E0CB" stroke="#E8E0CB" stroke-width="0.6"/>
<line x1="-26.7" y1="219.0" x2="-25.4" y2="201.7" stroke="#F5EEDC" stroke-width="1.8" stroke-linecap="round"/>
<line x1="-28.8" y1="192.0" x2="-21.6" y2="193.7" stroke="#8f8874" stroke-width="0.9" opacity="0.7"/>
<polygon points="-24.4,220.5 5.2,227.5 6.5,208.0 -13.9,203.2" fill="#D8CFB9" />
<polygon points="30.7,217.2 5.2,227.5 6.5,208.0 24.3,200.8" fill="#C5BBA3" />
<polygon points="3.9,196.1 24.3,200.8 6.5,208.0 -13.9,203.2" fill="#E8E0CB" stroke="#E8E0CB" stroke-width="0.6"/>
<line x1="5.2" y1="226.5" x2="6.5" y2="209.0" stroke="#F5EEDC" stroke-width="1.8" stroke-linecap="round"/>
<line x1="2.9" y1="199.3" x2="10.2" y2="201.0" stroke="#8f8874" stroke-width="0.9" opacity="0.7"/>
<polygon points="7.5,228.0 37.3,235.1 38.6,215.4 18.0,210.6" fill="#D8CFB9" />
<polygon points="62.8,224.7 37.3,235.1 38.6,215.4 56.3,208.2" fill="#C5BBA3" />
<polygon points="35.8,203.4 56.3,208.2 38.6,215.4 18.0,210.6" fill="#E8E0CB" stroke="#E8E0CB" stroke-width="0.6"/>
<line x1="37.3" y1="234.1" x2="38.6" y2="216.4" stroke="#F5EEDC" stroke-width="1.8" stroke-linecap="round"/>
<line x1="34.8" y1="206.7" x2="42.2" y2="208.4" stroke="#8f8874" stroke-width="0.9" opacity="0.7"/>
<polygon points="39.6,235.6 69.7,242.7 70.9,222.9 50.2,218.0" fill="#D8CFB9" />
<polygon points="95.1,232.2 69.7,242.7 70.9,222.9 88.6,215.6" fill="#C5BBA3" />
<polygon points="67.9,210.8 88.6,215.6 70.9,222.9 50.2,218.0" fill="#E8E0CB" stroke="#E8E0CB" stroke-width="0.6"/>
<line x1="69.7" y1="241.7" x2="70.9" y2="223.9" stroke="#F5EEDC" stroke-width="1.8" stroke-linecap="round"/>
<line x1="67.0" y1="214.1" x2="74.4" y2="215.8" stroke="#8f8874" stroke-width="0.9" opacity="0.7"/>
<polygon points="72.0,243.2 102.3,250.4 103.5,230.4 82.6,225.5" fill="#D8CFB9" />
<polygon points="127.7,239.8 102.3,250.4 103.5,230.4 121.2,223.1" fill="#C5BBA3" />
<polygon points="100.3,218.2 121.2,223.1 103.5,230.4 82.6,225.5" fill="#E8E0CB" stroke="#E8E0CB" stroke-width="0.6"/>
<line x1="102.3" y1="249.4" x2="103.5" y2="231.4" stroke="#F5EEDC" stroke-width="1.8" stroke-linecap="round"/>
<line x1="99.4" y1="221.5" x2="106.9" y2="223.3" stroke="#8f8874" stroke-width="0.9" opacity="0.7"/>
<polygon points="104.6,250.9 135.2,258.1 136.3,238.0 115.3,233.1" fill="#D8CFB9" />
<polygon points="160.5,247.5 135.2,258.1 136.3,238.0 154.0,230.6" fill="#C5BBA3" />
<polygon points="132.9,225.7 154.0,230.6 136.3,238.0 115.3,233.1" fill="#E8E0CB" stroke="#E8E0CB" stroke-width="0.6"/>
<line x1="135.2" y1="257.1" x2="136.3" y2="239.0" stroke="#F5EEDC" stroke-width="1.8" stroke-linecap="round"/>
<line x1="132.1" y1="229.0" x2="139.7" y2="230.8" stroke="#8f8874" stroke-width="0.9" opacity="0.7"/>
<polygon points="137.5,258.6 168.4,265.9 169.4,245.7 148.2,240.7" fill="#D8CFB9" />
<polygon points="193.6,255.2 168.4,265.9 169.4,245.7 187.0,238.2" fill="#C5BBA3" />
<polygon points="165.8,233.3 187.0,238.2 169.4,245.7 148.2,240.7" fill="#E8E0CB" stroke="#E8E0CB" stroke-width="0.6"/>
<line x1="168.4" y1="264.9" x2="169.4" y2="246.7" stroke="#F5EEDC" stroke-width="1.8" stroke-linecap="round"/>
<line x1="165.0" y1="236.6" x2="172.6" y2="238.4" stroke="#8f8874" stroke-width="0.9" opacity="0.7"/>
<polygon points="170.7,266.4 201.8,273.8 202.7,253.4 181.4,248.3" fill="#D8CFB9" />
<polygon points="226.9,263.0 201.8,273.8 202.7,253.4 220.3,245.9" fill="#C5BBA3" />
<polygon points="199.0,240.9 220.3,245.9 202.7,253.4 181.4,248.3" fill="#E8E0CB" stroke="#E8E0CB" stroke-width="0.6"/>
<line x1="201.8" y1="272.8" x2="202.7" y2="254.4" stroke="#F5EEDC" stroke-width="1.8" stroke-linecap="round"/>
<line x1="198.2" y1="244.3" x2="205.9" y2="246.1" stroke="#8f8874" stroke-width="0.9" opacity="0.7"/>
<polygon points="204.1,274.3 235.4,281.7 236.3,261.1 214.8,256.1" fill="#D8CFB9" />
<polygon points="260.5,270.8 235.4,281.7 236.3,261.1 253.9,253.6" fill="#C5BBA3" />
<polygon points="232.4,248.5 253.9,253.6 236.3,261.1 214.8,256.1" fill="#E8E0CB" stroke="#E8E0CB" stroke-width="0.6"/>
<line x1="235.4" y1="280.7" x2="236.3" y2="262.1" stroke="#F5EEDC" stroke-width="1.8" stroke-linecap="round"/>
<line x1="231.7" y1="252.0" x2="239.4" y2="253.8" stroke="#8f8874" stroke-width="0.9" opacity="0.7"/>
<polygon points="237.8,282.2 269.3,289.7 270.2,269.0 248.5,263.9" fill="#D8CFB9" />
<polygon points="294.4,278.7 269.3,289.7 270.2,269.0 287.7,261.3" fill="#C5BBA3" />
<polygon points="266.0,256.3 287.7,261.3 270.2,269.0 248.5,263.9" fill="#E8E0CB" stroke="#E8E0CB" stroke-width="0.6"/>
<line x1="269.3" y1="288.7" x2="270.2" y2="270.0" stroke="#F5EEDC" stroke-width="1.8" stroke-linecap="round"/>
<line x1="265.4" y1="259.7" x2="273.2" y2="261.5" stroke="#8f8874" stroke-width="0.9" opacity="0.7"/>
<polygon points="271.7,290.2 303.5,297.7 304.3,276.8 282.5,271.7" fill="#D8CFB9" />
<polygon points="328.5,286.7 303.5,297.7 304.3,276.8 321.8,269.2" fill="#C5BBA3" />
<polygon points="300.0,264.1 321.8,269.2 304.3,276.8 282.5,271.7" fill="#E8E0CB" stroke="#E8E0CB" stroke-width="0.6"/>
<line x1="303.5" y1="296.7" x2="304.3" y2="277.8" stroke="#F5EEDC" stroke-width="1.8" stroke-linecap="round"/>
<line x1="299.4" y1="267.5" x2="307.2" y2="269.4" stroke="#8f8874" stroke-width="0.9" opacity="0.7"/>
<polygon points="305.9,298.3 338.0,305.8 338.7,284.8 316.7,279.6" fill="#D8CFB9" />
<polygon points="362.9,294.7 338.0,305.8 338.7,284.8 356.2,277.1" fill="#C5BBA3" />
<polygon points="334.1,271.9 356.2,277.1 338.7,284.8 316.7,279.6" fill="#E8E0CB" stroke="#E8E0CB" stroke-width="0.6"/>
<line x1="338.0" y1="304.8" x2="338.7" y2="285.8" stroke="#F5EEDC" stroke-width="1.8" stroke-linecap="round"/>
<line x1="333.6" y1="275.4" x2="341.5" y2="277.3" stroke="#8f8874" stroke-width="0.9" opacity="0.7"/>
<polygon points="340.4,306.4 390.2,318.1 390.9,296.9 351.2,287.5" fill="#D8CFB9" />
<polygon points="415.0,306.9 390.2,318.1 390.9,296.9 408.2,289.0" fill="#C5BBA3" />
<polygon points="368.6,279.8 408.2,289.0 390.9,296.9 351.2,287.5" fill="#E8E0CB" stroke="#E8E0CB" stroke-width="0.6"/>
<line x1="390.2" y1="317.1" x2="390.9" y2="297.9" stroke="#F5EEDC" stroke-width="1.8" stroke-linecap="round"/>
<line x1="368.1" y1="283.3" x2="376.1" y2="285.2" stroke="#8f8874" stroke-width="0.9" opacity="0.7"/>
<polygon points="410.2,322.8 443.0,330.5 443.6,309.0 421.0,303.7" fill="#D8CFB9" />
<polygon points="467.8,319.2 443.0,330.5 443.6,309.0 460.9,301.1" fill="#C5BBA3" />
<polygon points="438.4,295.8 460.9,301.1 443.6,309.0 421.0,303.7" fill="#E8E0CB" stroke="#E8E0CB" stroke-width="0.6"/>
<line x1="443.0" y1="329.5" x2="443.6" y2="310.0" stroke="#F5EEDC" stroke-width="1.8" stroke-linecap="round"/>
<line x1="438.0" y1="299.4" x2="446.1" y2="301.3" stroke="#8f8874" stroke-width="0.9" opacity="0.7"/>
<polygon points="445.5,331.1 478.6,338.9 479.1,317.2 456.4,311.9" fill="#D8CFB9" />
<polygon points="503.3,327.5 478.6,338.9 479.1,317.2 496.4,309.2" fill="#C5BBA3" />
<polygon points="473.6,303.9 496.4,309.2 479.1,317.2 456.4,311.9" fill="#E8E0CB" stroke="#E8E0CB" stroke-width="0.6"/>
<line x1="478.6" y1="337.9" x2="479.1" y2="318.2" stroke="#F5EEDC" stroke-width="1.8" stroke-linecap="round"/>
<line x1="473.3" y1="307.5" x2="481.5" y2="309.4" stroke="#8f8874" stroke-width="0.9" opacity="0.7"/>
<polygon points="481.1,339.5 514.4,347.4 514.9,325.5 492.0,320.1" fill="#D8CFB9" />
<polygon points="539.1,335.9 514.4,347.4 514.9,325.5 532.1,317.5" fill="#C5BBA3" />
<polygon points="509.2,312.1 532.1,317.5 514.9,325.5 492.0,320.1" fill="#E8E0CB" stroke="#E8E0CB" stroke-width="0.6"/>
<line x1="514.4" y1="346.4" x2="514.9" y2="326.5" stroke="#F5EEDC" stroke-width="1.8" stroke-linecap="round"/>
<line x1="508.9" y1="315.7" x2="517.2" y2="317.7" stroke="#8f8874" stroke-width="0.9" opacity="0.7"/>
<polygon points="-44.1,233.5 -14.4,240.6 -13.1,222.3 -33.5,217.5" fill="#D8CFB9" />
<polygon points="11.3,230.2 -14.4,240.6 -13.1,222.3 4.9,215.0" fill="#C5BBA3" />
<polygon points="-15.6,210.2 4.9,215.0 -13.1,222.3 -33.5,217.5" fill="#E8E0CB" stroke="#E8E0CB" stroke-width="0.6"/>
<line x1="-14.4" y1="239.6" x2="-13.1" y2="223.3" stroke="#F5EEDC" stroke-width="1.8" stroke-linecap="round"/>
<line x1="-16.6" y1="213.5" x2="-9.3" y2="215.2" stroke="#8f8874" stroke-width="0.9" opacity="0.7"/>
<polygon points="-12.1,241.1 17.9,248.2 19.1,229.8 -1.5,224.9" fill="#D8CFB9" />
<polygon points="43.5,237.7 17.9,248.2 19.1,229.8 37.0,222.5" fill="#C5BBA3" />
<polygon points="16.4,217.6 37.0,222.5 19.1,229.8 -1.5,224.9" fill="#E8E0CB" stroke="#E8E0CB" stroke-width="0.6"/>
<line x1="17.9" y1="247.2" x2="19.1" y2="230.8" stroke="#F5EEDC" stroke-width="1.8" stroke-linecap="round"/>
<line x1="15.4" y1="220.9" x2="22.8" y2="222.7" stroke="#8f8874" stroke-width="0.9" opacity="0.7"/>
<polygon points="20.1,248.8 50.3,256.0 51.6,237.4 30.8,232.5" fill="#D8CFB9" />
<polygon points="75.9,245.4 50.3,256.0 51.6,237.4 69.4,230.0" fill="#C5BBA3" />
<polygon points="48.7,225.1 69.4,230.0 51.6,237.4 30.8,232.5" fill="#E8E0CB" stroke="#E8E0CB" stroke-width="0.6"/>
<line x1="50.3" y1="255.0" x2="51.6" y2="238.4" stroke="#F5EEDC" stroke-width="1.8" stroke-linecap="round"/>
<line x1="47.7" y1="228.5" x2="55.2" y2="230.2" stroke="#8f8874" stroke-width="0.9" opacity="0.7"/>
<polygon points="52.6,256.5 83.1,263.7 84.3,245.0 63.3,240.1" fill="#D8CFB9" />
<polygon points="108.6,253.1 83.1,263.7 84.3,245.0 102.1,237.6" fill="#C5BBA3" />
<polygon points="81.2,232.7 102.1,237.6 84.3,245.0 63.3,240.1" fill="#E8E0CB" stroke="#E8E0CB" stroke-width="0.6"/>
<line x1="83.1" y1="262.7" x2="84.3" y2="246.0" stroke="#F5EEDC" stroke-width="1.8" stroke-linecap="round"/>
<line x1="80.3" y1="236.0" x2="87.8" y2="237.8" stroke="#8f8874" stroke-width="0.9" opacity="0.7"/>
<polygon points="85.4,264.3 116.1,271.6 117.2,252.7 96.1,247.7" fill="#D8CFB9" />
<polygon points="141.6,260.8 116.1,271.6 117.2,252.7 135.0,245.2" fill="#C5BBA3" />
<polygon points="113.9,240.3 135.0,245.2 117.2,252.7 96.1,247.7" fill="#E8E0CB" stroke="#E8E0CB" stroke-width="0.6"/>
<line x1="116.1" y1="270.6" x2="117.2" y2="253.7" stroke="#F5EEDC" stroke-width="1.8" stroke-linecap="round"/>
<line x1="113.0" y1="243.6" x2="120.6" y2="245.4" stroke="#8f8874" stroke-width="0.9" opacity="0.7"/>
<polygon points="118.4,272.1 149.3,279.5 150.4,260.5 129.1,255.4" fill="#D8CFB9" />
<polygon points="174.8,268.7 149.3,279.5 150.4,260.5 168.2,252.9" fill="#C5BBA3" />
<polygon points="146.9,247.9 168.2,252.9 150.4,260.5 129.1,255.4" fill="#E8E0CB" stroke="#E8E0CB" stroke-width="0.6"/>
<line x1="149.3" y1="278.5" x2="150.4" y2="261.5" stroke="#F5EEDC" stroke-width="1.8" stroke-linecap="round"/>
<line x1="146.1" y1="251.3" x2="153.7" y2="253.1" stroke="#8f8874" stroke-width="0.9" opacity="0.7"/>
<polygon points="151.7,280.0 182.8,287.4 183.9,268.3 162.4,263.2" fill="#D8CFB9" />
<polygon points="208.2,276.5 182.8,287.4 183.9,268.3 201.6,260.7" fill="#C5BBA3" />
<polygon points="180.2,255.6 201.6,260.7 183.9,268.3 162.4,263.2" fill="#E8E0CB" stroke="#E8E0CB" stroke-width="0.6"/>
<line x1="182.8" y1="286.4" x2="183.9" y2="269.3" stroke="#F5EEDC" stroke-width="1.8" stroke-linecap="round"/>
<line x1="179.4" y1="259.1" x2="187.1" y2="260.9" stroke="#8f8874" stroke-width="0.9" opacity="0.7"/>
<polygon points="185.2,288.0 216.6,295.4 217.6,276.2 196.0,271.0" fill="#D8CFB9" />
<polygon points="242.0,284.5 216.6,295.4 217.6,276.2 235.3,268.5" fill="#C5BBA3" />
<polygon points="213.7,263.4 235.3,268.5 217.6,276.2 196.0,271.0" fill="#E8E0CB" stroke="#E8E0CB" stroke-width="0.6"/>
<line x1="216.6" y1="294.4" x2="217.6" y2="277.2" stroke="#F5EEDC" stroke-width="1.8" stroke-linecap="round"/>
<line x1="213.0" y1="266.9" x2="220.7" y2="268.7" stroke="#8f8874" stroke-width="0.9" opacity="0.7"/>
<polygon points="219.0,296.0 250.7,303.5 251.6,284.1 229.8,278.9" fill="#D8CFB9" />
<polygon points="276.0,292.5 250.7,303.5 251.6,284.1 269.2,276.4" fill="#C5BBA3" />
<polygon points="247.5,271.3 269.2,276.4 251.6,284.1 229.8,278.9" fill="#E8E0CB" stroke="#E8E0CB" stroke-width="0.6"/>
<line x1="250.7" y1="302.5" x2="251.6" y2="285.1" stroke="#F5EEDC" stroke-width="1.8" stroke-linecap="round"/>
<line x1="246.8" y1="274.7" x2="254.6" y2="276.6" stroke="#8f8874" stroke-width="0.9" opacity="0.7"/>
<polygon points="253.1,304.1 285.0,311.7 285.8,292.1 263.9,286.9" fill="#D8CFB9" />
<polygon points="310.2,300.6 285.0,311.7 285.8,292.1 303.5,284.3" fill="#C5BBA3" />
<polygon points="281.5,279.2 303.5,284.3 285.8,292.1 263.9,286.9" fill="#E8E0CB" stroke="#E8E0CB" stroke-width="0.6"/>
<line x1="285.0" y1="310.7" x2="285.8" y2="293.1" stroke="#F5EEDC" stroke-width="1.8" stroke-linecap="round"/>
<line x1="280.9" y1="282.7" x2="288.8" y2="284.5" stroke="#8f8874" stroke-width="0.9" opacity="0.7"/>
<polygon points="287.4,312.3 363.2,330.3 363.9,310.4 298.2,294.8" fill="#EC6923" />
<polygon points="388.3,319.0 363.2,330.3 363.9,310.4 381.5,302.5" fill="#D85817" />
<polygon points="315.9,287.0 381.5,302.5 363.9,310.4 298.2,294.8" fill="#F27A30" stroke="#F27A30" stroke-width="0.6"/>
<line x1="363.2" y1="329.3" x2="363.9" y2="311.4" stroke="#F9A36A" stroke-width="1.8" stroke-linecap="round"/>
<line x1="315.3" y1="290.6" x2="323.2" y2="292.4" stroke="#b6461a" stroke-width="0.9" opacity="0.7"/>
<polygon points="383.2,335.0 416.1,342.8 416.8,322.6 394.2,317.3" fill="#D8CFB9" />
<polygon points="441.1,331.4 416.1,342.8 416.8,322.6 434.3,314.7" fill="#C5BBA3" />
<polygon points="411.7,309.3 434.3,314.7 416.8,322.6 394.2,317.3" fill="#E8E0CB" stroke="#E8E0CB" stroke-width="0.6"/>
<line x1="416.1" y1="341.8" x2="416.8" y2="323.6" stroke="#F5EEDC" stroke-width="1.8" stroke-linecap="round"/>
<line x1="411.2" y1="312.9" x2="419.3" y2="314.9" stroke="#8f8874" stroke-width="0.9" opacity="0.7"/>
<polygon points="418.6,343.4 451.8,351.3 452.4,330.9 429.6,325.5" fill="#D8CFB9" />
<polygon points="476.7,339.8 451.8,351.3 452.4,330.9 469.8,322.9" fill="#C5BBA3" />
<polygon points="447.0,317.5 469.8,322.9 452.4,330.9 429.6,325.5" fill="#E8E0CB" stroke="#E8E0CB" stroke-width="0.6"/>
<line x1="451.8" y1="350.3" x2="452.4" y2="331.9" stroke="#F5EEDC" stroke-width="1.8" stroke-linecap="round"/>
<line x1="446.6" y1="321.2" x2="454.8" y2="323.1" stroke="#8f8874" stroke-width="0.9" opacity="0.7"/>
<polygon points="454.3,351.9 487.7,359.8 488.2,339.3 465.2,333.9" fill="#D8CFB9" />
<polygon points="512.6,348.2 487.7,359.8 488.2,339.3 505.6,331.2" fill="#C5BBA3" />
<polygon points="482.7,325.8 505.6,331.2 488.2,339.3 465.2,333.9" fill="#E8E0CB" stroke="#E8E0CB" stroke-width="0.6"/>
<line x1="487.7" y1="358.8" x2="488.2" y2="340.3" stroke="#F5EEDC" stroke-width="1.8" stroke-linecap="round"/>
<line x1="482.3" y1="329.5" x2="490.6" y2="331.4" stroke="#8f8874" stroke-width="0.9" opacity="0.7"/>
<polygon points="490.2,360.4 523.9,368.4 524.4,347.8 501.2,342.3" fill="#393735" />
<polygon points="575.2,344.3 523.9,368.4 524.4,347.8 568.2,327.2" fill="#2E2C2B" />
<polygon points="545.1,321.8 568.2,327.2 524.4,347.8 501.2,342.3" fill="#42403E" stroke="#42403E" stroke-width="0.6"/>
<line x1="523.9" y1="367.4" x2="524.4" y2="348.8" stroke="#7d7a77" stroke-width="1.8" stroke-linecap="round"/>
<line x1="544.9" y1="325.4" x2="553.2" y2="327.4" stroke="#a8a5a0" stroke-width="0.9" opacity="0.7"/>
<polygon points="-56.0,248.6 -26.1,255.8 -24.8,237.8 -45.4,232.9" fill="#D8CFB9" />
<polygon points="-0.2,245.2 -26.1,255.8 -24.8,237.8 -6.7,230.4" fill="#C5BBA3" />
<polygon points="-27.3,225.5 -6.7,230.4 -24.8,237.8 -45.4,232.9" fill="#E8E0CB" stroke="#E8E0CB" stroke-width="0.6"/>
<line x1="-26.1" y1="254.8" x2="-24.8" y2="238.8" stroke="#F5EEDC" stroke-width="1.8" stroke-linecap="round"/>
<line x1="-28.3" y1="228.9" x2="-20.9" y2="230.6" stroke="#8f8874" stroke-width="0.9" opacity="0.7"/>
<polygon points="-23.9,256.3 6.3,263.5 7.6,245.4 -13.2,240.5" fill="#D8CFB9" />
<polygon points="32.1,252.9 6.3,263.5 7.6,245.4 25.6,238.0" fill="#C5BBA3" />
<polygon points="4.9,233.1 25.6,238.0 7.6,245.4 -13.2,240.5" fill="#E8E0CB" stroke="#E8E0CB" stroke-width="0.6"/>
<line x1="6.3" y1="262.5" x2="7.6" y2="246.4" stroke="#F5EEDC" stroke-width="1.8" stroke-linecap="round"/>
<line x1="3.9" y1="236.4" x2="11.3" y2="238.2" stroke="#8f8874" stroke-width="0.9" opacity="0.7"/>
<polygon points="8.6,264.1 38.9,271.4 40.2,253.1 19.3,248.1" fill="#D8CFB9" />
<polygon points="64.8,260.6 38.9,271.4 40.2,253.1 58.2,245.6" fill="#C5BBA3" />
<polygon points="37.3,240.7 58.2,245.6 40.2,253.1 19.3,248.1" fill="#E8E0CB" stroke="#E8E0CB" stroke-width="0.6"/>
<line x1="38.9" y1="270.4" x2="40.2" y2="254.1" stroke="#F5EEDC" stroke-width="1.8" stroke-linecap="round"/>
<line x1="36.3" y1="244.0" x2="43.9" y2="245.8" stroke="#8f8874" stroke-width="0.9" opacity="0.7"/>
<polygon points="41.2,271.9 71.9,279.2 73.0,260.8 52.0,255.8" fill="#D8CFB9" />
<polygon points="97.6,268.5 71.9,279.2 73.0,260.8 91.0,253.3" fill="#C5BBA3" />
<polygon points="70.0,248.3 91.0,253.3 73.0,260.8 52.0,255.8" fill="#E8E0CB" stroke="#E8E0CB" stroke-width="0.6"/>
<line x1="71.9" y1="278.2" x2="73.0" y2="261.8" stroke="#F5EEDC" stroke-width="1.8" stroke-linecap="round"/>
<line x1="69.1" y1="251.7" x2="76.6" y2="253.5" stroke="#8f8874" stroke-width="0.9" opacity="0.7"/>
<polygon points="74.2,279.8 105.0,287.2 106.2,268.7 84.9,263.6" fill="#D8CFB9" />
<polygon points="130.7,276.3 105.0,287.2 106.2,268.7 124.1,261.1" fill="#C5BBA3" />
<polygon points="102.9,256.0 124.1,261.1 106.2,268.7 84.9,263.6" fill="#E8E0CB" stroke="#E8E0CB" stroke-width="0.6"/>
<line x1="105.0" y1="286.2" x2="106.2" y2="269.7" stroke="#F5EEDC" stroke-width="1.8" stroke-linecap="round"/>
<line x1="102.0" y1="259.5" x2="109.7" y2="261.3" stroke="#8f8874" stroke-width="0.9" opacity="0.7"/>
<polygon points="107.4,287.7 138.5,295.2 139.6,276.5 118.2,271.4" fill="#D8CFB9" />
<polygon points="164.1,284.3 138.5,295.2 139.6,276.5 157.5,268.9" fill="#C5BBA3" />
<polygon points="136.1,263.8 157.5,268.9 139.6,276.5 118.2,271.4" fill="#E8E0CB" stroke="#E8E0CB" stroke-width="0.6"/>
<line x1="138.5" y1="294.2" x2="139.6" y2="277.5" stroke="#F5EEDC" stroke-width="1.8" stroke-linecap="round"/>
<line x1="135.3" y1="267.2" x2="142.9" y2="269.1" stroke="#8f8874" stroke-width="0.9" opacity="0.7"/>
<polygon points="140.8,295.8 172.2,303.3 173.2,284.5 151.6,279.3" fill="#D8CFB9" />
<polygon points="197.8,292.3 172.2,303.3 173.2,284.5 191.1,276.8" fill="#C5BBA3" />
<polygon points="169.6,271.6 191.1,276.8 173.2,284.5 151.6,279.3" fill="#E8E0CB" stroke="#E8E0CB" stroke-width="0.6"/>
<line x1="172.2" y1="302.3" x2="173.2" y2="285.5" stroke="#F5EEDC" stroke-width="1.8" stroke-linecap="round"/>
<line x1="168.8" y1="275.1" x2="176.5" y2="277.0" stroke="#8f8874" stroke-width="0.9" opacity="0.7"/>
<polygon points="174.5,303.8 206.1,311.4 207.1,292.4 185.4,287.2" fill="#D8CFB9" />
<polygon points="231.7,300.3 206.1,311.4 207.1,292.4 225.0,284.7" fill="#C5BBA3" />
<polygon points="203.3,279.5 225.0,284.7 207.1,292.4 185.4,287.2" fill="#E8E0CB" stroke="#E8E0CB" stroke-width="0.6"/>
<line x1="206.1" y1="310.4" x2="207.1" y2="293.4" stroke="#F5EEDC" stroke-width="1.8" stroke-linecap="round"/>
<line x1="202.5" y1="283.0" x2="210.3" y2="284.9" stroke="#8f8874" stroke-width="0.9" opacity="0.7"/>
<polygon points="208.5,312.0 240.4,319.6 241.3,300.5 219.4,295.3" fill="#D8CFB9" />
<polygon points="265.9,308.4 240.4,319.6 241.3,300.5 259.1,292.7" fill="#C5BBA3" />
<polygon points="237.2,287.5 259.1,292.7 241.3,300.5 219.4,295.3" fill="#E8E0CB" stroke="#E8E0CB" stroke-width="0.6"/>
<line x1="240.4" y1="318.6" x2="241.3" y2="301.5" stroke="#F5EEDC" stroke-width="1.8" stroke-linecap="round"/>
<line x1="236.5" y1="291.0" x2="244.4" y2="292.9" stroke="#8f8874" stroke-width="0.9" opacity="0.7"/>
<polygon points="242.8,320.2 300.9,334.1 301.8,314.8 253.7,303.3" fill="#393735" />
<polygon points="326.4,322.8 300.9,334.1 301.8,314.8 319.5,306.9" fill="#2E2C2B" />
<polygon points="271.5,295.5 319.5,306.9 301.8,314.8 253.7,303.3" fill="#42403E" stroke="#42403E" stroke-width="0.6"/>
<line x1="300.9" y1="333.1" x2="301.8" y2="315.8" stroke="#7d7a77" stroke-width="1.8" stroke-linecap="round"/>
<line x1="270.8" y1="299.0" x2="278.8" y2="300.9" stroke="#a8a5a0" stroke-width="0.9" opacity="0.7"/>
<polygon points="356.0,347.3 389.0,355.2 389.7,335.5 367.0,330.0" fill="#D8CFB9" />
<polygon points="414.2,343.7 389.0,355.2 389.7,335.5 407.3,327.4" fill="#C5BBA3" />
<polygon points="384.7,322.0 407.3,327.4 389.7,335.5 367.0,330.0" fill="#E8E0CB" stroke="#E8E0CB" stroke-width="0.6"/>
<line x1="389.0" y1="354.2" x2="389.7" y2="336.5" stroke="#F5EEDC" stroke-width="1.8" stroke-linecap="round"/>
<line x1="384.2" y1="325.7" x2="392.3" y2="327.6" stroke="#8f8874" stroke-width="0.9" opacity="0.7"/>
<polygon points="391.5,355.8 424.7,363.8 425.3,343.9 402.5,338.4" fill="#D8CFB9" />
<polygon points="449.9,352.2 424.7,363.8 425.3,343.9 442.9,335.7" fill="#C5BBA3" />
<polygon points="420.1,330.3 442.9,335.7 425.3,343.9 402.5,338.4" fill="#E8E0CB" stroke="#E8E0CB" stroke-width="0.6"/>
<line x1="424.7" y1="362.8" x2="425.3" y2="344.9" stroke="#F5EEDC" stroke-width="1.8" stroke-linecap="round"/>
<line x1="419.7" y1="334.0" x2="427.9" y2="335.9" stroke="#8f8874" stroke-width="0.9" opacity="0.7"/>
<polygon points="427.2,364.4 460.7,372.4 461.3,352.3 438.2,346.8" fill="#D8CFB9" />
<polygon points="485.8,360.7 460.7,372.4 461.3,352.3 478.8,344.1" fill="#C5BBA3" />
<polygon points="455.8,338.7 478.8,344.1 461.3,352.3 438.2,346.8" fill="#E8E0CB" stroke="#E8E0CB" stroke-width="0.6"/>
<line x1="460.7" y1="371.4" x2="461.3" y2="353.3" stroke="#F5EEDC" stroke-width="1.8" stroke-linecap="round"/>
<line x1="455.5" y1="342.4" x2="463.7" y2="344.3" stroke="#8f8874" stroke-width="0.9" opacity="0.7"/>
<polygon points="314.1,339.5 346.7,347.4 347.5,327.8 325.0,322.4" fill="#EC6923" />
<polygon points="372.1,335.9 346.7,347.4 347.5,327.8 365.2,319.8" fill="#D85817" />
<polygon points="342.8,314.4 365.2,319.8 347.5,327.8 325.0,322.4" fill="#F27A30" stroke="#F27A30" stroke-width="0.6"/>
<line x1="346.7" y1="346.4" x2="347.5" y2="328.8" stroke="#F9A36A" stroke-width="1.8" stroke-linecap="round"/>
<line x1="342.2" y1="318.0" x2="350.3" y2="320.0" stroke="#b6461a" stroke-width="0.9" opacity="0.7"/>
<polygon points="-68.1,263.9 135.9,313.2 137.0,294.2 -57.4,247.3" fill="#EC6923" />
<polygon points="161.8,302.1 135.9,313.2 137.0,294.2 155.1,286.4" fill="#D85817" />
<polygon points="-39.1,239.9 155.1,286.4 137.0,294.2 -57.4,247.3" fill="#F27A30" stroke="#F27A30" stroke-width="0.6"/>
<line x1="135.9" y1="312.2" x2="137.0" y2="295.2" stroke="#F9A36A" stroke-width="1.8" stroke-linecap="round"/>
<line x1="-40.2" y1="243.2" x2="-32.8" y2="245.0" stroke="#b6461a" stroke-width="0.9" opacity="0.7"/>
<polygon points="138.3,313.8 169.9,321.4 170.9,301.9 149.2,296.7" fill="#393735" />
<polygon points="195.7,310.2 169.9,321.4 170.9,301.9 188.9,294.1" fill="#2E2C2B" />
<polygon points="167.2,288.9 188.9,294.1 170.9,301.9 149.2,296.7" fill="#42403E" stroke="#42403E" stroke-width="0.6"/>
<line x1="169.9" y1="320.4" x2="170.9" y2="302.9" stroke="#7d7a77" stroke-width="1.8" stroke-linecap="round"/>
<line x1="166.4" y1="292.4" x2="174.2" y2="294.3" stroke="#a8a5a0" stroke-width="0.9" opacity="0.7"/>
<polygon points="172.2,322.0 204.1,329.7 205.1,310.1 183.2,304.8" fill="#393735" />
<polygon points="229.9,318.4 204.1,329.7 205.1,310.1 223.1,302.2" fill="#2E2C2B" />
<polygon points="201.2,296.9 223.1,302.2 205.1,310.1 183.2,304.8" fill="#42403E" stroke="#42403E" stroke-width="0.6"/>
<line x1="204.1" y1="328.7" x2="205.1" y2="311.1" stroke="#7d7a77" stroke-width="1.8" stroke-linecap="round"/>
<line x1="200.4" y1="300.5" x2="208.3" y2="302.4" stroke="#a8a5a0" stroke-width="0.9" opacity="0.7"/>
<polygon points="206.5,330.3 238.6,338.0 239.5,318.3 217.4,312.9" fill="#393735" />
<polygon points="264.3,326.7 238.6,338.0 239.5,318.3 257.5,310.3" fill="#2E2C2B" />
<polygon points="235.4,305.0 257.5,310.3 239.5,318.3 217.4,312.9" fill="#42403E" stroke="#42403E" stroke-width="0.6"/>
<line x1="238.6" y1="337.0" x2="239.5" y2="319.3" stroke="#7d7a77" stroke-width="1.8" stroke-linecap="round"/>
<line x1="234.7" y1="308.6" x2="242.7" y2="310.5" stroke="#a8a5a0" stroke-width="0.9" opacity="0.7"/>
<polygon points="364.0,368.4 397.3,376.4 398.0,355.9 375.1,350.4" fill="#D8CFB9" />
<polygon points="422.8,364.7 397.3,376.4 398.0,355.9 415.8,347.7" fill="#C5BBA3" />
<polygon points="392.9,342.2 415.8,347.7 398.0,355.9 375.1,350.4" fill="#E8E0CB" stroke="#E8E0CB" stroke-width="0.6"/>
<line x1="397.3" y1="375.4" x2="398.0" y2="356.9" stroke="#F5EEDC" stroke-width="1.8" stroke-linecap="round"/>
<line x1="392.5" y1="345.9" x2="400.7" y2="347.9" stroke="#8f8874" stroke-width="0.9" opacity="0.7"/>
<polygon points="399.8,377.0 433.4,385.1 434.0,364.5 411.0,358.9" fill="#D8CFB9" />
<polygon points="458.8,373.3 433.4,385.1 434.0,364.5 451.8,356.2" fill="#C5BBA3" />
<polygon points="428.7,350.7 451.8,356.2 434.0,364.5 411.0,358.9" fill="#E8E0CB" stroke="#E8E0CB" stroke-width="0.6"/>
<line x1="433.4" y1="384.1" x2="434.0" y2="365.5" stroke="#F5EEDC" stroke-width="1.8" stroke-linecap="round"/>
<line x1="428.3" y1="354.4" x2="436.6" y2="356.4" stroke="#8f8874" stroke-width="0.9" opacity="0.7"/>
<polygon points="435.9,385.8 469.8,393.9 470.4,373.1 447.1,367.5" fill="#EC6923" />
<polygon points="522.0,369.3 469.8,393.9 470.4,373.1 515.0,352.1" fill="#D85817" />
<polygon points="491.8,346.6 515.0,352.1 470.4,373.1 447.1,367.5" fill="#F27A30" stroke="#F27A30" stroke-width="0.6"/>
<line x1="469.8" y1="392.9" x2="470.4" y2="374.1" stroke="#F9A36A" stroke-width="1.8" stroke-linecap="round"/>
<line x1="491.5" y1="350.3" x2="499.9" y2="352.3" stroke="#b6461a" stroke-width="0.9" opacity="0.7"/>
<polygon points="251.6,343.5 284.0,351.3 284.9,331.3 262.6,325.9" fill="#EC6923" />
<polygon points="309.7,339.8 284.0,351.3 284.9,331.3 302.8,323.3" fill="#D85817" />
<polygon points="280.5,317.9 302.8,323.3 284.9,331.3 262.6,325.9" fill="#F27A30" stroke="#F27A30" stroke-width="0.6"/>
<line x1="284.0" y1="350.3" x2="284.9" y2="332.3" stroke="#F9A36A" stroke-width="1.8" stroke-linecap="round"/>
<line x1="279.9" y1="321.5" x2="287.9" y2="323.5" stroke="#b6461a" stroke-width="0.9" opacity="0.7"/>
<polygon points="286.5,351.9 319.2,359.8 320.0,339.7 297.5,334.2" fill="#EC6923" />
<polygon points="344.8,348.3 319.2,359.8 320.0,339.7 337.9,331.6" fill="#D85817" />
<polygon points="315.4,326.2 337.9,331.6 320.0,339.7 297.5,334.2" fill="#F27A30" stroke="#F27A30" stroke-width="0.6"/>
<line x1="319.2" y1="358.8" x2="320.0" y2="340.7" stroke="#F9A36A" stroke-width="1.8" stroke-linecap="round"/>
<line x1="314.8" y1="329.8" x2="322.9" y2="331.8" stroke="#b6461a" stroke-width="0.9" opacity="0.7"/>
<polygon points="321.7,360.4 354.7,368.4 355.4,348.1 332.7,342.6" fill="#EC6923" />
<polygon points="380.2,356.8 354.7,368.4 355.4,348.1 373.3,339.9" fill="#D85817" />
<polygon points="350.6,334.5 373.3,339.9 355.4,348.1 332.7,342.6" fill="#F27A30" stroke="#F27A30" stroke-width="0.6"/>
<line x1="354.7" y1="367.4" x2="355.4" y2="349.1" stroke="#F9A36A" stroke-width="1.8" stroke-linecap="round"/>
<line x1="350.1" y1="338.2" x2="358.2" y2="340.1" stroke="#b6461a" stroke-width="0.9" opacity="0.7"/>
<defs><linearGradient id="gbn" x1="0" y1="0" x2="0" y2="1"><stop offset="0" stop-color="#55585b"/><stop offset="1" stop-color="#4a4c4e"/></linearGradient></defs>
<polygon fill="url(#gbn)" points="123.0,12.0 210.0,12.0 223.0,20.0 223.0,122.7 211.0,130.7 123.7,130.7 109.0,117.3 109.0,22.7"/>
<polygon fill="url(#gbn)" points="376.0,120.0 494.0,120.0 486.0,128.0 384.0,128.0"/>
<polygon fill="url(#gbn)" points="524.0,14.0 660.0,14.0 666.0,21.0 518.0,21.0"/>
<polygon fill="url(#gbn)" points="968.7,20.0 972.0,14.7 1066.7,14.7 1079.3,25.3 1079.3,45.3 1083.3,56.0 1083.3,81.3 1081.3,93.3 1081.3,117.3 1068.0,130.0 980.0,130.0 968.7,122.7"/>
<polygon fill="#292929" stroke="#d4d4d4" stroke-width="1.6" stroke-linejoin="miter" points="128.3,20.7 1060.0,20.7 1075.3,32.7 1075.3,46.7 1081.3,56.0 1081.3,81.3 1075.3,92.0 1075.3,113.3 1063.3,122.0 131.7,122.0 118.5,113.3 118.5,90.7 107.7,80.0 107.7,53.3 117.0,46.7 117.0,30.7"/>
<rect x="128" y="27" width="940" height="89" fill="#262626"/>
<text y="95.2" font-family="'Liberation Sans', sans-serif" font-weight="700" font-size="66" xml:space="preserve" fill="#E8711C" stroke="#E8711C" stroke-width="8.4" stroke-linejoin="round"><tspan x="192.0" textLength="235.3" lengthAdjust="spacingAndGlyphs">GASKET</tspan> <tspan x="444.8" textLength="206.1" lengthAdjust="spacingAndGlyphs">MOUNT</tspan> <tspan x="668.5" textLength="336.5" lengthAdjust="spacingAndGlyphs">STRUCTURE</tspan></text>
<text y="95.2" font-family="'Liberation Sans', sans-serif" font-weight="700" font-size="66" xml:space="preserve" fill="#fffdf7" stroke="#fffdf7" stroke-width="0.5" stroke-linejoin="round"><tspan x="192.0" textLength="235.3" lengthAdjust="spacingAndGlyphs">GASKET</tspan> <tspan x="444.8" textLength="206.1" lengthAdjust="spacingAndGlyphs">MOUNT</tspan> <tspan x="668.5" textLength="336.5" lengthAdjust="spacingAndGlyphs">STRUCTURE</tspan></text>
<defs><clipPath id="cpo"><polygon points="0,0 622.5,0 306,1200 0,1200"/></clipPath><clipPath id="cpc"><polygon points="622.5,0 1200,0 1200,1200 306,1200"/></clipPath></defs><g clip-path="url(#cpo)"><text y="170.3" font-family="'Liberation Sans', sans-serif" font-size="31" fill="#1b1412" xml:space="preserve" stroke="#D75E2D" stroke-width="0.55"><tspan x="83.5" textLength="72.0" lengthAdjust="spacingAndGlyphs">Make</tspan> <tspan x="165.2" textLength="45.3" lengthAdjust="spacingAndGlyphs">the</tspan> <tspan x="220.2" textLength="90.3" lengthAdjust="spacingAndGlyphs">Whole</tspan> <tspan x="318.5" textLength="127.0" lengthAdjust="spacingAndGlyphs">Structure</tspan> <tspan x="455.2" textLength="88.6" lengthAdjust="spacingAndGlyphs">Firmly,</tspan> <tspan x="556.8" textLength="97.0" lengthAdjust="spacingAndGlyphs">Reduce</tspan> <tspan x="666.8" textLength="92.0" lengthAdjust="spacingAndGlyphs">Hollow</tspan> <tspan x="770.2" textLength="163.6" lengthAdjust="spacingAndGlyphs">Sound,More</tspan> <tspan x="943.5" textLength="170.3" lengthAdjust="spacingAndGlyphs">Comfortable</tspan></text></g><g clip-path="url(#cpc)"><text y="170.3" font-family="'Liberation Sans', sans-serif" font-size="31" fill="#1b1412" xml:space="preserve" stroke="#F8E8D1" stroke-width="0.55"><tspan x="83.5" textLength="72.0" lengthAdjust="spacingAndGlyphs">Make</tspan> <tspan x="165.2" textLength="45.3" lengthAdjust="spacingAndGlyphs">the</tspan> <tspan x="220.2" textLength="90.3" lengthAdjust="spacingAndGlyphs">Whole</tspan> <tspan x="318.5" textLength="127.0" lengthAdjust="spacingAndGlyphs">Structure</tspan> <tspan x="455.2" textLength="88.6" lengthAdjust="spacingAndGlyphs">Firmly,</tspan> <tspan x="556.8" textLength="97.0" lengthAdjust="spacingAndGlyphs">Reduce</tspan> <tspan x="666.8" textLength="92.0" lengthAdjust="spacingAndGlyphs">Hollow</tspan> <tspan x="770.2" textLength="163.6" lengthAdjust="spacingAndGlyphs">Sound,More</tspan> <tspan x="943.5" textLength="170.3" lengthAdjust="spacingAndGlyphs">Comfortable</tspan></text></g>
<text x="888" y="296" font-family="'Liberation Sans', sans-serif" font-size="28" textLength="142" lengthAdjust="spacingAndGlyphs" fill="#26201d" stroke="#F8E8D1" stroke-width="0.55">ABS Keycap</text>
<text x="886" y="381.5" font-family="'Liberation Sans', sans-serif" font-size="28" textLength="218" lengthAdjust="spacingAndGlyphs" fill="#26201d" stroke="#F8E8D1" stroke-width="0.55">Mechanical Switch</text>
<text x="886" y="468" font-family="'Liberation Sans', sans-serif" font-size="28" textLength="149" lengthAdjust="spacingAndGlyphs" fill="#26201d" stroke="#F8E8D1" stroke-width="0.55">Upper Cover</text>
<text x="886" y="547.5" font-family="'Liberation Sans', sans-serif" font-size="28" textLength="250" lengthAdjust="spacingAndGlyphs" fill="#26201d" stroke="#F8E8D1" stroke-width="0.55">PC Positioning Board</text>
<text x="889" y="599.5" font-family="'Liberation Sans', sans-serif" font-size="28" textLength="111" lengthAdjust="spacingAndGlyphs" fill="#26201d" stroke="#F8E8D1" stroke-width="0.55">Sandwich</text>
<text x="889" y="625" font-family="'Liberation Sans', sans-serif" font-size="28" textLength="267" lengthAdjust="spacingAndGlyphs" fill="#26201d" stroke="#F8E8D1" stroke-width="0.55">Soundproofing Cotton</text>
<text x="887.5" y="679" font-family="'Liberation Sans', sans-serif" font-size="28" textLength="204" lengthAdjust="spacingAndGlyphs" fill="#26201d" stroke="#F8E8D1" stroke-width="0.55">Switch Underpad</text>
<text x="887" y="750.5" font-family="'Liberation Sans', sans-serif" font-size="28" textLength="125.5" lengthAdjust="spacingAndGlyphs" fill="#26201d" stroke="#F8E8D1" stroke-width="0.55">PCB Board</text>
<text x="888" y="831.5" font-family="'Liberation Sans', sans-serif" font-size="28" textLength="264.5" lengthAdjust="spacingAndGlyphs" fill="#26201d" stroke="#F8E8D1" stroke-width="0.55">Soundproof Substrate</text>
<text x="887" y="916.5" font-family="'Liberation Sans', sans-serif" font-size="30" textLength="165.5" lengthAdjust="spacingAndGlyphs" fill="#26201d" stroke="#F8E8D1" stroke-width="0.55">Lower Cover</text>
</svg>
</body></html>
